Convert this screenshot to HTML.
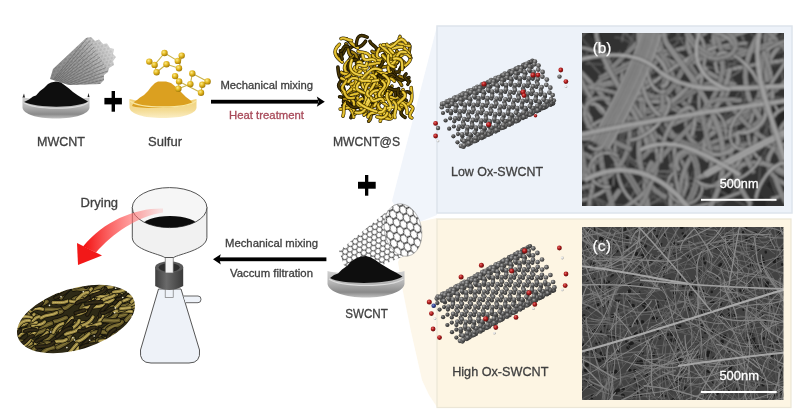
<!DOCTYPE html>
<html><head><meta charset="utf-8"><style>
html,body{margin:0;padding:0;background:#fff;width:800px;height:415px;overflow:hidden}
svg{display:block}
svg text{-webkit-font-smoothing:antialiased}
text{font-family:"Liberation Sans",sans-serif}
</style></head><body>
<svg width="800" height="415" viewBox="0 0 800 415">
<polygon points="437,26 437,215 419,222 400,214 392,201" fill="#f1f5fb"/>
<polygon points="419,222 437,218 437,407 429,395 422,380 410.7,330 402.7,290 398,262" fill="#fdf7ea"/>
<rect x="437" y="26" width="355" height="187" fill="#edf2f9" stroke="#dde4ec" stroke-width="1.5"/>
<rect x="437" y="219" width="354" height="188.5" fill="#fdf5e3" stroke="#ece6d6" stroke-width="1.2"/>
<defs><radialGradient id="gA" cx="0.38" cy="0.35" r="0.7"><stop offset="0" stop-color="#b0b0b0"/><stop offset="0.45" stop-color="#666"/><stop offset="1" stop-color="#2c2c2c"/></radialGradient>
<radialGradient id="gB" cx="0.38" cy="0.35" r="0.7"><stop offset="0" stop-color="#888"/><stop offset="0.45" stop-color="#4e4e4e"/><stop offset="1" stop-color="#262626"/></radialGradient>
<radialGradient id="gR" cx="0.38" cy="0.35" r="0.7"><stop offset="0" stop-color="#e87070"/><stop offset="0.45" stop-color="#b01c1c"/><stop offset="1" stop-color="#5a0a0a"/></radialGradient>
<radialGradient id="gW" cx="0.38" cy="0.35" r="0.7"><stop offset="0" stop-color="#ffffff"/><stop offset="0.5" stop-color="#dcdcdc"/><stop offset="1" stop-color="#909090"/></radialGradient>
<radialGradient id="gN" cx="0.38" cy="0.35" r="0.7"><stop offset="0" stop-color="#8090d0"/><stop offset="0.5" stop-color="#304090"/><stop offset="1" stop-color="#101840"/></radialGradient></defs>
<circle cx="536.8" cy="81.8" r="2.12" fill="url(#gB)"/>
<circle cx="536.4" cy="87.0" r="2.12" fill="url(#gB)"/>
<circle cx="540.8" cy="89.8" r="2.12" fill="url(#gB)"/>
<circle cx="532.8" cy="78.8" r="2.12" fill="url(#gB)"/>
<circle cx="531.8" cy="89.2" r="2.12" fill="url(#gB)"/>
<circle cx="527.6" cy="86.2" r="2.12" fill="url(#gB)"/>
<circle cx="528.2" cy="81.0" r="2.12" fill="url(#gB)"/>
<circle cx="533.6" cy="73.9" r="2.12" fill="url(#gB)"/>
<circle cx="540.6" cy="94.6" r="2.12" fill="url(#gB)"/>
<circle cx="531.6" cy="94.2" r="2.12" fill="url(#gB)"/>
<circle cx="523.0" cy="88.4" r="2.12" fill="url(#gB)"/>
<circle cx="522.6" cy="93.5" r="2.12" fill="url(#gB)"/>
<circle cx="536.0" cy="96.8" r="2.12" fill="url(#gB)"/>
<circle cx="527.0" cy="96.4" r="2.12" fill="url(#gB)"/>
<circle cx="545.0" cy="96.7" r="2.12" fill="url(#gB)"/>
<circle cx="519.0" cy="85.4" r="2.12" fill="url(#gB)"/>
<circle cx="518.1" cy="95.7" r="2.12" fill="url(#gB)"/>
<circle cx="524.4" cy="78.2" r="2.12" fill="url(#gB)"/>
<circle cx="513.8" cy="92.8" r="2.12" fill="url(#gB)"/>
<circle cx="530.2" cy="71.3" r="2.12" fill="url(#gB)"/>
<circle cx="514.4" cy="87.6" r="2.12" fill="url(#gB)"/>
<circle cx="519.8" cy="80.4" r="2.12" fill="url(#gB)"/>
<circle cx="526.8" cy="101.1" r="2.12" fill="url(#gB)"/>
<circle cx="517.8" cy="100.8" r="2.12" fill="url(#gB)"/>
<circle cx="509.3" cy="95.0" r="2.12" fill="url(#gB)"/>
<circle cx="535.8" cy="101.1" r="2.12" fill="url(#gB)"/>
<circle cx="525.6" cy="73.5" r="2.12" fill="url(#gB)"/>
<circle cx="508.9" cy="100.1" r="2.12" fill="url(#gB)"/>
<circle cx="522.2" cy="103.3" r="2.12" fill="url(#gB)"/>
<circle cx="513.2" cy="103.0" r="2.12" fill="url(#gB)"/>
<circle cx="531.2" cy="103.3" r="2.12" fill="url(#gB)"/>
<circle cx="544.7" cy="100.6" r="2.12" fill="url(#gB)"/>
<circle cx="505.2" cy="92.0" r="2.12" fill="url(#gB)"/>
<circle cx="504.3" cy="102.3" r="2.12" fill="url(#gB)"/>
<circle cx="510.7" cy="84.8" r="2.12" fill="url(#gB)"/>
<circle cx="531.7" cy="67.1" r="2.12" fill="url(#gB)"/>
<circle cx="500.1" cy="99.4" r="2.12" fill="url(#gB)"/>
<circle cx="516.4" cy="77.9" r="2.12" fill="url(#gB)"/>
<circle cx="540.1" cy="102.8" r="2.12" fill="url(#gB)"/>
<circle cx="500.7" cy="94.2" r="2.12" fill="url(#gB)"/>
<circle cx="506.1" cy="87.0" r="2.12" fill="url(#gB)"/>
<circle cx="513.0" cy="107.7" r="2.12" fill="url(#gB)"/>
<circle cx="504.1" cy="107.4" r="2.12" fill="url(#gB)"/>
<circle cx="495.5" cy="101.5" r="2.12" fill="url(#gB)"/>
<circle cx="522.0" cy="107.7" r="2.12" fill="url(#gB)"/>
<circle cx="511.8" cy="80.1" r="2.12" fill="url(#gB)"/>
<circle cx="495.1" cy="106.7" r="2.12" fill="url(#gB)"/>
<circle cx="508.5" cy="109.9" r="2.12" fill="url(#gB)"/>
<circle cx="522.5" cy="71.5" r="2.12" fill="url(#gB)"/>
<circle cx="499.5" cy="109.5" r="2.12" fill="url(#gB)"/>
<circle cx="548.8" cy="101.7" r="2.12" fill="url(#gB)"/>
<circle cx="517.4" cy="109.9" r="2.12" fill="url(#gB)"/>
<circle cx="530.9" cy="107.2" r="2.12" fill="url(#gB)"/>
<circle cx="491.5" cy="98.6" r="2.12" fill="url(#gB)"/>
<circle cx="490.5" cy="108.9" r="2.12" fill="url(#gB)"/>
<circle cx="496.9" cy="91.4" r="2.12" fill="url(#gB)"/>
<circle cx="517.9" cy="73.7" r="2.12" fill="url(#gB)"/>
<circle cx="486.3" cy="105.9" r="2.12" fill="url(#gB)"/>
<circle cx="502.6" cy="84.5" r="2.12" fill="url(#gB)"/>
<circle cx="526.3" cy="109.4" r="2.12" fill="url(#gB)"/>
<circle cx="486.9" cy="100.8" r="2.12" fill="url(#gB)"/>
<circle cx="529.0" cy="65.5" r="2.12" fill="url(#gB)"/>
<circle cx="492.3" cy="93.6" r="2.12" fill="url(#gB)"/>
<circle cx="499.3" cy="114.3" r="2.12" fill="url(#gB)"/>
<circle cx="490.3" cy="113.9" r="2.12" fill="url(#gB)"/>
<circle cx="539.7" cy="106.1" r="2.12" fill="url(#gB)"/>
<circle cx="481.7" cy="108.1" r="2.12" fill="url(#gB)"/>
<circle cx="508.3" cy="114.3" r="2.12" fill="url(#gB)"/>
<circle cx="498.0" cy="86.7" r="2.12" fill="url(#gB)"/>
<circle cx="524.4" cy="67.7" r="2.12" fill="url(#gB)"/>
<circle cx="481.4" cy="113.3" r="2.12" fill="url(#gB)"/>
<circle cx="494.7" cy="116.5" r="2.12" fill="url(#gB)"/>
<circle cx="508.7" cy="78.0" r="2.12" fill="url(#gB)"/>
<circle cx="485.7" cy="116.1" r="2.12" fill="url(#gB)"/>
<circle cx="535.1" cy="108.2" r="2.12" fill="url(#gB)"/>
<circle cx="503.7" cy="116.5" r="2.12" fill="url(#gB)"/>
<circle cx="517.2" cy="113.8" r="2.12" fill="url(#gB)"/>
<circle cx="477.7" cy="105.2" r="2.12" fill="url(#gB)"/>
<circle cx="476.8" cy="115.5" r="2.12" fill="url(#gB)"/>
<circle cx="483.1" cy="98.0" r="2.12" fill="url(#gB)"/>
<circle cx="504.1" cy="80.2" r="2.12" fill="url(#gB)"/>
<circle cx="472.5" cy="112.5" r="2.12" fill="url(#gB)"/>
<circle cx="548.2" cy="104.2" r="2.12" fill="url(#gB)"/>
<circle cx="488.9" cy="91.1" r="2.12" fill="url(#gB)"/>
<circle cx="512.6" cy="116.0" r="2.12" fill="url(#gB)"/>
<circle cx="473.1" cy="107.4" r="2.12" fill="url(#gB)"/>
<circle cx="515.2" cy="72.1" r="2.12" fill="url(#gB)"/>
<circle cx="478.5" cy="100.2" r="2.12" fill="url(#gB)"/>
<circle cx="485.5" cy="120.9" r="2.12" fill="url(#gB)"/>
<circle cx="476.5" cy="120.5" r="2.12" fill="url(#gB)"/>
<circle cx="531.2" cy="62.4" r="2.12" fill="url(#gB)"/>
<circle cx="525.9" cy="112.6" r="2.12" fill="url(#gB)"/>
<circle cx="468.0" cy="114.7" r="2.12" fill="url(#gB)"/>
<circle cx="494.5" cy="120.9" r="2.12" fill="url(#gB)"/>
<circle cx="543.6" cy="106.4" r="2.12" fill="url(#gB)"/>
<circle cx="484.3" cy="93.3" r="2.12" fill="url(#gB)"/>
<circle cx="510.6" cy="74.3" r="2.12" fill="url(#gB)"/>
<circle cx="467.6" cy="119.9" r="2.12" fill="url(#gB)"/>
<circle cx="480.9" cy="123.1" r="2.12" fill="url(#gB)"/>
<circle cx="495.0" cy="84.6" r="2.12" fill="url(#gB)"/>
<circle cx="471.9" cy="122.7" r="2.12" fill="url(#gB)"/>
<circle cx="521.3" cy="114.8" r="2.12" fill="url(#gB)"/>
<circle cx="489.9" cy="123.1" r="2.12" fill="url(#gB)"/>
<circle cx="503.4" cy="120.4" r="2.12" fill="url(#gB)"/>
<circle cx="463.9" cy="111.8" r="2.12" fill="url(#gB)"/>
<circle cx="463.0" cy="122.1" r="2.12" fill="url(#gB)"/>
<circle cx="469.4" cy="104.6" r="2.12" fill="url(#gB)"/>
<circle cx="490.4" cy="86.8" r="2.12" fill="url(#gB)"/>
<circle cx="522.0" cy="66.8" r="2.12" fill="url(#gB)"/>
<circle cx="458.8" cy="119.1" r="2.12" fill="url(#gB)"/>
<circle cx="534.4" cy="110.8" r="2.12" fill="url(#gB)"/>
<circle cx="475.1" cy="97.7" r="2.12" fill="url(#gB)"/>
<circle cx="498.8" cy="122.6" r="2.12" fill="url(#gB)"/>
<circle cx="459.4" cy="114.0" r="2.12" fill="url(#gB)"/>
<circle cx="501.4" cy="78.7" r="2.12" fill="url(#gB)"/>
<circle cx="464.8" cy="106.8" r="2.12" fill="url(#gB)"/>
<circle cx="471.7" cy="127.5" r="2.12" fill="url(#gB)"/>
<circle cx="551.8" cy="103.9" r="2.12" fill="url(#gB)"/>
<circle cx="462.8" cy="127.1" r="2.12" fill="url(#gB)"/>
<circle cx="517.5" cy="69.0" r="2.12" fill="url(#gB)"/>
<circle cx="512.1" cy="119.2" r="2.12" fill="url(#gB)"/>
<circle cx="454.2" cy="121.3" r="2.12" fill="url(#gB)"/>
<circle cx="480.7" cy="127.5" r="2.12" fill="url(#gB)"/>
<circle cx="529.8" cy="113.0" r="2.12" fill="url(#gB)"/>
<circle cx="470.5" cy="99.9" r="2.12" fill="url(#gB)"/>
<circle cx="496.8" cy="80.9" r="2.12" fill="url(#gB)"/>
<circle cx="453.8" cy="126.5" r="2.12" fill="url(#gB)"/>
<circle cx="467.2" cy="129.7" r="2.12" fill="url(#gB)"/>
<circle cx="481.2" cy="91.2" r="2.12" fill="url(#gB)"/>
<circle cx="458.2" cy="129.3" r="2.12" fill="url(#gB)"/>
<circle cx="507.5" cy="121.4" r="2.12" fill="url(#gB)"/>
<circle cx="529.3" cy="62.2" r="2.12" fill="url(#gB)"/>
<circle cx="476.1" cy="129.7" r="2.12" fill="url(#gB)"/>
<circle cx="489.6" cy="126.9" r="2.12" fill="url(#gB)"/>
<circle cx="450.2" cy="118.3" r="2.12" fill="url(#gB)"/>
<circle cx="449.2" cy="128.7" r="2.12" fill="url(#gB)"/>
<circle cx="455.6" cy="111.2" r="2.12" fill="url(#gB)"/>
<circle cx="542.6" cy="108.3" r="2.12" fill="url(#gB)"/>
<circle cx="476.6" cy="93.4" r="2.12" fill="url(#gB)"/>
<circle cx="508.3" cy="73.4" r="2.12" fill="url(#gB)"/>
<circle cx="524.7" cy="64.4" r="2.12" fill="url(#gB)"/>
<circle cx="520.6" cy="117.4" r="2.12" fill="url(#gB)"/>
<circle cx="461.3" cy="104.3" r="2.12" fill="url(#gB)"/>
<circle cx="485.0" cy="129.1" r="2.12" fill="url(#gB)"/>
<circle cx="445.6" cy="120.5" r="2.12" fill="url(#gB)"/>
<circle cx="487.7" cy="85.3" r="2.12" fill="url(#gB)"/>
<circle cx="451.0" cy="113.4" r="2.12" fill="url(#gB)"/>
<circle cx="458.0" cy="134.1" r="2.12" fill="url(#gB)"/>
<circle cx="538.0" cy="110.5" r="2.12" fill="url(#gB)"/>
<circle cx="503.7" cy="75.6" r="2.12" fill="url(#gB)"/>
<circle cx="498.4" cy="125.8" r="2.12" fill="url(#gB)"/>
<circle cx="467.0" cy="134.1" r="2.12" fill="url(#gB)"/>
<circle cx="516.0" cy="119.6" r="2.12" fill="url(#gB)"/>
<circle cx="456.7" cy="106.5" r="2.12" fill="url(#gB)"/>
<circle cx="483.1" cy="87.5" r="2.12" fill="url(#gB)"/>
<circle cx="453.4" cy="136.3" r="2.12" fill="url(#gB)"/>
<circle cx="467.4" cy="97.8" r="2.12" fill="url(#gB)"/>
<circle cx="493.8" cy="128.0" r="2.12" fill="url(#gB)"/>
<circle cx="515.5" cy="68.7" r="2.12" fill="url(#gB)"/>
<circle cx="462.4" cy="136.2" r="2.12" fill="url(#gB)"/>
<circle cx="550.5" cy="105.0" r="2.12" fill="url(#gB)"/>
<circle cx="475.9" cy="133.5" r="2.12" fill="url(#gB)"/>
<circle cx="528.9" cy="114.9" r="2.12" fill="url(#gB)"/>
<circle cx="462.8" cy="100.0" r="2.12" fill="url(#gB)"/>
<circle cx="494.5" cy="80.0" r="2.12" fill="url(#gB)"/>
<circle cx="532.4" cy="60.5" r="2.12" fill="url(#gB)"/>
<circle cx="510.9" cy="70.9" r="2.12" fill="url(#gB)"/>
<circle cx="545.9" cy="107.1" r="2.12" fill="url(#gB)"/>
<circle cx="506.9" cy="124.0" r="2.12" fill="url(#gB)"/>
<circle cx="447.6" cy="110.8" r="2.12" fill="url(#gB)"/>
<circle cx="471.3" cy="135.7" r="2.12" fill="url(#gB)"/>
<circle cx="473.9" cy="91.9" r="2.12" fill="url(#gB)"/>
<circle cx="524.3" cy="117.0" r="2.12" fill="url(#gB)"/>
<circle cx="553.2" cy="103.6" r="2.12" fill="url(#gB)"/>
<circle cx="489.9" cy="82.1" r="2.12" fill="url(#gB)"/>
<circle cx="484.6" cy="132.4" r="2.12" fill="url(#gB)"/>
<circle cx="502.3" cy="126.2" r="2.12" fill="url(#gB)"/>
<circle cx="443.0" cy="113.0" r="2.12" fill="url(#gB)"/>
<circle cx="469.3" cy="94.0" r="2.12" fill="url(#gB)"/>
<circle cx="453.7" cy="104.4" r="2.12" fill="url(#gB)"/>
<circle cx="523.2" cy="64.9" r="2.12" fill="url(#gB)"/>
<circle cx="480.0" cy="134.6" r="2.12" fill="url(#gB)"/>
<circle cx="501.8" cy="75.3" r="2.12" fill="url(#gB)"/>
<circle cx="536.8" cy="111.5" r="2.12" fill="url(#gB)"/>
<circle cx="462.1" cy="140.1" r="2.12" fill="url(#gB)"/>
<circle cx="515.1" cy="121.4" r="2.12" fill="url(#gB)"/>
<circle cx="449.1" cy="106.6" r="2.12" fill="url(#gB)"/>
<circle cx="544.0" cy="108.0" r="2.12" fill="url(#gB)"/>
<circle cx="480.8" cy="86.5" r="2.12" fill="url(#gB)"/>
<circle cx="518.6" cy="67.1" r="2.12" fill="url(#gB)"/>
<circle cx="497.2" cy="77.5" r="2.12" fill="url(#gB)"/>
<circle cx="532.2" cy="113.7" r="2.12" fill="url(#gB)"/>
<circle cx="493.1" cy="130.6" r="2.12" fill="url(#gB)"/>
<circle cx="457.5" cy="142.3" r="2.12" fill="url(#gB)"/>
<circle cx="460.1" cy="98.4" r="2.12" fill="url(#gB)"/>
<circle cx="510.5" cy="123.6" r="2.12" fill="url(#gB)"/>
<circle cx="539.4" cy="110.2" r="2.12" fill="url(#gB)"/>
<circle cx="476.2" cy="88.7" r="2.12" fill="url(#gB)"/>
<circle cx="470.8" cy="139.0" r="2.12" fill="url(#gB)"/>
<circle cx="488.5" cy="132.8" r="2.12" fill="url(#gB)"/>
<circle cx="531.2" cy="61.7" r="2.12" fill="url(#gB)"/>
<circle cx="455.5" cy="100.6" r="2.12" fill="url(#gB)"/>
<circle cx="509.4" cy="71.4" r="2.12" fill="url(#gB)"/>
<circle cx="466.2" cy="141.2" r="2.12" fill="url(#gB)"/>
<circle cx="551.4" cy="103.5" r="2.12" fill="url(#gB)"/>
<circle cx="488.0" cy="81.9" r="2.12" fill="url(#gB)"/>
<circle cx="523.0" cy="118.1" r="2.12" fill="url(#gB)"/>
<circle cx="526.6" cy="63.9" r="2.35" fill="url(#gA)"/>
<circle cx="501.3" cy="128.0" r="2.35" fill="url(#gA)"/>
<circle cx="530.3" cy="114.5" r="2.35" fill="url(#gA)"/>
<circle cx="467.0" cy="93.1" r="2.35" fill="url(#gA)"/>
<circle cx="504.8" cy="73.6" r="2.35" fill="url(#gA)"/>
<circle cx="546.8" cy="105.7" r="2.35" fill="url(#gA)"/>
<circle cx="483.4" cy="84.1" r="2.35" fill="url(#gA)"/>
<circle cx="518.4" cy="120.3" r="2.35" fill="url(#gA)"/>
<circle cx="479.3" cy="137.2" r="2.35" fill="url(#gA)"/>
<circle cx="446.4" cy="105.0" r="2.35" fill="url(#gA)"/>
<circle cx="496.7" cy="130.2" r="2.35" fill="url(#gA)"/>
<circle cx="525.7" cy="116.7" r="2.35" fill="url(#gA)"/>
<circle cx="462.4" cy="95.3" r="2.35" fill="url(#gA)"/>
<circle cx="474.8" cy="139.3" r="2.35" fill="url(#gA)"/>
<circle cx="517.4" cy="68.3" r="2.35" fill="url(#gA)"/>
<circle cx="441.8" cy="107.2" r="2.35" fill="url(#gA)"/>
<circle cx="534.9" cy="61.6" r="2.35" fill="url(#gA)"/>
<circle cx="495.6" cy="78.0" r="2.35" fill="url(#gA)"/>
<circle cx="537.6" cy="110.1" r="2.35" fill="url(#gA)"/>
<circle cx="474.2" cy="88.5" r="2.35" fill="url(#gA)"/>
<circle cx="509.2" cy="124.7" r="2.35" fill="url(#gA)"/>
<circle cx="512.8" cy="70.5" r="2.35" fill="url(#gA)"/>
<circle cx="553.8" cy="100.6" r="2.35" fill="url(#gA)"/>
<circle cx="487.6" cy="134.6" r="2.35" fill="url(#gA)"/>
<circle cx="516.5" cy="121.1" r="2.35" fill="url(#gA)"/>
<circle cx="453.2" cy="99.7" r="2.35" fill="url(#gA)"/>
<circle cx="491.1" cy="80.2" r="2.35" fill="url(#gA)"/>
<circle cx="533.0" cy="112.3" r="2.35" fill="url(#gA)"/>
<circle cx="469.7" cy="90.7" r="2.35" fill="url(#gA)"/>
<circle cx="504.7" cy="126.9" r="2.35" fill="url(#gA)"/>
<circle cx="465.6" cy="143.7" r="2.35" fill="url(#gA)"/>
<circle cx="525.7" cy="66.0" r="2.35" fill="url(#gA)"/>
<circle cx="483.0" cy="136.8" r="2.35" fill="url(#gA)"/>
<circle cx="511.9" cy="123.3" r="2.35" fill="url(#gA)"/>
<circle cx="448.6" cy="101.9" r="2.35" fill="url(#gA)"/>
<circle cx="461.0" cy="145.9" r="2.35" fill="url(#gA)"/>
<circle cx="503.6" cy="74.9" r="2.35" fill="url(#gA)"/>
<circle cx="544.6" cy="105.0" r="2.35" fill="url(#gA)"/>
<circle cx="521.1" cy="68.2" r="2.35" fill="url(#gA)"/>
<circle cx="481.9" cy="84.6" r="2.35" fill="url(#gA)"/>
<circle cx="523.8" cy="116.7" r="2.35" fill="url(#gA)"/>
<circle cx="460.5" cy="95.1" r="2.35" fill="url(#gA)"/>
<circle cx="495.5" cy="131.3" r="2.35" fill="url(#gA)"/>
<circle cx="499.0" cy="77.1" r="2.35" fill="url(#gA)"/>
<circle cx="540.0" cy="107.2" r="2.35" fill="url(#gA)"/>
<circle cx="473.8" cy="141.2" r="2.35" fill="url(#gA)"/>
<circle cx="534.3" cy="64.3" r="2.35" fill="url(#gA)"/>
<circle cx="502.7" cy="127.7" r="2.35" fill="url(#gA)"/>
<circle cx="477.3" cy="86.8" r="2.35" fill="url(#gA)"/>
<circle cx="519.3" cy="118.9" r="2.35" fill="url(#gA)"/>
<circle cx="455.9" cy="97.3" r="2.35" fill="url(#gA)"/>
<circle cx="490.9" cy="133.5" r="2.35" fill="url(#gA)"/>
<circle cx="551.1" cy="99.2" r="2.35" fill="url(#gA)"/>
<circle cx="511.9" cy="72.6" r="2.35" fill="url(#gA)"/>
<circle cx="469.2" cy="143.4" r="2.35" fill="url(#gA)"/>
<circle cx="529.7" cy="66.5" r="2.35" fill="url(#gA)"/>
<circle cx="498.1" cy="129.9" r="2.35" fill="url(#gA)"/>
<circle cx="489.9" cy="81.5" r="2.35" fill="url(#gA)"/>
<circle cx="546.6" cy="101.4" r="2.35" fill="url(#gA)"/>
<circle cx="530.8" cy="111.5" r="2.35" fill="url(#gA)"/>
<circle cx="507.4" cy="74.8" r="2.35" fill="url(#gA)"/>
<circle cx="468.1" cy="91.2" r="2.35" fill="url(#gA)"/>
<circle cx="510.1" cy="123.3" r="2.35" fill="url(#gA)"/>
<circle cx="446.7" cy="101.7" r="2.35" fill="url(#gA)"/>
<circle cx="481.7" cy="137.9" r="2.35" fill="url(#gA)"/>
<circle cx="538.5" cy="65.6" r="2.35" fill="url(#gA)"/>
<circle cx="485.3" cy="83.7" r="2.35" fill="url(#gA)"/>
<circle cx="526.2" cy="113.7" r="2.35" fill="url(#gA)"/>
<circle cx="520.5" cy="70.9" r="2.35" fill="url(#gA)"/>
<circle cx="489.0" cy="134.3" r="2.35" fill="url(#gA)"/>
<circle cx="463.5" cy="93.4" r="2.35" fill="url(#gA)"/>
<circle cx="552.7" cy="95.0" r="2.35" fill="url(#gA)"/>
<circle cx="505.5" cy="125.5" r="2.35" fill="url(#gA)"/>
<circle cx="442.1" cy="103.9" r="2.35" fill="url(#gA)"/>
<circle cx="477.1" cy="140.1" r="2.35" fill="url(#gA)"/>
<circle cx="537.4" cy="105.8" r="2.35" fill="url(#gA)"/>
<circle cx="498.2" cy="79.1" r="2.35" fill="url(#gA)"/>
<circle cx="515.9" cy="73.1" r="2.35" fill="url(#gA)"/>
<circle cx="484.4" cy="136.5" r="2.35" fill="url(#gA)"/>
<circle cx="529.3" cy="70.0" r="2.35" fill="url(#gA)"/>
<circle cx="476.1" cy="88.1" r="2.35" fill="url(#gA)"/>
<circle cx="532.8" cy="108.0" r="2.35" fill="url(#gA)"/>
<circle cx="517.0" cy="118.1" r="2.35" fill="url(#gA)"/>
<circle cx="493.6" cy="81.3" r="2.35" fill="url(#gA)"/>
<circle cx="454.3" cy="97.8" r="2.35" fill="url(#gA)"/>
<circle cx="543.6" cy="99.4" r="2.35" fill="url(#gA)"/>
<circle cx="496.3" cy="129.9" r="2.35" fill="url(#gA)"/>
<circle cx="467.9" cy="144.5" r="2.35" fill="url(#gA)"/>
<circle cx="524.7" cy="72.1" r="2.35" fill="url(#gA)"/>
<circle cx="471.5" cy="90.3" r="2.35" fill="url(#gA)"/>
<circle cx="538.2" cy="69.6" r="2.35" fill="url(#gA)"/>
<circle cx="512.5" cy="120.3" r="2.35" fill="url(#gA)"/>
<circle cx="506.8" cy="77.5" r="2.35" fill="url(#gA)"/>
<circle cx="475.2" cy="140.9" r="2.35" fill="url(#gA)"/>
<circle cx="449.8" cy="100.0" r="2.35" fill="url(#gA)"/>
<circle cx="549.4" cy="92.6" r="2.35" fill="url(#gA)"/>
<circle cx="539.0" cy="101.6" r="2.35" fill="url(#gA)"/>
<circle cx="491.7" cy="132.1" r="2.35" fill="url(#gA)"/>
<circle cx="463.4" cy="146.7" r="2.35" fill="url(#gA)"/>
<circle cx="533.6" cy="71.8" r="2.35" fill="url(#gA)"/>
<circle cx="523.6" cy="112.3" r="2.35" fill="url(#gA)"/>
<circle cx="484.4" cy="85.7" r="2.35" fill="url(#gA)"/>
<circle cx="502.2" cy="79.7" r="2.35" fill="url(#gA)"/>
<circle cx="470.6" cy="143.1" r="2.35" fill="url(#gA)"/>
<circle cx="542.6" cy="71.9" r="2.35" fill="url(#gA)"/>
<circle cx="544.8" cy="94.8" r="2.35" fill="url(#gA)"/>
<circle cx="550.3" cy="87.7" r="2.35" fill="url(#gA)"/>
<circle cx="515.5" cy="76.5" r="2.35" fill="url(#gA)"/>
<circle cx="462.3" cy="94.7" r="2.35" fill="url(#gA)"/>
<circle cx="519.0" cy="114.5" r="2.35" fill="url(#gA)"/>
<circle cx="503.3" cy="124.7" r="2.35" fill="url(#gA)"/>
<circle cx="479.8" cy="87.9" r="2.35" fill="url(#gA)"/>
<circle cx="529.8" cy="106.0" r="2.35" fill="url(#gA)"/>
<circle cx="482.5" cy="136.4" r="2.35" fill="url(#gA)"/>
<circle cx="510.9" cy="78.7" r="2.35" fill="url(#gA)"/>
<circle cx="457.7" cy="96.9" r="2.35" fill="url(#gA)"/>
<circle cx="524.5" cy="76.1" r="2.35" fill="url(#gA)"/>
<circle cx="546.8" cy="79.6" r="2.35" fill="url(#gA)"/>
<circle cx="542.4" cy="76.7" r="2.35" fill="url(#gA)"/>
<circle cx="498.7" cy="126.9" r="2.35" fill="url(#gA)"/>
<circle cx="546.3" cy="84.8" r="2.35" fill="url(#gA)"/>
<circle cx="493.0" cy="84.1" r="2.35" fill="url(#gA)"/>
<circle cx="533.5" cy="76.2" r="2.35" fill="url(#gA)"/>
<circle cx="535.6" cy="99.2" r="2.35" fill="url(#gA)"/>
<circle cx="525.2" cy="108.2" r="2.35" fill="url(#gA)"/>
<circle cx="541.1" cy="92.1" r="2.35" fill="url(#gA)"/>
<circle cx="478.0" cy="138.6" r="2.35" fill="url(#gA)"/>
<circle cx="519.9" cy="78.3" r="2.35" fill="url(#gA)"/>
<circle cx="509.8" cy="118.9" r="2.35" fill="url(#gA)"/>
<circle cx="537.8" cy="78.9" r="2.35" fill="url(#gA)"/>
<circle cx="541.7" cy="87.0" r="2.35" fill="url(#gA)"/>
<circle cx="470.6" cy="92.3" r="2.35" fill="url(#gA)"/>
<circle cx="488.4" cy="86.3" r="2.35" fill="url(#gA)"/>
<circle cx="528.9" cy="78.4" r="2.35" fill="url(#gA)"/>
<circle cx="531.0" cy="101.4" r="2.35" fill="url(#gA)"/>
<circle cx="536.5" cy="94.3" r="2.35" fill="url(#gA)"/>
<circle cx="501.8" cy="83.1" r="2.35" fill="url(#gA)"/>
<circle cx="448.6" cy="101.3" r="2.35" fill="url(#gA)"/>
<circle cx="537.6" cy="84.0" r="2.35" fill="url(#gA)"/>
<circle cx="505.3" cy="121.1" r="2.35" fill="url(#gA)"/>
<circle cx="489.5" cy="131.3" r="2.35" fill="url(#gA)"/>
<circle cx="466.1" cy="94.5" r="2.35" fill="url(#gA)"/>
<circle cx="516.0" cy="112.6" r="2.35" fill="url(#gA)"/>
<circle cx="468.8" cy="143.0" r="2.35" fill="url(#gA)"/>
<circle cx="497.2" cy="85.3" r="2.35" fill="url(#gA)"/>
<circle cx="444.0" cy="103.4" r="2.35" fill="url(#gA)"/>
<circle cx="510.7" cy="82.7" r="2.35" fill="url(#gA)"/>
<circle cx="533.0" cy="86.2" r="2.35" fill="url(#gA)"/>
<circle cx="528.7" cy="83.3" r="2.35" fill="url(#gA)"/>
<circle cx="484.9" cy="133.5" r="2.35" fill="url(#gA)"/>
<circle cx="532.6" cy="91.3" r="2.35" fill="url(#gA)"/>
<circle cx="479.2" cy="90.7" r="2.35" fill="url(#gA)"/>
<circle cx="519.7" cy="82.8" r="2.35" fill="url(#gA)"/>
<circle cx="521.8" cy="105.8" r="2.35" fill="url(#gA)"/>
<circle cx="511.4" cy="114.8" r="2.35" fill="url(#gA)"/>
<circle cx="527.3" cy="98.7" r="2.35" fill="url(#gA)"/>
<circle cx="464.2" cy="145.2" r="2.35" fill="url(#gA)"/>
<circle cx="506.1" cy="84.9" r="2.35" fill="url(#gA)"/>
<circle cx="496.1" cy="125.5" r="2.35" fill="url(#gA)"/>
<circle cx="524.1" cy="85.5" r="2.35" fill="url(#gA)"/>
<circle cx="528.0" cy="93.5" r="2.35" fill="url(#gA)"/>
<circle cx="456.9" cy="98.9" r="2.35" fill="url(#gA)"/>
<circle cx="474.6" cy="92.9" r="2.35" fill="url(#gA)"/>
<circle cx="515.1" cy="85.0" r="2.35" fill="url(#gA)"/>
<circle cx="517.3" cy="108.0" r="2.35" fill="url(#gA)"/>
<circle cx="522.8" cy="100.9" r="2.35" fill="url(#gA)"/>
<circle cx="488.0" cy="89.7" r="2.35" fill="url(#gA)"/>
<circle cx="523.8" cy="90.6" r="2.35" fill="url(#gA)"/>
<circle cx="491.5" cy="127.7" r="2.35" fill="url(#gA)"/>
<circle cx="475.7" cy="137.9" r="2.35" fill="url(#gA)"/>
<circle cx="452.3" cy="101.1" r="2.35" fill="url(#gA)"/>
<circle cx="502.3" cy="119.2" r="2.35" fill="url(#gA)"/>
<circle cx="483.4" cy="91.9" r="2.35" fill="url(#gA)"/>
<circle cx="496.9" cy="89.3" r="2.35" fill="url(#gA)"/>
<circle cx="519.2" cy="92.8" r="2.35" fill="url(#gA)"/>
<circle cx="514.9" cy="89.9" r="2.35" fill="url(#gA)"/>
<circle cx="471.2" cy="140.1" r="2.35" fill="url(#gA)"/>
<circle cx="518.8" cy="97.9" r="2.35" fill="url(#gA)"/>
<circle cx="465.5" cy="97.3" r="2.35" fill="url(#gA)"/>
<circle cx="505.9" cy="89.4" r="2.35" fill="url(#gA)"/>
<circle cx="508.1" cy="112.4" r="2.35" fill="url(#gA)"/>
<circle cx="497.7" cy="121.4" r="2.35" fill="url(#gA)"/>
<circle cx="513.6" cy="105.2" r="2.35" fill="url(#gA)"/>
<circle cx="492.3" cy="91.5" r="2.35" fill="url(#gA)"/>
<circle cx="482.3" cy="132.1" r="2.35" fill="url(#gA)"/>
<circle cx="510.3" cy="92.1" r="2.35" fill="url(#gA)"/>
<circle cx="514.2" cy="100.1" r="2.35" fill="url(#gA)"/>
<circle cx="460.9" cy="99.4" r="2.35" fill="url(#gA)"/>
<circle cx="501.3" cy="91.6" r="2.35" fill="url(#gA)"/>
<circle cx="503.5" cy="114.6" r="2.35" fill="url(#gA)"/>
<circle cx="509.0" cy="107.4" r="2.35" fill="url(#gA)"/>
<circle cx="474.2" cy="96.3" r="2.35" fill="url(#gA)"/>
<circle cx="510.0" cy="97.1" r="2.35" fill="url(#gA)"/>
<circle cx="477.7" cy="134.3" r="2.35" fill="url(#gA)"/>
<circle cx="488.5" cy="125.7" r="2.35" fill="url(#gA)"/>
<circle cx="469.7" cy="98.5" r="2.35" fill="url(#gA)"/>
<circle cx="483.2" cy="95.9" r="2.35" fill="url(#gA)"/>
<circle cx="505.5" cy="99.3" r="2.35" fill="url(#gA)"/>
<circle cx="501.1" cy="96.5" r="2.35" fill="url(#gA)"/>
<circle cx="505.0" cy="104.5" r="2.35" fill="url(#gA)"/>
<circle cx="451.7" cy="103.8" r="2.35" fill="url(#gA)"/>
<circle cx="492.2" cy="96.0" r="2.35" fill="url(#gA)"/>
<circle cx="494.3" cy="119.0" r="2.35" fill="url(#gA)"/>
<circle cx="483.9" cy="127.9" r="2.35" fill="url(#gA)"/>
<circle cx="499.8" cy="111.8" r="2.35" fill="url(#gA)"/>
<circle cx="478.6" cy="98.1" r="2.35" fill="url(#gA)"/>
<circle cx="468.5" cy="138.7" r="2.35" fill="url(#gA)"/>
<circle cx="496.6" cy="98.6" r="2.35" fill="url(#gA)"/>
<circle cx="500.5" cy="106.7" r="2.35" fill="url(#gA)"/>
<circle cx="447.1" cy="106.0" r="2.35" fill="url(#gA)"/>
<circle cx="487.6" cy="98.2" r="2.35" fill="url(#gA)"/>
<circle cx="489.7" cy="121.1" r="2.35" fill="url(#gA)"/>
<circle cx="495.2" cy="114.0" r="2.35" fill="url(#gA)"/>
<circle cx="460.5" cy="102.9" r="2.35" fill="url(#gA)"/>
<circle cx="496.3" cy="103.7" r="2.35" fill="url(#gA)"/>
<circle cx="464.0" cy="140.9" r="2.35" fill="url(#gA)"/>
<circle cx="474.7" cy="132.3" r="2.35" fill="url(#gA)"/>
<circle cx="455.9" cy="105.1" r="2.35" fill="url(#gA)"/>
<circle cx="469.4" cy="102.5" r="2.35" fill="url(#gA)"/>
<circle cx="491.7" cy="105.9" r="2.35" fill="url(#gA)"/>
<circle cx="487.4" cy="103.0" r="2.35" fill="url(#gA)"/>
<circle cx="491.3" cy="111.1" r="2.35" fill="url(#gA)"/>
<circle cx="478.4" cy="102.6" r="2.35" fill="url(#gA)"/>
<circle cx="480.5" cy="125.5" r="2.35" fill="url(#gA)"/>
<circle cx="470.1" cy="134.5" r="2.35" fill="url(#gA)"/>
<circle cx="486.0" cy="118.4" r="2.35" fill="url(#gA)"/>
<circle cx="464.8" cy="104.7" r="2.35" fill="url(#gA)"/>
<circle cx="482.8" cy="105.2" r="2.35" fill="url(#gA)"/>
<circle cx="486.7" cy="113.3" r="2.35" fill="url(#gA)"/>
<circle cx="473.8" cy="104.8" r="2.35" fill="url(#gA)"/>
<circle cx="476.0" cy="127.7" r="2.35" fill="url(#gA)"/>
<circle cx="481.5" cy="120.6" r="2.35" fill="url(#gA)"/>
<circle cx="482.5" cy="110.3" r="2.35" fill="url(#gA)"/>
<circle cx="455.6" cy="109.1" r="2.35" fill="url(#gA)"/>
<circle cx="477.9" cy="112.5" r="2.35" fill="url(#gA)"/>
<circle cx="473.6" cy="109.6" r="2.35" fill="url(#gA)"/>
<circle cx="477.5" cy="117.7" r="2.35" fill="url(#gA)"/>
<circle cx="464.6" cy="109.2" r="2.35" fill="url(#gA)"/>
<circle cx="466.8" cy="132.1" r="2.35" fill="url(#gA)"/>
<circle cx="472.3" cy="125.0" r="2.35" fill="url(#gA)"/>
<circle cx="451.0" cy="111.3" r="2.35" fill="url(#gA)"/>
<circle cx="469.0" cy="111.8" r="2.35" fill="url(#gA)"/>
<circle cx="472.9" cy="119.9" r="2.35" fill="url(#gA)"/>
<circle cx="460.0" cy="111.4" r="2.35" fill="url(#gA)"/>
<circle cx="462.2" cy="134.3" r="2.35" fill="url(#gA)"/>
<circle cx="467.7" cy="127.2" r="2.35" fill="url(#gA)"/>
<circle cx="468.8" cy="116.9" r="2.35" fill="url(#gA)"/>
<circle cx="464.2" cy="119.1" r="2.35" fill="url(#gA)"/>
<circle cx="459.8" cy="116.2" r="2.35" fill="url(#gA)"/>
<circle cx="463.7" cy="124.3" r="2.35" fill="url(#gA)"/>
<circle cx="455.3" cy="118.4" r="2.35" fill="url(#gA)"/>
<circle cx="459.2" cy="126.5" r="2.35" fill="url(#gA)"/>
<circle cx="438" cy="128" r="2.2" fill="url(#gA)"/>
<circle cx="435.6" cy="123.4" r="2.4" fill="url(#gR)"/>
<circle cx="435.6" cy="136" r="2.4" fill="url(#gR)"/>
<circle cx="438" cy="141" r="1.3" fill="url(#gW)"/>
<circle cx="484" cy="84" r="2.6" fill="url(#gR)"/>
<circle cx="533" cy="75" r="2.6" fill="url(#gR)"/>
<circle cx="538" cy="75" r="2.4" fill="url(#gR)"/>
<circle cx="523" cy="92" r="2.6" fill="url(#gR)"/>
<circle cx="524" cy="95.5" r="2.4" fill="url(#gR)"/>
<circle cx="488.7" cy="124.6" r="2.6" fill="url(#gR)"/>
<circle cx="535.5" cy="115.8" r="1.8" fill="url(#gR)"/>
<circle cx="559.5" cy="76.6" r="2.2" fill="url(#gA)"/>
<circle cx="560.8" cy="70" r="2.4" fill="url(#gR)"/>
<circle cx="565.9" cy="81.6" r="2.4" fill="url(#gR)"/>
<circle cx="566" cy="86.7" r="1.3" fill="url(#gW)"/>
<circle cx="536.4" cy="270.6" r="2.12" fill="url(#gB)"/>
<circle cx="531.9" cy="273.1" r="2.12" fill="url(#gB)"/>
<circle cx="540.9" cy="278.2" r="2.12" fill="url(#gB)"/>
<circle cx="532.4" cy="262.8" r="2.12" fill="url(#gB)"/>
<circle cx="531.9" cy="278.2" r="2.12" fill="url(#gB)"/>
<circle cx="527.6" cy="270.4" r="2.12" fill="url(#gB)"/>
<circle cx="536.4" cy="280.7" r="2.12" fill="url(#gB)"/>
<circle cx="528.0" cy="265.2" r="2.12" fill="url(#gB)"/>
<circle cx="527.5" cy="280.7" r="2.12" fill="url(#gB)"/>
<circle cx="523.1" cy="272.8" r="2.12" fill="url(#gB)"/>
<circle cx="523.0" cy="278.0" r="2.12" fill="url(#gB)"/>
<circle cx="518.6" cy="280.5" r="2.12" fill="url(#gB)"/>
<circle cx="527.5" cy="285.6" r="2.12" fill="url(#gB)"/>
<circle cx="536.5" cy="285.3" r="2.12" fill="url(#gB)"/>
<circle cx="519.1" cy="270.2" r="2.12" fill="url(#gB)"/>
<circle cx="518.6" cy="285.6" r="2.12" fill="url(#gB)"/>
<circle cx="524.1" cy="262.7" r="2.12" fill="url(#gB)"/>
<circle cx="514.2" cy="277.8" r="2.12" fill="url(#gB)"/>
<circle cx="545.5" cy="284.6" r="2.12" fill="url(#gB)"/>
<circle cx="523.1" cy="288.1" r="2.12" fill="url(#gB)"/>
<circle cx="532.1" cy="287.8" r="2.12" fill="url(#gB)"/>
<circle cx="514.6" cy="272.6" r="2.12" fill="url(#gB)"/>
<circle cx="514.1" cy="288.1" r="2.12" fill="url(#gB)"/>
<circle cx="529.6" cy="255.6" r="2.12" fill="url(#gB)"/>
<circle cx="519.7" cy="265.2" r="2.12" fill="url(#gB)"/>
<circle cx="509.8" cy="280.2" r="2.12" fill="url(#gB)"/>
<circle cx="509.7" cy="285.4" r="2.12" fill="url(#gB)"/>
<circle cx="541.0" cy="287.1" r="2.12" fill="url(#gB)"/>
<circle cx="525.1" cy="258.1" r="2.12" fill="url(#gB)"/>
<circle cx="505.2" cy="287.9" r="2.12" fill="url(#gB)"/>
<circle cx="514.2" cy="293.0" r="2.12" fill="url(#gB)"/>
<circle cx="523.2" cy="292.7" r="2.12" fill="url(#gB)"/>
<circle cx="505.7" cy="277.6" r="2.12" fill="url(#gB)"/>
<circle cx="505.2" cy="293.0" r="2.12" fill="url(#gB)"/>
<circle cx="510.8" cy="270.1" r="2.12" fill="url(#gB)"/>
<circle cx="500.9" cy="285.2" r="2.12" fill="url(#gB)"/>
<circle cx="532.1" cy="292.0" r="2.12" fill="url(#gB)"/>
<circle cx="509.7" cy="295.5" r="2.12" fill="url(#gB)"/>
<circle cx="518.7" cy="295.2" r="2.12" fill="url(#gB)"/>
<circle cx="501.3" cy="280.0" r="2.12" fill="url(#gB)"/>
<circle cx="500.8" cy="295.5" r="2.12" fill="url(#gB)"/>
<circle cx="516.2" cy="263.0" r="2.12" fill="url(#gB)"/>
<circle cx="506.3" cy="272.6" r="2.12" fill="url(#gB)"/>
<circle cx="496.4" cy="287.6" r="2.12" fill="url(#gB)"/>
<circle cx="496.3" cy="292.8" r="2.12" fill="url(#gB)"/>
<circle cx="527.7" cy="294.5" r="2.12" fill="url(#gB)"/>
<circle cx="540.9" cy="290.8" r="2.12" fill="url(#gB)"/>
<circle cx="511.8" cy="265.5" r="2.12" fill="url(#gB)"/>
<circle cx="491.9" cy="295.3" r="2.12" fill="url(#gB)"/>
<circle cx="522.0" cy="256.3" r="2.12" fill="url(#gB)"/>
<circle cx="500.8" cy="300.4" r="2.12" fill="url(#gB)"/>
<circle cx="509.8" cy="300.1" r="2.12" fill="url(#gB)"/>
<circle cx="492.4" cy="285.0" r="2.12" fill="url(#gB)"/>
<circle cx="536.5" cy="293.3" r="2.12" fill="url(#gB)"/>
<circle cx="491.9" cy="300.4" r="2.12" fill="url(#gB)"/>
<circle cx="497.4" cy="277.5" r="2.12" fill="url(#gB)"/>
<circle cx="487.6" cy="292.6" r="2.12" fill="url(#gB)"/>
<circle cx="518.8" cy="299.4" r="2.12" fill="url(#gB)"/>
<circle cx="517.5" cy="258.7" r="2.12" fill="url(#gB)"/>
<circle cx="496.4" cy="302.9" r="2.12" fill="url(#gB)"/>
<circle cx="549.5" cy="289.0" r="2.12" fill="url(#gB)"/>
<circle cx="505.4" cy="302.6" r="2.12" fill="url(#gB)"/>
<circle cx="487.9" cy="287.4" r="2.12" fill="url(#gB)"/>
<circle cx="487.4" cy="302.9" r="2.12" fill="url(#gB)"/>
<circle cx="502.9" cy="270.4" r="2.12" fill="url(#gB)"/>
<circle cx="493.0" cy="280.0" r="2.12" fill="url(#gB)"/>
<circle cx="483.1" cy="295.0" r="2.12" fill="url(#gB)"/>
<circle cx="483.0" cy="300.2" r="2.12" fill="url(#gB)"/>
<circle cx="528.1" cy="250.0" r="2.12" fill="url(#gB)"/>
<circle cx="514.3" cy="301.9" r="2.12" fill="url(#gB)"/>
<circle cx="545.1" cy="291.5" r="2.12" fill="url(#gB)"/>
<circle cx="527.6" cy="298.2" r="2.12" fill="url(#gB)"/>
<circle cx="498.4" cy="272.9" r="2.12" fill="url(#gB)"/>
<circle cx="478.5" cy="302.7" r="2.12" fill="url(#gB)"/>
<circle cx="523.7" cy="252.5" r="2.12" fill="url(#gB)"/>
<circle cx="508.6" cy="263.7" r="2.12" fill="url(#gB)"/>
<circle cx="487.5" cy="307.8" r="2.12" fill="url(#gB)"/>
<circle cx="496.5" cy="307.5" r="2.12" fill="url(#gB)"/>
<circle cx="479.0" cy="292.3" r="2.12" fill="url(#gB)"/>
<circle cx="523.1" cy="300.7" r="2.12" fill="url(#gB)"/>
<circle cx="478.5" cy="307.8" r="2.12" fill="url(#gB)"/>
<circle cx="484.1" cy="284.9" r="2.12" fill="url(#gB)"/>
<circle cx="474.2" cy="299.9" r="2.12" fill="url(#gB)"/>
<circle cx="505.4" cy="306.8" r="2.12" fill="url(#gB)"/>
<circle cx="504.2" cy="266.1" r="2.12" fill="url(#gB)"/>
<circle cx="483.0" cy="310.3" r="2.12" fill="url(#gB)"/>
<circle cx="536.2" cy="296.4" r="2.12" fill="url(#gB)"/>
<circle cx="492.0" cy="310.0" r="2.12" fill="url(#gB)"/>
<circle cx="474.6" cy="294.8" r="2.12" fill="url(#gB)"/>
<circle cx="474.1" cy="310.3" r="2.12" fill="url(#gB)"/>
<circle cx="489.5" cy="277.8" r="2.12" fill="url(#gB)"/>
<circle cx="479.6" cy="287.4" r="2.12" fill="url(#gB)"/>
<circle cx="469.8" cy="302.4" r="2.12" fill="url(#gB)"/>
<circle cx="469.6" cy="307.6" r="2.12" fill="url(#gB)"/>
<circle cx="514.8" cy="257.4" r="2.12" fill="url(#gB)"/>
<circle cx="501.0" cy="309.3" r="2.12" fill="url(#gB)"/>
<circle cx="531.7" cy="298.9" r="2.12" fill="url(#gB)"/>
<circle cx="514.2" cy="305.6" r="2.12" fill="url(#gB)"/>
<circle cx="485.1" cy="280.3" r="2.12" fill="url(#gB)"/>
<circle cx="465.2" cy="310.1" r="2.12" fill="url(#gB)"/>
<circle cx="510.3" cy="259.9" r="2.12" fill="url(#gB)"/>
<circle cx="495.3" cy="271.1" r="2.12" fill="url(#gB)"/>
<circle cx="474.1" cy="315.2" r="2.12" fill="url(#gB)"/>
<circle cx="483.1" cy="314.9" r="2.12" fill="url(#gB)"/>
<circle cx="465.7" cy="299.7" r="2.12" fill="url(#gB)"/>
<circle cx="544.5" cy="294.0" r="2.12" fill="url(#gB)"/>
<circle cx="509.8" cy="308.1" r="2.12" fill="url(#gB)"/>
<circle cx="465.2" cy="315.2" r="2.12" fill="url(#gB)"/>
<circle cx="470.7" cy="292.3" r="2.12" fill="url(#gB)"/>
<circle cx="460.9" cy="307.3" r="2.12" fill="url(#gB)"/>
<circle cx="492.1" cy="314.2" r="2.12" fill="url(#gB)"/>
<circle cx="490.8" cy="273.5" r="2.12" fill="url(#gB)"/>
<circle cx="469.7" cy="317.7" r="2.12" fill="url(#gB)"/>
<circle cx="521.4" cy="251.8" r="2.12" fill="url(#gB)"/>
<circle cx="522.8" cy="303.8" r="2.12" fill="url(#gB)"/>
<circle cx="478.7" cy="317.4" r="2.12" fill="url(#gB)"/>
<circle cx="461.2" cy="302.2" r="2.12" fill="url(#gB)"/>
<circle cx="540.1" cy="296.5" r="2.12" fill="url(#gB)"/>
<circle cx="460.7" cy="317.7" r="2.12" fill="url(#gB)"/>
<circle cx="476.2" cy="285.2" r="2.12" fill="url(#gB)"/>
<circle cx="466.3" cy="294.8" r="2.12" fill="url(#gB)"/>
<circle cx="456.4" cy="309.8" r="2.12" fill="url(#gB)"/>
<circle cx="456.3" cy="315.0" r="2.12" fill="url(#gB)"/>
<circle cx="501.4" cy="264.8" r="2.12" fill="url(#gB)"/>
<circle cx="487.6" cy="316.7" r="2.12" fill="url(#gB)"/>
<circle cx="516.9" cy="254.2" r="2.12" fill="url(#gB)"/>
<circle cx="518.4" cy="306.3" r="2.12" fill="url(#gB)"/>
<circle cx="500.9" cy="313.0" r="2.12" fill="url(#gB)"/>
<circle cx="471.7" cy="287.6" r="2.12" fill="url(#gB)"/>
<circle cx="451.8" cy="317.5" r="2.12" fill="url(#gB)"/>
<circle cx="552.6" cy="290.9" r="2.12" fill="url(#gB)"/>
<circle cx="497.0" cy="267.3" r="2.12" fill="url(#gB)"/>
<circle cx="481.9" cy="278.5" r="2.12" fill="url(#gB)"/>
<circle cx="460.8" cy="322.6" r="2.12" fill="url(#gB)"/>
<circle cx="469.8" cy="322.3" r="2.12" fill="url(#gB)"/>
<circle cx="452.3" cy="307.1" r="2.12" fill="url(#gB)"/>
<circle cx="531.2" cy="301.4" r="2.12" fill="url(#gB)"/>
<circle cx="496.4" cy="315.5" r="2.12" fill="url(#gB)"/>
<circle cx="451.8" cy="322.6" r="2.12" fill="url(#gB)"/>
<circle cx="528.3" cy="246.8" r="2.12" fill="url(#gB)"/>
<circle cx="457.4" cy="299.7" r="2.12" fill="url(#gB)"/>
<circle cx="447.5" cy="314.7" r="2.12" fill="url(#gB)"/>
<circle cx="548.1" cy="293.4" r="2.12" fill="url(#gB)"/>
<circle cx="478.7" cy="321.6" r="2.12" fill="url(#gB)"/>
<circle cx="477.5" cy="280.9" r="2.12" fill="url(#gB)"/>
<circle cx="456.4" cy="325.1" r="2.12" fill="url(#gB)"/>
<circle cx="508.0" cy="259.2" r="2.12" fill="url(#gB)"/>
<circle cx="509.5" cy="311.2" r="2.12" fill="url(#gB)"/>
<circle cx="465.3" cy="324.8" r="2.12" fill="url(#gB)"/>
<circle cx="447.9" cy="309.6" r="2.12" fill="url(#gB)"/>
<circle cx="526.7" cy="303.9" r="2.12" fill="url(#gB)"/>
<circle cx="447.4" cy="325.0" r="2.12" fill="url(#gB)"/>
<circle cx="462.8" cy="292.6" r="2.12" fill="url(#gB)"/>
<circle cx="523.9" cy="249.2" r="2.12" fill="url(#gB)"/>
<circle cx="453.0" cy="302.2" r="2.12" fill="url(#gB)"/>
<circle cx="443.1" cy="317.2" r="2.12" fill="url(#gB)"/>
<circle cx="488.1" cy="272.2" r="2.12" fill="url(#gB)"/>
<circle cx="474.3" cy="324.1" r="2.12" fill="url(#gB)"/>
<circle cx="503.6" cy="261.6" r="2.12" fill="url(#gB)"/>
<circle cx="505.0" cy="313.7" r="2.12" fill="url(#gB)"/>
<circle cx="487.5" cy="320.4" r="2.12" fill="url(#gB)"/>
<circle cx="458.4" cy="295.0" r="2.12" fill="url(#gB)"/>
<circle cx="539.2" cy="298.3" r="2.12" fill="url(#gB)"/>
<circle cx="483.6" cy="274.7" r="2.12" fill="url(#gB)"/>
<circle cx="468.6" cy="285.8" r="2.12" fill="url(#gB)"/>
<circle cx="456.4" cy="329.7" r="2.12" fill="url(#gB)"/>
<circle cx="517.8" cy="308.8" r="2.12" fill="url(#gB)"/>
<circle cx="483.1" cy="322.9" r="2.12" fill="url(#gB)"/>
<circle cx="515.0" cy="254.1" r="2.12" fill="url(#gB)"/>
<circle cx="444.1" cy="307.1" r="2.12" fill="url(#gB)"/>
<circle cx="534.8" cy="300.8" r="2.12" fill="url(#gB)"/>
<circle cx="465.4" cy="329.0" r="2.12" fill="url(#gB)"/>
<circle cx="464.1" cy="288.3" r="2.12" fill="url(#gB)"/>
<circle cx="494.7" cy="266.6" r="2.12" fill="url(#gB)"/>
<circle cx="496.1" cy="318.6" r="2.12" fill="url(#gB)"/>
<circle cx="452.0" cy="332.2" r="2.12" fill="url(#gB)"/>
<circle cx="513.4" cy="311.3" r="2.12" fill="url(#gB)"/>
<circle cx="449.5" cy="300.0" r="2.12" fill="url(#gB)"/>
<circle cx="510.5" cy="256.6" r="2.12" fill="url(#gB)"/>
<circle cx="439.6" cy="309.6" r="2.12" fill="url(#gB)"/>
<circle cx="474.7" cy="279.6" r="2.12" fill="url(#gB)"/>
<circle cx="460.9" cy="331.5" r="2.12" fill="url(#gB)"/>
<circle cx="490.2" cy="269.0" r="2.12" fill="url(#gB)"/>
<circle cx="491.7" cy="321.1" r="2.12" fill="url(#gB)"/>
<circle cx="546.9" cy="294.5" r="2.12" fill="url(#gB)"/>
<circle cx="474.2" cy="327.8" r="2.12" fill="url(#gB)"/>
<circle cx="445.0" cy="302.4" r="2.12" fill="url(#gB)"/>
<circle cx="525.9" cy="305.7" r="2.12" fill="url(#gB)"/>
<circle cx="470.3" cy="282.1" r="2.12" fill="url(#gB)"/>
<circle cx="455.2" cy="293.2" r="2.12" fill="url(#gB)"/>
<circle cx="554.0" cy="290.4" r="2.12" fill="url(#gB)"/>
<circle cx="522.4" cy="249.8" r="2.12" fill="url(#gB)"/>
<circle cx="542.4" cy="297.0" r="2.12" fill="url(#gB)"/>
<circle cx="504.5" cy="316.2" r="2.12" fill="url(#gB)"/>
<circle cx="469.7" cy="330.2" r="2.12" fill="url(#gB)"/>
<circle cx="501.6" cy="261.5" r="2.12" fill="url(#gB)"/>
<circle cx="521.4" cy="308.1" r="2.12" fill="url(#gB)"/>
<circle cx="450.8" cy="295.7" r="2.12" fill="url(#gB)"/>
<circle cx="481.3" cy="274.0" r="2.12" fill="url(#gB)"/>
<circle cx="482.8" cy="326.0" r="2.12" fill="url(#gB)"/>
<circle cx="549.5" cy="292.9" r="2.12" fill="url(#gB)"/>
<circle cx="517.9" cy="252.3" r="2.12" fill="url(#gB)"/>
<circle cx="500.0" cy="318.6" r="2.12" fill="url(#gB)"/>
<circle cx="497.2" cy="264.0" r="2.12" fill="url(#gB)"/>
<circle cx="461.4" cy="287.0" r="2.12" fill="url(#gB)"/>
<circle cx="476.9" cy="276.4" r="2.12" fill="url(#gB)"/>
<circle cx="478.3" cy="328.5" r="2.12" fill="url(#gB)"/>
<circle cx="533.5" cy="301.9" r="2.12" fill="url(#gB)"/>
<circle cx="460.8" cy="335.2" r="2.12" fill="url(#gB)"/>
<circle cx="530.1" cy="246.1" r="2.12" fill="url(#gB)"/>
<circle cx="512.5" cy="313.1" r="2.12" fill="url(#gB)"/>
<circle cx="456.9" cy="289.5" r="2.12" fill="url(#gB)"/>
<circle cx="441.9" cy="300.6" r="2.12" fill="url(#gB)"/>
<circle cx="540.6" cy="297.8" r="2.12" fill="url(#gB)"/>
<circle cx="509.0" cy="257.2" r="2.12" fill="url(#gB)"/>
<circle cx="529.1" cy="304.3" r="2.12" fill="url(#gB)"/>
<circle cx="491.1" cy="323.6" r="2.12" fill="url(#gB)"/>
<circle cx="456.4" cy="337.6" r="2.12" fill="url(#gB)"/>
<circle cx="488.3" cy="268.9" r="2.12" fill="url(#gB)"/>
<circle cx="525.7" cy="248.6" r="2.12" fill="url(#gB)"/>
<circle cx="508.1" cy="315.5" r="2.12" fill="url(#gB)"/>
<circle cx="437.4" cy="303.1" r="2.12" fill="url(#gB)"/>
<circle cx="468.0" cy="281.3" r="2.12" fill="url(#gB)"/>
<circle cx="469.4" cy="333.4" r="2.12" fill="url(#gB)"/>
<circle cx="536.2" cy="300.3" r="2.12" fill="url(#gB)"/>
<circle cx="504.6" cy="259.7" r="2.12" fill="url(#gB)"/>
<circle cx="486.7" cy="326.0" r="2.12" fill="url(#gB)"/>
<circle cx="483.8" cy="271.4" r="2.12" fill="url(#gB)"/>
<circle cx="448.0" cy="294.4" r="2.35" fill="url(#gA)"/>
<circle cx="463.5" cy="283.8" r="2.35" fill="url(#gA)"/>
<circle cx="465.0" cy="335.9" r="2.35" fill="url(#gA)"/>
<circle cx="520.2" cy="309.3" r="2.35" fill="url(#gA)"/>
<circle cx="547.7" cy="292.9" r="2.35" fill="url(#gA)"/>
<circle cx="516.8" cy="253.5" r="2.35" fill="url(#gA)"/>
<circle cx="499.2" cy="320.5" r="2.35" fill="url(#gA)"/>
<circle cx="443.6" cy="296.9" r="2.35" fill="url(#gA)"/>
<circle cx="527.3" cy="305.2" r="2.35" fill="url(#gA)"/>
<circle cx="495.7" cy="264.6" r="2.35" fill="url(#gA)"/>
<circle cx="515.7" cy="311.7" r="2.35" fill="url(#gA)"/>
<circle cx="477.8" cy="331.0" r="2.35" fill="url(#gA)"/>
<circle cx="474.9" cy="276.3" r="2.35" fill="url(#gA)"/>
<circle cx="543.2" cy="295.4" r="2.35" fill="url(#gA)"/>
<circle cx="512.3" cy="256.0" r="2.35" fill="url(#gA)"/>
<circle cx="494.7" cy="322.9" r="2.35" fill="url(#gA)"/>
<circle cx="454.6" cy="288.7" r="2.35" fill="url(#gA)"/>
<circle cx="522.8" cy="307.7" r="2.35" fill="url(#gA)"/>
<circle cx="491.2" cy="267.0" r="2.35" fill="url(#gA)"/>
<circle cx="473.3" cy="333.4" r="2.35" fill="url(#gA)"/>
<circle cx="470.5" cy="278.8" r="2.35" fill="url(#gA)"/>
<circle cx="554.4" cy="287.4" r="2.35" fill="url(#gA)"/>
<circle cx="524.9" cy="250.6" r="2.35" fill="url(#gA)"/>
<circle cx="450.2" cy="291.2" r="2.35" fill="url(#gA)"/>
<circle cx="506.8" cy="316.7" r="2.35" fill="url(#gA)"/>
<circle cx="534.3" cy="300.3" r="2.35" fill="url(#gA)"/>
<circle cx="503.4" cy="260.9" r="2.35" fill="url(#gA)"/>
<circle cx="485.8" cy="327.9" r="2.35" fill="url(#gA)"/>
<circle cx="549.9" cy="289.9" r="2.35" fill="url(#gA)"/>
<circle cx="520.4" cy="253.0" r="2.35" fill="url(#gA)"/>
<circle cx="513.9" cy="312.6" r="2.35" fill="url(#gA)"/>
<circle cx="482.3" cy="272.0" r="2.35" fill="url(#gA)"/>
<circle cx="502.4" cy="319.1" r="2.35" fill="url(#gA)"/>
<circle cx="464.4" cy="338.4" r="2.35" fill="url(#gA)"/>
<circle cx="461.6" cy="283.7" r="2.35" fill="url(#gA)"/>
<circle cx="529.9" cy="302.8" r="2.35" fill="url(#gA)"/>
<circle cx="499.0" cy="263.4" r="2.35" fill="url(#gA)"/>
<circle cx="481.4" cy="330.3" r="2.35" fill="url(#gA)"/>
<circle cx="441.3" cy="296.1" r="2.35" fill="url(#gA)"/>
<circle cx="509.5" cy="315.1" r="2.35" fill="url(#gA)"/>
<circle cx="477.9" cy="274.4" r="2.35" fill="url(#gA)"/>
<circle cx="533.3" cy="248.3" r="2.35" fill="url(#gA)"/>
<circle cx="460.0" cy="340.8" r="2.35" fill="url(#gA)"/>
<circle cx="457.1" cy="286.2" r="2.35" fill="url(#gA)"/>
<circle cx="541.0" cy="294.8" r="2.35" fill="url(#gA)"/>
<circle cx="511.5" cy="258.0" r="2.35" fill="url(#gA)"/>
<circle cx="436.8" cy="298.6" r="2.35" fill="url(#gA)"/>
<circle cx="528.8" cy="250.8" r="2.35" fill="url(#gA)"/>
<circle cx="493.5" cy="324.1" r="2.35" fill="url(#gA)"/>
<circle cx="521.0" cy="307.7" r="2.35" fill="url(#gA)"/>
<circle cx="490.1" cy="268.3" r="2.35" fill="url(#gA)"/>
<circle cx="472.5" cy="335.3" r="2.35" fill="url(#gA)"/>
<circle cx="536.6" cy="297.2" r="2.35" fill="url(#gA)"/>
<circle cx="507.1" cy="260.4" r="2.35" fill="url(#gA)"/>
<circle cx="500.6" cy="320.0" r="2.35" fill="url(#gA)"/>
<circle cx="469.0" cy="279.4" r="2.35" fill="url(#gA)"/>
<circle cx="489.1" cy="326.5" r="2.35" fill="url(#gA)"/>
<circle cx="448.2" cy="291.1" r="2.35" fill="url(#gA)"/>
<circle cx="516.5" cy="310.2" r="2.35" fill="url(#gA)"/>
<circle cx="485.6" cy="270.8" r="2.35" fill="url(#gA)"/>
<circle cx="468.0" cy="337.7" r="2.35" fill="url(#gA)"/>
<circle cx="547.3" cy="288.7" r="2.35" fill="url(#gA)"/>
<circle cx="496.1" cy="322.4" r="2.35" fill="url(#gA)"/>
<circle cx="464.5" cy="281.8" r="2.35" fill="url(#gA)"/>
<circle cx="519.9" cy="255.7" r="2.35" fill="url(#gA)"/>
<circle cx="443.8" cy="293.6" r="2.35" fill="url(#gA)"/>
<circle cx="542.8" cy="291.1" r="2.35" fill="url(#gA)"/>
<circle cx="527.7" cy="302.2" r="2.35" fill="url(#gA)"/>
<circle cx="498.2" cy="265.4" r="2.35" fill="url(#gA)"/>
<circle cx="515.5" cy="258.1" r="2.35" fill="url(#gA)"/>
<circle cx="480.2" cy="331.5" r="2.35" fill="url(#gA)"/>
<circle cx="553.1" cy="282.0" r="2.35" fill="url(#gA)"/>
<circle cx="507.6" cy="315.1" r="2.35" fill="url(#gA)"/>
<circle cx="476.7" cy="275.7" r="2.35" fill="url(#gA)"/>
<circle cx="528.6" cy="254.0" r="2.35" fill="url(#gA)"/>
<circle cx="523.2" cy="304.6" r="2.35" fill="url(#gA)"/>
<circle cx="493.7" cy="267.8" r="2.35" fill="url(#gA)"/>
<circle cx="487.2" cy="327.4" r="2.35" fill="url(#gA)"/>
<circle cx="455.6" cy="286.8" r="2.35" fill="url(#gA)"/>
<circle cx="475.7" cy="333.9" r="2.35" fill="url(#gA)"/>
<circle cx="548.7" cy="284.5" r="2.35" fill="url(#gA)"/>
<circle cx="503.2" cy="317.6" r="2.35" fill="url(#gA)"/>
<circle cx="472.3" cy="278.2" r="2.35" fill="url(#gA)"/>
<circle cx="524.1" cy="256.5" r="2.35" fill="url(#gA)"/>
<circle cx="533.9" cy="296.1" r="2.35" fill="url(#gA)"/>
<circle cx="482.8" cy="329.8" r="2.35" fill="url(#gA)"/>
<circle cx="537.4" cy="252.9" r="2.35" fill="url(#gA)"/>
<circle cx="451.2" cy="289.2" r="2.35" fill="url(#gA)"/>
<circle cx="506.6" cy="263.1" r="2.35" fill="url(#gA)"/>
<circle cx="529.5" cy="298.5" r="2.35" fill="url(#gA)"/>
<circle cx="514.3" cy="309.6" r="2.35" fill="url(#gA)"/>
<circle cx="484.8" cy="272.8" r="2.35" fill="url(#gA)"/>
<circle cx="533.0" cy="255.4" r="2.35" fill="url(#gA)"/>
<circle cx="502.1" cy="265.5" r="2.35" fill="url(#gA)"/>
<circle cx="466.8" cy="338.8" r="2.35" fill="url(#gA)"/>
<circle cx="539.8" cy="289.4" r="2.35" fill="url(#gA)"/>
<circle cx="494.3" cy="322.5" r="2.35" fill="url(#gA)"/>
<circle cx="463.4" cy="283.1" r="2.35" fill="url(#gA)"/>
<circle cx="515.2" cy="261.4" r="2.35" fill="url(#gA)"/>
<circle cx="509.9" cy="312.0" r="2.35" fill="url(#gA)"/>
<circle cx="480.4" cy="275.2" r="2.35" fill="url(#gA)"/>
<circle cx="473.9" cy="334.8" r="2.35" fill="url(#gA)"/>
<circle cx="442.3" cy="294.1" r="2.35" fill="url(#gA)"/>
<circle cx="462.4" cy="341.3" r="2.35" fill="url(#gA)"/>
<circle cx="535.3" cy="291.9" r="2.35" fill="url(#gA)"/>
<circle cx="545.2" cy="282.4" r="2.35" fill="url(#gA)"/>
<circle cx="489.9" cy="325.0" r="2.35" fill="url(#gA)"/>
<circle cx="458.9" cy="285.6" r="2.35" fill="url(#gA)"/>
<circle cx="510.8" cy="263.9" r="2.35" fill="url(#gA)"/>
<circle cx="520.6" cy="303.4" r="2.35" fill="url(#gA)"/>
<circle cx="550.4" cy="275.0" r="2.35" fill="url(#gA)"/>
<circle cx="469.4" cy="337.2" r="2.35" fill="url(#gA)"/>
<circle cx="524.1" cy="260.3" r="2.35" fill="url(#gA)"/>
<circle cx="437.8" cy="296.6" r="2.35" fill="url(#gA)"/>
<circle cx="493.2" cy="270.5" r="2.35" fill="url(#gA)"/>
<circle cx="540.8" cy="284.8" r="2.35" fill="url(#gA)"/>
<circle cx="533.0" cy="259.7" r="2.35" fill="url(#gA)"/>
<circle cx="542.0" cy="259.5" r="2.35" fill="url(#gA)"/>
<circle cx="516.1" cy="305.9" r="2.35" fill="url(#gA)"/>
<circle cx="501.0" cy="317.0" r="2.35" fill="url(#gA)"/>
<circle cx="545.9" cy="277.5" r="2.35" fill="url(#gA)"/>
<circle cx="471.5" cy="280.1" r="2.35" fill="url(#gA)"/>
<circle cx="519.6" cy="262.8" r="2.35" fill="url(#gA)"/>
<circle cx="488.8" cy="272.9" r="2.35" fill="url(#gA)"/>
<circle cx="526.4" cy="296.8" r="2.35" fill="url(#gA)"/>
<circle cx="481.0" cy="329.9" r="2.35" fill="url(#gA)"/>
<circle cx="450.0" cy="290.5" r="2.35" fill="url(#gA)"/>
<circle cx="528.6" cy="262.2" r="2.35" fill="url(#gA)"/>
<circle cx="546.5" cy="267.2" r="2.35" fill="url(#gA)"/>
<circle cx="537.6" cy="262.0" r="2.35" fill="url(#gA)"/>
<circle cx="501.9" cy="268.8" r="2.35" fill="url(#gA)"/>
<circle cx="496.5" cy="319.4" r="2.35" fill="url(#gA)"/>
<circle cx="467.0" cy="282.6" r="2.35" fill="url(#gA)"/>
<circle cx="522.0" cy="299.3" r="2.35" fill="url(#gA)"/>
<circle cx="531.9" cy="289.8" r="2.35" fill="url(#gA)"/>
<circle cx="476.5" cy="332.3" r="2.35" fill="url(#gA)"/>
<circle cx="445.6" cy="293.0" r="2.35" fill="url(#gA)"/>
<circle cx="541.9" cy="274.8" r="2.35" fill="url(#gA)"/>
<circle cx="542.1" cy="269.6" r="2.35" fill="url(#gA)"/>
<circle cx="497.4" cy="271.3" r="2.35" fill="url(#gA)"/>
<circle cx="507.2" cy="310.8" r="2.35" fill="url(#gA)"/>
<circle cx="537.0" cy="282.4" r="2.35" fill="url(#gA)"/>
<circle cx="510.7" cy="267.7" r="2.35" fill="url(#gA)"/>
<circle cx="479.9" cy="277.9" r="2.35" fill="url(#gA)"/>
<circle cx="537.7" cy="266.9" r="2.35" fill="url(#gA)"/>
<circle cx="527.4" cy="292.2" r="2.35" fill="url(#gA)"/>
<circle cx="537.5" cy="277.3" r="2.35" fill="url(#gA)"/>
<circle cx="519.7" cy="267.1" r="2.35" fill="url(#gA)"/>
<circle cx="528.7" cy="266.9" r="2.35" fill="url(#gA)"/>
<circle cx="502.8" cy="313.3" r="2.35" fill="url(#gA)"/>
<circle cx="487.6" cy="324.4" r="2.35" fill="url(#gA)"/>
<circle cx="532.6" cy="284.9" r="2.35" fill="url(#gA)"/>
<circle cx="458.1" cy="287.5" r="2.35" fill="url(#gA)"/>
<circle cx="506.3" cy="270.2" r="2.35" fill="url(#gA)"/>
<circle cx="475.4" cy="280.3" r="2.35" fill="url(#gA)"/>
<circle cx="533.2" cy="269.4" r="2.35" fill="url(#gA)"/>
<circle cx="513.1" cy="304.2" r="2.35" fill="url(#gA)"/>
<circle cx="467.6" cy="337.3" r="2.35" fill="url(#gA)"/>
<circle cx="515.2" cy="269.6" r="2.35" fill="url(#gA)"/>
<circle cx="533.2" cy="274.6" r="2.35" fill="url(#gA)"/>
<circle cx="524.2" cy="269.4" r="2.35" fill="url(#gA)"/>
<circle cx="488.5" cy="276.2" r="2.35" fill="url(#gA)"/>
<circle cx="483.2" cy="326.8" r="2.35" fill="url(#gA)"/>
<circle cx="453.7" cy="290.0" r="2.35" fill="url(#gA)"/>
<circle cx="508.6" cy="306.7" r="2.35" fill="url(#gA)"/>
<circle cx="518.5" cy="297.2" r="2.35" fill="url(#gA)"/>
<circle cx="463.2" cy="339.7" r="2.35" fill="url(#gA)"/>
<circle cx="528.6" cy="282.2" r="2.35" fill="url(#gA)"/>
<circle cx="528.7" cy="277.0" r="2.35" fill="url(#gA)"/>
<circle cx="484.1" cy="278.7" r="2.35" fill="url(#gA)"/>
<circle cx="493.9" cy="318.2" r="2.35" fill="url(#gA)"/>
<circle cx="523.7" cy="289.8" r="2.35" fill="url(#gA)"/>
<circle cx="497.4" cy="275.1" r="2.35" fill="url(#gA)"/>
<circle cx="466.5" cy="285.3" r="2.35" fill="url(#gA)"/>
<circle cx="524.3" cy="274.3" r="2.35" fill="url(#gA)"/>
<circle cx="514.1" cy="299.6" r="2.35" fill="url(#gA)"/>
<circle cx="524.1" cy="284.7" r="2.35" fill="url(#gA)"/>
<circle cx="506.3" cy="274.5" r="2.35" fill="url(#gA)"/>
<circle cx="515.3" cy="274.3" r="2.35" fill="url(#gA)"/>
<circle cx="489.4" cy="320.7" r="2.35" fill="url(#gA)"/>
<circle cx="474.3" cy="331.7" r="2.35" fill="url(#gA)"/>
<circle cx="519.2" cy="292.3" r="2.35" fill="url(#gA)"/>
<circle cx="444.8" cy="294.9" r="2.35" fill="url(#gA)"/>
<circle cx="492.9" cy="277.6" r="2.35" fill="url(#gA)"/>
<circle cx="462.1" cy="287.7" r="2.35" fill="url(#gA)"/>
<circle cx="519.9" cy="276.8" r="2.35" fill="url(#gA)"/>
<circle cx="499.7" cy="311.6" r="2.35" fill="url(#gA)"/>
<circle cx="501.9" cy="277.0" r="2.35" fill="url(#gA)"/>
<circle cx="519.8" cy="282.0" r="2.35" fill="url(#gA)"/>
<circle cx="510.9" cy="276.7" r="2.35" fill="url(#gA)"/>
<circle cx="475.2" cy="283.6" r="2.35" fill="url(#gA)"/>
<circle cx="469.8" cy="334.2" r="2.35" fill="url(#gA)"/>
<circle cx="440.3" cy="297.4" r="2.35" fill="url(#gA)"/>
<circle cx="495.3" cy="314.1" r="2.35" fill="url(#gA)"/>
<circle cx="505.2" cy="304.5" r="2.35" fill="url(#gA)"/>
<circle cx="515.2" cy="289.6" r="2.35" fill="url(#gA)"/>
<circle cx="515.4" cy="284.4" r="2.35" fill="url(#gA)"/>
<circle cx="470.7" cy="286.1" r="2.35" fill="url(#gA)"/>
<circle cx="480.5" cy="325.6" r="2.35" fill="url(#gA)"/>
<circle cx="510.3" cy="297.2" r="2.35" fill="url(#gA)"/>
<circle cx="484.0" cy="282.5" r="2.35" fill="url(#gA)"/>
<circle cx="453.2" cy="292.6" r="2.35" fill="url(#gA)"/>
<circle cx="511.0" cy="281.7" r="2.35" fill="url(#gA)"/>
<circle cx="500.7" cy="307.0" r="2.35" fill="url(#gA)"/>
<circle cx="510.8" cy="292.1" r="2.35" fill="url(#gA)"/>
<circle cx="493.0" cy="281.9" r="2.35" fill="url(#gA)"/>
<circle cx="502.0" cy="281.7" r="2.35" fill="url(#gA)"/>
<circle cx="476.1" cy="328.1" r="2.35" fill="url(#gA)"/>
<circle cx="505.9" cy="299.6" r="2.35" fill="url(#gA)"/>
<circle cx="479.6" cy="285.0" r="2.35" fill="url(#gA)"/>
<circle cx="448.7" cy="295.1" r="2.35" fill="url(#gA)"/>
<circle cx="506.5" cy="284.2" r="2.35" fill="url(#gA)"/>
<circle cx="486.4" cy="319.0" r="2.35" fill="url(#gA)"/>
<circle cx="488.5" cy="284.4" r="2.35" fill="url(#gA)"/>
<circle cx="506.5" cy="289.3" r="2.35" fill="url(#gA)"/>
<circle cx="497.5" cy="284.1" r="2.35" fill="url(#gA)"/>
<circle cx="461.8" cy="291.0" r="2.35" fill="url(#gA)"/>
<circle cx="481.9" cy="321.5" r="2.35" fill="url(#gA)"/>
<circle cx="491.8" cy="311.9" r="2.35" fill="url(#gA)"/>
<circle cx="501.9" cy="297.0" r="2.35" fill="url(#gA)"/>
<circle cx="502.0" cy="291.8" r="2.35" fill="url(#gA)"/>
<circle cx="457.4" cy="293.5" r="2.35" fill="url(#gA)"/>
<circle cx="467.2" cy="333.0" r="2.35" fill="url(#gA)"/>
<circle cx="497.0" cy="304.6" r="2.35" fill="url(#gA)"/>
<circle cx="470.7" cy="289.9" r="2.35" fill="url(#gA)"/>
<circle cx="497.6" cy="289.1" r="2.35" fill="url(#gA)"/>
<circle cx="487.4" cy="314.4" r="2.35" fill="url(#gA)"/>
<circle cx="497.4" cy="299.5" r="2.35" fill="url(#gA)"/>
<circle cx="479.6" cy="289.3" r="2.35" fill="url(#gA)"/>
<circle cx="488.6" cy="289.1" r="2.35" fill="url(#gA)"/>
<circle cx="462.7" cy="335.5" r="2.35" fill="url(#gA)"/>
<circle cx="492.5" cy="307.0" r="2.35" fill="url(#gA)"/>
<circle cx="466.2" cy="292.4" r="2.35" fill="url(#gA)"/>
<circle cx="493.2" cy="291.6" r="2.35" fill="url(#gA)"/>
<circle cx="473.0" cy="326.4" r="2.35" fill="url(#gA)"/>
<circle cx="475.2" cy="291.7" r="2.35" fill="url(#gA)"/>
<circle cx="493.1" cy="296.7" r="2.35" fill="url(#gA)"/>
<circle cx="484.2" cy="291.5" r="2.35" fill="url(#gA)"/>
<circle cx="448.5" cy="298.4" r="2.35" fill="url(#gA)"/>
<circle cx="468.6" cy="328.9" r="2.35" fill="url(#gA)"/>
<circle cx="478.5" cy="319.3" r="2.35" fill="url(#gA)"/>
<circle cx="488.5" cy="304.4" r="2.35" fill="url(#gA)"/>
<circle cx="488.7" cy="299.2" r="2.35" fill="url(#gA)"/>
<circle cx="444.0" cy="300.8" r="2.35" fill="url(#gA)"/>
<circle cx="483.6" cy="312.0" r="2.35" fill="url(#gA)"/>
<circle cx="457.3" cy="297.3" r="2.35" fill="url(#gA)"/>
<circle cx="484.3" cy="296.5" r="2.35" fill="url(#gA)"/>
<circle cx="474.0" cy="321.8" r="2.35" fill="url(#gA)"/>
<circle cx="484.1" cy="306.9" r="2.35" fill="url(#gA)"/>
<circle cx="466.3" cy="296.7" r="2.35" fill="url(#gA)"/>
<circle cx="475.3" cy="296.5" r="2.35" fill="url(#gA)"/>
<circle cx="479.2" cy="314.4" r="2.35" fill="url(#gA)"/>
<circle cx="452.9" cy="299.7" r="2.35" fill="url(#gA)"/>
<circle cx="479.8" cy="299.0" r="2.35" fill="url(#gA)"/>
<circle cx="461.8" cy="299.1" r="2.35" fill="url(#gA)"/>
<circle cx="479.8" cy="304.1" r="2.35" fill="url(#gA)"/>
<circle cx="470.8" cy="298.9" r="2.35" fill="url(#gA)"/>
<circle cx="465.1" cy="326.7" r="2.35" fill="url(#gA)"/>
<circle cx="475.2" cy="311.8" r="2.35" fill="url(#gA)"/>
<circle cx="475.3" cy="306.6" r="2.35" fill="url(#gA)"/>
<circle cx="470.3" cy="319.4" r="2.35" fill="url(#gA)"/>
<circle cx="470.9" cy="303.9" r="2.35" fill="url(#gA)"/>
<circle cx="460.7" cy="329.2" r="2.35" fill="url(#gA)"/>
<circle cx="470.7" cy="314.2" r="2.35" fill="url(#gA)"/>
<circle cx="452.9" cy="304.1" r="2.35" fill="url(#gA)"/>
<circle cx="461.9" cy="303.8" r="2.35" fill="url(#gA)"/>
<circle cx="465.8" cy="321.8" r="2.35" fill="url(#gA)"/>
<circle cx="466.5" cy="306.4" r="2.35" fill="url(#gA)"/>
<circle cx="448.5" cy="306.5" r="2.35" fill="url(#gA)"/>
<circle cx="466.4" cy="311.5" r="2.35" fill="url(#gA)"/>
<circle cx="457.5" cy="306.3" r="2.35" fill="url(#gA)"/>
<circle cx="461.8" cy="319.2" r="2.35" fill="url(#gA)"/>
<circle cx="462.0" cy="314.0" r="2.35" fill="url(#gA)"/>
<circle cx="457.6" cy="311.3" r="2.35" fill="url(#gA)"/>
<circle cx="457.4" cy="321.6" r="2.35" fill="url(#gA)"/>
<circle cx="453.1" cy="313.8" r="2.35" fill="url(#gA)"/>
<circle cx="481.4" cy="265.3" r="2.5" fill="url(#gR)"/>
<circle cx="461.1" cy="276.9" r="2.5" fill="url(#gR)"/>
<circle cx="429.3" cy="302" r="2.5" fill="url(#gR)"/>
<circle cx="433.7" cy="305.8" r="2.3" fill="url(#gN)"/>
<circle cx="431.4" cy="313.6" r="2.4" fill="url(#gR)"/>
<circle cx="435" cy="318.8" r="1.3" fill="url(#gW)"/>
<circle cx="433.1" cy="329" r="2.4" fill="url(#gR)"/>
<circle cx="439.5" cy="337.6" r="2.4" fill="url(#gR)"/>
<circle cx="511.7" cy="271" r="2.5" fill="url(#gR)"/>
<circle cx="524.7" cy="250.9" r="2.6" fill="url(#gR)"/>
<circle cx="559.4" cy="248" r="2.4" fill="url(#gR)"/>
<circle cx="562.3" cy="258" r="1.4" fill="url(#gW)"/>
<circle cx="566" cy="274" r="2.4" fill="url(#gR)"/>
<circle cx="565.2" cy="285.6" r="2.4" fill="url(#gR)"/>
<circle cx="562.3" cy="290" r="1.3" fill="url(#gW)"/>
<circle cx="529" cy="292.8" r="2.6" fill="url(#gR)"/>
<circle cx="534.8" cy="304.4" r="2.4" fill="url(#gR)"/>
<circle cx="533.4" cy="308.7" r="1.3" fill="url(#gW)"/>
<circle cx="516" cy="317.4" r="2.4" fill="url(#gR)"/>
<circle cx="485.7" cy="318.8" r="2.6" fill="url(#gR)"/>
<circle cx="495.8" cy="327.5" r="2.4" fill="url(#gR)"/>
<circle cx="494.4" cy="333.3" r="1.3" fill="url(#gW)"/>
<clipPath id="cb"><rect x="582" y="33" width="202" height="173"/></clipPath>
<filter id="fb" x="0" y="0" width="1" height="1"><feGaussianBlur stdDeviation="0.9"/></filter>
<g clip-path="url(#cb)"><g filter="url(#fb)">
<rect x="577" y="28" width="212" height="183" fill="#333"/>
<ellipse cx="630" cy="127" rx="6" ry="5" fill="#262626" transform="rotate(113 630 127)"/>
<ellipse cx="595" cy="35" rx="8" ry="4" fill="#262626" transform="rotate(42 595 35)"/>
<ellipse cx="783" cy="114" rx="8" ry="4" fill="#262626" transform="rotate(115 783 114)"/>
<ellipse cx="612" cy="143" rx="8" ry="5" fill="#262626" transform="rotate(133 612 143)"/>
<ellipse cx="718" cy="44" rx="8" ry="5" fill="#262626" transform="rotate(54 718 44)"/>
<ellipse cx="588" cy="183" rx="6" ry="5" fill="#262626" transform="rotate(158 588 183)"/>
<ellipse cx="726" cy="192" rx="6" ry="5" fill="#262626" transform="rotate(80 726 192)"/>
<ellipse cx="771" cy="185" rx="4" ry="3" fill="#262626" transform="rotate(39 771 185)"/>
<ellipse cx="777" cy="108" rx="7" ry="4" fill="#262626" transform="rotate(91 777 108)"/>
<ellipse cx="660" cy="94" rx="7" ry="5" fill="#262626" transform="rotate(163 660 94)"/>
<ellipse cx="720" cy="194" rx="8" ry="6" fill="#262626" transform="rotate(121 720 194)"/>
<ellipse cx="615" cy="182" rx="9" ry="6" fill="#262626" transform="rotate(102 615 182)"/>
<ellipse cx="726" cy="70" rx="8" ry="5" fill="#262626" transform="rotate(51 726 70)"/>
<ellipse cx="595" cy="181" rx="9" ry="3" fill="#262626" transform="rotate(144 595 181)"/>
<ellipse cx="665" cy="59" rx="5" ry="5" fill="#262626" transform="rotate(157 665 59)"/>
<ellipse cx="591" cy="139" rx="4" ry="5" fill="#262626" transform="rotate(60 591 139)"/>
<ellipse cx="760" cy="203" rx="7" ry="6" fill="#262626" transform="rotate(56 760 203)"/>
<ellipse cx="598" cy="137" rx="4" ry="4" fill="#262626" transform="rotate(73 598 137)"/>
<ellipse cx="705" cy="60" rx="4" ry="6" fill="#262626" transform="rotate(56 705 60)"/>
<ellipse cx="776" cy="188" rx="6" ry="4" fill="#262626" transform="rotate(94 776 188)"/>
<ellipse cx="712" cy="136" rx="7" ry="5" fill="#262626" transform="rotate(169 712 136)"/>
<ellipse cx="684" cy="108" rx="8" ry="4" fill="#262626" transform="rotate(54 684 108)"/>
<ellipse cx="780" cy="123" rx="7" ry="3" fill="#262626" transform="rotate(75 780 123)"/>
<ellipse cx="699" cy="36" rx="7" ry="5" fill="#262626" transform="rotate(11 699 36)"/>
<ellipse cx="709" cy="114" rx="7" ry="4" fill="#262626" transform="rotate(127 709 114)"/>
<path d="M740.6 17.7C744.3 105.1 823.1 4.6 840.5 57.7M634.3 141.1C621.2 169.3 622.5 190.3 660.0 193.7M634.7 93.3C641.4 79.9 654.6 67.4 640.7 51.1M683.0 152.2C659.5 173.8 659.8 198.3 674.2 224.5M586.6 81.6C576.5 123.2 484.7 117.4 524.7 188.2M581.3 171.1C622.6 195.6 550.7 243.2 600.7 266.0M690.2 53.6C645.8 -6.9 677.9 -39.0 733.4 -62.4M582.7 144.9C560.8 128.3 560.9 76.8 513.2 101.1M645.8 101.8C595.9 67.1 620.1 166.9 574.9 140.9M677.5 190.3C661.7 163.0 683.3 97.3 612.2 126.9M615.7 171.8C636.9 143.2 621.8 92.6 670.8 80.9M777.3 196.5C741.1 108.6 791.0 90.2 863.3 89.8" stroke="#2c2c2c" stroke-width="2.4" fill="none" opacity="0.6"/>
<path d="M740.6 17.7C744.3 105.1 823.1 4.6 840.5 57.7M634.3 141.1C621.2 169.3 622.5 190.3 660.0 193.7M634.7 93.3C641.4 79.9 654.6 67.4 640.7 51.1M582.7 144.9C560.8 128.3 560.9 76.8 513.2 101.1M615.7 171.8C636.9 143.2 621.8 92.6 670.8 80.9" stroke="rgb(115,115,115)" stroke-width="1.1" fill="none"/>
<path d="M683.0 152.2C659.5 173.8 659.8 198.3 674.2 224.5M586.6 81.6C576.5 123.2 484.7 117.4 524.7 188.2M581.3 171.1C622.6 195.6 550.7 243.2 600.7 266.0M645.8 101.8C595.9 67.1 620.1 166.9 574.9 140.9M777.3 196.5C741.1 108.6 791.0 90.2 863.3 89.8" stroke="rgb(100,100,100)" stroke-width="1.1" fill="none"/>
<path d="M690.2 53.6C645.8 -6.9 677.9 -39.0 733.4 -62.4M677.5 190.3C661.7 163.0 683.3 97.3 612.2 126.9" stroke="rgb(130,130,130)" stroke-width="1.1" fill="none"/>
<path d="M780.7 160.8C857.2 214.5 864.8 135.1 895.8 101.1M678.4 38.7C656.1 87.4 635.9 34.1 614.5 37.5M789.2 143.4C745.7 141.2 767.6 181.2 753.8 198.2M647.1 55.0C593.7 108.8 580.2 -17.9 528.3 28.8M761.3 14.6C666.5 47.0 669.7 -14.3 674.1 -76.7M711.6 123.7C722.8 166.4 744.3 178.1 780.2 146.5M573.2 23.6C557.2 10.5 544.4 25.7 530.1 28.3M638.4 80.0C606.0 99.4 615.7 150.0 576.2 164.2M801.1 104.3C800.1 124.0 806.1 136.9 829.2 133.3M605.2 92.5C560.2 86.4 577.5 -0.7 511.5 20.4M776.5 24.3C725.0 20.5 782.7 -89.4 695.8 -59.0M673.5 65.2C621.2 130.2 599.4 61.7 566.8 40.8" stroke="#2c2c2c" stroke-width="2.4" fill="none" opacity="0.6"/>
<path d="M780.7 160.8C857.2 214.5 864.8 135.1 895.8 101.1M678.4 38.7C656.1 87.4 635.9 34.1 614.5 37.5M789.2 143.4C745.7 141.2 767.6 181.2 753.8 198.2M647.1 55.0C593.7 108.8 580.2 -17.9 528.3 28.8M711.6 123.7C722.8 166.4 744.3 178.1 780.2 146.5M638.4 80.0C606.0 99.4 615.7 150.0 576.2 164.2" stroke="rgb(100,100,100)" stroke-width="1.1" fill="none"/>
<path d="M761.3 14.6C666.5 47.0 669.7 -14.3 674.1 -76.7M573.2 23.6C557.2 10.5 544.4 25.7 530.1 28.3M776.5 24.3C725.0 20.5 782.7 -89.4 695.8 -59.0M673.5 65.2C621.2 130.2 599.4 61.7 566.8 40.8" stroke="rgb(115,115,115)" stroke-width="1.1" fill="none"/>
<path d="M801.1 104.3C800.1 124.0 806.1 136.9 829.2 133.3M605.2 92.5C560.2 86.4 577.5 -0.7 511.5 20.4" stroke="rgb(130,130,130)" stroke-width="1.1" fill="none"/>
<path d="M593.5 19.0C561.2 53.6 479.7 63.1 531.0 140.7M674.3 39.2C748.7 32.0 747.6 -6.8 715.4 -58.7M588.3 80.8C557.1 31.6 508.1 69.7 469.6 56.6M749.4 22.4C746.8 57.0 791.3 19.1 791.2 49.7M644.6 194.5C661.8 195.8 676.0 216.0 695.5 202.7M702.1 183.1C739.6 194.0 768.9 239.9 815.9 209.5M696.2 34.3C684.7 -29.2 620.4 59.3 606.5 3.0M620.6 51.3C579.4 85.2 637.9 119.0 620.6 152.9M707.1 213.0C654.9 222.6 601.5 235.5 579.0 165.4M766.2 219.0C732.1 224.7 677.2 195.2 682.7 268.1M679.1 149.9C672.4 110.6 721.4 145.4 723.0 116.9M687.2 107.4C662.0 92.4 651.9 74.5 675.8 49.9" stroke="#2c2c2c" stroke-width="2.4" fill="none" opacity="0.6"/>
<path d="M593.5 19.0C561.2 53.6 479.7 63.1 531.0 140.7M588.3 80.8C557.1 31.6 508.1 69.7 469.6 56.6M749.4 22.4C746.8 57.0 791.3 19.1 791.2 49.7M702.1 183.1C739.6 194.0 768.9 239.9 815.9 209.5M696.2 34.3C684.7 -29.2 620.4 59.3 606.5 3.0" stroke="rgb(100,100,100)" stroke-width="1.1" fill="none"/>
<path d="M674.3 39.2C748.7 32.0 747.6 -6.8 715.4 -58.7M766.2 219.0C732.1 224.7 677.2 195.2 682.7 268.1M679.1 149.9C672.4 110.6 721.4 145.4 723.0 116.9M687.2 107.4C662.0 92.4 651.9 74.5 675.8 49.9" stroke="rgb(130,130,130)" stroke-width="1.1" fill="none"/>
<path d="M644.6 194.5C661.8 195.8 676.0 216.0 695.5 202.7M620.6 51.3C579.4 85.2 637.9 119.0 620.6 152.9M707.1 213.0C654.9 222.6 601.5 235.5 579.0 165.4" stroke="rgb(115,115,115)" stroke-width="1.1" fill="none"/>
<path d="M686.8 212.1C739.1 212.0 744.7 177.2 742.6 136.7M706.0 137.5C744.7 93.6 786.7 81.2 834.3 124.4M610.6 134.4C561.4 167.3 626.2 192.3 616.7 222.4M678.1 140.6C625.1 86.5 595.2 145.9 557.1 165.2M802.3 28.4C863.0 84.0 849.1 -78.5 914.2 -9.9M777.6 151.1C759.4 132.0 764.8 117.1 785.6 104.8M749.7 42.3C668.7 74.9 749.8 -61.2 672.3 -32.2M771.4 79.8C772.7 163.5 738.8 179.8 671.3 132.1M570.7 109.4C513.1 90.5 546.1 62.5 563.4 36.1M679.6 57.8C628.7 55.1 606.7 3.4 563.0 -11.3M775.8 29.2C748.8 37.4 738.6 82.7 699.3 63.7M789.8 92.7C757.7 49.2 832.9 20.9 806.0 -21.9" stroke="#2c2c2c" stroke-width="2.4" fill="none" opacity="0.6"/>
<path d="M686.8 212.1C739.1 212.0 744.7 177.2 742.6 136.7M706.0 137.5C744.7 93.6 786.7 81.2 834.3 124.4M678.1 140.6C625.1 86.5 595.2 145.9 557.1 165.2M771.4 79.8C772.7 163.5 738.8 179.8 671.3 132.1M570.7 109.4C513.1 90.5 546.1 62.5 563.4 36.1" stroke="rgb(115,115,115)" stroke-width="1.1" fill="none"/>
<path d="M610.6 134.4C561.4 167.3 626.2 192.3 616.7 222.4M775.8 29.2C748.8 37.4 738.6 82.7 699.3 63.7M789.8 92.7C757.7 49.2 832.9 20.9 806.0 -21.9" stroke="rgb(130,130,130)" stroke-width="1.1" fill="none"/>
<path d="M802.3 28.4C863.0 84.0 849.1 -78.5 914.2 -9.9M777.6 151.1C759.4 132.0 764.8 117.1 785.6 104.8M749.7 42.3C668.7 74.9 749.8 -61.2 672.3 -32.2M679.6 57.8C628.7 55.1 606.7 3.4 563.0 -11.3" stroke="rgb(100,100,100)" stroke-width="1.1" fill="none"/>
<path d="M790.5 187.1C847.2 187.9 851.7 254.1 895.6 270.9M589.4 118.2C541.5 128.9 535.3 170.8 522.5 207.8M718.3 168.5C691.6 219.8 753.2 206.7 763.8 230.8M787.5 43.1C754.0 67.1 742.3 103.4 732.6 140.8M607.2 115.7C546.6 65.7 566.8 32.2 629.5 7.5M693.4 170.5C689.0 195.6 634.6 179.7 651.2 222.1M677.8 70.8C719.3 23.6 718.7 -8.5 647.1 -15.4M693.0 177.4C729.8 257.2 679.5 271.3 617.9 276.9M726.9 133.2C750.0 137.8 758.7 119.5 770.1 105.8M741.9 186.8C685.5 154.1 725.2 120.8 741.1 87.6M693.8 49.3C736.0 76.0 768.3 107.4 748.6 163.7M777.7 215.2C745.6 227.1 716.9 242.6 707.0 279.0" stroke="#2c2c2c" stroke-width="2.4" fill="none" opacity="0.6"/>
<path d="M790.5 187.1C847.2 187.9 851.7 254.1 895.6 270.9M787.5 43.1C754.0 67.1 742.3 103.4 732.6 140.8M607.2 115.7C546.6 65.7 566.8 32.2 629.5 7.5M726.9 133.2C750.0 137.8 758.7 119.5 770.1 105.8M777.7 215.2C745.6 227.1 716.9 242.6 707.0 279.0" stroke="rgb(130,130,130)" stroke-width="1.1" fill="none"/>
<path d="M589.4 118.2C541.5 128.9 535.3 170.8 522.5 207.8M718.3 168.5C691.6 219.8 753.2 206.7 763.8 230.8M693.4 170.5C689.0 195.6 634.6 179.7 651.2 222.1M693.0 177.4C729.8 257.2 679.5 271.3 617.9 276.9M741.9 186.8C685.5 154.1 725.2 120.8 741.1 87.6" stroke="rgb(100,100,100)" stroke-width="1.1" fill="none"/>
<path d="M677.8 70.8C719.3 23.6 718.7 -8.5 647.1 -15.4M693.8 49.3C736.0 76.0 768.3 107.4 748.6 163.7" stroke="rgb(115,115,115)" stroke-width="1.1" fill="none"/>
<path d="M728.2 76.8C758.0 63.2 790.5 51.8 784.5 8.7M588.0 174.0C578.5 194.2 619.4 209.2 593.8 231.0M613.3 186.1C615.9 91.2 672.6 104.1 733.7 125.8M777.9 41.9C715.9 -10.4 773.7 -30.0 804.8 -56.8M684.4 119.2C711.3 102.0 735.6 106.7 757.9 128.0M594.5 195.8C586.1 132.7 553.5 102.3 487.7 117.1M803.5 56.7C814.5 82.0 850.7 47.5 858.8 79.9M588.4 22.1C621.4 2.8 623.9 40.7 641.4 50.3M578.5 194.4C651.6 205.5 599.6 250.1 601.4 280.3M659.2 51.5C675.2 10.2 705.7 -11.3 749.5 -14.7M649.5 98.6C680.1 45.3 723.6 58.7 767.7 75.8M691.2 46.9C723.6 52.0 753.2 77.4 788.7 60.6" stroke="#2c2c2c" stroke-width="2.4" fill="none" opacity="0.6"/>
<path d="M728.2 76.8C758.0 63.2 790.5 51.8 784.5 8.7M777.9 41.9C715.9 -10.4 773.7 -30.0 804.8 -56.8M691.2 46.9C723.6 52.0 753.2 77.4 788.7 60.6" stroke="rgb(100,100,100)" stroke-width="1.1" fill="none"/>
<path d="M588.0 174.0C578.5 194.2 619.4 209.2 593.8 231.0M613.3 186.1C615.9 91.2 672.6 104.1 733.7 125.8M684.4 119.2C711.3 102.0 735.6 106.7 757.9 128.0M588.4 22.1C621.4 2.8 623.9 40.7 641.4 50.3M578.5 194.4C651.6 205.5 599.6 250.1 601.4 280.3M659.2 51.5C675.2 10.2 705.7 -11.3 749.5 -14.7" stroke="rgb(130,130,130)" stroke-width="1.1" fill="none"/>
<path d="M594.5 195.8C586.1 132.7 553.5 102.3 487.7 117.1M803.5 56.7C814.5 82.0 850.7 47.5 858.8 79.9M649.5 98.6C680.1 45.3 723.6 58.7 767.7 75.8" stroke="rgb(115,115,115)" stroke-width="1.1" fill="none"/>
<path d="M588.6 48.8C575.5 84.8 558.3 54.5 542.8 51.6M569.9 165.1C571.4 179.7 543.3 196.2 572.9 208.9M620.5 95.9C671.3 102.2 593.2 159.0 647.2 164.1M574.6 168.0C574.8 208.1 480.9 233.3 555.9 285.3M680.2 132.5C693.4 194.2 732.5 120.6 752.6 146.4M727.1 219.5C699.3 237.5 690.1 226.8 693.4 197.3M683.7 115.6C717.8 134.6 652.4 193.6 717.7 200.0M644.3 114.9C639.3 155.2 568.0 146.3 581.2 200.0M791.1 31.7C854.0 92.6 789.8 117.9 757.4 152.1M691.8 178.8C616.7 143.3 637.2 244.6 590.5 249.7M648.9 52.2C650.8 23.3 692.5 7.9 675.7 -27.3M627.2 49.2C654.4 10.0 597.0 -13.4 608.8 -49.7" stroke="#2c2c2c" stroke-width="2.4" fill="none" opacity="0.6"/>
<path d="M588.6 48.8C575.5 84.8 558.3 54.5 542.8 51.6M574.6 168.0C574.8 208.1 480.9 233.3 555.9 285.3M683.7 115.6C717.8 134.6 652.4 193.6 717.7 200.0M791.1 31.7C854.0 92.6 789.8 117.9 757.4 152.1M648.9 52.2C650.8 23.3 692.5 7.9 675.7 -27.3M627.2 49.2C654.4 10.0 597.0 -13.4 608.8 -49.7" stroke="rgb(115,115,115)" stroke-width="1.1" fill="none"/>
<path d="M569.9 165.1C571.4 179.7 543.3 196.2 572.9 208.9M680.2 132.5C693.4 194.2 732.5 120.6 752.6 146.4M727.1 219.5C699.3 237.5 690.1 226.8 693.4 197.3" stroke="rgb(100,100,100)" stroke-width="1.1" fill="none"/>
<path d="M620.5 95.9C671.3 102.2 593.2 159.0 647.2 164.1M644.3 114.9C639.3 155.2 568.0 146.3 581.2 200.0M691.8 178.8C616.7 143.3 637.2 244.6 590.5 249.7" stroke="rgb(130,130,130)" stroke-width="1.1" fill="none"/>
<path d="M572.3 49.6C492.9 8.0 610.7 -31.6 573.6 -72.7M585.5 63.5C657.3 69.7 675.7 40.2 643.4 -23.2M674.9 198.0C558.0 228.4 564.2 165.2 590.4 86.8M643.9 79.3C622.5 145.7 555.1 69.3 527.6 116.8M788.4 43.5C803.8 24.6 820.2 16.6 839.4 38.8M686.8 120.6C731.0 144.1 744.6 121.3 746.8 81.0M605.0 29.9C578.1 -3.2 654.6 16.9 628.4 -15.7M790.2 67.3C784.5 116.4 816.9 118.9 852.1 117.9M717.3 175.2C743.4 165.8 747.1 134.8 769.0 121.3M632.6 214.3C624.8 268.1 605.2 289.9 559.5 241.3M738.2 29.5C771.3 88.2 698.5 73.7 687.9 102.2M650.2 180.0C693.2 159.0 685.8 250.4 734.1 217.6" stroke="#2c2c2c" stroke-width="2.4" fill="none" opacity="0.6"/>
<path d="M572.3 49.6C492.9 8.0 610.7 -31.6 573.6 -72.7M788.4 43.5C803.8 24.6 820.2 16.6 839.4 38.8M738.2 29.5C771.3 88.2 698.5 73.7 687.9 102.2" stroke="rgb(130,130,130)" stroke-width="1.1" fill="none"/>
<path d="M585.5 63.5C657.3 69.7 675.7 40.2 643.4 -23.2M686.8 120.6C731.0 144.1 744.6 121.3 746.8 81.0M632.6 214.3C624.8 268.1 605.2 289.9 559.5 241.3" stroke="rgb(115,115,115)" stroke-width="1.1" fill="none"/>
<path d="M674.9 198.0C558.0 228.4 564.2 165.2 590.4 86.8M643.9 79.3C622.5 145.7 555.1 69.3 527.6 116.8M605.0 29.9C578.1 -3.2 654.6 16.9 628.4 -15.7M790.2 67.3C784.5 116.4 816.9 118.9 852.1 117.9M717.3 175.2C743.4 165.8 747.1 134.8 769.0 121.3M650.2 180.0C693.2 159.0 685.8 250.4 734.1 217.6" stroke="rgb(100,100,100)" stroke-width="1.1" fill="none"/>
<path d="M643.1 104.8C677.6 86.6 657.2 162.3 696.5 135.9M614.9 199.5C641.3 168.1 658.1 137.6 606.9 113.5M791.4 205.4C831.5 232.9 843.3 174.5 875.5 177.8M784.7 75.2C787.4 32.8 828.8 78.6 838.2 51.7M683.9 26.1C669.2 57.0 644.9 33.8 625.3 36.4M645.4 171.1C601.4 149.0 622.5 125.7 644.1 102.3M669.4 56.8C632.5 101.6 590.9 87.3 548.8 66.4M652.2 47.4C637.9 72.6 625.0 98.4 619.4 127.2M793.5 74.4C822.0 62.1 836.6 124.2 869.5 88.6M620.7 184.8C638.2 188.6 655.9 190.1 673.8 188.2M791.9 13.4C828.7 -18.2 880.2 93.7 910.6 1.2M799.0 20.5C808.5 31.3 819.7 41.5 815.4 58.4" stroke="#2c2c2c" stroke-width="2.4" fill="none" opacity="0.6"/>
<path d="M643.1 104.8C677.6 86.6 657.2 162.3 696.5 135.9M791.4 205.4C831.5 232.9 843.3 174.5 875.5 177.8M669.4 56.8C632.5 101.6 590.9 87.3 548.8 66.4M793.5 74.4C822.0 62.1 836.6 124.2 869.5 88.6" stroke="rgb(130,130,130)" stroke-width="1.1" fill="none"/>
<path d="M614.9 199.5C641.3 168.1 658.1 137.6 606.9 113.5M784.7 75.2C787.4 32.8 828.8 78.6 838.2 51.7M645.4 171.1C601.4 149.0 622.5 125.7 644.1 102.3M652.2 47.4C637.9 72.6 625.0 98.4 619.4 127.2M791.9 13.4C828.7 -18.2 880.2 93.7 910.6 1.2" stroke="rgb(115,115,115)" stroke-width="1.1" fill="none"/>
<path d="M683.9 26.1C669.2 57.0 644.9 33.8 625.3 36.4M620.7 184.8C638.2 188.6 655.9 190.1 673.8 188.2M799.0 20.5C808.5 31.3 819.7 41.5 815.4 58.4" stroke="rgb(100,100,100)" stroke-width="1.1" fill="none"/>
<path d="M708.0 185.8C681.4 175.3 666.1 199.6 645.1 206.2M625.0 22.4C581.7 11.0 534.1 -9.6 532.2 66.4M621.9 41.9C625.6 2.4 688.9 -34.0 628.1 -76.9M594.4 16.5C640.2 -34.9 638.4 76.2 679.4 41.4M675.1 154.7C720.2 155.2 740.9 104.7 784.5 102.1M715.0 75.6C718.3 109.3 762.5 60.9 763.2 99.7M669.5 72.3C665.4 94.9 659.4 117.5 667.1 140.6M688.3 100.7C780.8 118.0 754.7 47.9 761.1 1.9M638.6 140.3C635.7 169.9 650.5 179.5 677.8 175.3M586.8 155.4C523.8 137.5 495.9 153.0 523.6 221.6M670.4 79.3C589.1 66.1 645.0 147.1 610.7 166.2M627.6 215.3C645.7 195.5 663.8 175.3 694.9 190.5" stroke="#2c2c2c" stroke-width="2.4" fill="none" opacity="0.6"/>
<path d="M708.0 185.8C681.4 175.3 666.1 199.6 645.1 206.2M625.0 22.4C581.7 11.0 534.1 -9.6 532.2 66.4M621.9 41.9C625.6 2.4 688.9 -34.0 628.1 -76.9M675.1 154.7C720.2 155.2 740.9 104.7 784.5 102.1M586.8 155.4C523.8 137.5 495.9 153.0 523.6 221.6" stroke="rgb(130,130,130)" stroke-width="1.1" fill="none"/>
<path d="M594.4 16.5C640.2 -34.9 638.4 76.2 679.4 41.4M715.0 75.6C718.3 109.3 762.5 60.9 763.2 99.7M638.6 140.3C635.7 169.9 650.5 179.5 677.8 175.3" stroke="rgb(115,115,115)" stroke-width="1.1" fill="none"/>
<path d="M669.5 72.3C665.4 94.9 659.4 117.5 667.1 140.6M688.3 100.7C780.8 118.0 754.7 47.9 761.1 1.9M670.4 79.3C589.1 66.1 645.0 147.1 610.7 166.2M627.6 215.3C645.7 195.5 663.8 175.3 694.9 190.5" stroke="rgb(100,100,100)" stroke-width="1.1" fill="none"/>
<path d="M663.0 101.0C760.6 161.3 765.2 94.7 767.3 24.6M605.6 146.5C679.8 230.6 657.0 275.6 549.2 286.3" stroke="#222" stroke-width="7.0" fill="none" opacity="0.6"/>
<path d="M741.8 191.6C588.3 254.4 612.6 152.7 623.3 63.5" stroke="#222" stroke-width="4.5" fill="none" opacity="0.6"/>
<path d="M626.8 115.8C732.2 173.5 681.0 213.5 611.5 251.4M691.4 94.4C658.6 196.9 779.3 106.7 781.0 165.8" stroke="#222" stroke-width="5.0" fill="none" opacity="0.6"/>
<path d="M598.3 163.3C561.4 132.9 464.3 126.4 552.1 46.7" stroke="#222" stroke-width="6.0" fill="none" opacity="0.6"/>
<path d="M663.0 101.0C760.6 161.3 765.2 94.7 767.3 24.6M605.6 146.5C679.8 230.6 657.0 275.6 549.2 286.3" stroke="#bcbcbc" stroke-width="5" fill="none"/>
<path d="M741.8 191.6C588.3 254.4 612.6 152.7 623.3 63.5" stroke="#bcbcbc" stroke-width="2.5" fill="none"/>
<path d="M626.8 115.8C732.2 173.5 681.0 213.5 611.5 251.4M691.4 94.4C658.6 196.9 779.3 106.7 781.0 165.8" stroke="#bcbcbc" stroke-width="3" fill="none"/>
<path d="M598.3 163.3C561.4 132.9 464.3 126.4 552.1 46.7" stroke="#bcbcbc" stroke-width="4" fill="none"/>
<path d="M663.0 101.0C760.6 161.3 765.2 94.7 767.3 24.6M605.6 146.5C679.8 230.6 657.0 275.6 549.2 286.3" stroke="rgb(105,105,105)" stroke-width="3.5" fill="none"/>
<path d="M741.8 191.6C588.3 254.4 612.6 152.7 623.3 63.5" stroke="rgb(115,115,115)" stroke-width="1.0" fill="none"/>
<path d="M626.8 115.8C732.2 173.5 681.0 213.5 611.5 251.4M691.4 94.4C658.6 196.9 779.3 106.7 781.0 165.8" stroke="rgb(105,105,105)" stroke-width="1.5" fill="none"/>
<path d="M598.3 163.3C561.4 132.9 464.3 126.4 552.1 46.7" stroke="rgb(105,105,105)" stroke-width="2.5" fill="none"/>
<path d="M663.0 101.0C760.6 161.3 765.2 94.7 767.3 24.6M741.8 191.6C588.3 254.4 612.6 152.7 623.3 63.5M626.8 115.8C732.2 173.5 681.0 213.5 611.5 251.4M598.3 163.3C561.4 132.9 464.3 126.4 552.1 46.7M605.6 146.5C679.8 230.6 657.0 275.6 549.2 286.3M691.4 94.4C658.6 196.9 779.3 106.7 781.0 165.8" stroke="#8a8a8a" stroke-width="0.5" fill="none"/>
<path d="M597.2 40.0C674.1 176.1 605.3 202.9 484.3 190.5M799.1 65.4C764.0 119.6 664.6 124.3 681.4 218.4" stroke="#222" stroke-width="5.5" fill="none" opacity="0.6"/>
<path d="M567.2 86.6C587.5 29.8 554.9 -26.3 565.2 -82.9M710.7 50.9C661.3 88.7 655.3 39.3 637.2 14.3" stroke="#222" stroke-width="7.0" fill="none" opacity="0.6"/>
<path d="M669.0 126.8C696.6 108.8 757.8 110.1 712.9 50.5" stroke="#222" stroke-width="5.0" fill="none" opacity="0.6"/>
<path d="M795.2 191.9C856.5 194.4 895.2 209.7 843.1 276.5" stroke="#222" stroke-width="4.5" fill="none" opacity="0.6"/>
<path d="M597.2 40.0C674.1 176.1 605.3 202.9 484.3 190.5M799.1 65.4C764.0 119.6 664.6 124.3 681.4 218.4" stroke="#bcbcbc" stroke-width="3.5" fill="none"/>
<path d="M567.2 86.6C587.5 29.8 554.9 -26.3 565.2 -82.9M710.7 50.9C661.3 88.7 655.3 39.3 637.2 14.3" stroke="#bcbcbc" stroke-width="5" fill="none"/>
<path d="M669.0 126.8C696.6 108.8 757.8 110.1 712.9 50.5" stroke="#bcbcbc" stroke-width="3" fill="none"/>
<path d="M795.2 191.9C856.5 194.4 895.2 209.7 843.1 276.5" stroke="#bcbcbc" stroke-width="2.5" fill="none"/>
<path d="M597.2 40.0C674.1 176.1 605.3 202.9 484.3 190.5" stroke="rgb(105,105,105)" stroke-width="2.0" fill="none"/>
<path d="M799.1 65.4C764.0 119.6 664.6 124.3 681.4 218.4" stroke="rgb(115,115,115)" stroke-width="2.0" fill="none"/>
<path d="M567.2 86.6C587.5 29.8 554.9 -26.3 565.2 -82.9" stroke="rgb(115,115,115)" stroke-width="3.5" fill="none"/>
<path d="M669.0 126.8C696.6 108.8 757.8 110.1 712.9 50.5" stroke="rgb(115,115,115)" stroke-width="1.5" fill="none"/>
<path d="M795.2 191.9C856.5 194.4 895.2 209.7 843.1 276.5" stroke="rgb(115,115,115)" stroke-width="1.0" fill="none"/>
<path d="M710.7 50.9C661.3 88.7 655.3 39.3 637.2 14.3" stroke="rgb(125,125,125)" stroke-width="3.5" fill="none"/>
<path d="M597.2 40.0C674.1 176.1 605.3 202.9 484.3 190.5M799.1 65.4C764.0 119.6 664.6 124.3 681.4 218.4M567.2 86.6C587.5 29.8 554.9 -26.3 565.2 -82.9M669.0 126.8C696.6 108.8 757.8 110.1 712.9 50.5M795.2 191.9C856.5 194.4 895.2 209.7 843.1 276.5M710.7 50.9C661.3 88.7 655.3 39.3 637.2 14.3" stroke="#8a8a8a" stroke-width="0.5" fill="none"/>
<path d="M652.6 161.5C628.1 199.7 678.1 249.8 632.9 284.8" stroke="#222" stroke-width="7.0" fill="none" opacity="0.6"/>
<path d="M614.9 110.2C578.6 68.3 544.5 21.4 477.5 52.1M764.1 74.1C786.7 3.7 828.6 64.7 860.8 59.8M689.9 107.1C666.4 98.3 685.0 43.5 638.4 60.0" stroke="#222" stroke-width="5.5" fill="none" opacity="0.6"/>
<path d="M718.2 73.1C757.4 59.9 800.1 63.0 838.9 47.7" stroke="#222" stroke-width="5.0" fill="none" opacity="0.6"/>
<path d="M619.2 94.3C623.1 117.5 685.3 126.3 636.2 162.7" stroke="#222" stroke-width="6.0" fill="none" opacity="0.6"/>
<path d="M652.6 161.5C628.1 199.7 678.1 249.8 632.9 284.8" stroke="#bcbcbc" stroke-width="5" fill="none"/>
<path d="M614.9 110.2C578.6 68.3 544.5 21.4 477.5 52.1M764.1 74.1C786.7 3.7 828.6 64.7 860.8 59.8M689.9 107.1C666.4 98.3 685.0 43.5 638.4 60.0" stroke="#bcbcbc" stroke-width="3.5" fill="none"/>
<path d="M718.2 73.1C757.4 59.9 800.1 63.0 838.9 47.7" stroke="#bcbcbc" stroke-width="3" fill="none"/>
<path d="M619.2 94.3C623.1 117.5 685.3 126.3 636.2 162.7" stroke="#bcbcbc" stroke-width="4" fill="none"/>
<path d="M652.6 161.5C628.1 199.7 678.1 249.8 632.9 284.8" stroke="rgb(125,125,125)" stroke-width="3.5" fill="none"/>
<path d="M614.9 110.2C578.6 68.3 544.5 21.4 477.5 52.1M764.1 74.1C786.7 3.7 828.6 64.7 860.8 59.8" stroke="rgb(125,125,125)" stroke-width="2.0" fill="none"/>
<path d="M718.2 73.1C757.4 59.9 800.1 63.0 838.9 47.7" stroke="rgb(125,125,125)" stroke-width="1.5" fill="none"/>
<path d="M689.9 107.1C666.4 98.3 685.0 43.5 638.4 60.0" stroke="rgb(105,105,105)" stroke-width="2.0" fill="none"/>
<path d="M619.2 94.3C623.1 117.5 685.3 126.3 636.2 162.7" stroke="rgb(105,105,105)" stroke-width="2.5" fill="none"/>
<path d="M652.6 161.5C628.1 199.7 678.1 249.8 632.9 284.8M614.9 110.2C578.6 68.3 544.5 21.4 477.5 52.1M764.1 74.1C786.7 3.7 828.6 64.7 860.8 59.8M718.2 73.1C757.4 59.9 800.1 63.0 838.9 47.7M689.9 107.1C666.4 98.3 685.0 43.5 638.4 60.0M619.2 94.3C623.1 117.5 685.3 126.3 636.2 162.7" stroke="#8a8a8a" stroke-width="0.5" fill="none"/>
<path d="M666.3 197.8C618.9 171.5 649.6 125.9 639.7 90.4M785.0 126.8C887.0 59.9 906.1 -0.5 771.1 -48.6" stroke="#222" stroke-width="6.0" fill="none" opacity="0.6"/>
<path d="M652.2 151.8C621.8 54.5 668.5 34.4 752.5 51.6M727.1 38.7C751.2 9.3 836.4 45.0 809.5 -38.6" stroke="#222" stroke-width="5.5" fill="none" opacity="0.6"/>
<path d="M710.8 42.7C761.3 24.1 815.3 -0.4 802.2 94.1" stroke="#222" stroke-width="7.0" fill="none" opacity="0.6"/>
<path d="M608.0 188.4C552.9 224.1 557.8 176.2 549.5 146.6" stroke="#222" stroke-width="4.5" fill="none" opacity="0.6"/>
<path d="M666.3 197.8C618.9 171.5 649.6 125.9 639.7 90.4M785.0 126.8C887.0 59.9 906.1 -0.5 771.1 -48.6" stroke="#bcbcbc" stroke-width="4" fill="none"/>
<path d="M652.2 151.8C621.8 54.5 668.5 34.4 752.5 51.6M727.1 38.7C751.2 9.3 836.4 45.0 809.5 -38.6" stroke="#bcbcbc" stroke-width="3.5" fill="none"/>
<path d="M710.8 42.7C761.3 24.1 815.3 -0.4 802.2 94.1" stroke="#bcbcbc" stroke-width="5" fill="none"/>
<path d="M608.0 188.4C552.9 224.1 557.8 176.2 549.5 146.6" stroke="#bcbcbc" stroke-width="2.5" fill="none"/>
<path d="M666.3 197.8C618.9 171.5 649.6 125.9 639.7 90.4M785.0 126.8C887.0 59.9 906.1 -0.5 771.1 -48.6" stroke="rgb(115,115,115)" stroke-width="2.5" fill="none"/>
<path d="M652.2 151.8C621.8 54.5 668.5 34.4 752.5 51.6" stroke="rgb(105,105,105)" stroke-width="2.0" fill="none"/>
<path d="M710.8 42.7C761.3 24.1 815.3 -0.4 802.2 94.1" stroke="rgb(125,125,125)" stroke-width="3.5" fill="none"/>
<path d="M727.1 38.7C751.2 9.3 836.4 45.0 809.5 -38.6" stroke="rgb(125,125,125)" stroke-width="2.0" fill="none"/>
<path d="M608.0 188.4C552.9 224.1 557.8 176.2 549.5 146.6" stroke="rgb(115,115,115)" stroke-width="1.0" fill="none"/>
<path d="M666.3 197.8C618.9 171.5 649.6 125.9 639.7 90.4M652.2 151.8C621.8 54.5 668.5 34.4 752.5 51.6M710.8 42.7C761.3 24.1 815.3 -0.4 802.2 94.1M785.0 126.8C887.0 59.9 906.1 -0.5 771.1 -48.6M727.1 38.7C751.2 9.3 836.4 45.0 809.5 -38.6M608.0 188.4C552.9 224.1 557.8 176.2 549.5 146.6" stroke="#8a8a8a" stroke-width="0.5" fill="none"/>
<path d="M763.4 52.1C755.3 89.5 765.7 129.6 746.1 165.2M631.4 149.4C486.4 92.4 752.2 24.1 626.4 -33.4" stroke="#222" stroke-width="5.5" fill="none" opacity="0.6"/>
<path d="M767.7 82.1C753.3 -36.2 874.4 67.0 894.3 4.7M619.9 189.6C552.4 285.8 550.5 351.2 694.4 347.8" stroke="#222" stroke-width="6.0" fill="none" opacity="0.6"/>
<path d="M616.7 81.7C452.4 123.0 544.7 -26.0 501.0 -74.2M645.2 110.1C677.8 114.3 698.1 70.0 734.1 87.6" stroke="#222" stroke-width="7.0" fill="none" opacity="0.6"/>
<path d="M763.4 52.1C755.3 89.5 765.7 129.6 746.1 165.2M631.4 149.4C486.4 92.4 752.2 24.1 626.4 -33.4" stroke="#bcbcbc" stroke-width="3.5" fill="none"/>
<path d="M767.7 82.1C753.3 -36.2 874.4 67.0 894.3 4.7M619.9 189.6C552.4 285.8 550.5 351.2 694.4 347.8" stroke="#bcbcbc" stroke-width="4" fill="none"/>
<path d="M616.7 81.7C452.4 123.0 544.7 -26.0 501.0 -74.2M645.2 110.1C677.8 114.3 698.1 70.0 734.1 87.6" stroke="#bcbcbc" stroke-width="5" fill="none"/>
<path d="M763.4 52.1C755.3 89.5 765.7 129.6 746.1 165.2" stroke="rgb(115,115,115)" stroke-width="2.0" fill="none"/>
<path d="M631.4 149.4C486.4 92.4 752.2 24.1 626.4 -33.4" stroke="rgb(105,105,105)" stroke-width="2.0" fill="none"/>
<path d="M767.7 82.1C753.3 -36.2 874.4 67.0 894.3 4.7" stroke="rgb(125,125,125)" stroke-width="2.5" fill="none"/>
<path d="M616.7 81.7C452.4 123.0 544.7 -26.0 501.0 -74.2" stroke="rgb(125,125,125)" stroke-width="3.5" fill="none"/>
<path d="M619.9 189.6C552.4 285.8 550.5 351.2 694.4 347.8" stroke="rgb(115,115,115)" stroke-width="2.5" fill="none"/>
<path d="M645.2 110.1C677.8 114.3 698.1 70.0 734.1 87.6" stroke="rgb(105,105,105)" stroke-width="3.5" fill="none"/>
<path d="M763.4 52.1C755.3 89.5 765.7 129.6 746.1 165.2M631.4 149.4C486.4 92.4 752.2 24.1 626.4 -33.4M767.7 82.1C753.3 -36.2 874.4 67.0 894.3 4.7M616.7 81.7C452.4 123.0 544.7 -26.0 501.0 -74.2M619.9 189.6C552.4 285.8 550.5 351.2 694.4 347.8M645.2 110.1C677.8 114.3 698.1 70.0 734.1 87.6" stroke="#8a8a8a" stroke-width="0.5" fill="none"/>
<path d="M702.8 90.6C676.0 19.7 635.7 67.0 599.4 78.8M669.0 133.3C751.4 183.6 623.4 239.9 673.5 291.2" stroke="#222" stroke-width="7.0" fill="none" opacity="0.6"/>
<path d="M670.2 166.6C699.8 127.1 805.6 148.7 763.0 51.2M605.0 66.4C645.6 122.4 705.8 180.0 591.8 223.0" stroke="#222" stroke-width="5.0" fill="none" opacity="0.6"/>
<path d="M788.9 38.5C790.9 -32.7 821.2 -57.2 887.9 -21.2" stroke="#222" stroke-width="4.5" fill="none" opacity="0.6"/>
<path d="M682.7 94.9C604.5 -36.3 727.6 -18.4 787.8 -47.1" stroke="#222" stroke-width="6.0" fill="none" opacity="0.6"/>
<path d="M702.8 90.6C676.0 19.7 635.7 67.0 599.4 78.8M669.0 133.3C751.4 183.6 623.4 239.9 673.5 291.2" stroke="#bcbcbc" stroke-width="5" fill="none"/>
<path d="M670.2 166.6C699.8 127.1 805.6 148.7 763.0 51.2M605.0 66.4C645.6 122.4 705.8 180.0 591.8 223.0" stroke="#bcbcbc" stroke-width="3" fill="none"/>
<path d="M788.9 38.5C790.9 -32.7 821.2 -57.2 887.9 -21.2" stroke="#bcbcbc" stroke-width="2.5" fill="none"/>
<path d="M682.7 94.9C604.5 -36.3 727.6 -18.4 787.8 -47.1" stroke="#bcbcbc" stroke-width="4" fill="none"/>
<path d="M702.8 90.6C676.0 19.7 635.7 67.0 599.4 78.8M669.0 133.3C751.4 183.6 623.4 239.9 673.5 291.2" stroke="rgb(105,105,105)" stroke-width="3.5" fill="none"/>
<path d="M670.2 166.6C699.8 127.1 805.6 148.7 763.0 51.2" stroke="rgb(105,105,105)" stroke-width="1.5" fill="none"/>
<path d="M788.9 38.5C790.9 -32.7 821.2 -57.2 887.9 -21.2" stroke="rgb(115,115,115)" stroke-width="1.0" fill="none"/>
<path d="M682.7 94.9C604.5 -36.3 727.6 -18.4 787.8 -47.1" stroke="rgb(105,105,105)" stroke-width="2.5" fill="none"/>
<path d="M605.0 66.4C645.6 122.4 705.8 180.0 591.8 223.0" stroke="rgb(115,115,115)" stroke-width="1.5" fill="none"/>
<path d="M702.8 90.6C676.0 19.7 635.7 67.0 599.4 78.8M670.2 166.6C699.8 127.1 805.6 148.7 763.0 51.2M788.9 38.5C790.9 -32.7 821.2 -57.2 887.9 -21.2M682.7 94.9C604.5 -36.3 727.6 -18.4 787.8 -47.1M605.0 66.4C645.6 122.4 705.8 180.0 591.8 223.0M669.0 133.3C751.4 183.6 623.4 239.9 673.5 291.2" stroke="#8a8a8a" stroke-width="0.5" fill="none"/>
<path d="M604.5 173.0C554.3 182.1 514.1 204.1 497.8 256.6M575.5 180.6C616.9 159.1 588.7 80.3 657.3 81.3" stroke="#222" stroke-width="6.0" fill="none" opacity="0.6"/>
<path d="M681.8 95.9C639.0 117.3 596.6 68.1 553.8 95.4M714.3 45.4C703.7 -54.1 765.9 -17.2 813.5 -7.6" stroke="#222" stroke-width="5.0" fill="none" opacity="0.6"/>
<path d="M735.5 85.2C630.8 49.3 732.1 -9.5 719.8 -55.6" stroke="#222" stroke-width="5.5" fill="none" opacity="0.6"/>
<path d="M584.6 175.1C575.8 95.7 543.1 85.9 487.8 141.9" stroke="#222" stroke-width="7.0" fill="none" opacity="0.6"/>
<path d="M604.5 173.0C554.3 182.1 514.1 204.1 497.8 256.6M575.5 180.6C616.9 159.1 588.7 80.3 657.3 81.3" stroke="#bcbcbc" stroke-width="4" fill="none"/>
<path d="M681.8 95.9C639.0 117.3 596.6 68.1 553.8 95.4M714.3 45.4C703.7 -54.1 765.9 -17.2 813.5 -7.6" stroke="#bcbcbc" stroke-width="3" fill="none"/>
<path d="M735.5 85.2C630.8 49.3 732.1 -9.5 719.8 -55.6" stroke="#bcbcbc" stroke-width="3.5" fill="none"/>
<path d="M584.6 175.1C575.8 95.7 543.1 85.9 487.8 141.9" stroke="#bcbcbc" stroke-width="5" fill="none"/>
<path d="M604.5 173.0C554.3 182.1 514.1 204.1 497.8 256.6" stroke="rgb(115,115,115)" stroke-width="2.5" fill="none"/>
<path d="M575.5 180.6C616.9 159.1 588.7 80.3 657.3 81.3" stroke="rgb(125,125,125)" stroke-width="2.5" fill="none"/>
<path d="M681.8 95.9C639.0 117.3 596.6 68.1 553.8 95.4" stroke="rgb(105,105,105)" stroke-width="1.5" fill="none"/>
<path d="M735.5 85.2C630.8 49.3 732.1 -9.5 719.8 -55.6" stroke="rgb(115,115,115)" stroke-width="2.0" fill="none"/>
<path d="M714.3 45.4C703.7 -54.1 765.9 -17.2 813.5 -7.6" stroke="rgb(125,125,125)" stroke-width="1.5" fill="none"/>
<path d="M584.6 175.1C575.8 95.7 543.1 85.9 487.8 141.9" stroke="rgb(115,115,115)" stroke-width="3.5" fill="none"/>
<path d="M604.5 173.0C554.3 182.1 514.1 204.1 497.8 256.6M575.5 180.6C616.9 159.1 588.7 80.3 657.3 81.3M681.8 95.9C639.0 117.3 596.6 68.1 553.8 95.4M735.5 85.2C630.8 49.3 732.1 -9.5 719.8 -55.6M714.3 45.4C703.7 -54.1 765.9 -17.2 813.5 -7.6M584.6 175.1C575.8 95.7 543.1 85.9 487.8 141.9" stroke="#8a8a8a" stroke-width="0.5" fill="none"/>
<path d="M801.2 191.1C712.1 158.6 832.8 123.5 800.0 90.3" stroke="#222" stroke-width="5.5" fill="none" opacity="0.6"/>
<path d="M677.9 133.8C660.2 186.4 710.5 238.9 678.0 291.5M586.4 127.5C642.4 103.9 678.0 41.6 747.2 43.2" stroke="#222" stroke-width="4.5" fill="none" opacity="0.6"/>
<path d="M696.1 81.1C675.8 55.9 641.8 32.9 682.8 -2.0M628.9 79.9C674.8 128.3 675.3 58.7 700.2 52.5" stroke="#222" stroke-width="6.0" fill="none" opacity="0.6"/>
<path d="M701.5 35.8C764.6 -14.4 781.1 65.6 821.5 78.8" stroke="#222" stroke-width="5.0" fill="none" opacity="0.6"/>
<path d="M801.2 191.1C712.1 158.6 832.8 123.5 800.0 90.3" stroke="#bcbcbc" stroke-width="3.5" fill="none"/>
<path d="M677.9 133.8C660.2 186.4 710.5 238.9 678.0 291.5M586.4 127.5C642.4 103.9 678.0 41.6 747.2 43.2" stroke="#bcbcbc" stroke-width="2.5" fill="none"/>
<path d="M696.1 81.1C675.8 55.9 641.8 32.9 682.8 -2.0M628.9 79.9C674.8 128.3 675.3 58.7 700.2 52.5" stroke="#bcbcbc" stroke-width="4" fill="none"/>
<path d="M701.5 35.8C764.6 -14.4 781.1 65.6 821.5 78.8" stroke="#bcbcbc" stroke-width="3" fill="none"/>
<path d="M801.2 191.1C712.1 158.6 832.8 123.5 800.0 90.3" stroke="rgb(115,115,115)" stroke-width="2.0" fill="none"/>
<path d="M677.9 133.8C660.2 186.4 710.5 238.9 678.0 291.5M586.4 127.5C642.4 103.9 678.0 41.6 747.2 43.2" stroke="rgb(115,115,115)" stroke-width="1.0" fill="none"/>
<path d="M696.1 81.1C675.8 55.9 641.8 32.9 682.8 -2.0" stroke="rgb(125,125,125)" stroke-width="2.5" fill="none"/>
<path d="M701.5 35.8C764.6 -14.4 781.1 65.6 821.5 78.8" stroke="rgb(105,105,105)" stroke-width="1.5" fill="none"/>
<path d="M628.9 79.9C674.8 128.3 675.3 58.7 700.2 52.5" stroke="rgb(105,105,105)" stroke-width="2.5" fill="none"/>
<path d="M801.2 191.1C712.1 158.6 832.8 123.5 800.0 90.3M677.9 133.8C660.2 186.4 710.5 238.9 678.0 291.5M696.1 81.1C675.8 55.9 641.8 32.9 682.8 -2.0M701.5 35.8C764.6 -14.4 781.1 65.6 821.5 78.8M586.4 127.5C642.4 103.9 678.0 41.6 747.2 43.2M628.9 79.9C674.8 128.3 675.3 58.7 700.2 52.5" stroke="#8a8a8a" stroke-width="0.5" fill="none"/>
<path d="M625.5 218.0C641.2 262.0 731.6 274.3 680.2 346.9" stroke="#222" stroke-width="5.0" fill="none" opacity="0.6"/>
<path d="M800.5 181.4C660.1 133.6 855.5 50.7 781.1 -4.0M798.7 104.6C721.5 116.1 839.0 184.5 771.1 198.8" stroke="#222" stroke-width="4.5" fill="none" opacity="0.6"/>
<path d="M800.2 84.1C919.2 37.7 984.0 52.9 932.3 200.4" stroke="#222" stroke-width="6.0" fill="none" opacity="0.6"/>
<path d="M802.8 41.3C826.4 4.7 877.0 5.2 901.3 -30.3" stroke="#222" stroke-width="7.0" fill="none" opacity="0.6"/>
<path d="M666.4 13.3C704.3 -3.7 639.8 -47.7 686.3 -62.5" stroke="#222" stroke-width="5.5" fill="none" opacity="0.6"/>
<path d="M625.5 218.0C641.2 262.0 731.6 274.3 680.2 346.9" stroke="#bcbcbc" stroke-width="3" fill="none"/>
<path d="M800.5 181.4C660.1 133.6 855.5 50.7 781.1 -4.0M798.7 104.6C721.5 116.1 839.0 184.5 771.1 198.8" stroke="#bcbcbc" stroke-width="2.5" fill="none"/>
<path d="M800.2 84.1C919.2 37.7 984.0 52.9 932.3 200.4" stroke="#bcbcbc" stroke-width="4" fill="none"/>
<path d="M802.8 41.3C826.4 4.7 877.0 5.2 901.3 -30.3" stroke="#bcbcbc" stroke-width="5" fill="none"/>
<path d="M666.4 13.3C704.3 -3.7 639.8 -47.7 686.3 -62.5" stroke="#bcbcbc" stroke-width="3.5" fill="none"/>
<path d="M625.5 218.0C641.2 262.0 731.6 274.3 680.2 346.9" stroke="rgb(105,105,105)" stroke-width="1.5" fill="none"/>
<path d="M800.5 181.4C660.1 133.6 855.5 50.7 781.1 -4.0M798.7 104.6C721.5 116.1 839.0 184.5 771.1 198.8" stroke="rgb(105,105,105)" stroke-width="1.0" fill="none"/>
<path d="M800.2 84.1C919.2 37.7 984.0 52.9 932.3 200.4" stroke="rgb(115,115,115)" stroke-width="2.5" fill="none"/>
<path d="M802.8 41.3C826.4 4.7 877.0 5.2 901.3 -30.3" stroke="rgb(115,115,115)" stroke-width="3.5" fill="none"/>
<path d="M666.4 13.3C704.3 -3.7 639.8 -47.7 686.3 -62.5" stroke="rgb(115,115,115)" stroke-width="2.0" fill="none"/>
<path d="M625.5 218.0C641.2 262.0 731.6 274.3 680.2 346.9M800.5 181.4C660.1 133.6 855.5 50.7 781.1 -4.0M800.2 84.1C919.2 37.7 984.0 52.9 932.3 200.4M802.8 41.3C826.4 4.7 877.0 5.2 901.3 -30.3M798.7 104.6C721.5 116.1 839.0 184.5 771.1 198.8M666.4 13.3C704.3 -3.7 639.8 -47.7 686.3 -62.5" stroke="#8a8a8a" stroke-width="0.5" fill="none"/>
<path d="M572.5 131.6C469.7 71.4 453.0 8.8 567.4 -57.3M733.3 130.8C651.5 132.9 752.5 24.0 670.1 26.5" stroke="#222" stroke-width="4.5" fill="none" opacity="0.6"/>
<path d="M665.5 74.5C651.4 143.5 688.8 155.4 745.1 146.2M727.2 101.5C761.0 146.6 795.7 168.9 834.2 106.0" stroke="#222" stroke-width="5.5" fill="none" opacity="0.6"/>
<path d="M583.0 30.0C596.4 -3.2 577.8 -21.5 552.0 -36.5" stroke="#222" stroke-width="7.0" fill="none" opacity="0.6"/>
<path d="M572.7 58.0C609.9 166.9 658.5 118.2 707.3 67.9" stroke="#222" stroke-width="5.0" fill="none" opacity="0.6"/>
<path d="M572.5 131.6C469.7 71.4 453.0 8.8 567.4 -57.3M733.3 130.8C651.5 132.9 752.5 24.0 670.1 26.5" stroke="#bcbcbc" stroke-width="2.5" fill="none"/>
<path d="M665.5 74.5C651.4 143.5 688.8 155.4 745.1 146.2M727.2 101.5C761.0 146.6 795.7 168.9 834.2 106.0" stroke="#bcbcbc" stroke-width="3.5" fill="none"/>
<path d="M583.0 30.0C596.4 -3.2 577.8 -21.5 552.0 -36.5" stroke="#bcbcbc" stroke-width="5" fill="none"/>
<path d="M572.7 58.0C609.9 166.9 658.5 118.2 707.3 67.9" stroke="#bcbcbc" stroke-width="3" fill="none"/>
<path d="M572.5 131.6C469.7 71.4 453.0 8.8 567.4 -57.3M733.3 130.8C651.5 132.9 752.5 24.0 670.1 26.5" stroke="rgb(115,115,115)" stroke-width="1.0" fill="none"/>
<path d="M665.5 74.5C651.4 143.5 688.8 155.4 745.1 146.2M727.2 101.5C761.0 146.6 795.7 168.9 834.2 106.0" stroke="rgb(105,105,105)" stroke-width="2.0" fill="none"/>
<path d="M583.0 30.0C596.4 -3.2 577.8 -21.5 552.0 -36.5" stroke="rgb(115,115,115)" stroke-width="3.5" fill="none"/>
<path d="M572.7 58.0C609.9 166.9 658.5 118.2 707.3 67.9" stroke="rgb(115,115,115)" stroke-width="1.5" fill="none"/>
<path d="M572.5 131.6C469.7 71.4 453.0 8.8 567.4 -57.3M665.5 74.5C651.4 143.5 688.8 155.4 745.1 146.2M583.0 30.0C596.4 -3.2 577.8 -21.5 552.0 -36.5M733.3 130.8C651.5 132.9 752.5 24.0 670.1 26.5M727.2 101.5C761.0 146.6 795.7 168.9 834.2 106.0M572.7 58.0C609.9 166.9 658.5 118.2 707.3 67.9" stroke="#8a8a8a" stroke-width="0.5" fill="none"/>
<path d="M671.5 183.4C665.7 216.7 692.2 272.0 619.5 259.6M703.9 148.6C705.6 119.5 725.8 96.3 730.1 67.9" stroke="#222" stroke-width="5.5" fill="none" opacity="0.6"/>
<path d="M589.7 155.0C603.1 179.0 580.0 204.4 592.6 228.4M671.9 121.8C597.2 97.8 697.2 -70.4 545.8 -30.9" stroke="#222" stroke-width="5.0" fill="none" opacity="0.6"/>
<path d="M789.2 44.5C755.5 36.3 714.7 86.7 686.7 32.0" stroke="#222" stroke-width="7.0" fill="none" opacity="0.6"/>
<path d="M591.5 119.4C551.0 51.6 530.8 141.9 497.7 131.5" stroke="#222" stroke-width="4.5" fill="none" opacity="0.6"/>
<path d="M671.5 183.4C665.7 216.7 692.2 272.0 619.5 259.6M703.9 148.6C705.6 119.5 725.8 96.3 730.1 67.9" stroke="#bcbcbc" stroke-width="3.5" fill="none"/>
<path d="M589.7 155.0C603.1 179.0 580.0 204.4 592.6 228.4M671.9 121.8C597.2 97.8 697.2 -70.4 545.8 -30.9" stroke="#bcbcbc" stroke-width="3" fill="none"/>
<path d="M789.2 44.5C755.5 36.3 714.7 86.7 686.7 32.0" stroke="#bcbcbc" stroke-width="5" fill="none"/>
<path d="M591.5 119.4C551.0 51.6 530.8 141.9 497.7 131.5" stroke="#bcbcbc" stroke-width="2.5" fill="none"/>
<path d="M671.5 183.4C665.7 216.7 692.2 272.0 619.5 259.6M703.9 148.6C705.6 119.5 725.8 96.3 730.1 67.9" stroke="rgb(125,125,125)" stroke-width="2.0" fill="none"/>
<path d="M589.7 155.0C603.1 179.0 580.0 204.4 592.6 228.4" stroke="rgb(105,105,105)" stroke-width="1.5" fill="none"/>
<path d="M671.9 121.8C597.2 97.8 697.2 -70.4 545.8 -30.9" stroke="rgb(125,125,125)" stroke-width="1.5" fill="none"/>
<path d="M789.2 44.5C755.5 36.3 714.7 86.7 686.7 32.0" stroke="rgb(115,115,115)" stroke-width="3.5" fill="none"/>
<path d="M591.5 119.4C551.0 51.6 530.8 141.9 497.7 131.5" stroke="rgb(105,105,105)" stroke-width="1.0" fill="none"/>
<path d="M671.5 183.4C665.7 216.7 692.2 272.0 619.5 259.6M589.7 155.0C603.1 179.0 580.0 204.4 592.6 228.4M671.9 121.8C597.2 97.8 697.2 -70.4 545.8 -30.9M703.9 148.6C705.6 119.5 725.8 96.3 730.1 67.9M789.2 44.5C755.5 36.3 714.7 86.7 686.7 32.0M591.5 119.4C551.0 51.6 530.8 141.9 497.7 131.5" stroke="#8a8a8a" stroke-width="0.5" fill="none"/>
<path d="M676.6 14.0C789.2 -78.7 502.5 -64.9 629.8 -161.5M707.6 19.2C755.8 94.7 677.7 124.2 651.7 172.6" stroke="#222" stroke-width="5.5" fill="none" opacity="0.6"/>
<path d="M759.7 117.7C711.7 50.6 799.5 8.2 790.6 -51.8M725.7 210.3C670.6 220.1 646.7 288.1 585.0 285.6" stroke="#222" stroke-width="6.0" fill="none" opacity="0.6"/>
<path d="M572.6 218.3C551.7 252.0 586.0 264.4 598.3 285.3" stroke="#222" stroke-width="7.0" fill="none" opacity="0.6"/>
<path d="M714.6 30.6C791.7 -58.8 570.2 6.6 653.9 -86.3" stroke="#222" stroke-width="4.5" fill="none" opacity="0.6"/>
<path d="M676.6 14.0C789.2 -78.7 502.5 -64.9 629.8 -161.5M707.6 19.2C755.8 94.7 677.7 124.2 651.7 172.6" stroke="#bcbcbc" stroke-width="3.5" fill="none"/>
<path d="M759.7 117.7C711.7 50.6 799.5 8.2 790.6 -51.8M725.7 210.3C670.6 220.1 646.7 288.1 585.0 285.6" stroke="#bcbcbc" stroke-width="4" fill="none"/>
<path d="M572.6 218.3C551.7 252.0 586.0 264.4 598.3 285.3" stroke="#bcbcbc" stroke-width="5" fill="none"/>
<path d="M714.6 30.6C791.7 -58.8 570.2 6.6 653.9 -86.3" stroke="#bcbcbc" stroke-width="2.5" fill="none"/>
<path d="M676.6 14.0C789.2 -78.7 502.5 -64.9 629.8 -161.5" stroke="rgb(115,115,115)" stroke-width="2.0" fill="none"/>
<path d="M759.7 117.7C711.7 50.6 799.5 8.2 790.6 -51.8" stroke="rgb(125,125,125)" stroke-width="2.5" fill="none"/>
<path d="M572.6 218.3C551.7 252.0 586.0 264.4 598.3 285.3" stroke="rgb(105,105,105)" stroke-width="3.5" fill="none"/>
<path d="M714.6 30.6C791.7 -58.8 570.2 6.6 653.9 -86.3" stroke="rgb(115,115,115)" stroke-width="1.0" fill="none"/>
<path d="M725.7 210.3C670.6 220.1 646.7 288.1 585.0 285.6" stroke="rgb(115,115,115)" stroke-width="2.5" fill="none"/>
<path d="M707.6 19.2C755.8 94.7 677.7 124.2 651.7 172.6" stroke="rgb(105,105,105)" stroke-width="2.0" fill="none"/>
<path d="M676.6 14.0C789.2 -78.7 502.5 -64.9 629.8 -161.5M759.7 117.7C711.7 50.6 799.5 8.2 790.6 -51.8M572.6 218.3C551.7 252.0 586.0 264.4 598.3 285.3M714.6 30.6C791.7 -58.8 570.2 6.6 653.9 -86.3M725.7 210.3C670.6 220.1 646.7 288.1 585.0 285.6M707.6 19.2C755.8 94.7 677.7 124.2 651.7 172.6" stroke="#8a8a8a" stroke-width="0.5" fill="none"/>
<path d="M648.5 151.6C637.9 87.3 539.7 26.5 640.9 -42.2" stroke="#222" stroke-width="5.5" fill="none" opacity="0.6"/>
<path d="M576.2 64.0C500.0 97.8 450.2 86.8 450.7 -9.7" stroke="#222" stroke-width="4.5" fill="none" opacity="0.6"/>
<path d="M605.2 119.8C581.8 180.3 654.1 243.9 599.3 303.4M774.7 176.1C799.1 255.5 847.5 213.0 890.4 198.9" stroke="#222" stroke-width="6.0" fill="none" opacity="0.6"/>
<path d="M650.2 186.9C623.7 254.0 546.9 256.7 503.3 301.9" stroke="#222" stroke-width="5.0" fill="none" opacity="0.6"/>
<path d="M677.7 120.1C629.9 108.9 545.3 193.3 541.7 67.7" stroke="#222" stroke-width="7.0" fill="none" opacity="0.6"/>
<path d="M648.5 151.6C637.9 87.3 539.7 26.5 640.9 -42.2" stroke="#bcbcbc" stroke-width="3.5" fill="none"/>
<path d="M576.2 64.0C500.0 97.8 450.2 86.8 450.7 -9.7" stroke="#bcbcbc" stroke-width="2.5" fill="none"/>
<path d="M605.2 119.8C581.8 180.3 654.1 243.9 599.3 303.4M774.7 176.1C799.1 255.5 847.5 213.0 890.4 198.9" stroke="#bcbcbc" stroke-width="4" fill="none"/>
<path d="M650.2 186.9C623.7 254.0 546.9 256.7 503.3 301.9" stroke="#bcbcbc" stroke-width="3" fill="none"/>
<path d="M677.7 120.1C629.9 108.9 545.3 193.3 541.7 67.7" stroke="#bcbcbc" stroke-width="5" fill="none"/>
<path d="M648.5 151.6C637.9 87.3 539.7 26.5 640.9 -42.2" stroke="rgb(125,125,125)" stroke-width="2.0" fill="none"/>
<path d="M576.2 64.0C500.0 97.8 450.2 86.8 450.7 -9.7" stroke="rgb(125,125,125)" stroke-width="1.0" fill="none"/>
<path d="M605.2 119.8C581.8 180.3 654.1 243.9 599.3 303.4" stroke="rgb(105,105,105)" stroke-width="2.5" fill="none"/>
<path d="M650.2 186.9C623.7 254.0 546.9 256.7 503.3 301.9" stroke="rgb(105,105,105)" stroke-width="1.5" fill="none"/>
<path d="M774.7 176.1C799.1 255.5 847.5 213.0 890.4 198.9" stroke="rgb(115,115,115)" stroke-width="2.5" fill="none"/>
<path d="M677.7 120.1C629.9 108.9 545.3 193.3 541.7 67.7" stroke="rgb(125,125,125)" stroke-width="3.5" fill="none"/>
<path d="M648.5 151.6C637.9 87.3 539.7 26.5 640.9 -42.2M576.2 64.0C500.0 97.8 450.2 86.8 450.7 -9.7M605.2 119.8C581.8 180.3 654.1 243.9 599.3 303.4M650.2 186.9C623.7 254.0 546.9 256.7 503.3 301.9M774.7 176.1C799.1 255.5 847.5 213.0 890.4 198.9M677.7 120.1C629.9 108.9 545.3 193.3 541.7 67.7" stroke="#8a8a8a" stroke-width="0.5" fill="none"/>
<path d="M601.1 17.7C606.2 -121.8 460.5 78.8 458.7 -45.4M749.9 204.6C704.4 320.7 855.7 232.4 853.1 304.0" stroke="#222" stroke-width="5.0" fill="none" opacity="0.6"/>
<path d="M667.3 43.9C704.0 96.0 749.6 146.1 705.1 216.0" stroke="#222" stroke-width="6.0" fill="none" opacity="0.6"/>
<path d="M786.6 67.1C857.8 11.3 918.9 42.3 978.2 89.2M610.1 57.0C487.1 2.9 552.4 174.9 472.0 172.0" stroke="#222" stroke-width="4.5" fill="none" opacity="0.6"/>
<path d="M697.2 177.8C743.8 170.4 657.5 86.6 741.6 100.7" stroke="#222" stroke-width="5.5" fill="none" opacity="0.6"/>
<path d="M601.1 17.7C606.2 -121.8 460.5 78.8 458.7 -45.4M749.9 204.6C704.4 320.7 855.7 232.4 853.1 304.0" stroke="#bcbcbc" stroke-width="3" fill="none"/>
<path d="M667.3 43.9C704.0 96.0 749.6 146.1 705.1 216.0" stroke="#bcbcbc" stroke-width="4" fill="none"/>
<path d="M786.6 67.1C857.8 11.3 918.9 42.3 978.2 89.2M610.1 57.0C487.1 2.9 552.4 174.9 472.0 172.0" stroke="#bcbcbc" stroke-width="2.5" fill="none"/>
<path d="M697.2 177.8C743.8 170.4 657.5 86.6 741.6 100.7" stroke="#bcbcbc" stroke-width="3.5" fill="none"/>
<path d="M601.1 17.7C606.2 -121.8 460.5 78.8 458.7 -45.4M749.9 204.6C704.4 320.7 855.7 232.4 853.1 304.0" stroke="rgb(115,115,115)" stroke-width="1.5" fill="none"/>
<path d="M667.3 43.9C704.0 96.0 749.6 146.1 705.1 216.0" stroke="rgb(125,125,125)" stroke-width="2.5" fill="none"/>
<path d="M786.6 67.1C857.8 11.3 918.9 42.3 978.2 89.2M610.1 57.0C487.1 2.9 552.4 174.9 472.0 172.0" stroke="rgb(115,115,115)" stroke-width="1.0" fill="none"/>
<path d="M697.2 177.8C743.8 170.4 657.5 86.6 741.6 100.7" stroke="rgb(105,105,105)" stroke-width="2.0" fill="none"/>
<path d="M601.1 17.7C606.2 -121.8 460.5 78.8 458.7 -45.4M749.9 204.6C704.4 320.7 855.7 232.4 853.1 304.0M667.3 43.9C704.0 96.0 749.6 146.1 705.1 216.0M786.6 67.1C857.8 11.3 918.9 42.3 978.2 89.2M610.1 57.0C487.1 2.9 552.4 174.9 472.0 172.0M697.2 177.8C743.8 170.4 657.5 86.6 741.6 100.7" stroke="#8a8a8a" stroke-width="0.5" fill="none"/>
<path d="M788.0 173.4C769.4 139.0 774.0 115.4 817.7 110.1" stroke="#222" stroke-width="5.0" fill="none" opacity="0.6"/>
<path d="M788.0 173.4C769.4 139.0 774.0 115.4 817.7 110.1" stroke="#bcbcbc" stroke-width="3" fill="none"/>
<path d="M788.0 173.4C769.4 139.0 774.0 115.4 817.7 110.1" stroke="rgb(115,115,115)" stroke-width="1.5" fill="none"/>
<path d="M788.0 173.4C769.4 139.0 774.0 115.4 817.7 110.1" stroke="#8a8a8a" stroke-width="0.5" fill="none"/>
<path d="M738.1 177.4 L737.0 173.5 L737.3 170.0 L739.1 167.1 L742.3 164.8 L746.7 163.3 L752.1 162.6 L758.3 162.9 L764.9 164.0 L771.7 166.0 L778.4 168.6 L784.6 171.9 L790.0 175.7" stroke="#222" stroke-width="5.5" fill="none" opacity="0.6"/>
<path d="M738.1 177.4 L737.0 173.5 L737.3 170.0 L739.1 167.1 L742.3 164.8 L746.7 163.3 L752.1 162.6 L758.3 162.9 L764.9 164.0 L771.7 166.0 L778.4 168.6 L784.6 171.9 L790.0 175.7" stroke="#c0c0c0" stroke-width="3.5" fill="none"/>
<path d="M738.1 177.4 L737.0 173.5 L737.3 170.0 L739.1 167.1 L742.3 164.8 L746.7 163.3 L752.1 162.6 L758.3 162.9 L764.9 164.0 L771.7 166.0 L778.4 168.6 L784.6 171.9 L790.0 175.7" stroke="rgb(120,120,120)" stroke-width="2.0" fill="none"/>
<path d="M679.0 170.6 L677.1 166.5 L676.2 162.6 L676.3 159.0 L677.5 155.9 L679.7 153.6 L682.7 152.0 L686.4 151.3 L690.7 151.5 L695.3 152.7 L700.0 154.6 L704.6 157.3 L708.8 160.7" stroke="#222" stroke-width="5.5" fill="none" opacity="0.6"/>
<path d="M679.0 170.6 L677.1 166.5 L676.2 162.6 L676.3 159.0 L677.5 155.9 L679.7 153.6 L682.7 152.0 L686.4 151.3 L690.7 151.5 L695.3 152.7 L700.0 154.6 L704.6 157.3 L708.8 160.7" stroke="#c0c0c0" stroke-width="3.5" fill="none"/>
<path d="M679.0 170.6 L677.1 166.5 L676.2 162.6 L676.3 159.0 L677.5 155.9 L679.7 153.6 L682.7 152.0 L686.4 151.3 L690.7 151.5 L695.3 152.7 L700.0 154.6 L704.6 157.3 L708.8 160.7" stroke="rgb(120,120,120)" stroke-width="2.0" fill="none"/>
<path d="M743.6 153.0 L741.5 157.7 L738.4 162.8 L734.4 168.0 L729.8 173.0 L724.8 177.6 L719.7 181.5 L714.7 184.5 L710.1 186.5 L706.1 187.4 L703.0 187.0 L700.9 185.5 L699.8 182.9" stroke="#222" stroke-width="4.5" fill="none" opacity="0.6"/>
<path d="M743.6 153.0 L741.5 157.7 L738.4 162.8 L734.4 168.0 L729.8 173.0 L724.8 177.6 L719.7 181.5 L714.7 184.5 L710.1 186.5 L706.1 187.4 L703.0 187.0 L700.9 185.5 L699.8 182.9" stroke="#c0c0c0" stroke-width="2.5" fill="none"/>
<path d="M743.6 153.0 L741.5 157.7 L738.4 162.8 L734.4 168.0 L729.8 173.0 L724.8 177.6 L719.7 181.5 L714.7 184.5 L710.1 186.5 L706.1 187.4 L703.0 187.0 L700.9 185.5 L699.8 182.9" stroke="rgb(120,120,120)" stroke-width="1.0" fill="none"/>
<path d="M646.5 51.8 L649.7 52.2 L653.2 54.0 L656.9 56.9 L660.4 60.7 L663.4 65.1 L665.8 69.8 L667.3 74.4 L667.9 78.7 L667.4 82.2 L666.0 84.7 L663.7 86.0 L660.7 86.0" stroke="#222" stroke-width="5.0" fill="none" opacity="0.6"/>
<path d="M646.5 51.8 L649.7 52.2 L653.2 54.0 L656.9 56.9 L660.4 60.7 L663.4 65.1 L665.8 69.8 L667.3 74.4 L667.9 78.7 L667.4 82.2 L666.0 84.7 L663.7 86.0 L660.7 86.0" stroke="#c0c0c0" stroke-width="3" fill="none"/>
<path d="M646.5 51.8 L649.7 52.2 L653.2 54.0 L656.9 56.9 L660.4 60.7 L663.4 65.1 L665.8 69.8 L667.3 74.4 L667.9 78.7 L667.4 82.2 L666.0 84.7 L663.7 86.0 L660.7 86.0" stroke="rgb(130,130,130)" stroke-width="1.5" fill="none"/>
<path d="M666.1 96.5 L668.2 98.9 L669.1 102.3 L668.8 106.5 L667.2 111.2 L664.4 116.3 L660.7 121.4 L656.1 126.3 L651.0 130.8 L645.5 134.5 L640.0 137.4 L634.8 139.3 L630.0 140.0" stroke="#222" stroke-width="4.5" fill="none" opacity="0.6"/>
<path d="M666.1 96.5 L668.2 98.9 L669.1 102.3 L668.8 106.5 L667.2 111.2 L664.4 116.3 L660.7 121.4 L656.1 126.3 L651.0 130.8 L645.5 134.5 L640.0 137.4 L634.8 139.3 L630.0 140.0" stroke="#c0c0c0" stroke-width="2.5" fill="none"/>
<path d="M666.1 96.5 L668.2 98.9 L669.1 102.3 L668.8 106.5 L667.2 111.2 L664.4 116.3 L660.7 121.4 L656.1 126.3 L651.0 130.8 L645.5 134.5 L640.0 137.4 L634.8 139.3 L630.0 140.0" stroke="rgb(120,120,120)" stroke-width="1.0" fill="none"/>
<path d="M754.3 100.0 L758.8 101.3 L762.4 103.7 L764.8 107.0 L765.9 110.9 L765.6 115.3 L763.9 119.7 L761.0 123.9 L756.9 127.6 L752.2 130.4 L747.0 132.2 L741.7 132.9 L736.8 132.4" stroke="#222" stroke-width="5.0" fill="none" opacity="0.6"/>
<path d="M754.3 100.0 L758.8 101.3 L762.4 103.7 L764.8 107.0 L765.9 110.9 L765.6 115.3 L763.9 119.7 L761.0 123.9 L756.9 127.6 L752.2 130.4 L747.0 132.2 L741.7 132.9 L736.8 132.4" stroke="#c0c0c0" stroke-width="3" fill="none"/>
<path d="M754.3 100.0 L758.8 101.3 L762.4 103.7 L764.8 107.0 L765.9 110.9 L765.6 115.3 L763.9 119.7 L761.0 123.9 L756.9 127.6 L752.2 130.4 L747.0 132.2 L741.7 132.9 L736.8 132.4" stroke="rgb(130,130,130)" stroke-width="1.5" fill="none"/>
<path d="M588.0 104.3 L592.8 103.5 L597.7 105.1 L602.3 109.0 L605.9 114.7 L608.3 121.7 L609.1 129.2 L608.4 136.3 L606.1 142.4 L602.5 146.8 L598.0 149.0 L593.1 148.8 L588.3 146.2" stroke="#222" stroke-width="4.5" fill="none" opacity="0.6"/>
<path d="M588.0 104.3 L592.8 103.5 L597.7 105.1 L602.3 109.0 L605.9 114.7 L608.3 121.7 L609.1 129.2 L608.4 136.3 L606.1 142.4 L602.5 146.8 L598.0 149.0 L593.1 148.8 L588.3 146.2" stroke="#c0c0c0" stroke-width="2.5" fill="none"/>
<path d="M588.0 104.3 L592.8 103.5 L597.7 105.1 L602.3 109.0 L605.9 114.7 L608.3 121.7 L609.1 129.2 L608.4 136.3 L606.1 142.4 L602.5 146.8 L598.0 149.0 L593.1 148.8 L588.3 146.2" stroke="rgb(110,110,110)" stroke-width="1.0" fill="none"/>
<path d="M766.0 50.9 L771.8 47.1 L777.6 43.9 L783.0 41.5 L787.8 40.1 L791.7 39.6 L794.7 40.2 L796.4 41.8 L796.9 44.3 L796.1 47.5 L794.1 51.5 L790.9 55.8 L786.7 60.4" stroke="#222" stroke-width="4.0" fill="none" opacity="0.6"/>
<path d="M766.0 50.9 L771.8 47.1 L777.6 43.9 L783.0 41.5 L787.8 40.1 L791.7 39.6 L794.7 40.2 L796.4 41.8 L796.9 44.3 L796.1 47.5 L794.1 51.5 L790.9 55.8 L786.7 60.4" stroke="#c0c0c0" stroke-width="2" fill="none"/>
<path d="M766.0 50.9 L771.8 47.1 L777.6 43.9 L783.0 41.5 L787.8 40.1 L791.7 39.6 L794.7 40.2 L796.4 41.8 L796.9 44.3 L796.1 47.5 L794.1 51.5 L790.9 55.8 L786.7 60.4" stroke="rgb(110,110,110)" stroke-width="0.8" fill="none"/>
<path d="M750.9 204.3 L745.9 197.1 L740.9 187.7 L736.5 177.1 L733.1 166.5 L731.1 157.1 L730.8 150.0 L732.1 145.8 L735.0 145.1 L739.0 148.0 L743.9 154.1 L748.9 162.7 L753.6 173.0" stroke="#222" stroke-width="5.5" fill="none" opacity="0.6"/>
<path d="M750.9 204.3 L745.9 197.1 L740.9 187.7 L736.5 177.1 L733.1 166.5 L731.1 157.1 L730.8 150.0 L732.1 145.8 L735.0 145.1 L739.0 148.0 L743.9 154.1 L748.9 162.7 L753.6 173.0" stroke="#c0c0c0" stroke-width="3.5" fill="none"/>
<path d="M750.9 204.3 L745.9 197.1 L740.9 187.7 L736.5 177.1 L733.1 166.5 L731.1 157.1 L730.8 150.0 L732.1 145.8 L735.0 145.1 L739.0 148.0 L743.9 154.1 L748.9 162.7 L753.6 173.0" stroke="rgb(120,120,120)" stroke-width="2.0" fill="none"/>
<path d="M760.3 156.8 L758.7 161.3 L755.7 165.9 L751.2 170.5 L745.6 174.8 L739.1 178.6 L732.0 181.7 L724.7 184.0 L717.5 185.4 L710.8 185.7 L705.0 185.0 L700.2 183.3 L696.8 180.7" stroke="#222" stroke-width="4.0" fill="none" opacity="0.6"/>
<path d="M760.3 156.8 L758.7 161.3 L755.7 165.9 L751.2 170.5 L745.6 174.8 L739.1 178.6 L732.0 181.7 L724.7 184.0 L717.5 185.4 L710.8 185.7 L705.0 185.0 L700.2 183.3 L696.8 180.7" stroke="#c0c0c0" stroke-width="2" fill="none"/>
<path d="M760.3 156.8 L758.7 161.3 L755.7 165.9 L751.2 170.5 L745.6 174.8 L739.1 178.6 L732.0 181.7 L724.7 184.0 L717.5 185.4 L710.8 185.7 L705.0 185.0 L700.2 183.3 L696.8 180.7" stroke="rgb(130,130,130)" stroke-width="0.8" fill="none"/>
<path d="M610.6 187.1 L604.6 187.1 L598.9 185.2 L594.1 181.7 L590.8 176.9 L589.2 171.5 L589.7 165.9 L592.0 160.7 L596.0 156.5 L601.2 153.8 L607.1 152.8 L613.1 153.6 L618.4 156.2" stroke="#222" stroke-width="4.0" fill="none" opacity="0.6"/>
<path d="M610.6 187.1 L604.6 187.1 L598.9 185.2 L594.1 181.7 L590.8 176.9 L589.2 171.5 L589.7 165.9 L592.0 160.7 L596.0 156.5 L601.2 153.8 L607.1 152.8 L613.1 153.6 L618.4 156.2" stroke="#c0c0c0" stroke-width="2" fill="none"/>
<path d="M610.6 187.1 L604.6 187.1 L598.9 185.2 L594.1 181.7 L590.8 176.9 L589.2 171.5 L589.7 165.9 L592.0 160.7 L596.0 156.5 L601.2 153.8 L607.1 152.8 L613.1 153.6 L618.4 156.2" stroke="rgb(110,110,110)" stroke-width="0.8" fill="none"/>
<path d="M702.3 186.0 L701.8 191.8 L699.4 196.9 L695.3 200.9 L690.2 203.3 L684.4 203.8 L678.7 202.3 L673.7 199.1 L669.9 194.4 L667.8 188.9 L667.7 183.1 L669.5 177.6 L673.0 173.2" stroke="#222" stroke-width="4.0" fill="none" opacity="0.6"/>
<path d="M702.3 186.0 L701.8 191.8 L699.4 196.9 L695.3 200.9 L690.2 203.3 L684.4 203.8 L678.7 202.3 L673.7 199.1 L669.9 194.4 L667.8 188.9 L667.7 183.1 L669.5 177.6 L673.0 173.2" stroke="#c0c0c0" stroke-width="2" fill="none"/>
<path d="M702.3 186.0 L701.8 191.8 L699.4 196.9 L695.3 200.9 L690.2 203.3 L684.4 203.8 L678.7 202.3 L673.7 199.1 L669.9 194.4 L667.8 188.9 L667.7 183.1 L669.5 177.6 L673.0 173.2" stroke="rgb(110,110,110)" stroke-width="0.8" fill="none"/>
<path d="M736.4 134.6 L737.8 137.6 L738.1 140.9 L737.0 144.2 L734.7 147.4 L731.3 150.2 L727.2 152.4 L722.5 153.9 L717.6 154.5 L712.9 154.2 L708.7 153.0 L705.2 151.1 L702.8 148.5" stroke="#222" stroke-width="5.5" fill="none" opacity="0.6"/>
<path d="M736.4 134.6 L737.8 137.6 L738.1 140.9 L737.0 144.2 L734.7 147.4 L731.3 150.2 L727.2 152.4 L722.5 153.9 L717.6 154.5 L712.9 154.2 L708.7 153.0 L705.2 151.1 L702.8 148.5" stroke="#c0c0c0" stroke-width="3.5" fill="none"/>
<path d="M736.4 134.6 L737.8 137.6 L738.1 140.9 L737.0 144.2 L734.7 147.4 L731.3 150.2 L727.2 152.4 L722.5 153.9 L717.6 154.5 L712.9 154.2 L708.7 153.0 L705.2 151.1 L702.8 148.5" stroke="rgb(130,130,130)" stroke-width="2.0" fill="none"/>
<path d="M661.0 162.3 L660.7 154.9 L662.3 145.5 L665.6 135.3 L670.3 125.4 L675.8 116.9 L681.6 110.6 L686.9 107.4 L691.2 107.6 L694.0 111.2 L695.1 117.6 L694.2 126.4 L691.5 136.4" stroke="#222" stroke-width="5.0" fill="none" opacity="0.6"/>
<path d="M661.0 162.3 L660.7 154.9 L662.3 145.5 L665.6 135.3 L670.3 125.4 L675.8 116.9 L681.6 110.6 L686.9 107.4 L691.2 107.6 L694.0 111.2 L695.1 117.6 L694.2 126.4 L691.5 136.4" stroke="#c0c0c0" stroke-width="3" fill="none"/>
<path d="M661.0 162.3 L660.7 154.9 L662.3 145.5 L665.6 135.3 L670.3 125.4 L675.8 116.9 L681.6 110.6 L686.9 107.4 L691.2 107.6 L694.0 111.2 L695.1 117.6 L694.2 126.4 L691.5 136.4" stroke="rgb(120,120,120)" stroke-width="1.5" fill="none"/>
<path d="M717.4 73.1 L715.4 64.7 L716.0 57.9 L719.1 53.6 L724.4 52.2 L731.2 53.8 L738.9 58.4 L746.6 65.2 L753.4 73.8 L758.6 82.9 L761.6 91.8 L762.1 99.4 L760.1 104.8" stroke="#222" stroke-width="4.5" fill="none" opacity="0.6"/>
<path d="M717.4 73.1 L715.4 64.7 L716.0 57.9 L719.1 53.6 L724.4 52.2 L731.2 53.8 L738.9 58.4 L746.6 65.2 L753.4 73.8 L758.6 82.9 L761.6 91.8 L762.1 99.4 L760.1 104.8" stroke="#c0c0c0" stroke-width="2.5" fill="none"/>
<path d="M717.4 73.1 L715.4 64.7 L716.0 57.9 L719.1 53.6 L724.4 52.2 L731.2 53.8 L738.9 58.4 L746.6 65.2 L753.4 73.8 L758.6 82.9 L761.6 91.8 L762.1 99.4 L760.1 104.8" stroke="rgb(120,120,120)" stroke-width="1.0" fill="none"/>
<path d="M665.3 91.0 L661.8 91.9 L658.2 91.1 L654.7 88.5 L651.6 84.5 L649.2 79.3 L647.8 73.4 L647.4 67.4 L648.0 61.6 L649.7 56.7 L652.2 53.0 L655.4 50.9 L658.9 50.5" stroke="#222" stroke-width="4.5" fill="none" opacity="0.6"/>
<path d="M665.3 91.0 L661.8 91.9 L658.2 91.1 L654.7 88.5 L651.6 84.5 L649.2 79.3 L647.8 73.4 L647.4 67.4 L648.0 61.6 L649.7 56.7 L652.2 53.0 L655.4 50.9 L658.9 50.5" stroke="#c0c0c0" stroke-width="2.5" fill="none"/>
<path d="M665.3 91.0 L661.8 91.9 L658.2 91.1 L654.7 88.5 L651.6 84.5 L649.2 79.3 L647.8 73.4 L647.4 67.4 L648.0 61.6 L649.7 56.7 L652.2 53.0 L655.4 50.9 L658.9 50.5" stroke="rgb(110,110,110)" stroke-width="1.0" fill="none"/>
<path d="M689.7 30.2 L697.3 29.4 L705.7 29.8 L714.0 31.5 L721.7 34.3 L727.9 37.9 L732.3 42.1 L734.3 46.5 L733.9 50.7 L731.0 54.3 L725.9 57.0 L719.1 58.6 L711.1 58.9" stroke="#222" stroke-width="5.0" fill="none" opacity="0.6"/>
<path d="M689.7 30.2 L697.3 29.4 L705.7 29.8 L714.0 31.5 L721.7 34.3 L727.9 37.9 L732.3 42.1 L734.3 46.5 L733.9 50.7 L731.0 54.3 L725.9 57.0 L719.1 58.6 L711.1 58.9" stroke="#c0c0c0" stroke-width="3" fill="none"/>
<path d="M689.7 30.2 L697.3 29.4 L705.7 29.8 L714.0 31.5 L721.7 34.3 L727.9 37.9 L732.3 42.1 L734.3 46.5 L733.9 50.7 L731.0 54.3 L725.9 57.0 L719.1 58.6 L711.1 58.9" stroke="rgb(130,130,130)" stroke-width="1.5" fill="none"/>
<path d="M753.5 147.6 L744.7 149.6 L737.1 148.2 L731.8 143.5 L729.6 136.3 L730.8 127.4 L735.2 118.2 L742.1 109.9 L750.7 103.7 L759.8 100.4 L768.0 100.6 L774.2 104.0 L777.7 110.4" stroke="#222" stroke-width="4.0" fill="none" opacity="0.6"/>
<path d="M753.5 147.6 L744.7 149.6 L737.1 148.2 L731.8 143.5 L729.6 136.3 L730.8 127.4 L735.2 118.2 L742.1 109.9 L750.7 103.7 L759.8 100.4 L768.0 100.6 L774.2 104.0 L777.7 110.4" stroke="#c0c0c0" stroke-width="2" fill="none"/>
<path d="M753.5 147.6 L744.7 149.6 L737.1 148.2 L731.8 143.5 L729.6 136.3 L730.8 127.4 L735.2 118.2 L742.1 109.9 L750.7 103.7 L759.8 100.4 L768.0 100.6 L774.2 104.0 L777.7 110.4" stroke="rgb(130,130,130)" stroke-width="0.8" fill="none"/>
<path d="M593.2 130.6 L589.7 127.0 L586.9 122.8 L585.2 118.4 L584.5 113.9 L584.9 109.6 L586.3 105.7 L588.8 102.4 L592.2 99.9 L596.2 98.3 L600.7 97.7 L605.5 98.1 L610.2 99.5" stroke="#222" stroke-width="5.0" fill="none" opacity="0.6"/>
<path d="M593.2 130.6 L589.7 127.0 L586.9 122.8 L585.2 118.4 L584.5 113.9 L584.9 109.6 L586.3 105.7 L588.8 102.4 L592.2 99.9 L596.2 98.3 L600.7 97.7 L605.5 98.1 L610.2 99.5" stroke="#c0c0c0" stroke-width="3" fill="none"/>
<path d="M593.2 130.6 L589.7 127.0 L586.9 122.8 L585.2 118.4 L584.5 113.9 L584.9 109.6 L586.3 105.7 L588.8 102.4 L592.2 99.9 L596.2 98.3 L600.7 97.7 L605.5 98.1 L610.2 99.5" stroke="rgb(110,110,110)" stroke-width="1.5" fill="none"/>
<path d="M755.8 198.8 L757.0 193.1 L759.3 187.0 L762.6 180.8 L766.5 174.9 L771.0 170.0 L775.5 166.1 L779.8 163.8 L783.5 163.1 L786.5 164.0 L788.5 166.6 L789.3 170.6 L788.8 175.7" stroke="#222" stroke-width="4.5" fill="none" opacity="0.6"/>
<path d="M755.8 198.8 L757.0 193.1 L759.3 187.0 L762.6 180.8 L766.5 174.9 L771.0 170.0 L775.5 166.1 L779.8 163.8 L783.5 163.1 L786.5 164.0 L788.5 166.6 L789.3 170.6 L788.8 175.7" stroke="#c0c0c0" stroke-width="2.5" fill="none"/>
<path d="M755.8 198.8 L757.0 193.1 L759.3 187.0 L762.6 180.8 L766.5 174.9 L771.0 170.0 L775.5 166.1 L779.8 163.8 L783.5 163.1 L786.5 164.0 L788.5 166.6 L789.3 170.6 L788.8 175.7" stroke="rgb(130,130,130)" stroke-width="1.0" fill="none"/>
<path d="M721.6 29.8 L726.7 31.9 L730.9 34.9 L734.0 38.4 L735.8 42.2 L736.1 46.1 L734.9 49.8 L732.2 53.1 L728.4 55.7 L723.6 57.4 L718.1 58.2 L712.4 58.0 L706.8 56.7" stroke="#222" stroke-width="5.0" fill="none" opacity="0.6"/>
<path d="M721.6 29.8 L726.7 31.9 L730.9 34.9 L734.0 38.4 L735.8 42.2 L736.1 46.1 L734.9 49.8 L732.2 53.1 L728.4 55.7 L723.6 57.4 L718.1 58.2 L712.4 58.0 L706.8 56.7" stroke="#c0c0c0" stroke-width="3" fill="none"/>
<path d="M721.6 29.8 L726.7 31.9 L730.9 34.9 L734.0 38.4 L735.8 42.2 L736.1 46.1 L734.9 49.8 L732.2 53.1 L728.4 55.7 L723.6 57.4 L718.1 58.2 L712.4 58.0 L706.8 56.7" stroke="rgb(110,110,110)" stroke-width="1.5" fill="none"/>
<path d="M689.9 118.6 L692.9 114.8 L696.6 111.9 L700.7 110.0 L705.0 109.1 L709.4 109.4 L713.6 110.7 L717.4 113.1 L720.7 116.5 L723.2 120.6 L725.0 125.2 L725.8 130.2 L725.6 135.4" stroke="#222" stroke-width="4.0" fill="none" opacity="0.6"/>
<path d="M689.9 118.6 L692.9 114.8 L696.6 111.9 L700.7 110.0 L705.0 109.1 L709.4 109.4 L713.6 110.7 L717.4 113.1 L720.7 116.5 L723.2 120.6 L725.0 125.2 L725.8 130.2 L725.6 135.4" stroke="#c0c0c0" stroke-width="2" fill="none"/>
<path d="M689.9 118.6 L692.9 114.8 L696.6 111.9 L700.7 110.0 L705.0 109.1 L709.4 109.4 L713.6 110.7 L717.4 113.1 L720.7 116.5 L723.2 120.6 L725.0 125.2 L725.8 130.2 L725.6 135.4" stroke="rgb(120,120,120)" stroke-width="0.8" fill="none"/>
<path d="M660.2 33.7C653.2 63.7 633.2 103.7 608.2 148.7" stroke="#3a3a3a" stroke-width="3.6" fill="none" opacity="0.6"/>
<path d="M660.2 33.7C653.2 63.7 633.2 103.7 608.2 148.7" stroke="rgb(150,150,150)" stroke-width="2.6" fill="none"/>
<path d="M660.2 33.7C653.2 63.7 633.2 103.7 608.2 148.7" stroke="#a8a8a8" stroke-width="0.8" fill="none"/>
<path d="M657.5 32.5C650.5 62.5 630.5 102.5 605.5 147.5" stroke="#3a3a3a" stroke-width="3.6" fill="none" opacity="0.6"/>
<path d="M657.5 32.5C650.5 62.5 630.5 102.5 605.5 147.5" stroke="rgb(125,125,125)" stroke-width="2.6" fill="none"/>
<path d="M657.5 32.5C650.5 62.5 630.5 102.5 605.5 147.5" stroke="#a8a8a8" stroke-width="0.8" fill="none"/>
<path d="M654.7 31.2C647.7 61.2 627.7 101.2 602.7 146.2" stroke="#3a3a3a" stroke-width="3.6" fill="none" opacity="0.6"/>
<path d="M654.7 31.2C647.7 61.2 627.7 101.2 602.7 146.2" stroke="rgb(140,140,140)" stroke-width="2.6" fill="none"/>
<path d="M654.7 31.2C647.7 61.2 627.7 101.2 602.7 146.2" stroke="#a8a8a8" stroke-width="0.8" fill="none"/>
<path d="M652.0 30.0C645.0 60.0 625.0 100.0 600.0 145.0" stroke="#3a3a3a" stroke-width="3.6" fill="none" opacity="0.6"/>
<path d="M652.0 30.0C645.0 60.0 625.0 100.0 600.0 145.0" stroke="rgb(125,125,125)" stroke-width="2.6" fill="none"/>
<path d="M652.0 30.0C645.0 60.0 625.0 100.0 600.0 145.0" stroke="#a8a8a8" stroke-width="0.8" fill="none"/>
<path d="M649.3 28.8C642.3 58.8 622.3 98.8 597.3 143.8" stroke="#3a3a3a" stroke-width="3.6" fill="none" opacity="0.6"/>
<path d="M649.3 28.8C642.3 58.8 622.3 98.8 597.3 143.8" stroke="rgb(125,125,125)" stroke-width="2.6" fill="none"/>
<path d="M649.3 28.8C642.3 58.8 622.3 98.8 597.3 143.8" stroke="#a8a8a8" stroke-width="0.8" fill="none"/>
<path d="M646.5 27.5C639.5 57.5 619.5 97.5 594.5 142.5" stroke="#3a3a3a" stroke-width="3.6" fill="none" opacity="0.6"/>
<path d="M646.5 27.5C639.5 57.5 619.5 97.5 594.5 142.5" stroke="rgb(125,125,125)" stroke-width="2.6" fill="none"/>
<path d="M646.5 27.5C639.5 57.5 619.5 97.5 594.5 142.5" stroke="#a8a8a8" stroke-width="0.8" fill="none"/>
<path d="M643.8 26.3C636.8 56.3 616.8 96.3 591.8 141.3" stroke="#3a3a3a" stroke-width="3.6" fill="none" opacity="0.6"/>
<path d="M643.8 26.3C636.8 56.3 616.8 96.3 591.8 141.3" stroke="rgb(140,140,140)" stroke-width="2.6" fill="none"/>
<path d="M643.8 26.3C636.8 56.3 616.8 96.3 591.8 141.3" stroke="#a8a8a8" stroke-width="0.8" fill="none"/>
<path d="M578.0 60.0C610.0 52.0 640.0 52.0 660.0 72.0" stroke="#2a2a2a" stroke-width="5.0" fill="none" opacity="0.5"/>
<path d="M578.0 60.0C610.0 52.0 640.0 52.0 660.0 72.0" stroke="#bcbcbc" stroke-width="3" fill="none"/>
<path d="M578.0 60.0C610.0 52.0 640.0 52.0 660.0 72.0" stroke="#999" stroke-width="1.4" fill="none"/>
<path d="M660.0 72.0C690.0 95.0 730.0 88.0 790.0 86.0" stroke="#2a2a2a" stroke-width="6.0" fill="none" opacity="0.5"/>
<path d="M660.0 72.0C690.0 95.0 730.0 88.0 790.0 86.0" stroke="#bcbcbc" stroke-width="4" fill="none"/>
<path d="M660.0 72.0C690.0 95.0 730.0 88.0 790.0 86.0" stroke="#999" stroke-width="2.4" fill="none"/>
<path d="M578.0 135.0C650.0 120.0 720.0 110.0 790.0 100.0" stroke="#2a2a2a" stroke-width="6.0" fill="none" opacity="0.5"/>
<path d="M578.0 135.0C650.0 120.0 720.0 110.0 790.0 100.0" stroke="#bcbcbc" stroke-width="4" fill="none"/>
<path d="M578.0 135.0C650.0 120.0 720.0 110.0 790.0 100.0" stroke="#999" stroke-width="2.4" fill="none"/>
<path d="M790.0 130.0C760.0 145.0 730.0 160.0 705.0 175.0" stroke="#2a2a2a" stroke-width="8.0" fill="none" opacity="0.5"/>
<path d="M790.0 130.0C760.0 145.0 730.0 160.0 705.0 175.0" stroke="#bcbcbc" stroke-width="6" fill="none"/>
<path d="M790.0 130.0C760.0 145.0 730.0 160.0 705.0 175.0" stroke="#999" stroke-width="4.4" fill="none"/>
<path d="M640.0 150.0C670.0 135.0 700.0 150.0 740.0 175.0" stroke="#2a2a2a" stroke-width="5.5" fill="none" opacity="0.5"/>
<path d="M640.0 150.0C670.0 135.0 700.0 150.0 740.0 175.0" stroke="#bcbcbc" stroke-width="3.5" fill="none"/>
<path d="M640.0 150.0C670.0 135.0 700.0 150.0 740.0 175.0" stroke="#999" stroke-width="1.9" fill="none"/>
<path d="M700.0 30.0C690.0 60.0 700.0 80.0 730.0 90.0" stroke="#2a2a2a" stroke-width="5.0" fill="none" opacity="0.5"/>
<path d="M700.0 30.0C690.0 60.0 700.0 80.0 730.0 90.0" stroke="#bcbcbc" stroke-width="3" fill="none"/>
<path d="M700.0 30.0C690.0 60.0 700.0 80.0 730.0 90.0" stroke="#999" stroke-width="1.4" fill="none"/>
<path d="M760.0 30.0C750.0 70.0 770.0 110.0 785.0 160.0" stroke="#2a2a2a" stroke-width="6.0" fill="none" opacity="0.5"/>
<path d="M760.0 30.0C750.0 70.0 770.0 110.0 785.0 160.0" stroke="#bcbcbc" stroke-width="4" fill="none"/>
<path d="M760.0 30.0C750.0 70.0 770.0 110.0 785.0 160.0" stroke="#999" stroke-width="2.4" fill="none"/>
<path d="M585.0 180.0C620.0 160.0 660.0 170.0 690.0 210.0" stroke="#2a2a2a" stroke-width="6.0" fill="none" opacity="0.5"/>
<path d="M585.0 180.0C620.0 160.0 660.0 170.0 690.0 210.0" stroke="#bcbcbc" stroke-width="4" fill="none"/>
<path d="M585.0 180.0C620.0 160.0 660.0 170.0 690.0 210.0" stroke="#999" stroke-width="2.4" fill="none"/>
</g></g>
<clipPath id="cc"><rect x="582" y="227" width="201.5" height="173"/></clipPath>
<filter id="fc" x="0" y="0" width="1" height="1"><feGaussianBlur stdDeviation="0.55"/></filter>
<g clip-path="url(#cc)"><g filter="url(#fc)">
<rect x="577" y="222" width="211.5" height="183" fill="#424242"/>
<path d="M705.6 355.3a1.9 1.9 0 1 0 3.8 0a1.9 1.9 0 1 0 -3.8 0M769.8 355.0a2.1 2.1 0 1 0 4.2 0a2.1 2.1 0 1 0 -4.2 0M585.7 307.6a2.1 2.1 0 1 0 4.2 0a2.1 2.1 0 1 0 -4.2 0M711.8 382.9a1.0 1.0 0 1 0 1.9 0a1.0 1.0 0 1 0 -1.9 0M675.0 269.7a1.6 1.6 0 1 0 3.1 0a1.6 1.6 0 1 0 -3.1 0M696.5 229.3a1.1 1.1 0 1 0 2.2 0a1.1 1.1 0 1 0 -2.2 0M636.4 385.5a1.9 1.9 0 1 0 3.7 0a1.9 1.9 0 1 0 -3.7 0M613.2 364.9a1.0 1.0 0 1 0 2.0 0a1.0 1.0 0 1 0 -2.0 0M705.6 248.9a0.8 0.8 0 1 0 1.6 0a0.8 0.8 0 1 0 -1.6 0M756.5 263.2a1.1 1.1 0 1 0 2.2 0a1.1 1.1 0 1 0 -2.2 0M778.8 377.9a1.2 1.2 0 1 0 2.4 0a1.2 1.2 0 1 0 -2.4 0M774.0 320.3a1.7 1.7 0 1 0 3.5 0a1.7 1.7 0 1 0 -3.5 0M621.5 389.8a1.8 1.8 0 1 0 3.5 0a1.8 1.8 0 1 0 -3.5 0M775.5 381.6a1.2 1.2 0 1 0 2.4 0a1.2 1.2 0 1 0 -2.4 0M653.8 255.7a1.0 1.0 0 1 0 2.0 0a1.0 1.0 0 1 0 -2.0 0M593.5 279.1a1.6 1.6 0 1 0 3.3 0a1.6 1.6 0 1 0 -3.3 0M581.4 344.3a1.3 1.3 0 1 0 2.5 0a1.3 1.3 0 1 0 -2.5 0M643.0 368.6a1.5 1.5 0 1 0 2.9 0a1.5 1.5 0 1 0 -2.9 0M643.8 310.3a1.8 1.8 0 1 0 3.6 0a1.8 1.8 0 1 0 -3.6 0M592.7 395.7a0.8 0.8 0 1 0 1.7 0a0.8 0.8 0 1 0 -1.7 0M732.3 373.2a0.8 0.8 0 1 0 1.7 0a0.8 0.8 0 1 0 -1.7 0M739.1 290.3a1.6 1.6 0 1 0 3.2 0a1.6 1.6 0 1 0 -3.2 0M582.8 235.1a1.1 1.1 0 1 0 2.1 0a1.1 1.1 0 1 0 -2.1 0M772.6 261.0a1.9 1.9 0 1 0 3.7 0a1.9 1.9 0 1 0 -3.7 0M768.0 390.0a1.3 1.3 0 1 0 2.6 0a1.3 1.3 0 1 0 -2.6 0M651.6 317.8a1.9 1.9 0 1 0 3.8 0a1.9 1.9 0 1 0 -3.8 0M601.9 356.5a1.9 1.9 0 1 0 3.8 0a1.9 1.9 0 1 0 -3.8 0M753.1 233.3a2.1 2.1 0 1 0 4.2 0a2.1 2.1 0 1 0 -4.2 0M598.7 285.9a1.7 1.7 0 1 0 3.3 0a1.7 1.7 0 1 0 -3.3 0M764.9 285.8a2.1 2.1 0 1 0 4.2 0a2.1 2.1 0 1 0 -4.2 0M690.6 281.1a1.2 1.2 0 1 0 2.5 0a1.2 1.2 0 1 0 -2.5 0M616.8 240.5a1.0 1.0 0 1 0 2.0 0a1.0 1.0 0 1 0 -2.0 0M719.8 399.4a1.0 1.0 0 1 0 2.1 0a1.0 1.0 0 1 0 -2.1 0M590.2 397.7a1.5 1.5 0 1 0 3.1 0a1.5 1.5 0 1 0 -3.1 0M662.2 268.1a1.6 1.6 0 1 0 3.3 0a1.6 1.6 0 1 0 -3.3 0M747.1 305.8a1.4 1.4 0 1 0 2.8 0a1.4 1.4 0 1 0 -2.8 0M592.4 385.5a0.8 0.8 0 1 0 1.7 0a0.8 0.8 0 1 0 -1.7 0M680.5 372.0a1.0 1.0 0 1 0 2.0 0a1.0 1.0 0 1 0 -2.0 0M727.7 391.3a1.7 1.7 0 1 0 3.4 0a1.7 1.7 0 1 0 -3.4 0M739.4 245.4a1.4 1.4 0 1 0 2.8 0a1.4 1.4 0 1 0 -2.8 0M610.9 373.1a1.2 1.2 0 1 0 2.4 0a1.2 1.2 0 1 0 -2.4 0M671.3 399.9a2.0 2.0 0 1 0 4.0 0a2.0 2.0 0 1 0 -4.0 0M777.2 305.5a1.5 1.5 0 1 0 3.0 0a1.5 1.5 0 1 0 -3.0 0M727.8 309.9a1.2 1.2 0 1 0 2.4 0a1.2 1.2 0 1 0 -2.4 0M662.0 252.3a1.3 1.3 0 1 0 2.7 0a1.3 1.3 0 1 0 -2.7 0M779.5 393.0a1.7 1.7 0 1 0 3.4 0a1.7 1.7 0 1 0 -3.4 0M681.7 285.6a0.9 0.9 0 1 0 1.8 0a0.9 0.9 0 1 0 -1.8 0M634.9 362.3a2.0 2.0 0 1 0 4.0 0a2.0 2.0 0 1 0 -4.0 0M652.9 363.0a1.9 1.9 0 1 0 3.8 0a1.9 1.9 0 1 0 -3.8 0M720.1 341.9a1.9 1.9 0 1 0 3.7 0a1.9 1.9 0 1 0 -3.7 0M654.0 348.9a1.2 1.2 0 1 0 2.4 0a1.2 1.2 0 1 0 -2.4 0M678.1 360.2a1.8 1.8 0 1 0 3.5 0a1.8 1.8 0 1 0 -3.5 0M639.5 390.6a1.7 1.7 0 1 0 3.4 0a1.7 1.7 0 1 0 -3.4 0M697.4 229.0a1.6 1.6 0 1 0 3.1 0a1.6 1.6 0 1 0 -3.1 0M631.1 343.2a1.4 1.4 0 1 0 2.9 0a1.4 1.4 0 1 0 -2.9 0M744.6 339.0a1.9 1.9 0 1 0 3.8 0a1.9 1.9 0 1 0 -3.8 0M650.3 338.4a1.8 1.8 0 1 0 3.7 0a1.8 1.8 0 1 0 -3.7 0M746.9 287.6a2.0 2.0 0 1 0 4.0 0a2.0 2.0 0 1 0 -4.0 0M755.1 346.1a2.2 2.2 0 1 0 4.3 0a2.2 2.2 0 1 0 -4.3 0M773.2 316.6a1.5 1.5 0 1 0 3.1 0a1.5 1.5 0 1 0 -3.1 0M613.4 371.7a2.1 2.1 0 1 0 4.2 0a2.1 2.1 0 1 0 -4.2 0M676.4 346.6a1.8 1.8 0 1 0 3.6 0a1.8 1.8 0 1 0 -3.6 0M727.3 256.7a1.9 1.9 0 1 0 3.8 0a1.9 1.9 0 1 0 -3.8 0M697.7 342.1a1.4 1.4 0 1 0 2.8 0a1.4 1.4 0 1 0 -2.8 0M706.0 361.0a1.7 1.7 0 1 0 3.4 0a1.7 1.7 0 1 0 -3.4 0M726.1 231.8a1.0 1.0 0 1 0 2.0 0a1.0 1.0 0 1 0 -2.0 0M669.8 339.5a1.1 1.1 0 1 0 2.2 0a1.1 1.1 0 1 0 -2.2 0M719.4 336.1a0.9 0.9 0 1 0 1.7 0a0.9 0.9 0 1 0 -1.7 0M676.1 266.1a0.9 0.9 0 1 0 1.8 0a0.9 0.9 0 1 0 -1.8 0M607.9 281.9a1.1 1.1 0 1 0 2.1 0a1.1 1.1 0 1 0 -2.1 0M619.5 233.2a1.5 1.5 0 1 0 2.9 0a1.5 1.5 0 1 0 -2.9 0M657.0 332.8a1.6 1.6 0 1 0 3.3 0a1.6 1.6 0 1 0 -3.3 0M629.1 383.3a0.8 0.8 0 1 0 1.6 0a0.8 0.8 0 1 0 -1.6 0M662.3 275.2a1.4 1.4 0 1 0 2.7 0a1.4 1.4 0 1 0 -2.7 0M603.9 370.8a1.3 1.3 0 1 0 2.6 0a1.3 1.3 0 1 0 -2.6 0M588.3 333.1a0.9 0.9 0 1 0 1.9 0a0.9 0.9 0 1 0 -1.9 0M690.2 285.7a1.6 1.6 0 1 0 3.2 0a1.6 1.6 0 1 0 -3.2 0M773.7 368.6a1.4 1.4 0 1 0 2.8 0a1.4 1.4 0 1 0 -2.8 0M744.5 338.1a1.3 1.3 0 1 0 2.6 0a1.3 1.3 0 1 0 -2.6 0M609.0 330.1a1.6 1.6 0 1 0 3.2 0a1.6 1.6 0 1 0 -3.2 0M773.2 394.5a1.7 1.7 0 1 0 3.3 0a1.7 1.7 0 1 0 -3.3 0M651.9 381.6a0.8 0.8 0 1 0 1.6 0a0.8 0.8 0 1 0 -1.6 0M602.1 324.9a1.7 1.7 0 1 0 3.3 0a1.7 1.7 0 1 0 -3.3 0M608.3 335.9a2.0 2.0 0 1 0 4.1 0a2.0 2.0 0 1 0 -4.1 0M656.6 301.7a1.1 1.1 0 1 0 2.2 0a1.1 1.1 0 1 0 -2.2 0M639.4 395.2a1.3 1.3 0 1 0 2.7 0a1.3 1.3 0 1 0 -2.7 0M774.0 385.1a1.6 1.6 0 1 0 3.3 0a1.6 1.6 0 1 0 -3.3 0M632.9 396.7a1.5 1.5 0 1 0 3.0 0a1.5 1.5 0 1 0 -3.0 0M663.5 282.2a2.2 2.2 0 1 0 4.4 0a2.2 2.2 0 1 0 -4.4 0M679.6 276.5a1.5 1.5 0 1 0 2.9 0a1.5 1.5 0 1 0 -2.9 0M605.1 334.6a1.4 1.4 0 1 0 2.8 0a1.4 1.4 0 1 0 -2.8 0M639.1 362.2a2.0 2.0 0 1 0 3.9 0a2.0 2.0 0 1 0 -3.9 0M583.5 319.1a1.2 1.2 0 1 0 2.4 0a1.2 1.2 0 1 0 -2.4 0M769.3 362.3a1.1 1.1 0 1 0 2.3 0a1.1 1.1 0 1 0 -2.3 0M633.8 253.8a2.2 2.2 0 1 0 4.4 0a2.2 2.2 0 1 0 -4.4 0M639.6 332.2a1.5 1.5 0 1 0 2.9 0a1.5 1.5 0 1 0 -2.9 0M710.1 331.5a1.8 1.8 0 1 0 3.7 0a1.8 1.8 0 1 0 -3.7 0M604.6 358.5a1.2 1.2 0 1 0 2.4 0a1.2 1.2 0 1 0 -2.4 0M688.3 285.1a1.2 1.2 0 1 0 2.4 0a1.2 1.2 0 1 0 -2.4 0M687.5 307.3a1.3 1.3 0 1 0 2.6 0a1.3 1.3 0 1 0 -2.6 0M731.3 329.2a0.9 0.9 0 1 0 1.7 0a0.9 0.9 0 1 0 -1.7 0M630.8 305.8a2.1 2.1 0 1 0 4.2 0a2.1 2.1 0 1 0 -4.2 0M760.1 321.4a0.8 0.8 0 1 0 1.6 0a0.8 0.8 0 1 0 -1.6 0M737.2 301.0a1.6 1.6 0 1 0 3.2 0a1.6 1.6 0 1 0 -3.2 0M723.2 336.4a1.5 1.5 0 1 0 2.9 0a1.5 1.5 0 1 0 -2.9 0M764.4 293.7a1.3 1.3 0 1 0 2.7 0a1.3 1.3 0 1 0 -2.7 0M752.4 261.0a1.2 1.2 0 1 0 2.4 0a1.2 1.2 0 1 0 -2.4 0M747.3 238.4a2.0 2.0 0 1 0 3.9 0a2.0 2.0 0 1 0 -3.9 0M720.8 301.9a1.2 1.2 0 1 0 2.4 0a1.2 1.2 0 1 0 -2.4 0M738.3 384.5a1.0 1.0 0 1 0 2.0 0a1.0 1.0 0 1 0 -2.0 0M676.9 322.0a1.5 1.5 0 1 0 3.0 0a1.5 1.5 0 1 0 -3.0 0M647.0 253.6a1.6 1.6 0 1 0 3.2 0a1.6 1.6 0 1 0 -3.2 0M744.5 238.8a1.1 1.1 0 1 0 2.2 0a1.1 1.1 0 1 0 -2.2 0M745.4 364.0a1.7 1.7 0 1 0 3.5 0a1.7 1.7 0 1 0 -3.5 0M585.0 352.0a2.2 2.2 0 1 0 4.3 0a2.2 2.2 0 1 0 -4.3 0M782.3 348.3a0.9 0.9 0 1 0 1.7 0a0.9 0.9 0 1 0 -1.7 0M750.0 264.9a1.7 1.7 0 1 0 3.4 0a1.7 1.7 0 1 0 -3.4 0M772.9 350.3a1.0 1.0 0 1 0 2.0 0a1.0 1.0 0 1 0 -2.0 0M639.9 385.8a1.0 1.0 0 1 0 2.0 0a1.0 1.0 0 1 0 -2.0 0M704.0 298.6a1.0 1.0 0 1 0 2.1 0a1.0 1.0 0 1 0 -2.1 0M706.5 234.5a1.0 1.0 0 1 0 1.9 0a1.0 1.0 0 1 0 -1.9 0M657.5 239.5a0.9 0.9 0 1 0 1.8 0a0.9 0.9 0 1 0 -1.8 0M695.9 355.4a2.0 2.0 0 1 0 4.1 0a2.0 2.0 0 1 0 -4.1 0M607.8 301.7a1.2 1.2 0 1 0 2.5 0a1.2 1.2 0 1 0 -2.5 0M700.8 311.7a2.1 2.1 0 1 0 4.2 0a2.1 2.1 0 1 0 -4.2 0M655.6 236.6a1.8 1.8 0 1 0 3.6 0a1.8 1.8 0 1 0 -3.6 0M610.9 336.2a1.5 1.5 0 1 0 3.0 0a1.5 1.5 0 1 0 -3.0 0M763.8 323.0a1.7 1.7 0 1 0 3.3 0a1.7 1.7 0 1 0 -3.3 0M633.9 322.4a1.2 1.2 0 1 0 2.3 0a1.2 1.2 0 1 0 -2.3 0M732.3 316.4a1.0 1.0 0 1 0 2.0 0a1.0 1.0 0 1 0 -2.0 0M627.4 291.2a1.8 1.8 0 1 0 3.7 0a1.8 1.8 0 1 0 -3.7 0M616.4 350.4a1.7 1.7 0 1 0 3.4 0a1.7 1.7 0 1 0 -3.4 0M598.2 342.6a0.9 0.9 0 1 0 1.9 0a0.9 0.9 0 1 0 -1.9 0M606.0 329.8a1.1 1.1 0 1 0 2.3 0a1.1 1.1 0 1 0 -2.3 0M757.4 310.1a1.3 1.3 0 1 0 2.5 0a1.3 1.3 0 1 0 -2.5 0M740.7 232.1a1.8 1.8 0 1 0 3.6 0a1.8 1.8 0 1 0 -3.6 0M590.7 253.1a2.1 2.1 0 1 0 4.3 0a2.1 2.1 0 1 0 -4.3 0M718.3 265.6a1.0 1.0 0 1 0 1.9 0a1.0 1.0 0 1 0 -1.9 0M776.0 342.1a1.9 1.9 0 1 0 3.9 0a1.9 1.9 0 1 0 -3.9 0M608.9 335.1a1.3 1.3 0 1 0 2.6 0a1.3 1.3 0 1 0 -2.6 0M627.7 284.7a1.7 1.7 0 1 0 3.3 0a1.7 1.7 0 1 0 -3.3 0M651.3 293.7a1.0 1.0 0 1 0 2.0 0a1.0 1.0 0 1 0 -2.0 0M747.5 339.1a1.9 1.9 0 1 0 3.9 0a1.9 1.9 0 1 0 -3.9 0M667.8 374.3a1.5 1.5 0 1 0 3.0 0a1.5 1.5 0 1 0 -3.0 0M699.6 326.2a1.8 1.8 0 1 0 3.7 0a1.8 1.8 0 1 0 -3.7 0M660.8 243.8a0.8 0.8 0 1 0 1.7 0a0.8 0.8 0 1 0 -1.7 0M620.7 233.8a2.0 2.0 0 1 0 4.1 0a2.0 2.0 0 1 0 -4.1 0M678.1 358.5a0.8 0.8 0 1 0 1.6 0a0.8 0.8 0 1 0 -1.6 0M675.1 380.9a1.7 1.7 0 1 0 3.3 0a1.7 1.7 0 1 0 -3.3 0M667.4 307.5a0.9 0.9 0 1 0 1.9 0a0.9 0.9 0 1 0 -1.9 0M611.8 254.5a1.3 1.3 0 1 0 2.6 0a1.3 1.3 0 1 0 -2.6 0M658.7 379.3a1.0 1.0 0 1 0 2.0 0a1.0 1.0 0 1 0 -2.0 0M632.2 275.0a1.0 1.0 0 1 0 2.1 0a1.0 1.0 0 1 0 -2.1 0M638.4 267.7a1.5 1.5 0 1 0 2.9 0a1.5 1.5 0 1 0 -2.9 0M587.2 386.9a1.3 1.3 0 1 0 2.6 0a1.3 1.3 0 1 0 -2.6 0M769.3 346.0a1.7 1.7 0 1 0 3.5 0a1.7 1.7 0 1 0 -3.5 0M676.1 390.6a1.0 1.0 0 1 0 1.9 0a1.0 1.0 0 1 0 -1.9 0M715.0 277.4a1.7 1.7 0 1 0 3.5 0a1.7 1.7 0 1 0 -3.5 0M727.9 255.2a1.1 1.1 0 1 0 2.2 0a1.1 1.1 0 1 0 -2.2 0M586.1 266.9a0.9 0.9 0 1 0 1.8 0a0.9 0.9 0 1 0 -1.8 0M661.5 395.4a1.3 1.3 0 1 0 2.6 0a1.3 1.3 0 1 0 -2.6 0M643.6 308.0a1.2 1.2 0 1 0 2.4 0a1.2 1.2 0 1 0 -2.4 0M728.5 351.2a1.0 1.0 0 1 0 2.1 0a1.0 1.0 0 1 0 -2.1 0M628.4 343.3a2.1 2.1 0 1 0 4.2 0a2.1 2.1 0 1 0 -4.2 0M710.0 301.5a2.2 2.2 0 1 0 4.3 0a2.2 2.2 0 1 0 -4.3 0M581.4 237.5a1.9 1.9 0 1 0 3.8 0a1.9 1.9 0 1 0 -3.8 0M663.1 234.8a1.6 1.6 0 1 0 3.1 0a1.6 1.6 0 1 0 -3.1 0M780.1 316.8a1.3 1.3 0 1 0 2.6 0a1.3 1.3 0 1 0 -2.6 0M598.8 239.3a2.1 2.1 0 1 0 4.1 0a2.1 2.1 0 1 0 -4.1 0M680.1 388.9a0.9 0.9 0 1 0 1.8 0a0.9 0.9 0 1 0 -1.8 0M629.7 235.7a1.4 1.4 0 1 0 2.7 0a1.4 1.4 0 1 0 -2.7 0M592.7 271.2a1.4 1.4 0 1 0 2.7 0a1.4 1.4 0 1 0 -2.7 0M642.8 235.9a0.9 0.9 0 1 0 1.7 0a0.9 0.9 0 1 0 -1.7 0M776.3 258.0a1.5 1.5 0 1 0 3.0 0a1.5 1.5 0 1 0 -3.0 0M662.2 318.9a0.9 0.9 0 1 0 1.8 0a0.9 0.9 0 1 0 -1.8 0M643.7 245.7a1.6 1.6 0 1 0 3.1 0a1.6 1.6 0 1 0 -3.1 0M765.6 330.5a2.0 2.0 0 1 0 4.0 0a2.0 2.0 0 1 0 -4.0 0M623.6 230.0a1.6 1.6 0 1 0 3.1 0a1.6 1.6 0 1 0 -3.1 0M678.7 325.9a1.3 1.3 0 1 0 2.7 0a1.3 1.3 0 1 0 -2.7 0M705.9 352.5a2.1 2.1 0 1 0 4.2 0a2.1 2.1 0 1 0 -4.2 0M642.0 304.7a2.0 2.0 0 1 0 3.9 0a2.0 2.0 0 1 0 -3.9 0M625.9 247.0a1.2 1.2 0 1 0 2.5 0a1.2 1.2 0 1 0 -2.5 0M597.7 360.6a1.9 1.9 0 1 0 3.9 0a1.9 1.9 0 1 0 -3.9 0M644.1 249.5a0.9 0.9 0 1 0 1.8 0a0.9 0.9 0 1 0 -1.8 0M629.9 241.6a1.4 1.4 0 1 0 2.8 0a1.4 1.4 0 1 0 -2.8 0M697.4 269.5a0.9 0.9 0 1 0 1.8 0a0.9 0.9 0 1 0 -1.8 0M722.1 235.3a1.1 1.1 0 1 0 2.2 0a1.1 1.1 0 1 0 -2.2 0M638.7 291.7a0.9 0.9 0 1 0 1.9 0a0.9 0.9 0 1 0 -1.9 0M664.9 281.3a1.9 1.9 0 1 0 3.7 0a1.9 1.9 0 1 0 -3.7 0M692.3 382.0a1.7 1.7 0 1 0 3.4 0a1.7 1.7 0 1 0 -3.4 0M733.7 326.4a1.4 1.4 0 1 0 2.8 0a1.4 1.4 0 1 0 -2.8 0M744.4 340.4a2.1 2.1 0 1 0 4.3 0a2.1 2.1 0 1 0 -4.3 0M727.5 348.3a1.2 1.2 0 1 0 2.3 0a1.2 1.2 0 1 0 -2.3 0M744.7 293.2a1.0 1.0 0 1 0 2.0 0a1.0 1.0 0 1 0 -2.0 0M594.1 256.3a1.2 1.2 0 1 0 2.3 0a1.2 1.2 0 1 0 -2.3 0M717.3 276.4a0.9 0.9 0 1 0 1.8 0a0.9 0.9 0 1 0 -1.8 0M735.1 323.4a0.8 0.8 0 1 0 1.7 0a0.8 0.8 0 1 0 -1.7 0M590.9 249.5a1.3 1.3 0 1 0 2.6 0a1.3 1.3 0 1 0 -2.6 0M753.6 391.2a1.7 1.7 0 1 0 3.3 0a1.7 1.7 0 1 0 -3.3 0M627.3 301.2a1.3 1.3 0 1 0 2.6 0a1.3 1.3 0 1 0 -2.6 0M647.0 229.2a1.6 1.6 0 1 0 3.2 0a1.6 1.6 0 1 0 -3.2 0M747.7 352.7a0.9 0.9 0 1 0 1.9 0a0.9 0.9 0 1 0 -1.9 0M687.1 256.6a1.8 1.8 0 1 0 3.6 0a1.8 1.8 0 1 0 -3.6 0M670.0 389.4a1.9 1.9 0 1 0 3.8 0a1.9 1.9 0 1 0 -3.8 0M603.7 281.9a2.1 2.1 0 1 0 4.2 0a2.1 2.1 0 1 0 -4.2 0M673.5 302.1a1.4 1.4 0 1 0 2.8 0a1.4 1.4 0 1 0 -2.8 0M735.1 389.0a1.5 1.5 0 1 0 3.1 0a1.5 1.5 0 1 0 -3.1 0M776.4 330.1a0.9 0.9 0 1 0 1.9 0a0.9 0.9 0 1 0 -1.9 0M745.2 299.6a0.9 0.9 0 1 0 1.7 0a0.9 0.9 0 1 0 -1.7 0M777.5 232.7a1.6 1.6 0 1 0 3.2 0a1.6 1.6 0 1 0 -3.2 0M677.8 379.5a1.3 1.3 0 1 0 2.7 0a1.3 1.3 0 1 0 -2.7 0M624.4 274.9a1.1 1.1 0 1 0 2.2 0a1.1 1.1 0 1 0 -2.2 0M693.5 288.8a1.9 1.9 0 1 0 3.7 0a1.9 1.9 0 1 0 -3.7 0M629.5 287.9a1.1 1.1 0 1 0 2.3 0a1.1 1.1 0 1 0 -2.3 0M778.0 372.4a2.0 2.0 0 1 0 4.0 0a2.0 2.0 0 1 0 -4.0 0M705.6 296.3a1.0 1.0 0 1 0 2.0 0a1.0 1.0 0 1 0 -2.0 0M748.7 311.8a0.9 0.9 0 1 0 1.7 0a0.9 0.9 0 1 0 -1.7 0M614.4 244.1a1.8 1.8 0 1 0 3.6 0a1.8 1.8 0 1 0 -3.6 0M761.5 261.5a1.9 1.9 0 1 0 3.8 0a1.9 1.9 0 1 0 -3.8 0M645.3 345.1a2.0 2.0 0 1 0 4.0 0a2.0 2.0 0 1 0 -4.0 0M706.2 365.5a1.3 1.3 0 1 0 2.7 0a1.3 1.3 0 1 0 -2.7 0M582.4 315.5a1.6 1.6 0 1 0 3.2 0a1.6 1.6 0 1 0 -3.2 0M618.0 294.3a1.2 1.2 0 1 0 2.5 0a1.2 1.2 0 1 0 -2.5 0M586.1 281.0a1.3 1.3 0 1 0 2.7 0a1.3 1.3 0 1 0 -2.7 0M676.6 348.7a1.4 1.4 0 1 0 2.7 0a1.4 1.4 0 1 0 -2.7 0M777.9 368.1a2.1 2.1 0 1 0 4.2 0a2.1 2.1 0 1 0 -4.2 0M720.0 342.9a1.6 1.6 0 1 0 3.1 0a1.6 1.6 0 1 0 -3.1 0M741.3 289.8a1.6 1.6 0 1 0 3.3 0a1.6 1.6 0 1 0 -3.3 0M717.7 317.3a1.2 1.2 0 1 0 2.4 0a1.2 1.2 0 1 0 -2.4 0M596.4 242.1a1.3 1.3 0 1 0 2.6 0a1.3 1.3 0 1 0 -2.6 0M697.1 358.4a1.8 1.8 0 1 0 3.6 0a1.8 1.8 0 1 0 -3.6 0M642.6 387.7a1.2 1.2 0 1 0 2.4 0a1.2 1.2 0 1 0 -2.4 0M724.4 239.5a1.9 1.9 0 1 0 3.7 0a1.9 1.9 0 1 0 -3.7 0M714.9 392.5a2.1 2.1 0 1 0 4.1 0a2.1 2.1 0 1 0 -4.1 0M718.7 372.0a1.8 1.8 0 1 0 3.7 0a1.8 1.8 0 1 0 -3.7 0M703.6 263.1a1.5 1.5 0 1 0 3.0 0a1.5 1.5 0 1 0 -3.0 0M760.4 268.4a2.2 2.2 0 1 0 4.3 0a2.2 2.2 0 1 0 -4.3 0M690.8 295.1a0.8 0.8 0 1 0 1.6 0a0.8 0.8 0 1 0 -1.6 0M658.9 257.8a1.7 1.7 0 1 0 3.4 0a1.7 1.7 0 1 0 -3.4 0M761.6 384.5a1.7 1.7 0 1 0 3.3 0a1.7 1.7 0 1 0 -3.3 0M658.1 245.8a1.8 1.8 0 1 0 3.5 0a1.8 1.8 0 1 0 -3.5 0M692.2 350.7a1.3 1.3 0 1 0 2.6 0a1.3 1.3 0 1 0 -2.6 0M759.5 263.8a1.2 1.2 0 1 0 2.5 0a1.2 1.2 0 1 0 -2.5 0M633.9 334.6a2.1 2.1 0 1 0 4.1 0a2.1 2.1 0 1 0 -4.1 0M613.9 336.5a1.9 1.9 0 1 0 3.7 0a1.9 1.9 0 1 0 -3.7 0M625.7 237.8a1.6 1.6 0 1 0 3.2 0a1.6 1.6 0 1 0 -3.2 0M747.5 379.0a1.8 1.8 0 1 0 3.6 0a1.8 1.8 0 1 0 -3.6 0M664.5 300.6a1.5 1.5 0 1 0 3.1 0a1.5 1.5 0 1 0 -3.1 0M763.1 279.3a1.2 1.2 0 1 0 2.4 0a1.2 1.2 0 1 0 -2.4 0M702.9 394.2a1.1 1.1 0 1 0 2.1 0a1.1 1.1 0 1 0 -2.1 0M586.6 247.0a1.6 1.6 0 1 0 3.2 0a1.6 1.6 0 1 0 -3.2 0M702.5 258.8a1.1 1.1 0 1 0 2.1 0a1.1 1.1 0 1 0 -2.1 0M700.0 338.8a1.8 1.8 0 1 0 3.5 0a1.8 1.8 0 1 0 -3.5 0M727.4 237.6a1.5 1.5 0 1 0 3.0 0a1.5 1.5 0 1 0 -3.0 0M748.9 392.6a1.2 1.2 0 1 0 2.5 0a1.2 1.2 0 1 0 -2.5 0M751.2 338.6a2.1 2.1 0 1 0 4.2 0a2.1 2.1 0 1 0 -4.2 0M626.2 347.5a2.0 2.0 0 1 0 4.0 0a2.0 2.0 0 1 0 -4.0 0M677.0 244.4a1.1 1.1 0 1 0 2.1 0a1.1 1.1 0 1 0 -2.1 0M612.6 243.1a1.0 1.0 0 1 0 2.0 0a1.0 1.0 0 1 0 -2.0 0M704.2 245.1a1.9 1.9 0 1 0 3.7 0a1.9 1.9 0 1 0 -3.7 0M728.4 368.2a1.9 1.9 0 1 0 3.9 0a1.9 1.9 0 1 0 -3.9 0M723.5 386.9a2.1 2.1 0 1 0 4.3 0a2.1 2.1 0 1 0 -4.3 0M707.0 394.0a0.9 0.9 0 1 0 1.9 0a0.9 0.9 0 1 0 -1.9 0M601.6 238.2a1.1 1.1 0 1 0 2.2 0a1.1 1.1 0 1 0 -2.2 0M655.7 306.4a1.8 1.8 0 1 0 3.5 0a1.8 1.8 0 1 0 -3.5 0M730.3 241.5a1.4 1.4 0 1 0 2.7 0a1.4 1.4 0 1 0 -2.7 0M690.5 291.9a1.0 1.0 0 1 0 1.9 0a1.0 1.0 0 1 0 -1.9 0M700.6 291.8a1.8 1.8 0 1 0 3.5 0a1.8 1.8 0 1 0 -3.5 0M679.7 393.5a2.1 2.1 0 1 0 4.2 0a2.1 2.1 0 1 0 -4.2 0M594.7 358.4a1.8 1.8 0 1 0 3.6 0a1.8 1.8 0 1 0 -3.6 0M640.2 247.2a1.5 1.5 0 1 0 2.9 0a1.5 1.5 0 1 0 -2.9 0M651.3 354.6a2.1 2.1 0 1 0 4.2 0a2.1 2.1 0 1 0 -4.2 0M657.5 277.3a1.5 1.5 0 1 0 3.0 0a1.5 1.5 0 1 0 -3.0 0M720.8 363.5a1.6 1.6 0 1 0 3.2 0a1.6 1.6 0 1 0 -3.2 0M639.7 285.3a2.0 2.0 0 1 0 4.0 0a2.0 2.0 0 1 0 -4.0 0M685.2 235.7a1.4 1.4 0 1 0 2.8 0a1.4 1.4 0 1 0 -2.8 0M629.0 342.3a0.9 0.9 0 1 0 1.8 0a0.9 0.9 0 1 0 -1.8 0M635.1 243.6a1.5 1.5 0 1 0 2.9 0a1.5 1.5 0 1 0 -2.9 0M779.1 320.7a1.3 1.3 0 1 0 2.7 0a1.3 1.3 0 1 0 -2.7 0M768.9 242.9a1.3 1.3 0 1 0 2.6 0a1.3 1.3 0 1 0 -2.6 0M743.5 227.9a1.9 1.9 0 1 0 3.7 0a1.9 1.9 0 1 0 -3.7 0M653.6 229.8a1.2 1.2 0 1 0 2.3 0a1.2 1.2 0 1 0 -2.3 0M672.8 293.2a1.5 1.5 0 1 0 3.0 0a1.5 1.5 0 1 0 -3.0 0M590.5 264.8a2.2 2.2 0 1 0 4.3 0a2.2 2.2 0 1 0 -4.3 0M670.3 308.6a0.9 0.9 0 1 0 1.8 0a0.9 0.9 0 1 0 -1.8 0M636.5 392.2a1.8 1.8 0 1 0 3.5 0a1.8 1.8 0 1 0 -3.5 0M683.0 236.2a1.3 1.3 0 1 0 2.7 0a1.3 1.3 0 1 0 -2.7 0M737.2 302.2a1.6 1.6 0 1 0 3.3 0a1.6 1.6 0 1 0 -3.3 0M762.1 338.6a1.7 1.7 0 1 0 3.4 0a1.7 1.7 0 1 0 -3.4 0M587.4 231.1a1.9 1.9 0 1 0 3.8 0a1.9 1.9 0 1 0 -3.8 0M663.3 378.2a2.0 2.0 0 1 0 3.9 0a2.0 2.0 0 1 0 -3.9 0M764.2 292.5a2.2 2.2 0 1 0 4.4 0a2.2 2.2 0 1 0 -4.4 0M733.4 381.3a1.0 1.0 0 1 0 2.0 0a1.0 1.0 0 1 0 -2.0 0M737.2 300.0a2.2 2.2 0 1 0 4.3 0a2.2 2.2 0 1 0 -4.3 0M780.9 264.5a1.4 1.4 0 1 0 2.8 0a1.4 1.4 0 1 0 -2.8 0M635.4 308.3a1.2 1.2 0 1 0 2.4 0a1.2 1.2 0 1 0 -2.4 0M715.3 248.3a1.0 1.0 0 1 0 2.1 0a1.0 1.0 0 1 0 -2.1 0M672.9 239.8a1.3 1.3 0 1 0 2.7 0a1.3 1.3 0 1 0 -2.7 0M761.8 380.2a1.1 1.1 0 1 0 2.2 0a1.1 1.1 0 1 0 -2.2 0M583.6 370.3a2.1 2.1 0 1 0 4.3 0a2.1 2.1 0 1 0 -4.3 0M701.5 250.6a1.1 1.1 0 1 0 2.3 0a1.1 1.1 0 1 0 -2.3 0M766.6 389.2a0.8 0.8 0 1 0 1.7 0a0.8 0.8 0 1 0 -1.7 0M618.1 301.2a1.2 1.2 0 1 0 2.3 0a1.2 1.2 0 1 0 -2.3 0M732.0 291.5a1.9 1.9 0 1 0 3.8 0a1.9 1.9 0 1 0 -3.8 0M610.5 316.7a2.2 2.2 0 1 0 4.3 0a2.2 2.2 0 1 0 -4.3 0M722.5 242.6a1.0 1.0 0 1 0 1.9 0a1.0 1.0 0 1 0 -1.9 0M710.4 291.9a1.3 1.3 0 1 0 2.6 0a1.3 1.3 0 1 0 -2.6 0M676.1 327.6a2.2 2.2 0 1 0 4.3 0a2.2 2.2 0 1 0 -4.3 0M629.4 325.4a1.2 1.2 0 1 0 2.3 0a1.2 1.2 0 1 0 -2.3 0M690.9 353.5a1.0 1.0 0 1 0 2.0 0a1.0 1.0 0 1 0 -2.0 0M678.1 349.1a0.8 0.8 0 1 0 1.6 0a0.8 0.8 0 1 0 -1.6 0M735.9 299.5a1.5 1.5 0 1 0 3.0 0a1.5 1.5 0 1 0 -3.0 0M704.1 364.2a0.9 0.9 0 1 0 1.8 0a0.9 0.9 0 1 0 -1.8 0M681.5 233.6a1.3 1.3 0 1 0 2.7 0a1.3 1.3 0 1 0 -2.7 0M650.5 230.7a1.2 1.2 0 1 0 2.4 0a1.2 1.2 0 1 0 -2.4 0M670.6 340.3a2.1 2.1 0 1 0 4.2 0a2.1 2.1 0 1 0 -4.2 0M654.8 318.7a1.8 1.8 0 1 0 3.6 0a1.8 1.8 0 1 0 -3.6 0M768.7 391.3a2.2 2.2 0 1 0 4.4 0a2.2 2.2 0 1 0 -4.4 0M640.7 255.8a2.1 2.1 0 1 0 4.2 0a2.1 2.1 0 1 0 -4.2 0M595.8 304.6a1.8 1.8 0 1 0 3.7 0a1.8 1.8 0 1 0 -3.7 0M686.4 294.3a2.1 2.1 0 1 0 4.2 0a2.1 2.1 0 1 0 -4.2 0M640.3 322.4a2.0 2.0 0 1 0 3.9 0a2.0 2.0 0 1 0 -3.9 0M608.3 287.7a1.5 1.5 0 1 0 3.0 0a1.5 1.5 0 1 0 -3.0 0M694.6 262.9a1.4 1.4 0 1 0 2.9 0a1.4 1.4 0 1 0 -2.9 0M592.8 242.2a1.3 1.3 0 1 0 2.6 0a1.3 1.3 0 1 0 -2.6 0M609.8 394.4a1.2 1.2 0 1 0 2.3 0a1.2 1.2 0 1 0 -2.3 0M635.7 362.6a1.8 1.8 0 1 0 3.7 0a1.8 1.8 0 1 0 -3.7 0M633.1 370.4a1.7 1.7 0 1 0 3.4 0a1.7 1.7 0 1 0 -3.4 0M659.2 335.8a1.1 1.1 0 1 0 2.3 0a1.1 1.1 0 1 0 -2.3 0M633.7 378.6a1.4 1.4 0 1 0 2.8 0a1.4 1.4 0 1 0 -2.8 0M761.8 257.6a1.0 1.0 0 1 0 2.0 0a1.0 1.0 0 1 0 -2.0 0M590.9 355.0a1.6 1.6 0 1 0 3.2 0a1.6 1.6 0 1 0 -3.2 0M582.0 234.5a2.0 2.0 0 1 0 3.9 0a2.0 2.0 0 1 0 -3.9 0M680.8 377.7a0.9 0.9 0 1 0 1.7 0a0.9 0.9 0 1 0 -1.7 0M698.8 247.3a1.8 1.8 0 1 0 3.6 0a1.8 1.8 0 1 0 -3.6 0M704.1 332.9a1.1 1.1 0 1 0 2.2 0a1.1 1.1 0 1 0 -2.2 0M772.3 246.2a0.9 0.9 0 1 0 1.8 0a0.9 0.9 0 1 0 -1.8 0M718.9 243.1a0.9 0.9 0 1 0 1.8 0a0.9 0.9 0 1 0 -1.8 0M672.7 339.3a2.0 2.0 0 1 0 4.1 0a2.0 2.0 0 1 0 -4.1 0M725.6 239.0a1.7 1.7 0 1 0 3.4 0a1.7 1.7 0 1 0 -3.4 0M750.1 247.9a1.9 1.9 0 1 0 3.7 0a1.9 1.9 0 1 0 -3.7 0M633.3 278.7a0.8 0.8 0 1 0 1.6 0a0.8 0.8 0 1 0 -1.6 0M732.7 316.2a2.1 2.1 0 1 0 4.1 0a2.1 2.1 0 1 0 -4.1 0M674.7 253.9a1.1 1.1 0 1 0 2.2 0a1.1 1.1 0 1 0 -2.2 0M634.0 390.8a1.1 1.1 0 1 0 2.2 0a1.1 1.1 0 1 0 -2.2 0M598.9 288.0a0.9 0.9 0 1 0 1.8 0a0.9 0.9 0 1 0 -1.8 0M666.0 334.5a1.7 1.7 0 1 0 3.4 0a1.7 1.7 0 1 0 -3.4 0M615.7 251.0a1.5 1.5 0 1 0 3.0 0a1.5 1.5 0 1 0 -3.0 0M718.9 304.4a1.6 1.6 0 1 0 3.2 0a1.6 1.6 0 1 0 -3.2 0M764.6 252.1a1.2 1.2 0 1 0 2.3 0a1.2 1.2 0 1 0 -2.3 0M679.4 319.7a2.1 2.1 0 1 0 4.1 0a2.1 2.1 0 1 0 -4.1 0M692.5 341.6a1.4 1.4 0 1 0 2.8 0a1.4 1.4 0 1 0 -2.8 0M738.8 371.6a1.2 1.2 0 1 0 2.4 0a1.2 1.2 0 1 0 -2.4 0M602.4 271.8a1.3 1.3 0 1 0 2.6 0a1.3 1.3 0 1 0 -2.6 0M759.6 272.8a1.7 1.7 0 1 0 3.4 0a1.7 1.7 0 1 0 -3.4 0M710.1 392.4a1.0 1.0 0 1 0 1.9 0a1.0 1.0 0 1 0 -1.9 0M736.2 285.2a0.9 0.9 0 1 0 1.9 0a0.9 0.9 0 1 0 -1.9 0M707.7 373.1a1.6 1.6 0 1 0 3.2 0a1.6 1.6 0 1 0 -3.2 0M590.7 395.2a1.3 1.3 0 1 0 2.7 0a1.3 1.3 0 1 0 -2.7 0M709.1 352.2a1.2 1.2 0 1 0 2.3 0a1.2 1.2 0 1 0 -2.3 0M663.3 284.0a0.9 0.9 0 1 0 1.9 0a0.9 0.9 0 1 0 -1.9 0M593.6 351.0a1.4 1.4 0 1 0 2.7 0a1.4 1.4 0 1 0 -2.7 0M756.0 237.8a1.2 1.2 0 1 0 2.4 0a1.2 1.2 0 1 0 -2.4 0M616.4 390.2a1.9 1.9 0 1 0 3.8 0a1.9 1.9 0 1 0 -3.8 0M761.7 314.6a0.9 0.9 0 1 0 1.9 0a0.9 0.9 0 1 0 -1.9 0M665.0 266.1a0.8 0.8 0 1 0 1.7 0a0.8 0.8 0 1 0 -1.7 0M694.9 277.2a1.0 1.0 0 1 0 1.9 0a1.0 1.0 0 1 0 -1.9 0M683.0 388.4a2.1 2.1 0 1 0 4.2 0a2.1 2.1 0 1 0 -4.2 0M674.0 244.8a1.9 1.9 0 1 0 3.8 0a1.9 1.9 0 1 0 -3.8 0M604.2 320.0a0.9 0.9 0 1 0 1.8 0a0.9 0.9 0 1 0 -1.8 0M779.5 320.9a1.4 1.4 0 1 0 2.8 0a1.4 1.4 0 1 0 -2.8 0M634.7 322.3a2.2 2.2 0 1 0 4.3 0a2.2 2.2 0 1 0 -4.3 0M666.7 263.2a1.5 1.5 0 1 0 3.0 0a1.5 1.5 0 1 0 -3.0 0M765.3 293.0a1.7 1.7 0 1 0 3.4 0a1.7 1.7 0 1 0 -3.4 0M765.2 283.3a1.9 1.9 0 1 0 3.9 0a1.9 1.9 0 1 0 -3.9 0M687.7 251.1a0.9 0.9 0 1 0 1.8 0a0.9 0.9 0 1 0 -1.8 0M769.8 307.6a1.4 1.4 0 1 0 2.8 0a1.4 1.4 0 1 0 -2.8 0M765.4 326.3a1.5 1.5 0 1 0 3.0 0a1.5 1.5 0 1 0 -3.0 0M638.1 355.7a1.2 1.2 0 1 0 2.3 0a1.2 1.2 0 1 0 -2.3 0M675.2 358.2a1.6 1.6 0 1 0 3.3 0a1.6 1.6 0 1 0 -3.3 0M607.3 262.1a1.8 1.8 0 1 0 3.5 0a1.8 1.8 0 1 0 -3.5 0M726.7 244.8a2.2 2.2 0 1 0 4.4 0a2.2 2.2 0 1 0 -4.4 0M608.0 256.0a0.9 0.9 0 1 0 1.9 0a0.9 0.9 0 1 0 -1.9 0M669.9 334.2a2.0 2.0 0 1 0 4.0 0a2.0 2.0 0 1 0 -4.0 0M613.9 347.9a0.9 0.9 0 1 0 1.9 0a0.9 0.9 0 1 0 -1.9 0M697.6 270.6a1.3 1.3 0 1 0 2.6 0a1.3 1.3 0 1 0 -2.6 0M591.6 351.7a1.0 1.0 0 1 0 1.9 0a1.0 1.0 0 1 0 -1.9 0M734.3 285.2a1.6 1.6 0 1 0 3.3 0a1.6 1.6 0 1 0 -3.3 0M708.8 311.5a2.0 2.0 0 1 0 4.0 0a2.0 2.0 0 1 0 -4.0 0M766.0 275.8a1.3 1.3 0 1 0 2.5 0a1.3 1.3 0 1 0 -2.5 0M757.3 250.0a1.4 1.4 0 1 0 2.8 0a1.4 1.4 0 1 0 -2.8 0M664.6 395.9a1.0 1.0 0 1 0 2.0 0a1.0 1.0 0 1 0 -2.0 0M712.2 358.0a1.8 1.8 0 1 0 3.6 0a1.8 1.8 0 1 0 -3.6 0M581.0 390.3a1.2 1.2 0 1 0 2.5 0a1.2 1.2 0 1 0 -2.5 0M752.5 341.4a1.4 1.4 0 1 0 2.8 0a1.4 1.4 0 1 0 -2.8 0M749.5 343.9a1.3 1.3 0 1 0 2.6 0a1.3 1.3 0 1 0 -2.6 0M727.7 314.4a1.8 1.8 0 1 0 3.6 0a1.8 1.8 0 1 0 -3.6 0M704.8 364.7a1.0 1.0 0 1 0 2.0 0a1.0 1.0 0 1 0 -2.0 0M679.7 227.2a1.9 1.9 0 1 0 3.8 0a1.9 1.9 0 1 0 -3.8 0M736.6 371.8a0.9 0.9 0 1 0 1.7 0a0.9 0.9 0 1 0 -1.7 0M688.9 309.8a1.0 1.0 0 1 0 1.9 0a1.0 1.0 0 1 0 -1.9 0M620.8 395.6a2.0 2.0 0 1 0 4.0 0a2.0 2.0 0 1 0 -4.0 0M628.3 370.4a1.7 1.7 0 1 0 3.4 0a1.7 1.7 0 1 0 -3.4 0M658.4 338.5a1.1 1.1 0 1 0 2.2 0a1.1 1.1 0 1 0 -2.2 0M635.4 228.7a1.7 1.7 0 1 0 3.4 0a1.7 1.7 0 1 0 -3.4 0M697.6 355.6a1.5 1.5 0 1 0 3.0 0a1.5 1.5 0 1 0 -3.0 0M667.8 280.0a1.8 1.8 0 1 0 3.7 0a1.8 1.8 0 1 0 -3.7 0M655.3 330.2a1.9 1.9 0 1 0 3.7 0a1.9 1.9 0 1 0 -3.7 0M670.7 345.7a0.9 0.9 0 1 0 1.8 0a0.9 0.9 0 1 0 -1.8 0M633.5 372.4a1.0 1.0 0 1 0 2.0 0a1.0 1.0 0 1 0 -2.0 0M591.6 229.5a1.9 1.9 0 1 0 3.7 0a1.9 1.9 0 1 0 -3.7 0M602.0 306.3a1.4 1.4 0 1 0 2.8 0a1.4 1.4 0 1 0 -2.8 0M742.3 309.5a1.5 1.5 0 1 0 3.1 0a1.5 1.5 0 1 0 -3.1 0M585.1 364.6a1.9 1.9 0 1 0 3.7 0a1.9 1.9 0 1 0 -3.7 0M706.0 371.4a1.7 1.7 0 1 0 3.3 0a1.7 1.7 0 1 0 -3.3 0M724.6 374.2a1.7 1.7 0 1 0 3.3 0a1.7 1.7 0 1 0 -3.3 0M583.9 380.0a2.2 2.2 0 1 0 4.4 0a2.2 2.2 0 1 0 -4.4 0M621.3 238.4a1.3 1.3 0 1 0 2.6 0a1.3 1.3 0 1 0 -2.6 0M601.3 290.9a0.9 0.9 0 1 0 1.8 0a0.9 0.9 0 1 0 -1.8 0M625.0 227.6a1.4 1.4 0 1 0 2.8 0a1.4 1.4 0 1 0 -2.8 0M641.1 353.1a1.3 1.3 0 1 0 2.7 0a1.3 1.3 0 1 0 -2.7 0M613.4 391.9a2.1 2.1 0 1 0 4.1 0a2.1 2.1 0 1 0 -4.1 0M719.5 264.5a1.4 1.4 0 1 0 2.7 0a1.4 1.4 0 1 0 -2.7 0M672.0 297.7a0.8 0.8 0 1 0 1.7 0a0.8 0.8 0 1 0 -1.7 0M672.1 359.8a1.8 1.8 0 1 0 3.5 0a1.8 1.8 0 1 0 -3.5 0M753.5 345.1a1.9 1.9 0 1 0 3.7 0a1.9 1.9 0 1 0 -3.7 0M755.5 385.7a1.9 1.9 0 1 0 3.8 0a1.9 1.9 0 1 0 -3.8 0M664.1 341.1a1.7 1.7 0 1 0 3.4 0a1.7 1.7 0 1 0 -3.4 0M758.4 350.5a1.4 1.4 0 1 0 2.8 0a1.4 1.4 0 1 0 -2.8 0M619.3 283.7a1.2 1.2 0 1 0 2.3 0a1.2 1.2 0 1 0 -2.3 0M718.3 360.1a1.1 1.1 0 1 0 2.1 0a1.1 1.1 0 1 0 -2.1 0M688.2 372.4a1.3 1.3 0 1 0 2.6 0a1.3 1.3 0 1 0 -2.6 0M599.8 331.8a1.3 1.3 0 1 0 2.6 0a1.3 1.3 0 1 0 -2.6 0M610.2 276.8a0.8 0.8 0 1 0 1.6 0a0.8 0.8 0 1 0 -1.6 0M611.1 300.6a0.9 0.9 0 1 0 1.9 0a0.9 0.9 0 1 0 -1.9 0M581.1 322.1a2.1 2.1 0 1 0 4.3 0a2.1 2.1 0 1 0 -4.3 0M748.0 283.4a2.1 2.1 0 1 0 4.2 0a2.1 2.1 0 1 0 -4.2 0M597.3 253.0a0.8 0.8 0 1 0 1.6 0a0.8 0.8 0 1 0 -1.6 0M591.9 331.1a1.9 1.9 0 1 0 3.7 0a1.9 1.9 0 1 0 -3.7 0M676.8 366.0a1.4 1.4 0 1 0 2.9 0a1.4 1.4 0 1 0 -2.9 0M765.6 332.2a1.6 1.6 0 1 0 3.1 0a1.6 1.6 0 1 0 -3.1 0M615.0 300.8a1.4 1.4 0 1 0 2.8 0a1.4 1.4 0 1 0 -2.8 0M746.6 266.7a1.2 1.2 0 1 0 2.4 0a1.2 1.2 0 1 0 -2.4 0M745.0 239.3a1.6 1.6 0 1 0 3.1 0a1.6 1.6 0 1 0 -3.1 0M624.6 342.1a1.6 1.6 0 1 0 3.3 0a1.6 1.6 0 1 0 -3.3 0M599.6 353.3a1.4 1.4 0 1 0 2.7 0a1.4 1.4 0 1 0 -2.7 0M644.7 375.2a1.9 1.9 0 1 0 3.8 0a1.9 1.9 0 1 0 -3.8 0M643.4 344.2a1.0 1.0 0 1 0 1.9 0a1.0 1.0 0 1 0 -1.9 0M684.9 241.3a1.7 1.7 0 1 0 3.4 0a1.7 1.7 0 1 0 -3.4 0M765.7 337.1a0.9 0.9 0 1 0 1.7 0a0.9 0.9 0 1 0 -1.7 0M684.0 308.2a1.4 1.4 0 1 0 2.8 0a1.4 1.4 0 1 0 -2.8 0M611.0 275.1a1.4 1.4 0 1 0 2.9 0a1.4 1.4 0 1 0 -2.9 0M595.2 343.7a1.1 1.1 0 1 0 2.3 0a1.1 1.1 0 1 0 -2.3 0M639.3 242.7a1.2 1.2 0 1 0 2.4 0a1.2 1.2 0 1 0 -2.4 0M768.7 277.5a0.9 0.9 0 1 0 1.9 0a0.9 0.9 0 1 0 -1.9 0M650.8 390.5a0.9 0.9 0 1 0 1.8 0a0.9 0.9 0 1 0 -1.8 0M649.3 263.2a1.8 1.8 0 1 0 3.5 0a1.8 1.8 0 1 0 -3.5 0M673.0 244.0a2.0 2.0 0 1 0 4.0 0a2.0 2.0 0 1 0 -4.0 0M646.7 345.7a1.4 1.4 0 1 0 2.9 0a1.4 1.4 0 1 0 -2.9 0M756.5 237.1a1.1 1.1 0 1 0 2.2 0a1.1 1.1 0 1 0 -2.2 0M637.6 272.7a2.0 2.0 0 1 0 3.9 0a2.0 2.0 0 1 0 -3.9 0M681.7 287.0a1.5 1.5 0 1 0 3.0 0a1.5 1.5 0 1 0 -3.0 0M751.0 325.6a1.4 1.4 0 1 0 2.9 0a1.4 1.4 0 1 0 -2.9 0M713.0 333.4a1.4 1.4 0 1 0 2.7 0a1.4 1.4 0 1 0 -2.7 0M666.5 249.8a1.4 1.4 0 1 0 2.8 0a1.4 1.4 0 1 0 -2.8 0M757.8 279.9a1.3 1.3 0 1 0 2.6 0a1.3 1.3 0 1 0 -2.6 0M702.5 329.1a1.0 1.0 0 1 0 2.1 0a1.0 1.0 0 1 0 -2.1 0M671.0 354.0a0.9 0.9 0 1 0 1.7 0a0.9 0.9 0 1 0 -1.7 0M601.8 357.7a2.1 2.1 0 1 0 4.1 0a2.1 2.1 0 1 0 -4.1 0M593.9 241.1a1.7 1.7 0 1 0 3.4 0a1.7 1.7 0 1 0 -3.4 0M638.5 340.6a0.8 0.8 0 1 0 1.7 0a0.8 0.8 0 1 0 -1.7 0M672.7 255.0a1.3 1.3 0 1 0 2.5 0a1.3 1.3 0 1 0 -2.5 0M719.8 315.2a2.0 2.0 0 1 0 4.0 0a2.0 2.0 0 1 0 -4.0 0M749.6 334.2a2.0 2.0 0 1 0 4.0 0a2.0 2.0 0 1 0 -4.0 0M616.5 309.1a1.2 1.2 0 1 0 2.5 0a1.2 1.2 0 1 0 -2.5 0M705.9 246.3a2.0 2.0 0 1 0 4.1 0a2.0 2.0 0 1 0 -4.1 0M654.5 362.6a2.1 2.1 0 1 0 4.2 0a2.1 2.1 0 1 0 -4.2 0M769.5 294.5a2.0 2.0 0 1 0 4.0 0a2.0 2.0 0 1 0 -4.0 0M781.0 249.5a1.8 1.8 0 1 0 3.7 0a1.8 1.8 0 1 0 -3.7 0M727.3 306.2a1.2 1.2 0 1 0 2.4 0a1.2 1.2 0 1 0 -2.4 0" fill="#1e1e1e"/>
<path d="M779.6 372.8C773.7 383.8 775.7 397.7 766.7 407.6M654.6 329.1C655.0 335.1 652.5 340.5 651.1 346.1M673.0 331.7C665.5 321.8 673.1 309.4 667.6 299.2M725.1 379.7C720.0 364.5 720.5 347.9 713.6 333.1M680.9 304.1C668.2 290.9 662.4 271.3 643.4 263.9M703.3 219.0C729.0 211.0 741.9 184.4 766.6 175.0M663.4 232.7C652.6 247.3 634.2 245.7 620.1 253.4M638.5 236.5C644.9 228.8 655.1 227.1 662.5 221.0M796.8 235.9C799.9 215.1 813.5 196.7 810.2 174.5M792.0 237.1C770.7 240.9 754.1 220.3 732.5 225.8M788.6 255.1C796.9 243.4 791.8 226.3 804.4 216.3M781.4 339.5C778.7 314.5 762.2 295.2 754.3 272.3M786.8 388.6C768.7 401.5 759.8 420.0 755.4 441.1M732.2 276.5C756.8 283.2 781.3 290.1 798.4 311.1M775.9 286.9C751.4 292.1 734.3 311.3 712.0 320.7M568.1 345.5C575.8 334.5 587.0 328.3 599.2 323.5M622.7 337.0C625.2 344.8 631.8 350.0 635.3 357.1M695.1 355.5C700.4 380.0 703.2 404.5 695.7 429.1M716.3 377.3C718.6 396.1 726.1 411.7 742.7 422.0M605.4 329.8C612.3 330.6 617.7 334.6 623.4 338.1M604.5 365.6C585.5 379.1 570.5 398.2 547.2 405.5M646.2 284.3C663.6 292.8 668.9 316.0 689.8 320.2M789.3 394.5C801.8 410.8 789.3 431.7 799.1 448.5M647.9 273.0C644.8 280.0 641.8 286.9 635.6 291.8M636.8 341.2C643.5 313.3 631.6 288.3 624.2 262.6M571.5 273.7C564.4 253.8 584.9 237.2 578.5 217.4M641.3 263.0C636.9 278.4 625.4 286.7 611.9 293.2M631.7 291.7C652.2 289.9 673.2 291.5 693.3 285.5M703.1 323.7C706.8 317.8 705.6 311.5 704.9 305.3M788.0 292.8C764.8 299.6 743.3 285.1 720.5 287.6M798.1 309.4C769.3 316.5 766.4 353.7 738.0 361.2M760.1 329.7C738.3 348.6 709.9 331.1 686.8 343.0M672.2 249.5C656.5 262.7 637.4 270.1 619.8 280.1M620.7 240.0C622.8 232.7 630.7 228.3 630.4 219.9M659.9 337.1C651.5 349.9 650.1 367.3 634.3 375.1M734.3 213.3C736.7 202.7 734.8 190.7 744.0 182.1" stroke="rgb(85,85,85)" stroke-width="0.6" fill="none"/>
<path d="M735.1 266.0C741.7 257.3 743.0 245.7 750.2 237.2M801.8 229.2C792.2 225.1 782.9 220.1 772.5 217.8M730.9 371.0C745.9 352.6 768.5 339.5 771.9 312.8M676.9 407.0C684.8 407.2 692.7 407.4 699.1 401.7M609.4 412.5C617.0 403.0 607.4 390.7 614.3 381.1M714.9 232.1C710.9 258.3 711.4 285.5 697.8 309.5M624.8 311.6C616.3 318.5 603.7 312.4 595.7 320.8M699.7 250.4C713.7 241.3 731.7 240.5 744.5 228.9M684.1 277.5C674.4 270.3 678.1 254.8 666.5 248.8M746.4 379.1C749.3 388.7 745.2 396.7 740.5 404.5M635.9 247.8C632.6 224.2 627.9 200.7 631.1 176.6M563.4 243.3C566.9 236.8 566.1 229.8 566.4 222.8M768.5 376.8C777.6 393.6 768.4 410.4 768.4 427.2M572.3 211.7C574.3 195.1 592.6 188.7 596.4 173.3M648.2 395.7C653.0 387.9 660.0 383.0 668.4 380.0M707.1 300.7C694.1 295.4 681.9 299.1 669.7 303.8M636.6 245.9C644.8 224.7 653.7 203.7 662.8 182.8M727.0 266.7C710.5 284.6 685.5 295.2 680.2 322.4M781.0 234.3C787.7 220.9 805.0 223.5 813.7 213.0M690.4 411.3C714.9 420.5 730.6 439.8 746.0 459.4M757.0 354.7C747.9 362.9 745.2 376.2 734.2 382.7M636.0 224.5C654.1 231.4 676.0 229.2 689.9 246.4M686.4 394.0C687.9 400.0 684.0 406.0 686.7 411.9M720.3 253.3C730.9 227.5 717.7 202.3 718.3 176.8M693.0 324.3C686.7 335.1 679.7 345.3 669.8 353.2M644.6 251.2C655.4 257.6 668.3 256.7 679.6 261.2M748.5 347.8C767.6 357.6 768.5 383.2 787.5 393.2M716.5 346.8C702.2 340.5 687.5 352.1 673.3 345.4M640.0 346.5C649.9 338.4 659.7 330.1 673.6 330.3M671.0 315.8C663.9 336.9 642.0 346.9 633.2 366.7M647.4 365.2C638.5 381.7 614.5 375.5 606.1 392.8M701.1 381.6C713.0 363.1 707.6 338.2 723.6 321.3M648.5 406.9C655.6 396.7 652.6 385.6 651.5 374.7M694.1 405.9C686.2 410.4 677.8 407.0 669.6 407.4M566.2 275.3C579.4 286.6 582.7 304.3 593.3 317.3M694.0 291.9C700.9 294.6 703.5 302.9 711.1 304.6M680.6 376.6C680.4 368.1 670.7 364.0 670.8 355.4M766.8 323.4C749.2 317.1 729.7 315.3 714.7 302.5M597.0 301.3C601.1 285.4 592.3 268.4 601.6 253.0M643.1 278.1C632.9 290.7 628.4 304.8 631.1 321.0M692.2 246.6C680.8 230.3 687.3 211.0 683.2 193.4M631.0 397.6C640.5 389.9 646.4 379.5 651.7 368.8" stroke="rgb(85,85,85)" stroke-width="0.8" fill="none"/>
<path d="M785.2 275.1C797.1 292.8 783.0 311.9 788.3 330.0M734.5 413.7C718.7 411.4 703.1 413.8 687.4 415.6M652.0 263.9C628.8 274.8 604.5 284.1 586.9 304.1M751.5 376.9C758.2 379.8 763.5 385.3 770.4 387.8M765.4 351.1C768.7 335.7 771.4 320.1 775.7 305.0M759.5 353.4C753.0 334.4 736.4 324.6 722.2 312.6M748.7 396.4C768.3 384.2 790.4 393.2 810.9 389.1M631.5 321.7C611.3 340.4 613.0 366.9 606.7 390.6M578.6 356.0C584.8 357.8 590.6 357.2 596.0 353.6M687.9 216.4C694.2 233.3 705.1 248.1 710.4 265.4M682.9 373.7C707.9 368.5 731.3 360.7 744.2 335.9M724.5 343.8C743.8 363.0 750.2 390.7 768.5 410.5M790.5 408.5C812.6 399.9 829.1 425.1 850.8 418.5M612.4 224.3C598.8 233.6 590.9 246.2 589.1 262.6M668.2 244.6C674.2 240.2 681.9 238.1 686.0 231.1M607.6 337.1C586.4 334.0 566.6 337.7 548.2 348.6M753.1 384.9C765.9 382.0 775.4 375.0 781.3 363.2M673.4 305.6C674.3 299.9 670.6 294.6 672.3 288.9M707.1 307.0C713.9 310.6 720.7 311.1 727.6 307.2M637.9 213.0C625.8 207.2 617.5 198.0 613.0 185.4M617.4 258.4C644.0 253.8 664.4 272.0 688.3 277.6M802.0 279.5C802.4 264.4 802.5 249.2 804.7 234.2M691.7 264.0C670.0 264.1 655.2 278.9 638.5 289.4M613.1 371.1C591.2 372.7 571.8 365.9 554.5 352.6M673.4 394.5C679.6 409.9 685.7 425.3 690.2 441.2M665.7 271.3C668.8 264.0 677.9 264.1 682.1 258.1M706.7 388.8C691.8 407.5 683.2 430.6 665.5 447.3M784.3 413.4C777.5 408.4 768.7 412.6 761.8 408.4M588.8 207.3C601.0 201.5 606.6 186.4 621.4 184.2M592.8 273.4C606.0 294.6 624.3 313.5 624.5 340.9M702.4 257.7C707.4 237.2 706.0 217.7 692.8 200.3M788.0 384.7C773.9 363.6 753.4 345.9 752.2 317.8M592.6 218.6C596.9 245.0 573.3 266.7 580.0 293.5M737.1 282.1C731.1 277.7 722.3 277.2 718.8 269.3M731.5 409.4C707.4 406.4 695.5 432.0 673.6 434.1M739.1 385.3C732.2 362.2 741.4 337.7 733.4 314.7M565.0 242.4C561.1 227.4 575.5 216.0 573.0 201.3M584.6 255.3C607.3 247.1 631.2 243.4 654.6 238.1M588.4 235.3C580.4 232.0 571.5 232.0 563.6 228.4M569.7 386.4C560.5 388.7 552.5 396.0 542.1 393.7M704.4 293.6C684.0 304.7 673.7 327.0 653.9 338.9M795.3 295.8C811.4 306.1 828.6 314.2 846.3 321.3M653.5 296.3C646.2 291.7 650.1 280.8 642.5 276.3" stroke="rgb(85,85,85)" stroke-width="1.0" fill="none"/>
<path d="M591.6 302.0C575.1 316.8 553.4 305.6 535.5 313.4M599.9 277.8C604.1 266.6 609.1 255.9 618.6 248.0M719.2 340.7C708.9 344.7 702.0 353.8 692.1 358.4M628.4 368.8C617.6 390.2 598.5 406.4 590.5 429.5M601.4 347.1C607.3 325.9 612.0 304.5 614.4 282.6M704.3 417.3C703.5 426.4 700.1 434.0 691.8 438.9M583.3 330.8C575.3 326.8 568.0 321.9 562.2 314.9M757.2 358.7C751.4 367.1 745.9 375.9 735.9 380.3M750.2 214.3C736.7 222.9 721.4 209.0 707.9 217.8M717.9 216.1C717.1 197.8 711.8 179.4 718.9 161.3M711.4 213.1C703.0 191.2 705.9 167.1 698.7 145.0M603.2 378.9C608.4 370.5 612.2 361.8 611.6 351.6M602.6 391.7C576.9 394.2 564.6 418.0 544.0 428.6M676.5 398.4C695.7 394.9 705.0 374.1 724.3 371.0M607.9 311.5C614.1 304.3 615.8 295.6 616.2 286.4M669.8 358.7C646.4 362.0 638.0 386.9 617.9 394.9M571.9 224.2C588.8 227.0 606.2 217.7 622.8 226.6M691.6 342.4C691.4 355.7 688.5 368.7 687.2 381.8M623.1 263.4C617.7 278.3 614.5 294.4 602.6 306.2M791.3 230.9C805.9 247.6 801.1 268.6 804.0 287.9M799.4 307.8C806.7 311.7 814.2 314.4 822.7 312.8M653.7 405.7C648.0 392.7 630.9 391.5 625.3 378.4M676.0 419.6C661.2 412.2 646.5 417.3 631.8 420.0M713.2 365.4C729.9 343.9 708.0 316.0 724.8 294.5M713.9 386.1C716.4 366.4 719.5 346.8 719.9 326.9M569.7 370.5C558.2 394.2 548.9 419.1 532.6 440.2M688.4 386.5C697.1 383.1 700.6 375.2 704.6 367.8M633.9 245.7C627.8 227.7 621.1 210.1 610.4 194.3M588.9 273.5C570.1 276.3 551.2 278.4 532.2 276.5M642.9 350.9C638.9 337.3 639.8 321.7 627.5 311.3M655.9 212.2C664.9 208.5 662.9 196.0 671.7 192.2M786.5 383.6C797.1 370.0 811.4 361.7 826.9 355.3M793.5 386.5C783.6 359.8 750.5 361.7 736.3 340.4M761.7 415.5C768.6 419.8 777.3 418.4 784.2 422.4M712.2 218.7C703.2 217.8 694.7 213.5 685.4 214.8M642.3 315.5C632.4 308.1 617.8 311.9 609.2 301.4M776.3 379.8C775.8 368.4 772.7 357.1 775.3 345.6M588.2 246.0C595.5 247.0 600.9 253.6 608.8 252.6M621.5 282.5C647.9 287.4 669.4 267.6 694.9 267.9" stroke="rgb(85,85,85)" stroke-width="1.2" fill="none"/>
<path d="M654.5 344.7C669.0 365.4 656.7 391.7 668.5 413.0M788.9 301.4C762.4 295.7 743.2 273.7 716.3 269.1M722.4 217.8C700.6 225.8 684.8 245.8 660.5 249.0M681.9 399.6C691.3 405.7 701.6 409.8 712.3 413.2M643.9 290.0C665.2 296.7 666.1 323.8 686.0 331.9M615.1 336.9C630.3 324.9 647.7 321.2 666.6 322.5M759.2 221.7C763.2 210.2 767.4 198.8 779.8 193.5M727.8 344.7C744.1 337.5 763.8 338.6 777.0 324.1M771.9 362.9C760.4 350.6 741.6 345.3 736.8 326.6M597.6 416.6C609.2 433.5 618.3 451.2 616.3 472.6M574.6 406.8C564.0 423.9 541.3 425.6 529.9 441.7M667.6 237.9C681.3 240.5 690.2 248.7 694.9 261.6M676.8 353.3C673.2 340.8 673.3 327.5 668.9 315.2M577.1 364.6C562.2 373.2 542.2 368.7 529.5 383.1M733.9 290.0C719.1 285.2 709.6 273.7 700.0 262.2M731.1 391.4C721.3 379.8 709.7 371.3 694.1 369.7M634.7 338.7C627.4 325.7 609.0 329.4 601.5 316.7M694.5 346.5C689.1 323.8 691.0 302.7 707.3 284.5M616.3 328.9C606.1 321.2 595.3 314.8 583.9 309.1M658.7 278.5C667.0 287.5 677.6 288.9 688.9 287.7M786.8 397.0C773.6 407.5 775.3 425.6 765.8 438.0M684.9 419.4C705.3 423.9 712.2 445.6 729.1 454.4M600.9 395.3C584.6 380.8 562.1 387.7 544.1 379.1M601.2 382.9C623.8 369.8 651.2 370.7 673.8 357.7M622.7 265.1C620.3 254.4 627.9 243.6 622.1 232.9M624.6 390.9C627.7 382.3 633.9 376.5 641.5 371.9M757.3 269.4C752.5 267.1 746.7 269.3 742.2 265.8M580.8 358.3C591.8 340.4 607.6 325.3 612.0 303.7M630.8 226.6C630.7 243.3 630.5 260.1 639.6 275.1M707.1 242.8C695.9 254.1 678.5 245.1 666.9 255.0M627.1 218.3C610.8 239.2 616.8 270.7 593.6 288.3M575.7 369.2C583.3 375.0 591.6 379.0 601.5 378.0M673.2 353.1C650.8 372.3 620.0 353.8 597.0 370.1M634.8 396.1C627.2 406.3 612.1 406.5 605.6 418.1M721.3 331.7C698.8 337.6 693.5 366.5 669.6 370.6M665.1 217.1C659.8 234.1 661.6 252.6 654.4 269.3M760.0 288.3C773.6 296.8 777.2 312.7 787.1 324.1M568.5 231.3C578.0 220.2 591.7 213.1 598.9 199.7M777.3 250.4C775.7 260.9 775.3 271.1 782.7 279.9" stroke="rgb(95,95,95)" stroke-width="0.6" fill="none"/>
<path d="M727.6 333.1C733.6 357.1 754.8 376.1 751.1 403.4M564.2 417.7C573.8 432.4 564.7 452.8 578.7 466.2M649.9 406.4C639.4 403.1 630.1 405.4 622.1 412.9M776.2 238.7C785.2 232.9 789.3 221.6 799.9 217.5M669.4 418.3C678.3 445.0 693.3 465.8 721.8 473.9M737.2 360.1C746.4 373.5 752.6 387.9 752.4 404.4M597.2 410.6C621.0 399.1 645.1 390.9 671.6 401.3M570.4 214.0C563.9 215.8 557.4 217.8 550.6 217.8M637.1 386.6C634.8 408.5 637.2 431.3 623.6 450.8M587.7 402.5C562.6 408.6 535.9 405.1 511.5 415.1M678.8 413.6C674.7 431.9 662.3 442.7 646.1 450.0M569.5 302.8C556.2 304.4 544.4 292.9 530.6 298.3M789.4 300.2C765.2 318.2 780.0 352.6 759.3 372.0M745.9 364.8C739.7 368.8 738.6 376.8 732.8 381.1M698.6 230.8C713.0 239.1 729.6 229.0 744.1 236.4M715.4 364.0C718.4 353.8 715.8 344.4 711.8 335.2M664.8 405.3C651.4 412.3 643.7 426.5 629.9 433.0M720.6 279.1C730.9 286.2 742.4 285.8 754.1 284.5M635.3 305.6C641.6 318.5 642.7 332.0 640.0 345.9M598.0 291.0C594.0 295.5 595.3 301.8 592.8 306.7M785.3 265.9C772.9 270.1 763.7 278.0 757.8 289.7M653.6 414.4C659.2 404.7 664.8 395.1 668.5 384.5M590.0 328.5C578.5 325.0 567.4 320.2 556.5 315.0M659.0 248.4C684.6 261.1 694.4 285.2 703.1 310.0M706.9 249.4C711.7 264.2 698.2 278.5 705.8 293.4M667.5 298.0C659.8 315.8 661.1 336.3 651.9 353.7M689.2 263.7C705.8 282.9 728.1 291.7 751.7 298.1M786.8 366.4C813.3 364.9 837.3 378.3 863.4 379.0M738.1 281.1C747.0 301.8 756.2 322.4 776.3 335.2M640.4 400.0C657.4 403.8 667.3 419.2 682.7 425.4M737.1 341.2C731.5 327.6 728.1 313.7 732.3 299.0M734.0 398.9C758.5 409.7 751.7 444.1 776.1 455.0M687.0 248.2C710.7 250.5 735.5 238.5 758.1 253.8M602.8 323.4C597.2 330.2 596.1 339.5 589.9 346.1M761.1 214.4C753.5 211.2 745.8 208.5 737.4 209.3M642.6 286.7C657.6 263.0 684.0 256.4 706.5 244.0M664.2 346.9C666.5 336.4 668.9 325.9 665.7 315.1M741.9 227.6C746.5 234.5 751.2 241.3 756.4 247.7M772.8 243.8C747.4 237.8 721.3 237.8 695.5 235.3M707.1 344.8C696.2 331.8 679.3 334.4 665.6 328.5M719.4 283.5C703.0 268.4 693.1 249.9 691.0 227.5M681.2 311.6C656.9 319.5 639.4 294.8 616.0 298.2M594.8 256.1C604.6 258.5 610.2 268.1 619.9 270.6M581.9 311.1C595.1 297.6 595.5 279.3 600.4 262.6M695.9 302.7C705.5 285.4 701.6 266.4 702.8 248.1M592.4 329.1C604.5 340.0 620.3 347.8 623.3 366.2M707.2 404.9C714.5 393.9 714.4 380.5 718.8 368.6M726.4 305.2C737.9 306.7 749.4 308.3 760.4 302.6M658.3 396.4C642.6 400.9 631.1 410.1 625.5 425.8M788.6 214.3C801.6 220.9 816.4 217.3 829.7 222.0M724.0 373.4C729.0 398.0 752.2 408.8 765.1 427.3M742.1 268.8C734.4 242.7 708.6 227.4 701.6 200.9" stroke="rgb(95,95,95)" stroke-width="0.8" fill="none"/>
<path d="M741.1 337.1C746.7 311.1 769.4 296.4 781.8 274.9M669.1 221.2C644.3 229.7 619.3 224.9 594.3 222.9M723.1 391.2C735.3 394.1 738.2 409.6 750.9 411.7M740.0 379.8C751.7 379.7 763.1 386.4 775.0 381.2M665.4 248.4C670.8 254.9 664.2 263.8 669.6 270.3M638.0 214.4C633.3 227.3 627.7 239.9 629.1 254.2M802.5 377.4C829.1 386.9 849.2 358.0 875.4 364.9M774.2 209.7C766.9 215.3 769.5 225.1 764.9 231.9M690.5 253.7C678.4 275.6 680.2 304.6 656.3 320.5M756.7 412.9C762.8 419.5 759.5 429.5 765.0 436.3M731.0 279.3C724.2 273.0 715.1 269.3 710.1 260.9M761.2 397.2C747.2 397.1 737.4 412.1 722.3 408.0M649.5 258.2C654.3 261.3 660.1 263.2 663.0 268.8M797.7 260.8C813.8 246.8 829.0 231.9 842.1 215.0M759.9 259.7C780.2 281.6 787.0 307.4 782.0 336.5M563.8 218.9C552.5 212.9 555.5 196.4 543.3 191.0M782.4 334.3C810.4 333.3 826.0 362.8 853.4 363.4M786.7 406.8C776.9 420.7 756.9 420.7 747.8 435.4M742.7 303.1C749.2 315.8 742.7 329.7 746.5 342.6M667.9 368.1C662.8 369.2 657.3 368.5 652.4 371.2M594.9 250.1C586.5 230.3 603.7 209.1 591.6 189.5M730.6 243.6C742.4 247.2 754.3 250.4 766.7 245.9M613.7 243.7C629.1 259.4 637.7 282.7 662.6 287.9M575.6 417.3C573.3 423.1 568.9 427.1 564.2 430.9M590.7 233.0C579.2 231.6 568.6 227.8 558.4 222.4M774.6 419.4C767.3 424.3 762.3 431.3 757.4 438.3M718.5 347.1C698.0 340.4 685.5 325.1 675.6 307.0M721.5 415.2C727.6 389.4 747.5 368.5 748.2 340.8M798.1 317.7C787.1 336.9 798.5 358.3 792.6 378.0M718.8 259.3C714.3 254.8 708.5 252.7 702.9 250.2M731.1 399.1C744.4 398.8 757.6 399.3 770.7 396.5M793.6 357.1C777.0 347.3 774.6 324.4 755.9 316.7M765.3 270.6C782.1 256.7 805.3 252.6 819.9 235.2M783.0 283.8C783.8 270.9 792.7 259.4 789.4 245.8M675.3 303.5C659.6 297.5 642.3 301.5 626.7 295.1M676.5 371.3C667.0 374.7 657.0 376.4 647.8 380.7M596.0 308.1C606.6 304.7 609.9 292.8 619.5 288.2M775.0 270.3C792.6 260.4 812.3 261.0 831.4 258.9M769.2 371.9C763.9 346.3 764.1 321.1 773.8 296.5M683.9 351.4C670.1 345.2 661.2 331.3 646.1 327.0M788.2 315.1C785.1 324.3 781.3 333.5 783.6 343.6M774.9 253.9C766.1 248.5 760.7 239.4 752.5 233.3M770.9 413.6C759.3 406.9 758.7 393.3 752.3 383.4M761.5 276.3C784.2 287.3 797.7 312.3 824.3 317.4M625.1 243.5C601.2 254.6 591.8 282.0 568.9 294.3M602.9 322.8C609.2 319.3 616.7 320.7 623.0 317.7M591.2 328.6C605.8 318.2 622.0 311.2 639.1 306.3M746.9 365.9C740.5 350.8 724.7 346.6 713.4 337.2M580.8 403.9C603.6 391.5 618.6 371.1 635.3 352.3M640.7 248.4C636.1 236.6 643.5 226.1 644.4 214.8M728.0 255.7C706.7 266.7 701.6 288.6 692.9 308.1" stroke="rgb(95,95,95)" stroke-width="1.0" fill="none"/>
<path d="M722.8 367.6C707.9 345.2 709.6 316.3 694.2 294.1M788.9 324.5C780.7 315.9 769.8 311.1 760.4 304.3M663.4 404.0C653.6 398.7 646.3 390.1 637.7 383.2M775.0 388.3C775.4 399.9 780.9 411.4 776.2 423.1M752.7 354.0C737.3 349.7 720.6 351.3 705.8 344.2M764.4 380.7C769.5 375.6 771.8 368.2 778.7 364.8M605.8 266.2C598.0 287.8 602.8 310.0 603.0 331.9M770.1 209.2C777.8 209.8 784.4 216.0 792.6 213.5M728.3 295.4C707.1 305.5 681.9 303.4 661.6 316.6M684.4 332.4C675.2 328.6 665.6 326.4 655.9 324.6M643.8 355.8C662.5 350.4 684.1 359.5 700.8 344.4M673.2 305.2C671.9 315.1 659.3 318.7 659.5 329.4M777.5 250.9C782.1 241.9 792.3 238.2 797.7 229.9M666.4 341.1C664.0 361.9 662.5 382.7 670.5 402.8M590.5 334.2C615.1 331.5 636.8 342.5 659.4 349.2M594.4 223.7C603.3 242.2 593.9 264.8 607.5 282.3M578.0 238.9C556.7 244.3 542.2 223.9 522.2 224.1M588.8 346.0C589.5 359.7 592.7 373.4 587.1 386.7M797.4 290.1C806.1 299.4 811.6 310.2 812.6 323.0M616.3 405.1C615.2 414.2 619.9 421.4 624.2 428.7M586.4 208.6C595.1 221.5 614.3 221.1 621.2 236.2M735.6 419.8C729.6 426.2 727.6 434.2 726.5 442.6M722.0 374.6C715.1 400.3 703.8 423.6 684.6 442.5M632.3 281.3C645.1 264.2 664.7 258.9 683.2 251.5M610.4 388.7C598.2 390.0 590.2 376.5 577.5 379.7M737.2 362.4C753.9 349.9 772.3 349.5 791.6 354.6M627.0 228.6C636.9 239.1 649.5 245.4 662.1 251.7M743.4 378.8C731.8 354.6 702.0 351.1 687.8 329.8M762.9 225.5C773.8 230.8 773.6 243.7 780.9 251.4M730.2 216.9C738.1 222.8 745.5 229.5 753.9 234.7M694.9 331.4C689.9 347.2 670.8 354.1 669.2 372.1M631.8 334.5C647.9 322.4 659.4 303.6 682.1 301.5M640.0 261.2C620.4 269.9 601.2 280.0 579.8 283.9M745.4 401.1C760.8 385.9 769.2 367.3 771.3 345.8M677.3 398.1C696.9 379.9 712.9 358.6 730.7 338.8M629.5 342.5C629.6 325.5 621.3 309.6 623.6 292.3" stroke="rgb(95,95,95)" stroke-width="1.2" fill="none"/>
<path d="M615.4 304.1C623.4 302.9 629.4 311.6 637.8 308.8M697.5 398.2C704.3 389.4 715.0 386.2 723.9 380.5M655.5 235.1C658.0 225.5 658.9 215.9 657.2 206.1M604.0 378.8C630.6 372.8 654.3 378.0 674.0 397.7M671.3 344.6C658.5 345.0 645.2 349.6 633.0 341.5M610.6 236.4C604.8 213.9 606.7 191.2 609.4 168.5M690.0 325.0C668.6 314.3 646.6 311.1 623.4 318.5M716.4 217.7C739.3 215.5 757.8 202.0 778.4 193.9M590.5 210.6C610.1 192.1 635.9 194.8 659.6 190.6M663.9 259.3C660.2 272.8 662.4 285.7 668.5 298.0M586.6 213.3C585.1 219.1 577.6 220.5 576.7 226.8M622.3 217.0C611.3 210.7 606.7 199.2 599.9 189.4M736.6 245.6C734.0 256.1 721.7 260.2 719.9 271.2M699.0 391.3C701.3 376.3 716.9 370.7 722.4 358.0M781.2 388.1C790.5 401.0 791.7 418.8 805.8 428.8M604.4 379.5C609.3 394.5 602.5 408.1 599.4 422.1M618.8 373.5C621.1 378.1 620.5 384.0 624.7 387.9M623.2 415.3C634.3 409.1 647.0 413.8 658.4 410.0M602.7 300.7C579.0 311.2 552.1 313.7 531.0 330.4M597.9 268.4C592.6 268.0 588.0 265.2 582.9 264.3M566.6 295.8C573.9 284.3 574.3 271.8 572.5 258.8M707.4 366.3C730.1 357.7 736.4 330.1 759.1 321.6M678.3 392.2C687.3 399.9 681.6 413.1 689.1 421.4M648.3 371.3C625.4 377.6 602.5 383.4 578.5 377.4M697.8 372.7C680.6 383.8 673.7 403.3 660.8 417.9M583.1 319.0C594.0 329.0 599.7 342.9 609.7 353.5M691.2 342.8C703.0 342.5 713.1 338.8 720.1 328.6M631.8 356.0C613.7 360.5 596.5 356.0 579.4 350.9M575.8 307.7C586.9 289.1 611.7 288.4 623.7 271.1M590.5 417.7C578.4 439.5 557.9 452.5 538.5 466.5M702.5 344.8C702.6 362.6 710.6 375.8 725.3 385.3M627.1 361.9C640.9 368.6 651.9 377.8 655.6 393.6M680.0 240.6C689.9 222.0 715.6 216.4 719.4 192.7M670.2 375.2C656.8 389.5 640.5 394.6 621.4 390.5M604.9 301.8C611.2 319.1 612.5 336.4 605.6 353.8M690.9 282.7C667.8 288.2 645.1 296.0 620.9 294.6M764.0 335.3C741.5 327.6 718.1 329.4 695.0 328.8M783.6 214.7C809.3 219.7 830.4 237.2 856.2 242.0M566.8 211.3C578.9 216.1 591.5 218.3 604.4 219.6M728.9 209.5C745.0 212.2 754.6 195.5 769.8 195.4M803.0 250.5C801.8 244.0 799.9 237.7 797.2 231.7M659.7 225.3C643.5 204.2 617.6 194.5 600.1 174.8M596.5 261.5C602.7 257.0 611.5 257.7 616.7 251.3M599.3 214.8C593.2 231.7 601.5 248.4 600.0 265.3M712.7 325.2C735.0 316.1 741.5 293.8 753.6 276.1" stroke="rgb(105,105,105)" stroke-width="0.6" fill="none"/>
<path d="M667.4 274.0C667.4 263.5 669.4 253.6 675.2 244.6M608.0 409.3C586.7 413.5 565.4 416.4 544.0 410.0M731.3 287.1C744.0 305.4 764.4 314.8 780.2 329.6M565.6 211.1C554.8 186.0 561.4 160.7 564.5 135.4M644.8 229.6C638.2 255.4 613.9 273.4 613.0 301.7M593.8 301.1C587.5 294.2 593.9 283.8 586.9 277.1M578.7 279.6C576.8 286.4 568.0 286.9 566.2 293.6M690.9 237.2C691.6 230.4 686.7 224.7 686.9 218.1M613.3 387.1C606.3 368.1 584.4 363.6 574.4 347.6M692.6 411.4C714.1 394.3 722.0 370.2 727.2 344.6M708.8 277.5C721.4 278.4 726.5 264.7 737.7 262.9M803.5 242.5C821.6 234.1 828.6 214.0 844.7 203.5M663.3 319.5C668.1 325.0 674.9 326.3 681.3 328.3M613.0 296.2C599.3 302.4 583.7 300.9 569.9 306.6M581.6 317.3C598.2 339.0 610.2 362.3 608.3 390.6M746.7 274.7C758.1 272.9 766.8 266.9 773.2 257.4M754.5 218.4C755.2 212.8 758.3 208.8 762.8 205.8M734.9 253.1C721.6 267.9 711.4 284.9 702.1 302.4M756.6 378.3C740.0 373.1 734.8 355.1 721.0 346.8M748.5 270.6C742.2 257.1 741.5 241.1 730.6 229.6M664.7 399.0C662.5 382.5 647.3 373.3 642.4 358.3M736.3 250.8C751.5 256.4 765.3 240.5 780.6 247.9M783.6 325.6C766.1 322.4 749.3 333.3 731.7 328.3M732.1 262.2C756.6 268.8 777.3 285.3 803.0 288.9M645.9 272.9C640.8 270.5 636.8 266.8 632.8 263.0M710.8 343.8C712.7 334.0 717.1 325.6 723.9 318.4M699.7 277.3C712.8 265.9 721.3 249.3 738.6 242.6M680.7 389.2C679.8 383.5 682.1 378.7 684.7 374.0M629.4 316.1C609.3 334.0 579.5 314.6 559.8 334.3M575.1 218.9C585.4 215.5 595.2 211.5 600.2 200.7M744.8 251.7C738.6 257.7 730.7 258.4 722.6 258.4M787.7 372.6C772.4 382.7 771.0 401.7 760.9 415.1M772.1 333.8C776.1 322.3 768.3 311.7 769.7 300.4M609.7 253.0C630.7 235.2 617.4 203.9 636.2 185.2M721.6 416.8C721.8 406.6 719.7 396.2 723.6 386.2M747.6 406.5C721.9 395.5 702.0 378.3 689.9 352.8M783.7 247.2C794.1 239.1 806.4 241.7 818.0 240.8M712.8 237.6C700.6 234.8 693.3 226.2 687.1 216.3M657.0 251.8C681.4 243.9 704.5 246.6 726.6 259.3" stroke="rgb(105,105,105)" stroke-width="0.8" fill="none"/>
<path d="M609.4 214.0C599.3 210.8 589.9 211.4 581.4 218.4M621.8 220.9C637.4 243.7 654.3 265.1 683.3 271.7M708.3 338.0C712.7 319.6 726.0 306.8 736.6 292.3M723.4 283.7C697.8 273.6 682.6 250.5 661.8 234.5M733.5 236.5C740.4 227.5 747.3 218.6 750.1 207.2M603.1 283.5C595.4 265.8 594.9 245.2 580.7 230.3M604.6 322.1C595.4 322.9 586.0 318.7 576.8 322.6M599.9 403.5C595.8 407.4 591.1 409.6 585.3 409.1M800.0 276.6C782.6 276.2 767.8 266.8 751.4 262.9M743.8 279.9C745.4 294.6 764.7 296.9 766.3 311.7M683.7 396.0C681.2 390.4 685.4 385.1 684.4 379.6M634.1 358.4C638.3 350.5 648.0 346.4 649.0 336.4M685.6 261.6C668.6 268.9 652.0 277.7 632.8 277.8M700.0 406.2C720.6 425.6 713.1 455.2 725.5 477.6M736.7 292.1C749.3 309.5 757.8 328.6 760.2 350.1M754.5 387.7C732.2 382.8 712.2 372.7 693.2 360.4M798.0 306.3C774.1 296.9 758.9 279.7 752.4 254.9M718.7 209.3C734.4 190.2 736.4 168.9 728.5 146.1M751.0 330.8C745.8 323.6 749.9 314.6 746.7 307.0M573.6 272.3C595.8 266.7 615.8 251.2 640.6 257.8M570.8 326.8C574.9 340.2 573.2 354.8 579.2 367.7M723.1 248.6C715.0 263.5 706.4 277.8 689.3 283.9M594.3 245.5C590.0 252.3 588.6 260.9 581.3 265.7M737.2 225.6C761.4 220.6 777.4 204.4 791.7 186.0M635.4 212.5C657.7 225.4 655.6 254.9 674.6 270.0M782.0 413.8C753.9 404.1 747.6 374.4 728.9 356.2M705.4 392.2C706.7 373.4 702.3 354.2 710.0 336.0M709.2 406.5C706.1 414.8 697.2 416.5 691.6 421.9M783.1 397.4C789.3 420.3 783.0 445.9 797.9 467.0M673.3 399.4C664.4 412.1 652.2 418.5 636.6 418.5M723.4 362.4C711.8 357.1 700.1 361.6 688.5 362.1M627.5 290.8C626.2 298.4 622.0 305.6 624.4 313.7M676.8 410.3C663.9 423.8 642.1 412.9 629.8 427.8M627.9 216.3C620.7 215.4 614.9 209.1 607.1 210.6M583.5 316.3C600.7 321.7 618.1 325.5 636.3 325.0M741.5 324.9C744.2 317.9 751.9 314.2 753.8 306.7M610.0 317.2C600.2 318.4 597.0 329.0 588.5 332.1M790.3 274.3C770.8 270.4 752.8 260.4 732.4 260.0M726.9 232.8C740.6 231.4 753.1 238.8 766.8 237.9M643.5 373.2C645.4 360.2 649.5 347.9 654.9 336.0M691.9 265.9C701.6 252.3 720.0 247.7 727.0 231.4M573.2 306.7C589.6 298.1 605.6 288.9 623.6 283.8M705.3 387.5C703.7 401.7 693.0 413.3 693.7 428.2M682.0 292.1C674.0 312.2 663.4 331.5 662.5 353.8M710.8 272.0C713.1 262.6 711.5 253.8 706.7 245.6M754.8 264.4C776.4 256.4 801.2 254.8 816.4 233.8M706.0 242.5C695.4 239.1 687.1 250.9 676.4 247.1M604.6 248.5C587.1 239.7 567.6 238.1 548.9 233.4M756.8 382.6C775.9 386.9 793.6 385.0 808.7 371.3M600.8 306.1C603.0 300.9 598.9 295.8 600.4 290.6M643.4 406.7C645.8 424.9 657.6 441.1 654.9 460.4M562.9 323.0C568.2 318.3 568.7 311.3 571.1 305.2M571.3 390.2C568.8 383.6 568.4 376.7 568.9 369.7M608.4 225.6C602.3 227.1 596.7 223.3 590.6 224.0M594.4 348.4C597.0 374.9 608.8 400.4 603.2 427.8" stroke="rgb(105,105,105)" stroke-width="1.0" fill="none"/>
<path d="M581.1 246.8C566.4 258.3 547.2 249.2 531.8 257.5M790.2 418.2C795.7 416.6 801.0 417.0 806.0 419.6M641.2 225.6C615.5 238.8 589.6 237.4 563.5 226.9M577.3 356.3C599.6 360.4 621.0 351.7 643.0 351.7M616.2 225.0C601.6 212.3 582.2 212.9 565.3 206.6M758.8 384.6C755.5 389.5 749.1 390.1 745.1 394.0M605.6 303.1C600.7 301.0 598.2 295.7 593.3 293.5M777.7 364.0C792.7 373.1 812.7 367.0 826.5 379.9M593.1 270.2C587.4 261.1 576.1 255.9 574.5 243.9M667.7 257.9C674.4 244.1 660.4 231.8 665.0 218.3M787.2 220.0C766.2 217.0 749.5 207.1 738.1 189.0M721.5 244.5C742.7 252.8 762.5 262.7 772.7 285.0M683.1 341.5C673.2 347.1 674.6 360.4 666.0 366.9M732.4 318.0C747.4 314.6 761.6 319.8 776.1 322.1M651.4 365.8C633.5 376.9 608.5 375.2 595.9 396.2M591.8 213.4C597.1 214.6 602.4 213.1 607.7 212.7M628.3 310.7C652.1 317.0 672.2 302.9 694.2 298.8M698.2 271.5C696.6 261.1 688.6 252.7 689.0 241.7M759.5 386.0C759.8 375.7 747.1 372.7 746.6 362.8M649.1 266.7C666.6 252.8 674.5 231.8 687.4 214.5M780.1 218.5C786.1 221.2 787.7 229.4 795.0 230.6M675.3 384.6C668.6 367.5 676.1 351.0 677.8 334.3M710.2 395.1C721.2 401.6 728.0 412.8 738.2 420.2M756.1 382.5C747.6 410.2 775.6 433.1 766.3 460.9M647.4 262.1C650.4 270.6 651.4 279.8 657.4 287.0M653.4 249.7C672.7 243.6 694.6 249.2 712.7 237.3M605.8 379.0C609.2 386.4 603.1 393.3 604.4 400.6M593.8 246.3C572.9 236.9 554.7 219.3 528.9 224.7M698.3 308.7C701.6 303.9 699.6 297.8 702.3 292.9M747.4 386.6C737.1 411.3 741.3 434.2 756.4 455.7M641.7 241.2C633.8 232.8 620.9 236.3 612.5 229.0M780.8 304.0C788.3 313.6 801.1 314.7 809.8 322.4M614.1 387.4C610.6 395.6 609.3 403.8 613.2 412.2M646.7 347.3C647.2 358.6 649.6 369.0 659.1 376.5M675.7 217.0C684.6 224.0 695.2 227.4 705.8 230.6M759.9 264.2C760.7 274.2 761.6 284.2 764.4 293.9M586.6 222.9C602.3 229.4 616.5 240.5 634.7 240.0M567.7 253.5C544.9 243.8 519.7 248.0 496.4 241.5M638.8 210.0C647.6 212.7 648.0 224.4 656.9 227.0M802.2 390.7C820.9 382.8 830.1 365.8 840.7 350.0M787.6 380.4C794.5 382.4 801.7 383.1 808.7 384.3M696.2 308.0C721.5 301.9 727.7 272.8 750.1 263.3M661.1 364.4C664.6 369.3 671.3 371.0 673.3 377.3M577.6 214.5C574.2 224.9 583.5 232.4 583.9 242.0" stroke="rgb(105,105,105)" stroke-width="1.2" fill="none"/>
<path d="M623.6 243.0C625.3 249.7 620.3 255.5 621.2 262.1M679.2 238.8C668.4 221.2 659.4 202.6 648.4 185.2M637.0 408.9C624.8 406.8 614.5 416.0 602.4 414.3M626.3 338.0C644.9 344.1 659.0 329.6 675.8 327.4M774.6 227.3C775.6 249.2 785.8 267.9 795.5 286.8M635.0 256.1C620.3 242.1 601.0 243.0 583.0 239.8M724.0 360.1C717.0 364.3 707.7 361.8 701.4 368.0M760.9 307.9C780.2 294.7 793.9 273.9 817.0 265.8M674.1 322.2C676.3 343.8 661.9 364.5 670.6 386.4M604.0 374.9C599.1 373.2 597.0 367.2 591.3 366.8M656.6 245.9C656.9 227.4 675.9 215.5 673.8 196.2M721.0 285.8C731.2 290.5 740.5 298.0 752.9 294.9M672.8 368.3C671.9 394.6 696.9 415.1 689.6 442.9M585.9 220.3C602.4 207.4 617.8 193.7 622.1 171.7M729.3 375.0C735.8 385.5 746.9 392.1 752.6 403.3M613.8 234.1C620.6 227.5 630.0 223.5 634.1 214.1M780.8 308.9C769.6 303.9 756.7 302.2 748.2 291.9M704.8 312.7C712.1 321.6 725.7 320.7 732.2 330.6M768.8 412.6C773.7 398.3 785.9 389.2 794.4 377.6M727.2 287.3C731.6 312.6 728.6 339.9 747.5 361.3M583.0 234.6C584.3 219.6 582.4 205.0 576.1 191.1M727.8 411.0C716.5 411.7 705.4 407.1 694.0 409.6M676.8 289.7C686.2 300.1 692.7 312.2 698.0 325.1M778.6 236.0C761.6 247.8 740.6 242.1 722.4 248.7M724.2 325.4C722.8 333.0 714.0 336.0 713.0 343.8M635.0 411.9C643.1 429.6 649.8 447.8 651.4 467.5M751.4 262.9C751.3 273.2 759.8 280.9 760.0 291.2M700.5 323.5C717.7 312.3 724.7 291.4 741.9 280.2M732.1 329.7C737.8 318.6 752.0 319.3 759.2 310.3M744.5 353.8C736.0 376.9 738.0 404.5 715.5 421.7M564.0 364.1C571.6 386.4 584.0 407.3 584.4 431.8M757.6 360.8C770.8 346.0 792.4 352.7 807.0 341.7M745.3 295.3C751.2 299.0 757.2 299.9 763.7 297.1M645.2 210.2C653.6 202.3 665.6 204.3 675.1 199.6M653.7 372.6C676.5 383.1 701.0 387.4 725.2 392.9M627.7 259.7C607.9 261.7 590.9 249.0 571.5 249.2M617.1 217.8C641.1 221.0 660.3 204.8 682.8 201.9M577.1 360.2C559.6 349.0 538.4 364.9 521.0 352.8" stroke="rgb(118,118,118)" stroke-width="0.6" fill="none"/>
<path d="M688.0 282.2C683.0 291.4 684.9 301.4 684.8 311.1M592.1 333.0C590.1 327.5 586.5 323.4 580.8 321.6M740.3 284.0C751.9 294.7 764.7 301.9 781.2 299.0M737.9 357.1C736.7 376.1 738.1 395.0 740.8 413.8M728.5 392.1C717.7 382.6 715.7 365.4 700.2 360.0M757.9 315.0C769.7 331.4 777.8 349.2 778.3 369.9M702.5 403.3C705.2 416.4 707.4 429.7 716.0 440.7M581.0 248.5C578.1 259.1 567.2 262.7 561.4 270.8M712.5 327.9C726.9 339.3 742.7 346.6 761.6 344.5M623.9 396.4C608.4 395.0 594.1 391.0 584.2 377.6M721.6 237.8C726.6 232.1 733.7 229.3 739.8 225.2M604.3 364.3C618.1 340.2 647.1 337.0 665.9 319.7M686.0 215.7C671.3 216.2 658.2 224.0 643.6 225.0M589.7 270.8C596.6 247.2 615.6 229.0 619.0 203.8M747.9 290.4C744.9 282.8 748.2 275.5 749.3 268.2M697.2 213.1C706.3 218.9 718.1 215.6 727.1 221.8M715.8 227.2C692.3 218.5 666.2 227.8 643.1 216.3M590.9 319.0C601.5 320.9 611.7 319.1 621.8 316.4M739.5 223.1C742.9 233.0 738.9 244.7 746.8 253.5M650.8 326.2C669.8 332.7 688.0 331.1 705.4 321.1M769.1 284.1C777.2 285.0 783.2 290.4 790.3 293.5M646.5 397.1C648.0 383.3 649.5 369.4 661.5 359.8M716.9 403.7C734.6 389.4 719.5 363.1 737.0 348.7M719.0 278.6C732.2 293.5 752.9 297.0 767.2 310.2M573.7 207.2C581.7 201.0 586.0 191.4 593.6 184.8M564.5 402.4C549.8 379.5 544.3 355.0 550.5 328.1M583.7 329.6C579.1 323.0 582.2 315.3 580.8 308.2M652.7 237.8C651.6 219.3 653.9 200.4 645.0 183.1M650.1 225.1C646.6 251.9 624.2 269.2 615.8 293.6M747.6 392.2C739.1 401.5 728.4 408.3 719.3 416.9M596.8 413.2C604.6 407.0 609.4 399.2 608.6 388.8M697.4 302.7C719.5 308.2 737.3 294.2 757.1 289.4M630.3 378.4C652.2 367.5 670.5 347.8 698.2 351.5M766.0 288.0C772.3 304.8 769.7 321.5 765.4 338.1M736.9 258.4C728.9 246.8 737.9 231.9 729.4 220.4M782.2 300.2C767.9 302.9 759.8 315.6 747.7 321.6M571.1 228.2C583.0 241.9 585.1 259.1 587.8 276.0" stroke="rgb(118,118,118)" stroke-width="0.8" fill="none"/>
<path d="M587.1 257.7C605.6 257.9 624.1 260.8 642.5 256.7M610.8 358.4C629.2 359.3 645.6 373.9 665.3 366.6M669.4 241.7C664.7 247.6 662.6 255.6 654.8 258.8M612.8 330.1C612.4 319.6 616.3 310.2 620.2 300.8M649.0 415.5C638.7 416.2 630.7 411.7 624.1 404.3M734.7 252.4C740.1 250.6 744.8 256.1 750.1 253.7M676.4 291.6C680.7 274.0 675.0 256.5 676.0 239.0M698.4 277.2C684.8 287.3 688.4 306.8 676.2 317.7M690.6 413.2C697.2 431.4 693.9 449.6 690.9 467.9M728.0 367.2C718.5 351.1 708.6 335.3 700.7 318.4M763.4 346.0C790.1 354.4 816.6 356.6 842.9 344.2M707.4 311.2C718.8 297.2 736.3 289.4 745.8 273.5M714.3 289.7C726.2 277.2 745.4 280.9 757.9 269.8M640.6 271.9C647.5 267.7 648.2 259.9 651.6 253.6M618.5 416.0C608.6 392.3 605.7 367.6 607.8 342.2M575.9 412.4C552.8 410.8 530.8 426.3 507.2 417.2M684.3 290.8C683.7 309.3 694.3 326.3 691.6 345.1M584.0 341.2C578.3 324.7 567.6 309.3 573.1 290.5M746.9 375.6C746.7 385.9 752.4 395.1 752.1 405.3M709.4 309.8C697.6 311.7 689.4 300.2 677.9 301.2M574.0 262.4C560.7 271.1 546.5 278.8 537.2 292.5M600.6 296.6C581.7 283.3 561.3 272.3 541.7 260.1M708.3 243.3C704.8 249.9 710.7 256.0 709.2 262.6M657.9 398.2C667.6 388.7 675.6 377.0 689.6 372.9M679.4 270.5C670.1 284.0 676.7 299.0 675.6 313.3M607.6 313.9C611.6 301.8 613.9 288.8 624.2 279.7M647.0 252.7C643.4 243.6 635.0 239.8 627.5 235.0M799.9 221.6C810.5 226.8 819.6 233.8 826.8 243.2M736.3 350.3C750.9 357.6 763.2 369.3 779.7 372.9M623.8 254.1C620.6 234.4 622.2 215.4 631.5 197.5M729.9 244.8C753.0 240.1 771.4 224.6 793.5 217.6M680.1 350.7C664.2 369.7 643.0 380.4 620.2 388.7M616.3 272.1C627.4 290.6 651.2 298.9 656.5 322.0M610.9 232.6C606.6 240.1 604.1 248.0 605.0 256.8M604.6 294.2C581.9 302.9 558.6 310.7 546.3 334.4M719.7 383.4C711.3 373.4 705.8 362.1 704.8 348.9M779.4 369.0C780.9 384.7 772.4 396.0 762.6 406.6M623.3 269.2C595.4 267.5 575.4 246.7 550.2 238.5M731.7 372.9C737.5 377.9 738.6 385.0 740.4 391.8" stroke="rgb(118,118,118)" stroke-width="1.0" fill="none"/>
<path d="M603.9 294.7C614.7 285.3 629.6 285.1 641.3 277.6M567.0 255.7C564.0 280.0 564.5 305.0 552.8 327.5M630.4 415.9C613.8 417.9 606.7 436.4 590.3 438.9M730.6 351.7C738.4 354.9 738.2 364.7 744.7 368.9M800.4 325.1C798.7 331.7 795.7 337.8 793.6 344.3M586.1 317.6C587.1 336.0 593.5 353.1 599.8 370.2M799.3 247.9C822.2 238.6 835.4 215.1 859.2 207.2M728.3 353.2C712.6 329.8 685.0 322.2 664.5 305.1M581.7 262.4C592.1 258.4 598.0 250.4 601.3 240.2M679.1 213.9C662.3 233.5 649.1 256.1 629.4 273.3M795.7 315.3C785.6 300.0 774.8 285.3 765.7 269.5M784.4 384.7C792.0 399.9 778.0 414.1 782.5 429.2M577.3 252.9C587.7 248.9 598.4 245.7 609.7 245.5M791.9 356.5C796.2 364.1 797.6 372.0 794.7 380.5M589.1 379.6C594.0 386.0 603.6 384.2 608.4 390.7M737.5 292.5C731.3 292.7 725.0 293.4 719.6 289.2M612.9 264.9C590.7 247.8 577.7 226.0 578.3 197.2M781.0 400.3C797.1 385.8 805.4 366.3 814.5 347.3M574.8 297.5C581.8 295.7 589.0 294.5 596.0 292.5M710.2 310.3C720.7 317.8 726.1 331.8 740.8 333.6M610.4 233.2C591.5 231.2 576.7 238.8 564.8 252.9M766.3 227.4C793.5 229.2 803.4 256.2 824.3 267.2M587.5 212.9C574.6 207.1 563.8 222.0 551.0 216.7M567.9 321.5C566.0 314.8 564.2 308.0 563.9 301.0M565.4 358.1C545.7 360.0 528.2 351.5 510.1 346.3M763.9 219.6C769.1 216.6 775.3 216.9 780.7 214.4M680.8 356.3C695.4 365.0 711.0 368.7 728.0 366.2M613.0 239.2C625.1 251.2 622.4 267.3 624.9 282.0M735.1 224.0C756.2 235.6 778.0 243.0 802.3 234.1M617.0 402.3C638.7 395.3 653.2 375.3 675.9 370.2M784.8 321.3C777.2 320.6 771.5 313.2 763.1 315.2M587.0 219.1C598.9 212.8 612.1 208.2 619.1 195.3M609.1 249.0C584.3 237.7 573.9 212.0 555.0 194.8M572.1 237.0C587.4 237.7 595.6 252.9 609.8 256.0M768.1 334.2C772.3 317.4 783.5 302.7 782.8 284.5M702.1 296.6C731.4 295.6 752.8 310.2 770.9 331.5M786.7 322.4C785.2 329.5 779.1 333.9 776.7 340.4M606.9 336.1C600.3 331.5 591.5 335.9 585.1 330.8M613.9 347.3C617.7 362.0 611.3 376.1 611.3 390.6M770.7 405.3C787.0 412.4 803.9 416.0 821.7 415.9M564.2 261.8C554.5 234.9 517.9 233.0 510.4 204.0M703.6 219.3C712.8 218.4 722.1 216.0 730.8 221.6M778.7 372.6C778.6 381.7 779.0 390.9 779.0 400.0M725.0 270.5C748.4 274.5 773.7 273.0 791.8 292.8M641.0 258.5C644.5 269.5 647.6 280.7 658.3 287.3M581.6 302.9C591.2 306.0 599.7 310.7 606.1 318.7M687.5 291.0C688.1 309.5 701.3 320.4 712.7 332.5" stroke="rgb(118,118,118)" stroke-width="1.2" fill="none"/>
<path d="M590.6 287.5C594.7 295.8 594.9 305.5 600.1 313.4M785.5 357.8C774.0 339.8 778.0 317.9 770.2 299.0M746.6 242.3C743.6 257.7 758.9 266.7 759.8 280.7M591.6 410.5C570.9 405.8 550.1 401.3 528.8 400.0M602.1 288.1C599.4 273.9 606.3 263.0 614.6 252.6M746.6 261.0C762.8 248.0 778.7 234.6 792.5 218.9M705.2 259.9C725.9 274.0 749.7 277.1 773.8 278.6M768.8 344.2C783.9 342.0 797.9 345.7 811.2 352.9M585.5 417.2C576.6 402.0 564.4 389.1 555.3 374.0M566.1 213.7C577.7 206.3 586.6 195.7 597.7 187.8M652.4 343.0C668.1 365.5 651.4 395.4 669.3 417.4M737.0 325.0C735.8 334.2 728.3 340.3 725.1 348.4M779.8 307.7C784.6 315.4 795.7 316.4 799.0 325.7M613.0 373.0C595.5 396.2 602.5 423.1 602.0 448.8M605.3 287.7C610.3 293.2 607.6 301.2 611.6 306.9M612.7 256.7C638.5 254.1 652.6 282.0 677.6 281.5M731.7 303.4C731.6 297.4 729.2 292.6 724.6 288.8M582.1 326.2C586.3 313.4 599.8 309.8 607.6 300.4M698.6 285.2C684.0 282.1 668.4 284.5 654.4 278.0M747.2 345.6C733.6 329.2 739.8 304.3 723.2 289.2M743.6 354.6C754.2 331.1 761.6 307.3 752.5 281.4M584.2 247.7C589.8 238.9 589.9 227.5 597.9 219.9M784.3 411.2C767.0 427.7 765.6 451.9 754.9 471.5M669.5 249.3C668.5 270.2 656.9 285.8 644.1 300.9M685.2 269.5C691.0 269.0 696.5 266.2 702.5 266.6M713.4 320.7C721.5 307.1 721.0 292.1 720.0 277.1M705.2 376.9C686.8 372.7 672.0 357.3 651.5 359.3M788.8 367.0C775.3 356.8 755.2 358.5 744.9 342.4M683.6 321.4C674.2 296.3 653.6 282.7 631.4 270.7M596.5 253.7C578.0 238.6 567.5 214.9 544.0 205.3M598.6 221.8C586.9 215.0 586.6 201.1 580.0 191.1M592.1 397.5C597.2 394.7 601.9 391.6 603.9 385.8M797.6 369.1C792.3 378.0 784.0 381.9 774.2 383.4M622.6 359.5C617.4 344.4 622.7 328.4 618.6 313.2M620.4 257.5C629.9 261.3 632.3 271.6 639.2 277.9M600.1 355.3C593.7 354.1 592.3 346.1 585.9 344.8M656.2 303.7C651.0 312.5 648.8 322.3 646.4 332.1M699.3 328.7C703.2 340.2 699.5 351.4 697.7 362.7M662.7 280.4C686.5 291.2 699.5 311.0 708.1 334.6M588.7 230.8C600.5 232.5 607.8 243.1 619.2 245.6M667.6 264.5C667.9 250.7 677.0 238.8 676.1 224.9M751.3 368.0C754.1 373.7 753.7 380.3 756.3 386.0M765.5 238.0C770.4 228.0 781.4 221.1 780.7 208.3M793.3 383.7C804.4 377.8 815.4 385.9 826.5 384.0M781.8 215.7C796.8 218.0 805.4 200.6 820.4 203.0M696.8 255.1C718.1 241.5 730.7 220.9 742.0 199.3M687.5 416.2C673.7 420.2 660.7 426.9 646.0 427.9M570.7 223.8C560.6 251.4 573.9 275.4 582.7 300.0M611.3 258.5C604.3 274.9 603.7 291.8 606.5 309.1M750.5 315.4C746.5 336.5 723.8 341.8 714.3 358.3M589.5 226.0C575.7 237.5 558.9 234.6 543.0 236.0M620.0 226.0C609.7 227.1 605.2 215.2 595.4 215.2M587.5 294.7C596.0 291.8 602.3 299.9 610.4 299.3" stroke="rgb(132,132,132)" stroke-width="0.6" fill="none"/>
<path d="M747.3 307.1C746.1 313.4 746.7 319.6 749.3 325.6M629.4 307.2C609.2 302.7 598.1 285.7 583.6 273.5M610.6 371.4C616.0 387.6 610.3 403.2 608.1 419.0M749.2 298.4C739.4 325.9 753.4 349.4 762.1 373.7M626.3 293.6C630.7 299.7 637.5 300.7 644.1 302.3M590.5 259.6C600.6 251.9 611.9 245.3 615.3 231.6M779.0 215.1C799.5 210.3 811.2 192.2 828.4 182.3M697.5 247.1C693.1 242.2 687.6 240.0 681.0 240.7M568.6 301.9C565.8 294.7 561.3 289.1 554.0 286.1M756.3 314.9C775.1 300.1 787.2 276.8 812.6 270.2M704.3 228.7C709.3 230.9 714.9 229.1 719.8 231.5M722.9 379.6C711.1 377.2 700.6 387.8 688.6 383.1M765.6 274.2C779.4 290.9 802.7 291.6 818.2 305.6M576.3 375.2C579.5 397.7 562.9 414.0 558.3 434.1M666.6 374.7C673.3 385.4 679.1 396.5 683.3 408.4M691.1 400.9C691.9 384.9 689.1 369.2 686.8 353.5M619.9 385.5C624.8 363.9 607.2 345.1 612.3 323.6M729.8 281.9C729.3 271.9 726.3 262.8 719.7 255.0M638.7 399.9C624.5 419.9 637.5 442.1 633.6 462.9M567.5 405.5C540.0 399.4 534.7 365.8 508.7 357.7M687.7 261.0C701.8 247.7 724.1 249.6 736.9 234.0M669.7 290.9C683.3 290.4 697.1 287.8 709.8 295.6M649.2 394.6C651.5 416.0 638.6 430.8 626.8 446.1M607.5 276.6C603.2 264.4 591.9 257.2 585.8 246.3M644.3 215.2C644.4 199.2 639.3 185.6 625.8 176.1M675.5 319.6C692.6 315.0 708.4 325.1 725.2 323.5M734.6 305.3C756.2 304.9 776.0 321.1 798.6 312.6M700.8 357.9C705.5 331.4 690.5 304.7 701.9 278.4M574.6 298.4C549.0 304.4 536.5 333.4 509.0 336.0M743.8 272.6C739.2 261.8 725.6 257.8 722.9 245.4M714.5 242.2C739.5 232.5 761.3 253.5 785.8 249.5M767.0 338.7C781.3 347.4 797.1 354.4 806.6 369.5M685.4 323.9C710.9 322.3 726.8 350.2 753.2 346.2M563.1 259.6C547.1 242.7 544.8 221.2 542.9 199.5M612.4 272.2C609.6 261.2 611.7 250.1 612.2 239.1M567.5 279.4C591.5 273.6 615.1 266.0 638.9 259.4M740.0 303.3C733.1 288.6 740.2 273.1 737.1 258.2M676.6 407.2C693.0 388.9 721.9 397.2 737.9 378.1M564.1 368.3C568.5 372.9 572.7 377.6 574.0 384.1M645.9 415.3C636.9 402.9 641.4 386.6 633.9 373.8M563.4 280.2C573.1 267.9 559.6 252.3 569.1 239.9M667.0 262.5C656.3 271.4 657.2 287.5 646.1 296.2M578.3 222.2C587.2 224.5 595.7 219.0 604.6 221.4M619.9 412.5C599.5 404.1 578.5 397.7 556.5 394.6M637.0 239.7C626.4 253.9 614.2 265.5 595.1 266.3M562.6 415.7C577.0 409.6 576.7 389.6 592.0 384.2M687.9 381.7C687.7 373.6 691.1 365.5 687.5 357.5M771.2 220.0C763.6 228.1 754.8 235.4 752.6 247.2M671.8 364.9C681.0 353.4 696.3 346.7 698.7 330.0M631.8 242.9C607.7 243.0 589.7 226.0 567.9 219.9M770.2 323.2C783.4 316.9 795.0 331.0 808.1 326.3M611.4 409.8C617.4 425.6 621.6 441.7 617.1 458.8M787.6 358.3C775.6 371.9 780.2 393.2 765.8 405.8M689.4 218.2C701.3 217.2 713.2 217.7 725.1 219.1M763.7 215.0C777.1 227.4 798.4 223.6 810.7 238.1M739.3 303.3C730.6 292.8 723.3 281.5 720.8 267.7M626.7 299.2C638.6 315.4 645.4 333.6 648.8 353.2M734.5 241.9C705.7 239.8 682.4 249.9 665.0 273.1M651.0 389.2C646.8 381.9 642.1 375.1 635.1 370.2" stroke="rgb(132,132,132)" stroke-width="0.8" fill="none"/>
<path d="M782.6 408.5C787.0 396.4 784.0 384.1 784.0 371.9M752.7 358.6C763.0 369.8 770.0 382.1 767.4 398.1M800.3 312.7C788.0 322.0 771.3 322.9 760.1 334.3M746.3 361.3C724.6 374.7 700.6 351.5 679.0 365.6M573.0 279.5C570.6 287.3 573.2 294.4 576.1 301.4M802.6 409.5C809.2 410.1 814.5 415.6 821.6 414.8M651.7 222.2C667.7 215.8 679.2 201.4 696.5 197.4M615.2 404.3C634.1 388.6 660.2 397.4 680.2 385.2M789.2 360.7C788.5 381.2 775.0 400.9 785.6 422.0M576.1 352.4C597.6 336.5 606.2 312.5 615.6 289.2M683.4 356.4C678.5 335.3 658.4 321.6 655.5 299.5M739.9 217.3C755.4 214.4 763.6 197.1 780.4 196.6M607.7 362.5C627.6 352.8 645.6 339.6 666.5 331.9M798.6 382.7C786.7 381.3 780.7 396.0 768.5 393.8M584.1 356.2C582.1 380.0 571.9 400.6 559.9 420.6M639.7 235.9C637.2 247.8 647.0 255.8 649.2 266.2M756.5 208.4C773.4 217.9 790.0 227.8 802.9 242.7M662.0 371.7C686.2 380.6 709.6 381.0 731.7 365.5M626.7 371.1C637.1 358.7 644.0 343.5 657.3 333.6M781.1 297.4C782.1 290.9 778.5 284.5 780.6 277.9M778.4 363.1C794.3 342.6 778.7 312.6 799.3 293.4M570.3 211.0C571.6 233.8 568.4 255.9 561.3 277.5M681.5 368.0C674.2 354.1 668.4 339.4 658.6 327.0M746.8 284.0C727.0 277.6 729.8 250.3 709.9 244.1M720.2 356.7C720.6 363.4 717.8 369.2 714.9 374.9M694.5 352.7C677.0 358.0 660.5 365.7 644.5 374.3M629.0 328.9C618.2 349.2 606.3 368.5 582.3 375.8M617.2 301.6C617.6 318.0 612.5 334.6 618.9 350.7M770.0 234.2C768.9 240.0 773.4 243.9 774.9 248.7M661.1 247.0C655.8 235.0 647.5 225.9 635.5 220.4M714.5 229.8C724.3 237.8 729.8 249.2 737.2 259.1M764.3 315.1C745.2 328.4 719.1 327.4 702.3 345.5M742.4 274.1C732.7 263.9 724.9 252.9 725.4 237.9M600.7 300.6C612.4 290.5 626.6 294.6 639.9 293.7M746.1 364.7C759.4 378.1 775.3 386.7 794.1 389.5M774.7 351.2C768.1 356.2 763.1 362.2 762.5 370.8M771.4 234.1C754.7 235.9 737.7 231.6 721.3 237.5M633.4 263.3C620.3 256.8 606.4 261.9 592.9 260.6M646.2 359.4C653.0 360.2 659.3 358.9 664.8 354.7M569.1 224.6C583.3 227.3 585.8 243.7 597.9 248.9M685.0 349.9C671.5 330.7 673.4 306.0 661.7 286.2M693.6 348.1C680.6 359.9 676.6 374.7 678.9 391.6M745.4 375.0C744.4 352.4 737.4 332.2 721.6 315.5M771.9 358.7C762.9 350.5 759.7 340.4 762.6 328.5M633.9 364.2C657.5 369.7 679.9 360.1 702.9 358.6M674.9 311.6C669.4 323.3 655.3 322.5 647.3 330.5M781.1 224.9C785.9 218.8 792.2 213.7 794.8 206.0M784.0 411.0C781.7 417.2 785.6 424.4 780.8 430.1M700.0 343.5C688.5 351.6 690.8 368.1 680.0 376.6M574.4 236.4C581.7 260.9 593.6 283.5 603.6 306.9M784.4 401.5C813.6 397.0 820.2 359.7 850.1 356.2M603.0 367.7C608.8 360.5 604.5 350.3 610.6 343.2M741.8 291.3C753.7 271.3 777.6 262.6 788.7 241.8M562.8 249.1C544.4 231.8 519.9 234.5 497.7 229.6M658.3 283.5C648.3 306.4 621.2 311.8 608.7 332.1M796.7 367.7C788.9 365.3 780.3 364.6 774.1 358.3M571.6 347.7C559.9 354.6 561.2 370.6 550.2 378.0M790.4 235.6C802.9 242.8 815.0 251.0 829.4 254.1M736.0 409.3C750.9 395.0 775.3 398.7 788.5 381.4M577.7 240.4C594.0 234.5 592.7 212.9 608.1 206.2M733.9 309.8C749.8 301.1 768.7 307.4 784.8 299.7M675.3 216.1C661.2 220.6 646.8 224.3 634.7 233.3M572.3 267.8C562.0 271.0 561.1 284.5 550.7 287.6M764.5 209.7C741.9 209.4 721.8 202.3 704.6 187.5" stroke="rgb(132,132,132)" stroke-width="1.0" fill="none"/>
<path d="M640.7 246.2C624.5 256.7 609.7 270.3 588.7 270.2M726.4 215.3C723.3 228.4 715.4 238.1 704.9 245.9M723.9 381.6C699.7 394.5 707.1 428.8 683.1 441.9M775.3 224.4C794.0 218.3 811.5 220.1 827.4 232.3M643.4 385.7C667.6 387.5 690.8 393.4 713.0 403.1M681.6 258.0C667.6 264.7 653.0 258.7 638.7 260.3M761.4 254.6C761.2 278.0 785.1 290.7 787.4 313.1M736.6 318.2C736.0 304.2 722.0 294.3 724.4 279.4M634.6 354.1C648.3 361.1 661.4 370.6 678.3 366.6M677.2 241.9C695.2 238.2 709.5 225.7 727.0 220.7M747.4 333.9C756.8 358.5 734.6 384.5 750.7 408.8M759.8 322.2C770.0 336.3 787.3 339.6 800.5 349.2M615.3 409.2C609.4 413.1 607.9 419.4 606.4 425.7M623.3 252.6C642.3 240.3 657.9 223.8 675.5 209.6M680.3 250.4C680.6 239.8 689.9 234.9 695.0 227.3M630.4 244.3C632.1 226.4 654.7 221.7 656.0 203.6M777.9 321.8C758.3 316.7 737.3 325.7 718.1 315.9M691.7 321.0C709.0 299.6 688.1 272.6 702.0 250.7M565.0 356.4C585.8 355.6 599.6 371.4 616.9 378.7M698.5 349.5C693.5 362.3 679.1 367.9 674.4 381.0M683.1 414.1C701.4 400.1 705.9 376.8 720.1 360.0M685.0 334.8C684.0 361.0 702.1 377.3 716.4 395.6M628.1 414.5C620.2 413.1 611.8 413.1 606.0 406.1M572.5 267.6C553.2 259.9 536.9 247.0 518.2 238.4M603.4 387.0C587.8 369.2 568.0 354.3 563.5 328.8M782.8 234.7C771.5 209.8 790.2 188.2 790.5 164.6M705.4 303.5C704.7 293.2 698.5 285.0 695.3 275.6M762.1 272.7C754.6 261.7 757.5 248.3 753.8 236.4M654.7 395.8C646.2 378.1 657.6 357.7 647.0 340.3M687.6 219.1C696.9 231.5 706.1 243.9 713.2 257.7M802.4 377.1C801.8 395.2 803.9 413.4 801.3 431.5M759.4 368.6C745.7 359.1 733.5 346.8 715.9 344.1M615.8 392.4C599.5 409.0 593.2 432.9 574.6 447.8M785.0 217.9C766.7 207.6 747.6 200.0 726.1 200.3M620.7 272.8C636.5 259.2 638.7 240.3 641.0 221.4M720.6 278.7C716.6 274.8 711.8 272.3 706.5 270.8M581.6 344.4C583.6 324.2 576.2 303.0 588.3 284.0M757.2 410.4C770.4 395.0 792.3 400.7 807.3 389.6M651.5 300.4C646.4 310.3 634.9 315.5 632.0 327.0M632.0 335.2C627.6 326.3 619.8 320.3 613.8 312.7M802.4 385.7C815.4 387.3 828.9 384.2 841.3 390.2M785.4 356.6C791.6 365.1 803.1 362.8 810.4 369.0" stroke="rgb(132,132,132)" stroke-width="1.2" fill="none"/>
<path d="M580.0 266.0C620.0 270.0 650.0 278.0 690.0 284.0" stroke="rgb(165,165,165)" stroke-width="2.0" fill="none"/>
<path d="M640.0 280.0C700.0 286.0 740.0 288.0 790.0 289.0" stroke="rgb(160,160,160)" stroke-width="1.6" fill="none"/>
<path d="M580.0 352.0C660.0 330.0 720.0 308.0 790.0 288.0" stroke="rgb(170,170,170)" stroke-width="2.2" fill="none"/>
<path d="M636.0 224.0C660.0 250.0 690.0 285.0 712.0 312.0" stroke="rgb(150,150,150)" stroke-width="1.5" fill="none"/>
<path d="M678.0 366.0C720.0 360.0 760.0 355.0 790.0 352.0" stroke="rgb(165,165,165)" stroke-width="2.0" fill="none"/>
<path d="M740.0 224.0C735.0 250.0 732.0 270.0 728.0 290.0" stroke="rgb(140,140,140)" stroke-width="1.3" fill="none"/>
<path d="M580.0 285.0C610.0 284.0 640.0 286.0 660.0 289.0" stroke="rgb(145,145,145)" stroke-width="1.3" fill="none"/>
</g></g>
<defs><radialGradient id="gS" cx="0.38" cy="0.35" r="0.7"><stop offset="0" stop-color="#fbeb8a"/><stop offset="0.5" stop-color="#e2b51c"/><stop offset="1" stop-color="#9a7408"/></radialGradient>
<linearGradient id="gDish" x1="0" y1="0" x2="0" y2="1"><stop offset="0" stop-color="#d0d0d0"/><stop offset="0.45" stop-color="#b4b4b4"/><stop offset="0.8" stop-color="#8a8a8a"/><stop offset="1" stop-color="#c0c0c0"/></linearGradient>
<linearGradient id="gSD" x1="0" y1="0" x2="0" y2="1"><stop offset="0" stop-color="#f1d27a"/><stop offset="0.6" stop-color="#f4dc96"/><stop offset="1" stop-color="#fbeec4"/></linearGradient>
<linearGradient id="gStop" x1="0" y1="0" x2="1" y2="0"><stop offset="0" stop-color="#3e3e3e"/><stop offset="0.4" stop-color="#6a6a6a"/><stop offset="1" stop-color="#3a3a3a"/></linearGradient></defs>
<path d="M22.5,97 L22.5,108 C24,114 36,118.5 56,118.5 C76,118.5 88,114 89.5,108 L89.5,97 C80,101 33,101 22.5,97Z" fill="url(#gDish)"/>
<path d="M23.5,102.5 C35,110 78,110 88.5,102.5" stroke="#dcdcdc" stroke-width="1.2" fill="none"/>
<linearGradient id="gBun" x1="50" y1="80" x2="112" y2="45" gradientUnits="userSpaceOnUse"><stop offset="0" stop-color="#7a7a7a"/><stop offset="0.55" stop-color="#8e8e8e"/><stop offset="1" stop-color="#cdcdcd"/></linearGradient>
<clipPath id="cBun"><polygon points="50,79 53,69 86,38 91,37 95,41 99,39.5 103,44 107,43.5 110,48 114,49 113,54 116,57 113,61 114,65 109,68 108,72 104,75 104,80 100,84 69,85"/></clipPath>
<g clip-path="url(#cBun)">
<rect x="45" y="35" width="75" height="55" fill="url(#gBun)"/>
<pattern id="hexB" width="6.600" height="3.811" patternUnits="userSpaceOnUse" patternTransform="rotate(-40)"><path d="M0,1.905 L1.100,0 L3.300,0 L4.400,1.905 L3.300,3.811 L1.100,3.811 Z M4.400,1.905 L6.600,1.905" fill="none" stroke="#e6e6e6" stroke-width="0.6"/></pattern>
<linearGradient id="gBm" x1="60" y1="80" x2="112" y2="45" gradientUnits="userSpaceOnUse"><stop offset="0" stop-color="#fff" stop-opacity="0.25"/><stop offset="0.6" stop-color="#fff" stop-opacity="0.5"/><stop offset="1" stop-color="#fff" stop-opacity="1"/></linearGradient>
<mask id="mBun"><rect x="45" y="35" width="75" height="55" fill="url(#gBm)"/></mask>
<rect x="45" y="35" width="75" height="55" fill="url(#hexB)" mask="url(#mBun)"/>
<path d="M40,96 L88.0,37.0M40,96 L90.0,40.4M40,96 L92.0,43.8M40,96 L94.0,47.2M40,96 L96.0,50.5M40,96 L98.0,53.9M40,96 L100.0,57.3M40,96 L102.0,60.7M40,96 L104.0,64.1M40,96 L106.0,67.5M40,96 L108.0,70.8M40,96 L110.0,74.2M40,96 L112.0,77.6M40,96 L114.0,81.0" stroke="#5a5a5a" stroke-width="0.7" fill="none" opacity="0.7"/>
</g>
<path d="M24,102 L29,99.5 L33,96.5 L36,95.5 L40,91 L44,88 L48,84 L51,82.5 L56,81.5 L61,82.5 L65,85.5 L69,88.5 L73,92 L78,95.5 L83,98.5 L88,101.5 C79,108 38,108.5 24,102Z" fill="#0e0e0e"/>
<path d="M22.5,97.5 L24,93.5 L25,97.5Z M87.5,97 L88.5,93 L89.5,97Z" fill="#222"/>
<path d="M129.5,99 L129.5,108 C131,114 143,118 163,118 C183,118 195,114 196.5,108 L196.5,99 C186,102.5 140,102.5 129.5,99Z" fill="url(#gSD)"/>
<path d="M132,106 L134,102 L137,100 L140,97.5 L144,95 L148,91 L151,87 L155,83 L158,81.5 L166,81.5 L171,83 L176,87 L181,92 L186,97 L190,100 L193,103 C184,108.5 142,109.5 132,106Z" fill="#dba020"/>
<path d="M130,101 C140,109 186,109 196,101" stroke="#f8e6a0" stroke-width="1.3" fill="none"/>
<line x1="149.3" y1="61.6" x2="154.6" y2="64.9" stroke="#c9b24a" stroke-width="1.1"/><line x1="154.6" y1="64.9" x2="164.5" y2="53" stroke="#c9b24a" stroke-width="1.1"/><line x1="164.5" y1="53" x2="177.8" y2="60.9" stroke="#c9b24a" stroke-width="1.1"/><line x1="177.8" y1="60.9" x2="181.7" y2="55.6" stroke="#c9b24a" stroke-width="1.1"/><line x1="181.7" y1="55.6" x2="179" y2="68.2" stroke="#c9b24a" stroke-width="1.1"/><line x1="179" y1="68.2" x2="166.5" y2="64.2" stroke="#c9b24a" stroke-width="1.1"/><line x1="166.5" y1="64.2" x2="156.6" y2="72.2" stroke="#c9b24a" stroke-width="1.1"/><line x1="156.6" y1="72.2" x2="154.6" y2="64.9" stroke="#c9b24a" stroke-width="1.1"/><line x1="154.6" y1="64.9" x2="149.3" y2="61.6" stroke="#c9b24a" stroke-width="1.1"/>
<line x1="175.1" y1="76.1" x2="179.1" y2="81.4" stroke="#c9b24a" stroke-width="1.1"/><line x1="179.1" y1="81.4" x2="178.4" y2="88.7" stroke="#c9b24a" stroke-width="1.1"/><line x1="178.4" y1="88.7" x2="190.4" y2="84.1" stroke="#c9b24a" stroke-width="1.1"/><line x1="190.4" y1="84.1" x2="192.3" y2="73.5" stroke="#c9b24a" stroke-width="1.1"/><line x1="192.3" y1="73.5" x2="207.6" y2="81.4" stroke="#c9b24a" stroke-width="1.1"/><line x1="207.6" y1="81.4" x2="202.3" y2="84.7" stroke="#c9b24a" stroke-width="1.1"/><line x1="202.3" y1="84.7" x2="201" y2="92.7" stroke="#c9b24a" stroke-width="1.1"/><line x1="201" y1="92.7" x2="179.1" y2="81.4" stroke="#c9b24a" stroke-width="1.1"/><line x1="179.1" y1="81.4" x2="175.1" y2="76.1" stroke="#c9b24a" stroke-width="1.1"/>
<circle cx="164.5" cy="53" r="3.2" fill="url(#gS)"/>
<circle cx="181.7" cy="55.6" r="3.2" fill="url(#gS)"/>
<circle cx="177.8" cy="60.9" r="3.2" fill="url(#gS)"/>
<circle cx="149.3" cy="61.6" r="3.2" fill="url(#gS)"/>
<circle cx="154.6" cy="64.9" r="3.2" fill="url(#gS)"/>
<circle cx="166.5" cy="64.2" r="3.2" fill="url(#gS)"/>
<circle cx="179" cy="68.2" r="3.2" fill="url(#gS)"/>
<circle cx="156.6" cy="72.2" r="3.2" fill="url(#gS)"/>
<circle cx="175.1" cy="76.1" r="3.2" fill="url(#gS)"/>
<circle cx="192.3" cy="73.5" r="3.2" fill="url(#gS)"/>
<circle cx="179.1" cy="81.4" r="3.2" fill="url(#gS)"/>
<circle cx="207.6" cy="81.4" r="3.2" fill="url(#gS)"/>
<circle cx="190.4" cy="84.1" r="3.2" fill="url(#gS)"/>
<circle cx="202.3" cy="84.7" r="3.2" fill="url(#gS)"/>
<circle cx="178.4" cy="88.7" r="3.2" fill="url(#gS)"/>
<circle cx="201" cy="92.7" r="3.2" fill="url(#gS)"/>
<g>
<path d="M370.4 84.1C374.6 82.1 379.5 81.4 382.9 77.7M350.0 80.0C338.7 82.6 338.4 74.8 337.9 67.1M342.9 105.6C347.8 100.5 346.5 97.6 339.6 96.8" stroke="#120d00" stroke-width="3.6" fill="none" stroke-linecap="round"/>
<path d="M370.4 84.1C374.6 82.1 379.5 81.4 382.9 77.7M350.0 80.0C338.7 82.6 338.4 74.8 337.9 67.1M342.9 105.6C347.8 100.5 346.5 97.6 339.6 96.8" stroke="#3a2c04" stroke-width="2.4" fill="none" stroke-linecap="round"/>
<path d="M370.4 84.1C374.6 82.1 379.5 81.4 382.9 77.7M350.0 80.0C338.7 82.6 338.4 74.8 337.9 67.1M342.9 105.6C347.8 100.5 346.5 97.6 339.6 96.8" stroke="#5a4608" stroke-width="0.7" fill="none" stroke-linecap="round"/>
<path d="M385.7 88.9C387.1 91.7 393.8 90.9 390.7 96.6M350.5 56.8C355.3 56.5 358.4 65.2 364.3 59.5M375.5 91.1C370.0 92.0 364.6 96.1 359.2 91.1" stroke="#120d00" stroke-width="3.6" fill="none" stroke-linecap="round"/>
<path d="M385.7 88.9C387.1 91.7 393.8 90.9 390.7 96.6M350.5 56.8C355.3 56.5 358.4 65.2 364.3 59.5M375.5 91.1C370.0 92.0 364.6 96.1 359.2 91.1" stroke="#3a2c04" stroke-width="2.4" fill="none" stroke-linecap="round"/>
<path d="M385.7 88.9C387.1 91.7 393.8 90.9 390.7 96.6M350.5 56.8C355.3 56.5 358.4 65.2 364.3 59.5M375.5 91.1C370.0 92.0 364.6 96.1 359.2 91.1" stroke="#5a4608" stroke-width="0.7" fill="none" stroke-linecap="round"/>
<path d="M360.0 55.8C355.6 58.0 359.7 62.4 357.6 65.2M336.0 54.0C345.1 59.6 342.9 47.3 348.0 46.5M341.6 90.1C335.5 85.0 340.2 81.8 343.7 78.4" stroke="#120d00" stroke-width="3.6" fill="none" stroke-linecap="round"/>
<path d="M360.0 55.8C355.6 58.0 359.7 62.4 357.6 65.2M336.0 54.0C345.1 59.6 342.9 47.3 348.0 46.5M341.6 90.1C335.5 85.0 340.2 81.8 343.7 78.4" stroke="#3a2c04" stroke-width="2.4" fill="none" stroke-linecap="round"/>
<path d="M360.0 55.8C355.6 58.0 359.7 62.4 357.6 65.2M336.0 54.0C345.1 59.6 342.9 47.3 348.0 46.5M341.6 90.1C335.5 85.0 340.2 81.8 343.7 78.4" stroke="#5a4608" stroke-width="0.7" fill="none" stroke-linecap="round"/>
<path d="M378.5 74.5C388.8 76.6 379.5 86.3 384.7 90.4M344.9 72.2C338.1 77.9 341.8 81.1 347.6 83.8M352.2 58.2C349.2 53.5 345.9 48.8 354.0 45.7" stroke="#120d00" stroke-width="3.6" fill="none" stroke-linecap="round"/>
<path d="M378.5 74.5C388.8 76.6 379.5 86.3 384.7 90.4M344.9 72.2C338.1 77.9 341.8 81.1 347.6 83.8M352.2 58.2C349.2 53.5 345.9 48.8 354.0 45.7" stroke="#3a2c04" stroke-width="2.4" fill="none" stroke-linecap="round"/>
<path d="M378.5 74.5C388.8 76.6 379.5 86.3 384.7 90.4M344.9 72.2C338.1 77.9 341.8 81.1 347.6 83.8M352.2 58.2C349.2 53.5 345.9 48.8 354.0 45.7" stroke="#5a4608" stroke-width="0.7" fill="none" stroke-linecap="round"/>
<path d="M342.8 86.1C345.9 91.2 344.3 96.5 343.5 101.7M408.9 77.6C399.7 82.2 393.8 80.0 392.4 69.2M405.0 106.3C401.3 110.0 398.2 113.7 405.1 117.4" stroke="#120d00" stroke-width="3.6" fill="none" stroke-linecap="round"/>
<path d="M342.8 86.1C345.9 91.2 344.3 96.5 343.5 101.7M408.9 77.6C399.7 82.2 393.8 80.0 392.4 69.2M405.0 106.3C401.3 110.0 398.2 113.7 405.1 117.4" stroke="#3a2c04" stroke-width="2.4" fill="none" stroke-linecap="round"/>
<path d="M342.8 86.1C345.9 91.2 344.3 96.5 343.5 101.7M408.9 77.6C399.7 82.2 393.8 80.0 392.4 69.2M405.0 106.3C401.3 110.0 398.2 113.7 405.1 117.4" stroke="#5a4608" stroke-width="0.7" fill="none" stroke-linecap="round"/>
<path d="M350.9 117.7C353.6 112.9 352.8 104.3 362.5 107.2M355.5 106.8C349.0 109.1 351.0 99.1 345.5 99.9M382.7 60.1C382.2 51.6 387.4 53.2 392.4 54.5" stroke="#120d00" stroke-width="3.6" fill="none" stroke-linecap="round"/>
<path d="M350.9 117.7C353.6 112.9 352.8 104.3 362.5 107.2M355.5 106.8C349.0 109.1 351.0 99.1 345.5 99.9M382.7 60.1C382.2 51.6 387.4 53.2 392.4 54.5" stroke="#3a2c04" stroke-width="2.4" fill="none" stroke-linecap="round"/>
<path d="M350.9 117.7C353.6 112.9 352.8 104.3 362.5 107.2M355.5 106.8C349.0 109.1 351.0 99.1 345.5 99.9M382.7 60.1C382.2 51.6 387.4 53.2 392.4 54.5" stroke="#5a4608" stroke-width="0.7" fill="none" stroke-linecap="round"/>
<path d="M369.9 41.2C370.6 45.7 379.8 46.0 375.7 52.9M363.5 112.6C369.4 116.3 374.5 113.2 379.6 110.6M346.7 39.0C352.4 45.0 357.9 52.7 365.6 41.2" stroke="#120d00" stroke-width="3.6" fill="none" stroke-linecap="round"/>
<path d="M369.9 41.2C370.6 45.7 379.8 46.0 375.7 52.9M363.5 112.6C369.4 116.3 374.5 113.2 379.6 110.6M346.7 39.0C352.4 45.0 357.9 52.7 365.6 41.2" stroke="#3a2c04" stroke-width="2.4" fill="none" stroke-linecap="round"/>
<path d="M369.9 41.2C370.6 45.7 379.8 46.0 375.7 52.9M363.5 112.6C369.4 116.3 374.5 113.2 379.6 110.6M346.7 39.0C352.4 45.0 357.9 52.7 365.6 41.2" stroke="#5a4608" stroke-width="0.7" fill="none" stroke-linecap="round"/>
<path d="M392.0 113.4C398.4 107.3 400.8 101.5 390.7 96.7" stroke="#120d00" stroke-width="3.6" fill="none" stroke-linecap="round"/>
<path d="M392.0 113.4C398.4 107.3 400.8 101.5 390.7 96.7" stroke="#3a2c04" stroke-width="2.4" fill="none" stroke-linecap="round"/>
<path d="M392.0 113.4C398.4 107.3 400.8 101.5 390.7 96.7" stroke="#5a4608" stroke-width="0.7" fill="none" stroke-linecap="round"/>
<path d="M362.7 94.9C366.5 89.6 377.2 93.8 377.8 84.1M401.6 85.3C399.6 81.1 396.8 77.6 392.3 75.9M342.1 91.0C348.6 96.7 354.4 87.6 360.8 90.2" stroke="#140f00" stroke-width="3.6" fill="none" stroke-linecap="round"/>
<path d="M362.7 94.9C366.5 89.6 377.2 93.8 377.8 84.1M401.6 85.3C399.6 81.1 396.8 77.6 392.3 75.9M342.1 91.0C348.6 96.7 354.4 87.6 360.8 90.2" stroke="#8a6c0a" stroke-width="2.5" fill="none" stroke-linecap="round"/>
<path d="M362.7 94.9C366.5 89.6 377.2 93.8 377.8 84.1M401.6 85.3C399.6 81.1 396.8 77.6 392.3 75.9M342.1 91.0C348.6 96.7 354.4 87.6 360.8 90.2" stroke="#b8961c" stroke-width="0.8" fill="none" stroke-linecap="round"/>
<path d="M391.9 86.0C390.1 98.1 378.2 84.5 374.9 92.6M389.1 78.8C380.0 79.5 370.9 80.2 374.7 66.2M358.9 94.3C354.0 99.6 358.7 102.0 362.1 104.7" stroke="#140f00" stroke-width="3.6" fill="none" stroke-linecap="round"/>
<path d="M391.9 86.0C390.1 98.1 378.2 84.5 374.9 92.6M389.1 78.8C380.0 79.5 370.9 80.2 374.7 66.2M358.9 94.3C354.0 99.6 358.7 102.0 362.1 104.7" stroke="#8a6c0a" stroke-width="2.5" fill="none" stroke-linecap="round"/>
<path d="M391.9 86.0C390.1 98.1 378.2 84.5 374.9 92.6M389.1 78.8C380.0 79.5 370.9 80.2 374.7 66.2M358.9 94.3C354.0 99.6 358.7 102.0 362.1 104.7" stroke="#b8961c" stroke-width="0.8" fill="none" stroke-linecap="round"/>
<path d="M351.1 73.1C362.8 70.6 352.6 60.1 357.7 55.2M380.3 63.2C378.3 71.3 381.3 75.1 389.8 74.1M370.2 59.7C368.9 64.6 372.4 68.4 373.3 72.9" stroke="#140f00" stroke-width="3.6" fill="none" stroke-linecap="round"/>
<path d="M351.1 73.1C362.8 70.6 352.6 60.1 357.7 55.2M380.3 63.2C378.3 71.3 381.3 75.1 389.8 74.1M370.2 59.7C368.9 64.6 372.4 68.4 373.3 72.9" stroke="#8a6c0a" stroke-width="2.5" fill="none" stroke-linecap="round"/>
<path d="M351.1 73.1C362.8 70.6 352.6 60.1 357.7 55.2M380.3 63.2C378.3 71.3 381.3 75.1 389.8 74.1M370.2 59.7C368.9 64.6 372.4 68.4 373.3 72.9" stroke="#b8961c" stroke-width="0.8" fill="none" stroke-linecap="round"/>
<path d="M360.0 108.2C363.7 99.4 368.2 98.0 373.9 106.6M359.5 104.1C363.0 103.8 367.3 98.0 369.9 105.3M399.1 56.4C399.7 60.0 403.6 60.9 405.1 63.8" stroke="#140f00" stroke-width="3.6" fill="none" stroke-linecap="round"/>
<path d="M360.0 108.2C363.7 99.4 368.2 98.0 373.9 106.6M359.5 104.1C363.0 103.8 367.3 98.0 369.9 105.3M399.1 56.4C399.7 60.0 403.6 60.9 405.1 63.8" stroke="#8a6c0a" stroke-width="2.5" fill="none" stroke-linecap="round"/>
<path d="M360.0 108.2C363.7 99.4 368.2 98.0 373.9 106.6M359.5 104.1C363.0 103.8 367.3 98.0 369.9 105.3M399.1 56.4C399.7 60.0 403.6 60.9 405.1 63.8" stroke="#b8961c" stroke-width="0.8" fill="none" stroke-linecap="round"/>
<path d="M383.9 92.3C390.9 88.0 380.8 77.2 390.8 74.0M372.1 51.4C376.5 55.9 382.0 45.6 386.3 52.3M356.7 65.7C357.3 60.3 358.5 54.7 351.9 51.8" stroke="#140f00" stroke-width="3.6" fill="none" stroke-linecap="round"/>
<path d="M383.9 92.3C390.9 88.0 380.8 77.2 390.8 74.0M372.1 51.4C376.5 55.9 382.0 45.6 386.3 52.3M356.7 65.7C357.3 60.3 358.5 54.7 351.9 51.8" stroke="#8a6c0a" stroke-width="2.5" fill="none" stroke-linecap="round"/>
<path d="M383.9 92.3C390.9 88.0 380.8 77.2 390.8 74.0M372.1 51.4C376.5 55.9 382.0 45.6 386.3 52.3M356.7 65.7C357.3 60.3 358.5 54.7 351.9 51.8" stroke="#b8961c" stroke-width="0.8" fill="none" stroke-linecap="round"/>
<path d="M365.9 104.1C372.0 107.3 373.2 103.0 374.2 98.6M364.6 84.9C376.5 88.9 372.6 76.1 377.5 72.7M384.8 97.7C373.8 106.8 375.3 112.9 389.1 116.1" stroke="#140f00" stroke-width="3.6" fill="none" stroke-linecap="round"/>
<path d="M365.9 104.1C372.0 107.3 373.2 103.0 374.2 98.6M364.6 84.9C376.5 88.9 372.6 76.1 377.5 72.7M384.8 97.7C373.8 106.8 375.3 112.9 389.1 116.1" stroke="#8a6c0a" stroke-width="2.5" fill="none" stroke-linecap="round"/>
<path d="M365.9 104.1C372.0 107.3 373.2 103.0 374.2 98.6M364.6 84.9C376.5 88.9 372.6 76.1 377.5 72.7M384.8 97.7C373.8 106.8 375.3 112.9 389.1 116.1" stroke="#b8961c" stroke-width="0.8" fill="none" stroke-linecap="round"/>
<path d="M376.8 104.0C365.5 105.7 375.0 117.2 368.7 121.2M396.8 50.9C401.4 60.5 398.3 65.4 387.8 66.1M375.3 98.2C387.0 99.1 381.0 88.8 384.1 84.2" stroke="#140f00" stroke-width="3.6" fill="none" stroke-linecap="round"/>
<path d="M376.8 104.0C365.5 105.7 375.0 117.2 368.7 121.2M396.8 50.9C401.4 60.5 398.3 65.4 387.8 66.1M375.3 98.2C387.0 99.1 381.0 88.8 384.1 84.2" stroke="#8a6c0a" stroke-width="2.5" fill="none" stroke-linecap="round"/>
<path d="M376.8 104.0C365.5 105.7 375.0 117.2 368.7 121.2M396.8 50.9C401.4 60.5 398.3 65.4 387.8 66.1M375.3 98.2C387.0 99.1 381.0 88.8 384.1 84.2" stroke="#b8961c" stroke-width="0.8" fill="none" stroke-linecap="round"/>
<path d="M408.1 43.4C413.3 47.5 405.2 53.9 410.8 58.0M384.6 81.0C384.0 74.5 388.1 71.2 393.0 68.3M409.6 81.1C406.5 78.9 402.9 77.7 399.5 76.1" stroke="#140f00" stroke-width="3.6" fill="none" stroke-linecap="round"/>
<path d="M408.1 43.4C413.3 47.5 405.2 53.9 410.8 58.0M384.6 81.0C384.0 74.5 388.1 71.2 393.0 68.3M409.6 81.1C406.5 78.9 402.9 77.7 399.5 76.1" stroke="#8a6c0a" stroke-width="2.5" fill="none" stroke-linecap="round"/>
<path d="M408.1 43.4C413.3 47.5 405.2 53.9 410.8 58.0M384.6 81.0C384.0 74.5 388.1 71.2 393.0 68.3M409.6 81.1C406.5 78.9 402.9 77.7 399.5 76.1" stroke="#b8961c" stroke-width="0.8" fill="none" stroke-linecap="round"/>
<path d="M366.4 104.9C363.5 99.5 354.2 109.3 353.2 99.4M376.9 71.6C381.4 63.9 389.1 67.5 395.4 66.5M345.6 73.3C347.6 67.3 346.3 59.8 353.2 56.0" stroke="#140f00" stroke-width="3.6" fill="none" stroke-linecap="round"/>
<path d="M366.4 104.9C363.5 99.5 354.2 109.3 353.2 99.4M376.9 71.6C381.4 63.9 389.1 67.5 395.4 66.5M345.6 73.3C347.6 67.3 346.3 59.8 353.2 56.0" stroke="#8a6c0a" stroke-width="2.5" fill="none" stroke-linecap="round"/>
<path d="M366.4 104.9C363.5 99.5 354.2 109.3 353.2 99.4M376.9 71.6C381.4 63.9 389.1 67.5 395.4 66.5M345.6 73.3C347.6 67.3 346.3 59.8 353.2 56.0" stroke="#b8961c" stroke-width="0.8" fill="none" stroke-linecap="round"/>
<path d="M350.6 89.1C355.5 91.2 353.6 79.8 359.8 84.4M350.8 55.5C346.8 52.7 349.5 47.0 345.9 44.0M344.0 98.9C351.0 98.6 355.3 101.2 354.4 109.0" stroke="#140f00" stroke-width="3.6" fill="none" stroke-linecap="round"/>
<path d="M350.6 89.1C355.5 91.2 353.6 79.8 359.8 84.4M350.8 55.5C346.8 52.7 349.5 47.0 345.9 44.0M344.0 98.9C351.0 98.6 355.3 101.2 354.4 109.0" stroke="#8a6c0a" stroke-width="2.5" fill="none" stroke-linecap="round"/>
<path d="M350.6 89.1C355.5 91.2 353.6 79.8 359.8 84.4M350.8 55.5C346.8 52.7 349.5 47.0 345.9 44.0M344.0 98.9C351.0 98.6 355.3 101.2 354.4 109.0" stroke="#b8961c" stroke-width="0.8" fill="none" stroke-linecap="round"/>
<path d="M376.3 73.6C372.5 76.5 374.3 85.2 366.1 83.7M351.5 90.3C354.1 81.2 346.6 80.6 341.3 78.2M401.1 56.0C411.7 48.9 395.3 43.3 400.0 36.5" stroke="#1e1600" stroke-width="3.6" fill="none" stroke-linecap="round"/>
<path d="M376.3 73.6C372.5 76.5 374.3 85.2 366.1 83.7M351.5 90.3C354.1 81.2 346.6 80.6 341.3 78.2M401.1 56.0C411.7 48.9 395.3 43.3 400.0 36.5" stroke="#cfa816" stroke-width="2.6" fill="none" stroke-linecap="round"/>
<path d="M376.3 73.6C372.5 76.5 374.3 85.2 366.1 83.7M351.5 90.3C354.1 81.2 346.6 80.6 341.3 78.2M401.1 56.0C411.7 48.9 395.3 43.3 400.0 36.5" stroke="#f0d455" stroke-width="0.8" fill="none" stroke-linecap="round"/>
<path d="M403.5 47.5C410.1 53.2 414.7 59.1 404.7 65.9M399.2 72.3C398.7 68.5 403.7 66.1 401.9 62.0M409.6 45.9C403.3 45.6 397.2 40.6 390.8 45.3" stroke="#1e1600" stroke-width="3.6" fill="none" stroke-linecap="round"/>
<path d="M403.5 47.5C410.1 53.2 414.7 59.1 404.7 65.9M399.2 72.3C398.7 68.5 403.7 66.1 401.9 62.0M409.6 45.9C403.3 45.6 397.2 40.6 390.8 45.3" stroke="#cfa816" stroke-width="2.6" fill="none" stroke-linecap="round"/>
<path d="M403.5 47.5C410.1 53.2 414.7 59.1 404.7 65.9M399.2 72.3C398.7 68.5 403.7 66.1 401.9 62.0M409.6 45.9C403.3 45.6 397.2 40.6 390.8 45.3" stroke="#f0d455" stroke-width="0.8" fill="none" stroke-linecap="round"/>
<path d="M350.4 42.1C352.4 44.6 355.2 46.1 357.8 47.9M379.2 48.6C375.7 54.4 375.0 58.9 383.9 59.3M371.1 101.8C368.5 106.1 367.8 111.3 364.1 115.1" stroke="#1e1600" stroke-width="3.6" fill="none" stroke-linecap="round"/>
<path d="M350.4 42.1C352.4 44.6 355.2 46.1 357.8 47.9M379.2 48.6C375.7 54.4 375.0 58.9 383.9 59.3M371.1 101.8C368.5 106.1 367.8 111.3 364.1 115.1" stroke="#cfa816" stroke-width="2.6" fill="none" stroke-linecap="round"/>
<path d="M350.4 42.1C352.4 44.6 355.2 46.1 357.8 47.9M379.2 48.6C375.7 54.4 375.0 58.9 383.9 59.3M371.1 101.8C368.5 106.1 367.8 111.3 364.1 115.1" stroke="#f0d455" stroke-width="0.8" fill="none" stroke-linecap="round"/>
<path d="M349.8 75.0C343.4 70.7 342.5 66.0 348.8 60.8M389.6 110.0C387.7 105.2 383.1 103.1 379.8 99.7M392.6 102.9C401.7 101.7 403.3 97.2 398.2 89.8" stroke="#1e1600" stroke-width="3.6" fill="none" stroke-linecap="round"/>
<path d="M349.8 75.0C343.4 70.7 342.5 66.0 348.8 60.8M389.6 110.0C387.7 105.2 383.1 103.1 379.8 99.7M392.6 102.9C401.7 101.7 403.3 97.2 398.2 89.8" stroke="#cfa816" stroke-width="2.6" fill="none" stroke-linecap="round"/>
<path d="M349.8 75.0C343.4 70.7 342.5 66.0 348.8 60.8M389.6 110.0C387.7 105.2 383.1 103.1 379.8 99.7M392.6 102.9C401.7 101.7 403.3 97.2 398.2 89.8" stroke="#f0d455" stroke-width="0.8" fill="none" stroke-linecap="round"/>
<path d="M388.8 102.0C393.7 97.7 381.2 91.7 390.2 87.8M362.0 76.3C366.3 79.3 370.9 79.3 375.6 77.2M353.6 117.2C354.0 111.9 350.3 108.9 346.9 105.7" stroke="#1e1600" stroke-width="3.6" fill="none" stroke-linecap="round"/>
<path d="M388.8 102.0C393.7 97.7 381.2 91.7 390.2 87.8M362.0 76.3C366.3 79.3 370.9 79.3 375.6 77.2M353.6 117.2C354.0 111.9 350.3 108.9 346.9 105.7" stroke="#cfa816" stroke-width="2.6" fill="none" stroke-linecap="round"/>
<path d="M388.8 102.0C393.7 97.7 381.2 91.7 390.2 87.8M362.0 76.3C366.3 79.3 370.9 79.3 375.6 77.2M353.6 117.2C354.0 111.9 350.3 108.9 346.9 105.7" stroke="#f0d455" stroke-width="0.8" fill="none" stroke-linecap="round"/>
<path d="M376.5 69.5C382.3 74.4 388.1 75.9 393.9 69.5M355.5 70.5C359.8 69.8 364.8 66.8 366.5 74.1M355.1 113.9C353.3 102.6 345.6 109.3 340.2 109.1" stroke="#1e1600" stroke-width="3.6" fill="none" stroke-linecap="round"/>
<path d="M376.5 69.5C382.3 74.4 388.1 75.9 393.9 69.5M355.5 70.5C359.8 69.8 364.8 66.8 366.5 74.1M355.1 113.9C353.3 102.6 345.6 109.3 340.2 109.1" stroke="#cfa816" stroke-width="2.6" fill="none" stroke-linecap="round"/>
<path d="M376.5 69.5C382.3 74.4 388.1 75.9 393.9 69.5M355.5 70.5C359.8 69.8 364.8 66.8 366.5 74.1M355.1 113.9C353.3 102.6 345.6 109.3 340.2 109.1" stroke="#f0d455" stroke-width="0.8" fill="none" stroke-linecap="round"/>
<path d="M381.4 101.3C391.0 93.6 395.1 104.4 401.7 107.2M348.9 78.6C350.3 71.9 343.2 75.3 341.4 72.3M376.0 87.4C371.2 88.7 369.6 93.0 367.6 96.9" stroke="#1e1600" stroke-width="3.6" fill="none" stroke-linecap="round"/>
<path d="M381.4 101.3C391.0 93.6 395.1 104.4 401.7 107.2M348.9 78.6C350.3 71.9 343.2 75.3 341.4 72.3M376.0 87.4C371.2 88.7 369.6 93.0 367.6 96.9" stroke="#cfa816" stroke-width="2.6" fill="none" stroke-linecap="round"/>
<path d="M381.4 101.3C391.0 93.6 395.1 104.4 401.7 107.2M348.9 78.6C350.3 71.9 343.2 75.3 341.4 72.3M376.0 87.4C371.2 88.7 369.6 93.0 367.6 96.9" stroke="#f0d455" stroke-width="0.8" fill="none" stroke-linecap="round"/>
<path d="M357.5 97.6C359.8 101.5 361.4 105.2 354.9 106.4M410.0 57.0C403.9 49.4 395.9 55.8 389.0 53.9M410.4 106.2C408.7 102.7 404.4 102.5 402.0 99.9" stroke="#1e1600" stroke-width="3.6" fill="none" stroke-linecap="round"/>
<path d="M357.5 97.6C359.8 101.5 361.4 105.2 354.9 106.4M410.0 57.0C403.9 49.4 395.9 55.8 389.0 53.9M410.4 106.2C408.7 102.7 404.4 102.5 402.0 99.9" stroke="#cfa816" stroke-width="2.6" fill="none" stroke-linecap="round"/>
<path d="M357.5 97.6C359.8 101.5 361.4 105.2 354.9 106.4M410.0 57.0C403.9 49.4 395.9 55.8 389.0 53.9M410.4 106.2C408.7 102.7 404.4 102.5 402.0 99.9" stroke="#f0d455" stroke-width="0.8" fill="none" stroke-linecap="round"/>
<path d="M351.5 40.5C347.8 40.7 344.9 36.8 341.0 38.6M370.6 58.5C369.2 51.3 362.6 53.2 358.1 51.4M411.8 117.9C404.9 114.6 417.6 109.2 410.6 105.9" stroke="#1e1600" stroke-width="3.6" fill="none" stroke-linecap="round"/>
<path d="M351.5 40.5C347.8 40.7 344.9 36.8 341.0 38.6M370.6 58.5C369.2 51.3 362.6 53.2 358.1 51.4M411.8 117.9C404.9 114.6 417.6 109.2 410.6 105.9" stroke="#cfa816" stroke-width="2.6" fill="none" stroke-linecap="round"/>
<path d="M351.5 40.5C347.8 40.7 344.9 36.8 341.0 38.6M370.6 58.5C369.2 51.3 362.6 53.2 358.1 51.4M411.8 117.9C404.9 114.6 417.6 109.2 410.6 105.9" stroke="#f0d455" stroke-width="0.8" fill="none" stroke-linecap="round"/>
<path d="M395.6 89.7C390.5 90.9 389.4 95.5 387.7 99.4M381.0 90.4C377.0 86.5 388.8 83.0 381.2 79.0M356.6 72.6C354.6 69.7 347.3 72.2 349.2 65.3" stroke="#1e1600" stroke-width="3.6" fill="none" stroke-linecap="round"/>
<path d="M395.6 89.7C390.5 90.9 389.4 95.5 387.7 99.4M381.0 90.4C377.0 86.5 388.8 83.0 381.2 79.0M356.6 72.6C354.6 69.7 347.3 72.2 349.2 65.3" stroke="#cfa816" stroke-width="2.6" fill="none" stroke-linecap="round"/>
<path d="M395.6 89.7C390.5 90.9 389.4 95.5 387.7 99.4M381.0 90.4C377.0 86.5 388.8 83.0 381.2 79.0M356.6 72.6C354.6 69.7 347.3 72.2 349.2 65.3" stroke="#f0d455" stroke-width="0.8" fill="none" stroke-linecap="round"/>
<path d="M364.4 77.2C361.0 82.6 360.4 87.4 367.7 90.2M394.4 54.3C388.3 51.5 388.1 60.1 383.4 60.0M392.7 115.2C392.0 124.2 381.3 112.7 380.3 121.3" stroke="#1e1600" stroke-width="3.6" fill="none" stroke-linecap="round"/>
<path d="M364.4 77.2C361.0 82.6 360.4 87.4 367.7 90.2M394.4 54.3C388.3 51.5 388.1 60.1 383.4 60.0M392.7 115.2C392.0 124.2 381.3 112.7 380.3 121.3" stroke="#cfa816" stroke-width="2.6" fill="none" stroke-linecap="round"/>
<path d="M364.4 77.2C361.0 82.6 360.4 87.4 367.7 90.2M394.4 54.3C388.3 51.5 388.1 60.1 383.4 60.0M392.7 115.2C392.0 124.2 381.3 112.7 380.3 121.3" stroke="#f0d455" stroke-width="0.8" fill="none" stroke-linecap="round"/>
<path d="M388.1 61.7C384.7 57.8 391.4 55.5 389.7 51.8M342.2 62.1C335.9 57.1 331.4 51.7 339.4 44.3M363.2 98.4C358.6 99.0 357.7 103.0 356.2 106.3" stroke="#1e1600" stroke-width="3.6" fill="none" stroke-linecap="round"/>
<path d="M388.1 61.7C384.7 57.8 391.4 55.5 389.7 51.8M342.2 62.1C335.9 57.1 331.4 51.7 339.4 44.3M363.2 98.4C358.6 99.0 357.7 103.0 356.2 106.3" stroke="#cfa816" stroke-width="2.6" fill="none" stroke-linecap="round"/>
<path d="M388.1 61.7C384.7 57.8 391.4 55.5 389.7 51.8M342.2 62.1C335.9 57.1 331.4 51.7 339.4 44.3M363.2 98.4C358.6 99.0 357.7 103.0 356.2 106.3" stroke="#f0d455" stroke-width="0.8" fill="none" stroke-linecap="round"/>
<path d="M397.0 62.2C387.2 63.0 386.0 67.6 391.2 75.1M354.9 67.1C353.3 71.9 350.4 75.4 345.8 77.4M350.8 84.5C359.6 81.6 355.3 74.7 355.5 69.2" stroke="#1e1600" stroke-width="3.6" fill="none" stroke-linecap="round"/>
<path d="M397.0 62.2C387.2 63.0 386.0 67.6 391.2 75.1M354.9 67.1C353.3 71.9 350.4 75.4 345.8 77.4M350.8 84.5C359.6 81.6 355.3 74.7 355.5 69.2" stroke="#cfa816" stroke-width="2.6" fill="none" stroke-linecap="round"/>
<path d="M397.0 62.2C387.2 63.0 386.0 67.6 391.2 75.1M354.9 67.1C353.3 71.9 350.4 75.4 345.8 77.4M350.8 84.5C359.6 81.6 355.3 74.7 355.5 69.2" stroke="#f0d455" stroke-width="0.8" fill="none" stroke-linecap="round"/>
<path d="M349.4 101.3C346.8 92.2 355.8 95.7 358.7 92.7M377.4 84.8C384.6 90.9 386.5 71.9 394.4 81.1M377.6 103.8C378.8 108.3 380.5 112.0 386.2 108.8" stroke="#1e1600" stroke-width="3.6" fill="none" stroke-linecap="round"/>
<path d="M349.4 101.3C346.8 92.2 355.8 95.7 358.7 92.7M377.4 84.8C384.6 90.9 386.5 71.9 394.4 81.1M377.6 103.8C378.8 108.3 380.5 112.0 386.2 108.8" stroke="#cfa816" stroke-width="2.6" fill="none" stroke-linecap="round"/>
<path d="M349.4 101.3C346.8 92.2 355.8 95.7 358.7 92.7M377.4 84.8C384.6 90.9 386.5 71.9 394.4 81.1M377.6 103.8C378.8 108.3 380.5 112.0 386.2 108.8" stroke="#f0d455" stroke-width="0.8" fill="none" stroke-linecap="round"/>
<path d="M342.4 90.5C343.2 97.8 355.4 96.2 354.0 105.2M366.0 65.1C371.7 63.7 377.7 63.6 383.4 61.5M390.8 96.9C398.2 100.1 400.7 94.9 403.1 89.6" stroke="#1e1600" stroke-width="3.6" fill="none" stroke-linecap="round"/>
<path d="M342.4 90.5C343.2 97.8 355.4 96.2 354.0 105.2M366.0 65.1C371.7 63.7 377.7 63.6 383.4 61.5M390.8 96.9C398.2 100.1 400.7 94.9 403.1 89.6" stroke="#cfa816" stroke-width="2.6" fill="none" stroke-linecap="round"/>
<path d="M342.4 90.5C343.2 97.8 355.4 96.2 354.0 105.2M366.0 65.1C371.7 63.7 377.7 63.6 383.4 61.5M390.8 96.9C398.2 100.1 400.7 94.9 403.1 89.6" stroke="#f0d455" stroke-width="0.8" fill="none" stroke-linecap="round"/>
<path d="M400.9 105.3C415.7 106.0 411.2 95.5 411.2 87.5M375.8 97.1C375.8 92.0 372.1 85.6 380.5 83.4M351.5 72.5C362.5 83.0 353.4 88.0 345.9 93.4" stroke="#1e1600" stroke-width="3.6" fill="none" stroke-linecap="round"/>
<path d="M400.9 105.3C415.7 106.0 411.2 95.5 411.2 87.5M375.8 97.1C375.8 92.0 372.1 85.6 380.5 83.4M351.5 72.5C362.5 83.0 353.4 88.0 345.9 93.4" stroke="#cfa816" stroke-width="2.6" fill="none" stroke-linecap="round"/>
<path d="M400.9 105.3C415.7 106.0 411.2 95.5 411.2 87.5M375.8 97.1C375.8 92.0 372.1 85.6 380.5 83.4M351.5 72.5C362.5 83.0 353.4 88.0 345.9 93.4" stroke="#f0d455" stroke-width="0.8" fill="none" stroke-linecap="round"/>
<path d="M344.7 91.7C338.5 86.9 345.3 84.2 346.6 80.5M380.4 114.2C384.8 110.5 388.1 111.8 390.5 116.6M353.9 97.7C347.7 99.8 345.3 96.3 344.0 91.0" stroke="#1e1600" stroke-width="3.6" fill="none" stroke-linecap="round"/>
<path d="M344.7 91.7C338.5 86.9 345.3 84.2 346.6 80.5M380.4 114.2C384.8 110.5 388.1 111.8 390.5 116.6M353.9 97.7C347.7 99.8 345.3 96.3 344.0 91.0" stroke="#cfa816" stroke-width="2.6" fill="none" stroke-linecap="round"/>
<path d="M344.7 91.7C338.5 86.9 345.3 84.2 346.6 80.5M380.4 114.2C384.8 110.5 388.1 111.8 390.5 116.6M353.9 97.7C347.7 99.8 345.3 96.3 344.0 91.0" stroke="#f0d455" stroke-width="0.8" fill="none" stroke-linecap="round"/>
<path d="M349.1 101.1C340.4 103.4 345.5 111.3 343.0 116.1M355.8 112.3C360.1 110.8 367.9 115.1 367.3 105.4M372.7 55.0C376.7 65.8 387.3 56.1 393.0 61.6" stroke="#1e1600" stroke-width="3.6" fill="none" stroke-linecap="round"/>
<path d="M349.1 101.1C340.4 103.4 345.5 111.3 343.0 116.1M355.8 112.3C360.1 110.8 367.9 115.1 367.3 105.4M372.7 55.0C376.7 65.8 387.3 56.1 393.0 61.6" stroke="#cfa816" stroke-width="2.6" fill="none" stroke-linecap="round"/>
<path d="M349.1 101.1C340.4 103.4 345.5 111.3 343.0 116.1M355.8 112.3C360.1 110.8 367.9 115.1 367.3 105.4M372.7 55.0C376.7 65.8 387.3 56.1 393.0 61.6" stroke="#f0d455" stroke-width="0.8" fill="none" stroke-linecap="round"/>
<path d="M376.1 80.4C370.2 86.8 381.8 96.0 372.7 102.0" stroke="#1e1600" stroke-width="3.6" fill="none" stroke-linecap="round"/>
<path d="M376.1 80.4C370.2 86.8 381.8 96.0 372.7 102.0" stroke="#cfa816" stroke-width="2.6" fill="none" stroke-linecap="round"/>
<path d="M376.1 80.4C370.2 86.8 381.8 96.0 372.7 102.0" stroke="#f0d455" stroke-width="0.8" fill="none" stroke-linecap="round"/>
<path d="M390.2 88.1C393.8 89.4 396.2 91.6 395.3 95.9M402.1 80.4C394.6 79.8 395.7 71.8 391.7 68.3M347.4 102.3C352.2 109.4 357.1 108.9 362.0 102.4" stroke="#120d00" stroke-width="3.4" fill="none" stroke-linecap="round"/>
<path d="M390.2 88.1C393.8 89.4 396.2 91.6 395.3 95.9M402.1 80.4C394.6 79.8 395.7 71.8 391.7 68.3M347.4 102.3C352.2 109.4 357.1 108.9 362.0 102.4" stroke="#3a2c04" stroke-width="2.3" fill="none" stroke-linecap="round"/>
<path d="M390.2 88.1C393.8 89.4 396.2 91.6 395.3 95.9M402.1 80.4C394.6 79.8 395.7 71.8 391.7 68.3M347.4 102.3C352.2 109.4 357.1 108.9 362.0 102.4" stroke="#5a4608" stroke-width="0.6" fill="none" stroke-linecap="round"/>
<path d="M342.3 59.2C341.4 56.4 340.7 53.6 340.4 50.6M396.0 71.9C400.5 73.9 399.2 65.9 403.5 67.5M377.3 81.2C383.2 83.2 385.9 87.2 385.3 93.5" stroke="#120d00" stroke-width="3.4" fill="none" stroke-linecap="round"/>
<path d="M342.3 59.2C341.4 56.4 340.7 53.6 340.4 50.6M396.0 71.9C400.5 73.9 399.2 65.9 403.5 67.5M377.3 81.2C383.2 83.2 385.9 87.2 385.3 93.5" stroke="#3a2c04" stroke-width="2.3" fill="none" stroke-linecap="round"/>
<path d="M342.3 59.2C341.4 56.4 340.7 53.6 340.4 50.6M396.0 71.9C400.5 73.9 399.2 65.9 403.5 67.5M377.3 81.2C383.2 83.2 385.9 87.2 385.3 93.5" stroke="#5a4608" stroke-width="0.6" fill="none" stroke-linecap="round"/>
<path d="M363.3 95.1C366.6 96.9 364.7 105.4 372.1 102.0M399.1 92.2C402.5 95.8 406.7 88.8 410.0 93.1M378.9 75.4C383.7 82.4 389.9 69.6 394.8 76.4" stroke="#120d00" stroke-width="3.4" fill="none" stroke-linecap="round"/>
<path d="M363.3 95.1C366.6 96.9 364.7 105.4 372.1 102.0M399.1 92.2C402.5 95.8 406.7 88.8 410.0 93.1M378.9 75.4C383.7 82.4 389.9 69.6 394.8 76.4" stroke="#3a2c04" stroke-width="2.3" fill="none" stroke-linecap="round"/>
<path d="M363.3 95.1C366.6 96.9 364.7 105.4 372.1 102.0M399.1 92.2C402.5 95.8 406.7 88.8 410.0 93.1M378.9 75.4C383.7 82.4 389.9 69.6 394.8 76.4" stroke="#5a4608" stroke-width="0.6" fill="none" stroke-linecap="round"/>
<path d="M382.8 61.0C382.3 66.3 378.9 68.7 374.1 69.6M365.8 93.3C362.6 96.4 367.8 99.8 365.4 102.9M407.8 84.4C412.1 80.1 400.7 78.4 406.1 73.9" stroke="#120d00" stroke-width="3.4" fill="none" stroke-linecap="round"/>
<path d="M382.8 61.0C382.3 66.3 378.9 68.7 374.1 69.6M365.8 93.3C362.6 96.4 367.8 99.8 365.4 102.9M407.8 84.4C412.1 80.1 400.7 78.4 406.1 73.9" stroke="#3a2c04" stroke-width="2.3" fill="none" stroke-linecap="round"/>
<path d="M382.8 61.0C382.3 66.3 378.9 68.7 374.1 69.6M365.8 93.3C362.6 96.4 367.8 99.8 365.4 102.9M407.8 84.4C412.1 80.1 400.7 78.4 406.1 73.9" stroke="#5a4608" stroke-width="0.6" fill="none" stroke-linecap="round"/>
<path d="M349.7 70.6C345.6 63.2 349.9 60.8 356.3 59.7M347.9 46.7C342.8 44.0 343.7 50.6 340.8 51.4M374.9 91.7C373.1 86.6 372.5 81.6 376.4 77.2" stroke="#120d00" stroke-width="3.4" fill="none" stroke-linecap="round"/>
<path d="M349.7 70.6C345.6 63.2 349.9 60.8 356.3 59.7M347.9 46.7C342.8 44.0 343.7 50.6 340.8 51.4M374.9 91.7C373.1 86.6 372.5 81.6 376.4 77.2" stroke="#3a2c04" stroke-width="2.3" fill="none" stroke-linecap="round"/>
<path d="M349.7 70.6C345.6 63.2 349.9 60.8 356.3 59.7M347.9 46.7C342.8 44.0 343.7 50.6 340.8 51.4M374.9 91.7C373.1 86.6 372.5 81.6 376.4 77.2" stroke="#5a4608" stroke-width="0.6" fill="none" stroke-linecap="round"/>
<path d="M367.3 37.3C358.3 32.5 356.7 38.1 356.3 45.3M386.2 88.3C390.0 86.4 393.0 91.4 396.8 89.6M398.7 88.6C394.6 96.9 403.0 97.0 406.4 100.4" stroke="#120d00" stroke-width="3.4" fill="none" stroke-linecap="round"/>
<path d="M367.3 37.3C358.3 32.5 356.7 38.1 356.3 45.3M386.2 88.3C390.0 86.4 393.0 91.4 396.8 89.6M398.7 88.6C394.6 96.9 403.0 97.0 406.4 100.4" stroke="#3a2c04" stroke-width="2.3" fill="none" stroke-linecap="round"/>
<path d="M367.3 37.3C358.3 32.5 356.7 38.1 356.3 45.3M386.2 88.3C390.0 86.4 393.0 91.4 396.8 89.6M398.7 88.6C394.6 96.9 403.0 97.0 406.4 100.4" stroke="#5a4608" stroke-width="0.6" fill="none" stroke-linecap="round"/>
<path d="M364.0 79.0C358.0 91.8 371.4 88.9 375.6 93.5M382.6 55.4C385.7 58.8 388.3 62.8 393.8 61.9M377.0 83.7C375.7 75.1 372.2 72.1 364.7 78.9" stroke="#2a2000" stroke-width="3.6" fill="none" stroke-linecap="round"/>
<path d="M364.0 79.0C358.0 91.8 371.4 88.9 375.6 93.5M382.6 55.4C385.7 58.8 388.3 62.8 393.8 61.9M377.0 83.7C375.7 75.1 372.2 72.1 364.7 78.9" stroke="#d8b21a" stroke-width="2.6" fill="none" stroke-linecap="round"/>
<path d="M364.0 79.0C358.0 91.8 371.4 88.9 375.6 93.5M382.6 55.4C385.7 58.8 388.3 62.8 393.8 61.9M377.0 83.7C375.7 75.1 372.2 72.1 364.7 78.9" stroke="#f6e278" stroke-width="0.8" fill="none" stroke-linecap="round"/>
<path d="M396.5 54.5C390.9 60.2 388.1 57.0 386.1 51.2M407.1 113.3C407.4 107.7 406.0 103.1 399.7 101.8M366.0 86.2C363.0 81.5 367.8 79.6 369.3 76.5" stroke="#2a2000" stroke-width="3.6" fill="none" stroke-linecap="round"/>
<path d="M396.5 54.5C390.9 60.2 388.1 57.0 386.1 51.2M407.1 113.3C407.4 107.7 406.0 103.1 399.7 101.8M366.0 86.2C363.0 81.5 367.8 79.6 369.3 76.5" stroke="#d8b21a" stroke-width="2.6" fill="none" stroke-linecap="round"/>
<path d="M396.5 54.5C390.9 60.2 388.1 57.0 386.1 51.2M407.1 113.3C407.4 107.7 406.0 103.1 399.7 101.8M366.0 86.2C363.0 81.5 367.8 79.6 369.3 76.5" stroke="#f6e278" stroke-width="0.8" fill="none" stroke-linecap="round"/>
<path d="M375.3 60.6C372.3 56.1 363.1 64.9 362.6 54.8M385.6 51.3C391.0 49.1 396.2 46.3 402.3 46.9M382.4 93.8C382.4 87.4 396.2 81.8 383.4 74.8" stroke="#2a2000" stroke-width="3.6" fill="none" stroke-linecap="round"/>
<path d="M375.3 60.6C372.3 56.1 363.1 64.9 362.6 54.8M385.6 51.3C391.0 49.1 396.2 46.3 402.3 46.9M382.4 93.8C382.4 87.4 396.2 81.8 383.4 74.8" stroke="#d8b21a" stroke-width="2.6" fill="none" stroke-linecap="round"/>
<path d="M375.3 60.6C372.3 56.1 363.1 64.9 362.6 54.8M385.6 51.3C391.0 49.1 396.2 46.3 402.3 46.9M382.4 93.8C382.4 87.4 396.2 81.8 383.4 74.8" stroke="#f6e278" stroke-width="0.8" fill="none" stroke-linecap="round"/>
<path d="M397.0 106.7C392.0 108.3 383.8 104.9 384.2 114.9M375.8 81.0C371.6 88.6 368.5 98.5 356.8 89.6M389.3 110.2C394.7 103.8 383.4 99.4 387.4 93.2" stroke="#2a2000" stroke-width="3.6" fill="none" stroke-linecap="round"/>
<path d="M397.0 106.7C392.0 108.3 383.8 104.9 384.2 114.9M375.8 81.0C371.6 88.6 368.5 98.5 356.8 89.6M389.3 110.2C394.7 103.8 383.4 99.4 387.4 93.2" stroke="#d8b21a" stroke-width="2.6" fill="none" stroke-linecap="round"/>
<path d="M397.0 106.7C392.0 108.3 383.8 104.9 384.2 114.9M375.8 81.0C371.6 88.6 368.5 98.5 356.8 89.6M389.3 110.2C394.7 103.8 383.4 99.4 387.4 93.2" stroke="#f6e278" stroke-width="0.8" fill="none" stroke-linecap="round"/>
<path d="M380.4 45.4C383.9 49.1 389.2 51.1 391.3 56.3M360.8 70.9C354.9 75.0 354.4 78.7 361.8 81.6M385.3 107.6C383.1 117.4 370.5 107.8 368.0 116.9" stroke="#2a2000" stroke-width="3.6" fill="none" stroke-linecap="round"/>
<path d="M380.4 45.4C383.9 49.1 389.2 51.1 391.3 56.3M360.8 70.9C354.9 75.0 354.4 78.7 361.8 81.6M385.3 107.6C383.1 117.4 370.5 107.8 368.0 116.9" stroke="#d8b21a" stroke-width="2.6" fill="none" stroke-linecap="round"/>
<path d="M380.4 45.4C383.9 49.1 389.2 51.1 391.3 56.3M360.8 70.9C354.9 75.0 354.4 78.7 361.8 81.6M385.3 107.6C383.1 117.4 370.5 107.8 368.0 116.9" stroke="#f6e278" stroke-width="0.8" fill="none" stroke-linecap="round"/>
<path d="M348.4 81.9C350.5 77.5 353.9 77.2 358.0 78.9M367.0 67.8C360.4 72.0 364.0 59.1 357.9 62.4M360.9 78.9C367.2 75.2 370.6 64.9 380.8 70.1" stroke="#2a2000" stroke-width="3.6" fill="none" stroke-linecap="round"/>
<path d="M348.4 81.9C350.5 77.5 353.9 77.2 358.0 78.9M367.0 67.8C360.4 72.0 364.0 59.1 357.9 62.4M360.9 78.9C367.2 75.2 370.6 64.9 380.8 70.1" stroke="#d8b21a" stroke-width="2.6" fill="none" stroke-linecap="round"/>
<path d="M348.4 81.9C350.5 77.5 353.9 77.2 358.0 78.9M367.0 67.8C360.4 72.0 364.0 59.1 357.9 62.4M360.9 78.9C367.2 75.2 370.6 64.9 380.8 70.1" stroke="#f6e278" stroke-width="0.8" fill="none" stroke-linecap="round"/>
<path d="M360.1 112.0C366.9 114.1 365.1 105.0 369.9 104.5M353.7 89.3C368.3 91.1 369.2 98.0 361.1 108.5M389.4 64.4C398.4 65.4 394.3 48.0 405.9 52.4" stroke="#2a2000" stroke-width="3.6" fill="none" stroke-linecap="round"/>
<path d="M360.1 112.0C366.9 114.1 365.1 105.0 369.9 104.5M353.7 89.3C368.3 91.1 369.2 98.0 361.1 108.5M389.4 64.4C398.4 65.4 394.3 48.0 405.9 52.4" stroke="#d8b21a" stroke-width="2.6" fill="none" stroke-linecap="round"/>
<path d="M360.1 112.0C366.9 114.1 365.1 105.0 369.9 104.5M353.7 89.3C368.3 91.1 369.2 98.0 361.1 108.5M389.4 64.4C398.4 65.4 394.3 48.0 405.9 52.4" stroke="#f6e278" stroke-width="0.8" fill="none" stroke-linecap="round"/>
<path d="M387.3 113.1C385.3 118.4 381.5 118.4 377.0 116.8M388.3 55.3C387.4 60.4 387.2 65.3 393.7 67.0M365.3 91.6C365.3 83.0 370.7 80.5 378.1 80.3" stroke="#2a2000" stroke-width="3.6" fill="none" stroke-linecap="round"/>
<path d="M387.3 113.1C385.3 118.4 381.5 118.4 377.0 116.8M388.3 55.3C387.4 60.4 387.2 65.3 393.7 67.0M365.3 91.6C365.3 83.0 370.7 80.5 378.1 80.3" stroke="#d8b21a" stroke-width="2.6" fill="none" stroke-linecap="round"/>
<path d="M387.3 113.1C385.3 118.4 381.5 118.4 377.0 116.8M388.3 55.3C387.4 60.4 387.2 65.3 393.7 67.0M365.3 91.6C365.3 83.0 370.7 80.5 378.1 80.3" stroke="#f6e278" stroke-width="0.8" fill="none" stroke-linecap="round"/>
<path d="M403.0 92.0C412.0 99.5 389.3 101.6 400.1 109.5M369.9 81.2C366.8 79.1 362.4 83.0 359.6 79.2M357.1 102.7C358.4 109.1 367.2 103.2 368.5 109.6" stroke="#2a2000" stroke-width="3.6" fill="none" stroke-linecap="round"/>
<path d="M403.0 92.0C412.0 99.5 389.3 101.6 400.1 109.5M369.9 81.2C366.8 79.1 362.4 83.0 359.6 79.2M357.1 102.7C358.4 109.1 367.2 103.2 368.5 109.6" stroke="#d8b21a" stroke-width="2.6" fill="none" stroke-linecap="round"/>
<path d="M403.0 92.0C412.0 99.5 389.3 101.6 400.1 109.5M369.9 81.2C366.8 79.1 362.4 83.0 359.6 79.2M357.1 102.7C358.4 109.1 367.2 103.2 368.5 109.6" stroke="#f6e278" stroke-width="0.8" fill="none" stroke-linecap="round"/>
<path d="M359.0 82.8C348.6 94.6 376.9 90.2 367.1 101.9M371.4 98.5C366.1 103.2 367.1 115.0 355.6 112.6M377.8 90.3C368.5 90.4 369.9 99.3 366.4 104.1" stroke="#2a2000" stroke-width="3.6" fill="none" stroke-linecap="round"/>
<path d="M359.0 82.8C348.6 94.6 376.9 90.2 367.1 101.9M371.4 98.5C366.1 103.2 367.1 115.0 355.6 112.6M377.8 90.3C368.5 90.4 369.9 99.3 366.4 104.1" stroke="#d8b21a" stroke-width="2.6" fill="none" stroke-linecap="round"/>
<path d="M359.0 82.8C348.6 94.6 376.9 90.2 367.1 101.9M371.4 98.5C366.1 103.2 367.1 115.0 355.6 112.6M377.8 90.3C368.5 90.4 369.9 99.3 366.4 104.1" stroke="#f6e278" stroke-width="0.8" fill="none" stroke-linecap="round"/>
<path d="M374.4 105.9C381.6 96.9 363.2 99.0 367.9 91.1M393.0 52.9C389.0 51.0 389.4 43.7 383.0 44.8M393.5 101.7C400.1 106.4 392.6 112.4 394.9 117.5" stroke="#2a2000" stroke-width="3.6" fill="none" stroke-linecap="round"/>
<path d="M374.4 105.9C381.6 96.9 363.2 99.0 367.9 91.1M393.0 52.9C389.0 51.0 389.4 43.7 383.0 44.8M393.5 101.7C400.1 106.4 392.6 112.4 394.9 117.5" stroke="#d8b21a" stroke-width="2.6" fill="none" stroke-linecap="round"/>
<path d="M374.4 105.9C381.6 96.9 363.2 99.0 367.9 91.1M393.0 52.9C389.0 51.0 389.4 43.7 383.0 44.8M393.5 101.7C400.1 106.4 392.6 112.4 394.9 117.5" stroke="#f6e278" stroke-width="0.8" fill="none" stroke-linecap="round"/>
<path d="M357.9 102.3C363.2 107.2 369.8 109.5 376.6 111.5M393.8 58.6C403.6 56.9 402.2 63.7 402.2 69.5M382.2 81.0C391.5 87.6 373.6 91.6 380.7 98.0" stroke="#2a2000" stroke-width="3.6" fill="none" stroke-linecap="round"/>
<path d="M357.9 102.3C363.2 107.2 369.8 109.5 376.6 111.5M393.8 58.6C403.6 56.9 402.2 63.7 402.2 69.5M382.2 81.0C391.5 87.6 373.6 91.6 380.7 98.0" stroke="#d8b21a" stroke-width="2.6" fill="none" stroke-linecap="round"/>
<path d="M357.9 102.3C363.2 107.2 369.8 109.5 376.6 111.5M393.8 58.6C403.6 56.9 402.2 63.7 402.2 69.5M382.2 81.0C391.5 87.6 373.6 91.6 380.7 98.0" stroke="#f6e278" stroke-width="0.8" fill="none" stroke-linecap="round"/>
<path d="M351.7 59.9C347.8 69.6 352.0 74.1 361.5 75.3M406.0 43.3C398.8 30.7 393.9 53.6 386.9 44.5M371.0 98.1C373.4 106.0 380.9 93.9 383.5 101.2" stroke="#2a2000" stroke-width="3.6" fill="none" stroke-linecap="round"/>
<path d="M351.7 59.9C347.8 69.6 352.0 74.1 361.5 75.3M406.0 43.3C398.8 30.7 393.9 53.6 386.9 44.5M371.0 98.1C373.4 106.0 380.9 93.9 383.5 101.2" stroke="#d8b21a" stroke-width="2.6" fill="none" stroke-linecap="round"/>
<path d="M351.7 59.9C347.8 69.6 352.0 74.1 361.5 75.3M406.0 43.3C398.8 30.7 393.9 53.6 386.9 44.5M371.0 98.1C373.4 106.0 380.9 93.9 383.5 101.2" stroke="#f6e278" stroke-width="0.8" fill="none" stroke-linecap="round"/>
<path d="M366.7 63.2C366.7 71.2 356.8 59.8 357.0 68.2" stroke="#2a2000" stroke-width="3.6" fill="none" stroke-linecap="round"/>
<path d="M366.7 63.2C366.7 71.2 356.8 59.8 357.0 68.2" stroke="#d8b21a" stroke-width="2.6" fill="none" stroke-linecap="round"/>
<path d="M366.7 63.2C366.7 71.2 356.8 59.8 357.0 68.2" stroke="#f6e278" stroke-width="0.8" fill="none" stroke-linecap="round"/>
</g>
<pattern id="hexp" width="9.300" height="5.369" patternUnits="userSpaceOnUse" patternTransform="rotate(-56)"><rect width="9.300" height="5.369" fill="#fff"/><path d="M0,2.685 L1.550,0 L4.650,0 L6.200,2.685 L4.650,5.369 L1.550,5.369 Z M6.200,2.685 L9.300,2.685" fill="none" stroke="#3a3a3a" stroke-width="0.9"/></pattern>
<pattern id="hexp2" width="12.900" height="7.448" patternUnits="userSpaceOnUse" patternTransform="rotate(-12) scale(0.85 1.2)"><rect width="12.900" height="7.448" fill="#fff"/><path d="M0,3.724 L2.150,0 L6.450,0 L8.600,3.724 L6.450,7.448 L2.150,7.448 Z M8.600,3.724 L12.900,3.724" fill="none" stroke="#383838" stroke-width="1.05"/></pattern>
<path d="M339,251 L395,204.5 L414,252 L375,268 L345,268 Z" fill="url(#hexp)"/>
<ellipse cx="403" cy="230" rx="18.5" ry="26.5" transform="rotate(-12 403 230)" fill="url(#hexp2)" stroke="#888" stroke-width="0.5"/>
<path d="M327.5,271 L327.5,284 C329,292 345,297.5 366,297.5 C387,297.5 403,292 404.5,284 L404.5,271 C393,275 340,275 327.5,271Z" fill="url(#gDish)"/>
<path d="M329,279 C341,287.5 391,287.5 403.5,279" stroke="#dcdcdc" stroke-width="1.3" fill="none"/>
<path d="M330,278 L334,275 L338,273.5 L342,269.5 L347,266 L351,261.5 L356,258.5 L361,256.5 L366,256 L371,257.5 L376,260.5 L381,264 L386,267 L391,270 L396,272.5 L402.5,276.5 C392,284.5 342,285 330,278Z" fill="#0e0e0e"/>
<clipPath id="ovc"><ellipse cx="76" cy="319" rx="61" ry="30.5" transform="rotate(-17 76 319)"/></clipPath>
<filter id="fov" x="0" y="0" width="1" height="1"><feGaussianBlur stdDeviation="0.5"/></filter>
<g clip-path="url(#ovc)"><g filter="url(#fov)">
<rect x="10" y="280" width="135" height="80" fill="#2e2a14"/>
<path d="M29.8 333.8C34.1 330.0 40.5 332.7 44.7 328.9M114.6 320.0C117.1 315.3 122.0 315.5 126.2 314.4M85.3 285.4C89.2 283.1 93.2 281.2 97.9 283.4M139.7 337.6C145.2 333.1 151.1 335.3 157.0 336.3M73.7 289.0C78.5 286.6 83.3 291.3 88.1 289.1M24.5 352.4C28.7 348.6 34.2 347.0 39.1 344.5" stroke="#121008" stroke-width="5.5" fill="none" stroke-linecap="round"/>
<path d="M29.8 333.8C34.1 330.0 40.5 332.7 44.7 328.9M114.6 320.0C117.1 315.3 122.0 315.5 126.2 314.4M85.3 285.4C89.2 283.1 93.2 281.2 97.9 283.4M139.7 337.6C145.2 333.1 151.1 335.3 157.0 336.3M73.7 289.0C78.5 286.6 83.3 291.3 88.1 289.1M24.5 352.4C28.7 348.6 34.2 347.0 39.1 344.5" stroke="#665a2a" stroke-width="4.0" fill="none" stroke-linecap="round"/>
<path d="M29.8 333.8C34.1 330.0 40.5 332.7 44.7 328.9M114.6 320.0C117.1 315.3 122.0 315.5 126.2 314.4M85.3 285.4C89.2 283.1 93.2 281.2 97.9 283.4M139.7 337.6C145.2 333.1 151.1 335.3 157.0 336.3M73.7 289.0C78.5 286.6 83.3 291.3 88.1 289.1M24.5 352.4C28.7 348.6 34.2 347.0 39.1 344.5" stroke="#86783a" stroke-width="1.2" fill="none" stroke-linecap="round"/>
<path d="M32.7 282.9C37.1 284.3 41.0 280.3 45.4 281.8M135.9 349.7C142.3 349.2 148.8 349.4 154.7 346.0M24.2 317.2C28.6 319.3 32.7 318.5 36.5 315.6M62.1 308.5C68.1 309.3 70.2 303.1 74.9 301.5M11.5 287.3C18.6 285.6 25.7 283.8 32.9 282.2M80.7 338.4C85.3 334.9 90.0 331.5 93.6 326.8" stroke="#121008" stroke-width="5.5" fill="none" stroke-linecap="round"/>
<path d="M32.7 282.9C37.1 284.3 41.0 280.3 45.4 281.8M135.9 349.7C142.3 349.2 148.8 349.4 154.7 346.0M24.2 317.2C28.6 319.3 32.7 318.5 36.5 315.6M62.1 308.5C68.1 309.3 70.2 303.1 74.9 301.5M11.5 287.3C18.6 285.6 25.7 283.8 32.9 282.2M80.7 338.4C85.3 334.9 90.0 331.5 93.6 326.8" stroke="#665a2a" stroke-width="4.0" fill="none" stroke-linecap="round"/>
<path d="M32.7 282.9C37.1 284.3 41.0 280.3 45.4 281.8M135.9 349.7C142.3 349.2 148.8 349.4 154.7 346.0M24.2 317.2C28.6 319.3 32.7 318.5 36.5 315.6M62.1 308.5C68.1 309.3 70.2 303.1 74.9 301.5M11.5 287.3C18.6 285.6 25.7 283.8 32.9 282.2M80.7 338.4C85.3 334.9 90.0 331.5 93.6 326.8" stroke="#86783a" stroke-width="1.2" fill="none" stroke-linecap="round"/>
<path d="M31.8 293.3C36.7 287.9 44.0 286.1 49.3 281.3M48.5 288.1C54.8 284.7 55.9 277.1 61.0 272.8M98.2 332.7C105.3 331.4 112.8 337.2 119.7 331.6M134.9 326.1C140.1 324.7 145.3 323.3 150.8 325.0M123.7 292.7C129.9 289.3 131.9 282.4 136.2 277.5M118.5 284.1C121.6 280.8 124.0 276.6 128.9 275.5" stroke="#121008" stroke-width="5.5" fill="none" stroke-linecap="round"/>
<path d="M31.8 293.3C36.7 287.9 44.0 286.1 49.3 281.3M48.5 288.1C54.8 284.7 55.9 277.1 61.0 272.8M98.2 332.7C105.3 331.4 112.8 337.2 119.7 331.6M134.9 326.1C140.1 324.7 145.3 323.3 150.8 325.0M123.7 292.7C129.9 289.3 131.9 282.4 136.2 277.5M118.5 284.1C121.6 280.8 124.0 276.6 128.9 275.5" stroke="#665a2a" stroke-width="4.0" fill="none" stroke-linecap="round"/>
<path d="M31.8 293.3C36.7 287.9 44.0 286.1 49.3 281.3M48.5 288.1C54.8 284.7 55.9 277.1 61.0 272.8M98.2 332.7C105.3 331.4 112.8 337.2 119.7 331.6M134.9 326.1C140.1 324.7 145.3 323.3 150.8 325.0M123.7 292.7C129.9 289.3 131.9 282.4 136.2 277.5M118.5 284.1C121.6 280.8 124.0 276.6 128.9 275.5" stroke="#86783a" stroke-width="1.2" fill="none" stroke-linecap="round"/>
<path d="M17.2 306.4C24.6 308.7 31.7 305.4 38.9 305.3M41.3 354.8C45.2 348.2 51.6 347.2 58.4 347.1M118.7 342.0C124.3 341.0 130.1 341.9 135.8 340.8M120.1 304.0C124.9 303.9 126.9 297.5 132.3 298.6M98.5 354.4C102.9 350.6 107.7 347.1 108.7 340.7M85.1 300.1C93.5 300.1 95.4 289.3 103.5 288.9" stroke="#121008" stroke-width="5.5" fill="none" stroke-linecap="round"/>
<path d="M17.2 306.4C24.6 308.7 31.7 305.4 38.9 305.3M41.3 354.8C45.2 348.2 51.6 347.2 58.4 347.1M118.7 342.0C124.3 341.0 130.1 341.9 135.8 340.8M120.1 304.0C124.9 303.9 126.9 297.5 132.3 298.6M98.5 354.4C102.9 350.6 107.7 347.1 108.7 340.7M85.1 300.1C93.5 300.1 95.4 289.3 103.5 288.9" stroke="#665a2a" stroke-width="4.0" fill="none" stroke-linecap="round"/>
<path d="M17.2 306.4C24.6 308.7 31.7 305.4 38.9 305.3M41.3 354.8C45.2 348.2 51.6 347.2 58.4 347.1M118.7 342.0C124.3 341.0 130.1 341.9 135.8 340.8M120.1 304.0C124.9 303.9 126.9 297.5 132.3 298.6M98.5 354.4C102.9 350.6 107.7 347.1 108.7 340.7M85.1 300.1C93.5 300.1 95.4 289.3 103.5 288.9" stroke="#86783a" stroke-width="1.2" fill="none" stroke-linecap="round"/>
<path d="M20.5 287.3C21.4 281.6 28.9 280.8 29.8 275.1M94.5 289.9C98.7 288.0 102.2 284.4 107.2 284.3M29.9 294.3C35.4 291.4 38.0 284.1 45.5 284.3M101.8 348.2C107.4 342.3 114.6 345.5 121.0 344.8M16.4 339.6C19.2 333.6 26.5 332.2 29.6 326.6M49.4 283.3C54.7 283.2 56.4 277.2 61.0 276.0" stroke="#121008" stroke-width="5.5" fill="none" stroke-linecap="round"/>
<path d="M20.5 287.3C21.4 281.6 28.9 280.8 29.8 275.1M94.5 289.9C98.7 288.0 102.2 284.4 107.2 284.3M29.9 294.3C35.4 291.4 38.0 284.1 45.5 284.3M101.8 348.2C107.4 342.3 114.6 345.5 121.0 344.8M16.4 339.6C19.2 333.6 26.5 332.2 29.6 326.6M49.4 283.3C54.7 283.2 56.4 277.2 61.0 276.0" stroke="#665a2a" stroke-width="4.0" fill="none" stroke-linecap="round"/>
<path d="M20.5 287.3C21.4 281.6 28.9 280.8 29.8 275.1M94.5 289.9C98.7 288.0 102.2 284.4 107.2 284.3M29.9 294.3C35.4 291.4 38.0 284.1 45.5 284.3M101.8 348.2C107.4 342.3 114.6 345.5 121.0 344.8M16.4 339.6C19.2 333.6 26.5 332.2 29.6 326.6M49.4 283.3C54.7 283.2 56.4 277.2 61.0 276.0" stroke="#86783a" stroke-width="1.2" fill="none" stroke-linecap="round"/>
<path d="M74.4 322.8C78.1 323.4 81.9 322.9 85.6 322.8M105.0 355.4C110.0 352.0 115.1 348.6 119.7 344.5M16.4 343.5C21.2 342.4 25.8 347.3 30.7 343.9M22.2 285.9C28.4 282.5 30.2 275.5 34.9 270.7M90.0 281.5C94.9 280.1 99.5 277.7 104.6 276.9M61.0 297.6C62.6 292.4 68.5 290.6 70.4 285.7" stroke="#121008" stroke-width="5.5" fill="none" stroke-linecap="round"/>
<path d="M74.4 322.8C78.1 323.4 81.9 322.9 85.6 322.8M105.0 355.4C110.0 352.0 115.1 348.6 119.7 344.5M16.4 343.5C21.2 342.4 25.8 347.3 30.7 343.9M22.2 285.9C28.4 282.5 30.2 275.5 34.9 270.7M90.0 281.5C94.9 280.1 99.5 277.7 104.6 276.9M61.0 297.6C62.6 292.4 68.5 290.6 70.4 285.7" stroke="#665a2a" stroke-width="4.0" fill="none" stroke-linecap="round"/>
<path d="M74.4 322.8C78.1 323.4 81.9 322.9 85.6 322.8M105.0 355.4C110.0 352.0 115.1 348.6 119.7 344.5M16.4 343.5C21.2 342.4 25.8 347.3 30.7 343.9M22.2 285.9C28.4 282.5 30.2 275.5 34.9 270.7M90.0 281.5C94.9 280.1 99.5 277.7 104.6 276.9M61.0 297.6C62.6 292.4 68.5 290.6 70.4 285.7" stroke="#86783a" stroke-width="1.2" fill="none" stroke-linecap="round"/>
<path d="M115.9 336.5C119.3 333.8 123.4 332.3 127.2 330.4M91.4 355.1C94.8 351.1 99.5 348.2 101.6 343.1M125.5 340.8C132.1 340.3 138.7 340.0 143.7 334.7M100.3 333.3C104.8 327.8 111.7 325.1 116.3 319.7M116.9 355.2C120.3 354.4 123.6 354.5 126.9 355.6M59.6 291.3C62.6 288.9 67.3 290.8 69.7 287.1" stroke="#121008" stroke-width="5.5" fill="none" stroke-linecap="round"/>
<path d="M115.9 336.5C119.3 333.8 123.4 332.3 127.2 330.4M91.4 355.1C94.8 351.1 99.5 348.2 101.6 343.1M125.5 340.8C132.1 340.3 138.7 340.0 143.7 334.7M100.3 333.3C104.8 327.8 111.7 325.1 116.3 319.7M116.9 355.2C120.3 354.4 123.6 354.5 126.9 355.6M59.6 291.3C62.6 288.9 67.3 290.8 69.7 287.1" stroke="#665a2a" stroke-width="4.0" fill="none" stroke-linecap="round"/>
<path d="M115.9 336.5C119.3 333.8 123.4 332.3 127.2 330.4M91.4 355.1C94.8 351.1 99.5 348.2 101.6 343.1M125.5 340.8C132.1 340.3 138.7 340.0 143.7 334.7M100.3 333.3C104.8 327.8 111.7 325.1 116.3 319.7M116.9 355.2C120.3 354.4 123.6 354.5 126.9 355.6M59.6 291.3C62.6 288.9 67.3 290.8 69.7 287.1" stroke="#86783a" stroke-width="1.2" fill="none" stroke-linecap="round"/>
<path d="M106.0 316.1C112.4 312.2 113.2 303.3 120.3 300.0M52.3 330.0C57.3 331.7 60.4 326.6 64.9 326.6M41.6 345.9C43.8 339.7 50.7 337.9 54.3 332.9M44.6 309.6C49.8 309.0 55.0 310.4 60.2 309.4M45.0 293.6C47.7 289.5 54.1 291.4 56.2 286.5M12.5 343.2C18.6 338.7 24.8 343.0 31.0 342.9" stroke="#121008" stroke-width="5.5" fill="none" stroke-linecap="round"/>
<path d="M106.0 316.1C112.4 312.2 113.2 303.3 120.3 300.0M52.3 330.0C57.3 331.7 60.4 326.6 64.9 326.6M41.6 345.9C43.8 339.7 50.7 337.9 54.3 332.9M44.6 309.6C49.8 309.0 55.0 310.4 60.2 309.4M45.0 293.6C47.7 289.5 54.1 291.4 56.2 286.5M12.5 343.2C18.6 338.7 24.8 343.0 31.0 342.9" stroke="#665a2a" stroke-width="4.0" fill="none" stroke-linecap="round"/>
<path d="M106.0 316.1C112.4 312.2 113.2 303.3 120.3 300.0M52.3 330.0C57.3 331.7 60.4 326.6 64.9 326.6M41.6 345.9C43.8 339.7 50.7 337.9 54.3 332.9M44.6 309.6C49.8 309.0 55.0 310.4 60.2 309.4M45.0 293.6C47.7 289.5 54.1 291.4 56.2 286.5M12.5 343.2C18.6 338.7 24.8 343.0 31.0 342.9" stroke="#86783a" stroke-width="1.2" fill="none" stroke-linecap="round"/>
<path d="M13.2 327.4C16.6 323.3 21.6 325.6 25.7 324.2M20.5 304.1C25.9 299.6 30.8 294.2 38.7 294.2M112.5 344.1C115.1 341.2 118.7 340.8 122.2 339.8M80.9 297.6C88.1 300.8 94.7 299.4 100.8 294.6M10.3 325.4C16.8 321.8 21.3 316.5 23.7 309.5M32.9 284.7C38.7 284.9 44.2 282.9 50.0 282.3" stroke="#121008" stroke-width="5.5" fill="none" stroke-linecap="round"/>
<path d="M13.2 327.4C16.6 323.3 21.6 325.6 25.7 324.2M20.5 304.1C25.9 299.6 30.8 294.2 38.7 294.2M112.5 344.1C115.1 341.2 118.7 340.8 122.2 339.8M80.9 297.6C88.1 300.8 94.7 299.4 100.8 294.6M10.3 325.4C16.8 321.8 21.3 316.5 23.7 309.5M32.9 284.7C38.7 284.9 44.2 282.9 50.0 282.3" stroke="#665a2a" stroke-width="4.0" fill="none" stroke-linecap="round"/>
<path d="M13.2 327.4C16.6 323.3 21.6 325.6 25.7 324.2M20.5 304.1C25.9 299.6 30.8 294.2 38.7 294.2M112.5 344.1C115.1 341.2 118.7 340.8 122.2 339.8M80.9 297.6C88.1 300.8 94.7 299.4 100.8 294.6M10.3 325.4C16.8 321.8 21.3 316.5 23.7 309.5M32.9 284.7C38.7 284.9 44.2 282.9 50.0 282.3" stroke="#86783a" stroke-width="1.2" fill="none" stroke-linecap="round"/>
<path d="M113.6 306.4C116.4 302.3 121.6 301.1 124.7 297.4M125.5 285.5C130.0 282.3 130.4 275.6 135.8 273.1M43.6 284.6C48.0 281.3 51.1 276.9 53.4 272.0M28.9 288.1C34.4 287.3 39.9 289.5 45.3 287.8M104.1 320.9C106.2 314.0 109.1 307.8 116.9 305.7M54.5 321.5C58.7 321.5 62.1 319.0 66.0 317.7" stroke="#121008" stroke-width="5.5" fill="none" stroke-linecap="round"/>
<path d="M113.6 306.4C116.4 302.3 121.6 301.1 124.7 297.4M125.5 285.5C130.0 282.3 130.4 275.6 135.8 273.1M43.6 284.6C48.0 281.3 51.1 276.9 53.4 272.0M28.9 288.1C34.4 287.3 39.9 289.5 45.3 287.8M104.1 320.9C106.2 314.0 109.1 307.8 116.9 305.7M54.5 321.5C58.7 321.5 62.1 319.0 66.0 317.7" stroke="#665a2a" stroke-width="4.0" fill="none" stroke-linecap="round"/>
<path d="M113.6 306.4C116.4 302.3 121.6 301.1 124.7 297.4M125.5 285.5C130.0 282.3 130.4 275.6 135.8 273.1M43.6 284.6C48.0 281.3 51.1 276.9 53.4 272.0M28.9 288.1C34.4 287.3 39.9 289.5 45.3 287.8M104.1 320.9C106.2 314.0 109.1 307.8 116.9 305.7M54.5 321.5C58.7 321.5 62.1 319.0 66.0 317.7" stroke="#86783a" stroke-width="1.2" fill="none" stroke-linecap="round"/>
<path d="M29.4 346.4C36.5 347.2 42.7 341.5 50.0 343.4M110.7 350.4C119.0 352.1 122.9 343.7 129.8 342.0M132.3 353.1C135.5 351.8 139.1 352.6 142.3 351.5M88.1 338.9C92.7 340.2 95.8 336.8 99.5 335.4M124.4 296.1C129.8 298.7 135.4 298.7 141.0 296.9M124.5 308.3C125.9 302.9 131.2 300.9 134.1 296.9" stroke="#121008" stroke-width="5.5" fill="none" stroke-linecap="round"/>
<path d="M29.4 346.4C36.5 347.2 42.7 341.5 50.0 343.4M110.7 350.4C119.0 352.1 122.9 343.7 129.8 342.0M132.3 353.1C135.5 351.8 139.1 352.6 142.3 351.5M88.1 338.9C92.7 340.2 95.8 336.8 99.5 335.4M124.4 296.1C129.8 298.7 135.4 298.7 141.0 296.9M124.5 308.3C125.9 302.9 131.2 300.9 134.1 296.9" stroke="#665a2a" stroke-width="4.0" fill="none" stroke-linecap="round"/>
<path d="M29.4 346.4C36.5 347.2 42.7 341.5 50.0 343.4M110.7 350.4C119.0 352.1 122.9 343.7 129.8 342.0M132.3 353.1C135.5 351.8 139.1 352.6 142.3 351.5M88.1 338.9C92.7 340.2 95.8 336.8 99.5 335.4M124.4 296.1C129.8 298.7 135.4 298.7 141.0 296.9M124.5 308.3C125.9 302.9 131.2 300.9 134.1 296.9" stroke="#86783a" stroke-width="1.2" fill="none" stroke-linecap="round"/>
<path d="M115.6 308.3C117.6 305.5 120.6 303.5 122.6 300.7M11.5 331.9C15.9 331.2 17.1 326.9 19.8 324.3M126.1 320.1C128.7 316.6 132.6 314.4 134.9 310.6M109.8 338.6C113.8 336.9 117.8 335.3 122.2 334.8M72.6 300.7C75.9 295.3 83.1 298.9 86.8 294.5M85.4 342.6C92.5 345.8 97.4 338.8 103.8 338.6" stroke="#121008" stroke-width="5.5" fill="none" stroke-linecap="round"/>
<path d="M115.6 308.3C117.6 305.5 120.6 303.5 122.6 300.7M11.5 331.9C15.9 331.2 17.1 326.9 19.8 324.3M126.1 320.1C128.7 316.6 132.6 314.4 134.9 310.6M109.8 338.6C113.8 336.9 117.8 335.3 122.2 334.8M72.6 300.7C75.9 295.3 83.1 298.9 86.8 294.5M85.4 342.6C92.5 345.8 97.4 338.8 103.8 338.6" stroke="#665a2a" stroke-width="4.0" fill="none" stroke-linecap="round"/>
<path d="M115.6 308.3C117.6 305.5 120.6 303.5 122.6 300.7M11.5 331.9C15.9 331.2 17.1 326.9 19.8 324.3M126.1 320.1C128.7 316.6 132.6 314.4 134.9 310.6M109.8 338.6C113.8 336.9 117.8 335.3 122.2 334.8M72.6 300.7C75.9 295.3 83.1 298.9 86.8 294.5M85.4 342.6C92.5 345.8 97.4 338.8 103.8 338.6" stroke="#86783a" stroke-width="1.2" fill="none" stroke-linecap="round"/>
<path d="M60.0 280.3C65.6 279.3 72.0 281.2 76.2 275.5M34.0 297.7C40.4 296.2 45.9 290.6 53.3 293.5M56.9 344.5C61.2 341.4 66.7 340.8 70.9 337.7M87.0 334.1C93.2 332.3 99.4 330.6 105.9 332.4M111.2 341.8C115.4 343.9 119.5 344.1 123.6 341.6M18.2 304.0C22.5 304.7 25.2 300.3 29.4 300.4" stroke="#121008" stroke-width="5.5" fill="none" stroke-linecap="round"/>
<path d="M60.0 280.3C65.6 279.3 72.0 281.2 76.2 275.5M34.0 297.7C40.4 296.2 45.9 290.6 53.3 293.5M56.9 344.5C61.2 341.4 66.7 340.8 70.9 337.7M87.0 334.1C93.2 332.3 99.4 330.6 105.9 332.4M111.2 341.8C115.4 343.9 119.5 344.1 123.6 341.6M18.2 304.0C22.5 304.7 25.2 300.3 29.4 300.4" stroke="#665a2a" stroke-width="4.0" fill="none" stroke-linecap="round"/>
<path d="M60.0 280.3C65.6 279.3 72.0 281.2 76.2 275.5M34.0 297.7C40.4 296.2 45.9 290.6 53.3 293.5M56.9 344.5C61.2 341.4 66.7 340.8 70.9 337.7M87.0 334.1C93.2 332.3 99.4 330.6 105.9 332.4M111.2 341.8C115.4 343.9 119.5 344.1 123.6 341.6M18.2 304.0C22.5 304.7 25.2 300.3 29.4 300.4" stroke="#86783a" stroke-width="1.2" fill="none" stroke-linecap="round"/>
<path d="M98.1 303.1C101.2 300.3 105.2 298.5 107.4 294.7M36.8 333.5C40.9 329.2 44.9 324.5 51.3 323.3M26.6 284.5C30.7 280.5 37.0 284.8 41.1 280.7M94.4 281.7C99.9 279.9 105.6 279.1 111.1 277.8M135.0 309.2C140.2 306.2 145.8 304.2 151.8 303.7M107.7 329.6C111.3 325.1 118.3 326.5 121.9 321.9" stroke="#121008" stroke-width="5.5" fill="none" stroke-linecap="round"/>
<path d="M98.1 303.1C101.2 300.3 105.2 298.5 107.4 294.7M36.8 333.5C40.9 329.2 44.9 324.5 51.3 323.3M26.6 284.5C30.7 280.5 37.0 284.8 41.1 280.7M94.4 281.7C99.9 279.9 105.6 279.1 111.1 277.8M135.0 309.2C140.2 306.2 145.8 304.2 151.8 303.7M107.7 329.6C111.3 325.1 118.3 326.5 121.9 321.9" stroke="#665a2a" stroke-width="4.0" fill="none" stroke-linecap="round"/>
<path d="M98.1 303.1C101.2 300.3 105.2 298.5 107.4 294.7M36.8 333.5C40.9 329.2 44.9 324.5 51.3 323.3M26.6 284.5C30.7 280.5 37.0 284.8 41.1 280.7M94.4 281.7C99.9 279.9 105.6 279.1 111.1 277.8M135.0 309.2C140.2 306.2 145.8 304.2 151.8 303.7M107.7 329.6C111.3 325.1 118.3 326.5 121.9 321.9" stroke="#86783a" stroke-width="1.2" fill="none" stroke-linecap="round"/>
<path d="M10.6 330.2C14.6 328.6 18.3 326.6 21.8 324.2M19.5 318.2C22.9 312.4 27.5 307.8 33.3 304.4M36.4 283.8C39.8 281.6 43.5 279.8 45.0 275.6M37.2 288.7C40.4 286.7 44.7 287.0 47.6 284.1M34.8 334.6C37.6 331.8 41.8 332.1 44.9 330.2M20.7 295.9C26.9 293.7 33.6 292.6 39.2 288.7" stroke="#121008" stroke-width="5.5" fill="none" stroke-linecap="round"/>
<path d="M10.6 330.2C14.6 328.6 18.3 326.6 21.8 324.2M19.5 318.2C22.9 312.4 27.5 307.8 33.3 304.4M36.4 283.8C39.8 281.6 43.5 279.8 45.0 275.6M37.2 288.7C40.4 286.7 44.7 287.0 47.6 284.1M34.8 334.6C37.6 331.8 41.8 332.1 44.9 330.2M20.7 295.9C26.9 293.7 33.6 292.6 39.2 288.7" stroke="#665a2a" stroke-width="4.0" fill="none" stroke-linecap="round"/>
<path d="M10.6 330.2C14.6 328.6 18.3 326.6 21.8 324.2M19.5 318.2C22.9 312.4 27.5 307.8 33.3 304.4M36.4 283.8C39.8 281.6 43.5 279.8 45.0 275.6M37.2 288.7C40.4 286.7 44.7 287.0 47.6 284.1M34.8 334.6C37.6 331.8 41.8 332.1 44.9 330.2M20.7 295.9C26.9 293.7 33.6 292.6 39.2 288.7" stroke="#86783a" stroke-width="1.2" fill="none" stroke-linecap="round"/>
<path d="M9.2 303.6C14.0 298.3 22.2 297.8 26.1 291.2M12.5 318.9C19.0 319.3 25.2 315.1 31.8 317.8M130.3 286.2C136.7 288.4 143.1 286.7 149.6 286.5M29.6 306.6C35.1 304.0 41.8 305.8 46.8 301.5M15.1 302.4C19.6 300.2 22.4 296.5 24.1 291.9M27.7 304.1C31.3 299.3 33.9 293.6 39.7 290.7" stroke="#121008" stroke-width="5.5" fill="none" stroke-linecap="round"/>
<path d="M9.2 303.6C14.0 298.3 22.2 297.8 26.1 291.2M12.5 318.9C19.0 319.3 25.2 315.1 31.8 317.8M130.3 286.2C136.7 288.4 143.1 286.7 149.6 286.5M29.6 306.6C35.1 304.0 41.8 305.8 46.8 301.5M15.1 302.4C19.6 300.2 22.4 296.5 24.1 291.9M27.7 304.1C31.3 299.3 33.9 293.6 39.7 290.7" stroke="#665a2a" stroke-width="4.0" fill="none" stroke-linecap="round"/>
<path d="M9.2 303.6C14.0 298.3 22.2 297.8 26.1 291.2M12.5 318.9C19.0 319.3 25.2 315.1 31.8 317.8M130.3 286.2C136.7 288.4 143.1 286.7 149.6 286.5M29.6 306.6C35.1 304.0 41.8 305.8 46.8 301.5M15.1 302.4C19.6 300.2 22.4 296.5 24.1 291.9M27.7 304.1C31.3 299.3 33.9 293.6 39.7 290.7" stroke="#86783a" stroke-width="1.2" fill="none" stroke-linecap="round"/>
<path d="M57.4 347.5C63.3 345.4 67.8 341.2 73.2 338.3M81.4 308.4C84.3 303.6 88.3 300.1 93.1 297.5M32.6 351.2C34.7 346.7 38.9 345.6 43.4 345.0M122.6 306.3C127.0 306.0 130.7 303.6 134.9 302.7M105.2 321.2C109.3 319.3 113.9 318.2 116.4 314.0M99.3 317.4C107.0 316.3 108.4 306.4 116.1 305.4" stroke="#121008" stroke-width="5.5" fill="none" stroke-linecap="round"/>
<path d="M57.4 347.5C63.3 345.4 67.8 341.2 73.2 338.3M81.4 308.4C84.3 303.6 88.3 300.1 93.1 297.5M32.6 351.2C34.7 346.7 38.9 345.6 43.4 345.0M122.6 306.3C127.0 306.0 130.7 303.6 134.9 302.7M105.2 321.2C109.3 319.3 113.9 318.2 116.4 314.0M99.3 317.4C107.0 316.3 108.4 306.4 116.1 305.4" stroke="#665a2a" stroke-width="4.0" fill="none" stroke-linecap="round"/>
<path d="M57.4 347.5C63.3 345.4 67.8 341.2 73.2 338.3M81.4 308.4C84.3 303.6 88.3 300.1 93.1 297.5M32.6 351.2C34.7 346.7 38.9 345.6 43.4 345.0M122.6 306.3C127.0 306.0 130.7 303.6 134.9 302.7M105.2 321.2C109.3 319.3 113.9 318.2 116.4 314.0M99.3 317.4C107.0 316.3 108.4 306.4 116.1 305.4" stroke="#86783a" stroke-width="1.2" fill="none" stroke-linecap="round"/>
<path d="M97.7 340.2C105.7 342.2 110.8 333.7 118.4 334.4M139.6 305.6C143.7 298.6 151.1 296.8 157.9 293.8M90.6 301.3C96.4 298.0 102.2 294.9 105.8 289.0M112.3 348.0C119.2 352.4 125.5 347.3 132.1 346.9M100.6 320.1C106.6 319.6 112.5 321.8 118.5 320.4M46.9 290.1C48.7 285.6 52.2 283.9 56.8 283.9" stroke="#121008" stroke-width="5.5" fill="none" stroke-linecap="round"/>
<path d="M97.7 340.2C105.7 342.2 110.8 333.7 118.4 334.4M139.6 305.6C143.7 298.6 151.1 296.8 157.9 293.8M90.6 301.3C96.4 298.0 102.2 294.9 105.8 289.0M112.3 348.0C119.2 352.4 125.5 347.3 132.1 346.9M100.6 320.1C106.6 319.6 112.5 321.8 118.5 320.4M46.9 290.1C48.7 285.6 52.2 283.9 56.8 283.9" stroke="#665a2a" stroke-width="4.0" fill="none" stroke-linecap="round"/>
<path d="M97.7 340.2C105.7 342.2 110.8 333.7 118.4 334.4M139.6 305.6C143.7 298.6 151.1 296.8 157.9 293.8M90.6 301.3C96.4 298.0 102.2 294.9 105.8 289.0M112.3 348.0C119.2 352.4 125.5 347.3 132.1 346.9M100.6 320.1C106.6 319.6 112.5 321.8 118.5 320.4M46.9 290.1C48.7 285.6 52.2 283.9 56.8 283.9" stroke="#86783a" stroke-width="1.2" fill="none" stroke-linecap="round"/>
<path d="M68.0 339.5C68.9 332.8 75.3 330.4 78.9 325.7M47.0 314.8C51.7 312.8 57.1 314.1 61.6 311.3" stroke="#121008" stroke-width="5.5" fill="none" stroke-linecap="round"/>
<path d="M68.0 339.5C68.9 332.8 75.3 330.4 78.9 325.7M47.0 314.8C51.7 312.8 57.1 314.1 61.6 311.3" stroke="#665a2a" stroke-width="4.0" fill="none" stroke-linecap="round"/>
<path d="M68.0 339.5C68.9 332.8 75.3 330.4 78.9 325.7M47.0 314.8C51.7 312.8 57.1 314.1 61.6 311.3" stroke="#86783a" stroke-width="1.2" fill="none" stroke-linecap="round"/>
<path d="M23.3 307.2C29.5 309.7 33.4 302.6 39.1 303.2M90.5 304.4C95.1 300.1 100.9 300.5 106.5 300.3M131.6 307.5C136.1 304.1 142.6 306.3 147.0 302.4M8.5 306.6C10.0 302.7 12.0 299.2 16.6 298.5M114.0 293.5C119.1 294.1 123.3 292.4 126.6 288.6M90.1 293.2C93.4 294.5 95.8 291.2 98.9 291.5" stroke="#16140a" stroke-width="4.6" fill="none" stroke-linecap="round"/>
<path d="M23.3 307.2C29.5 309.7 33.4 302.6 39.1 303.2M90.5 304.4C95.1 300.1 100.9 300.5 106.5 300.3M131.6 307.5C136.1 304.1 142.6 306.3 147.0 302.4M8.5 306.6C10.0 302.7 12.0 299.2 16.6 298.5M114.0 293.5C119.1 294.1 123.3 292.4 126.6 288.6M90.1 293.2C93.4 294.5 95.8 291.2 98.9 291.5" stroke="#978540" stroke-width="3.2" fill="none" stroke-linecap="round"/>
<path d="M23.3 307.2C29.5 309.7 33.4 302.6 39.1 303.2M90.5 304.4C95.1 300.1 100.9 300.5 106.5 300.3M131.6 307.5C136.1 304.1 142.6 306.3 147.0 302.4M8.5 306.6C10.0 302.7 12.0 299.2 16.6 298.5M114.0 293.5C119.1 294.1 123.3 292.4 126.6 288.6M90.1 293.2C93.4 294.5 95.8 291.2 98.9 291.5" stroke="#c8b466" stroke-width="1.0" fill="none" stroke-linecap="round"/>
<path d="M41.4 296.9C47.4 296.5 51.4 293.0 54.9 288.5M104.3 299.0C107.0 296.6 111.4 296.4 113.2 292.5M139.5 286.5C145.2 286.3 150.9 288.4 156.6 286.8M111.6 294.6C118.3 295.8 124.0 294.1 128.4 288.7M19.2 335.7C23.0 330.6 29.6 331.0 34.5 328.1M23.9 342.7C26.4 341.3 29.0 340.0 32.0 340.9" stroke="#16140a" stroke-width="4.6" fill="none" stroke-linecap="round"/>
<path d="M41.4 296.9C47.4 296.5 51.4 293.0 54.9 288.5M104.3 299.0C107.0 296.6 111.4 296.4 113.2 292.5M139.5 286.5C145.2 286.3 150.9 288.4 156.6 286.8M111.6 294.6C118.3 295.8 124.0 294.1 128.4 288.7M19.2 335.7C23.0 330.6 29.6 331.0 34.5 328.1M23.9 342.7C26.4 341.3 29.0 340.0 32.0 340.9" stroke="#978540" stroke-width="3.2" fill="none" stroke-linecap="round"/>
<path d="M41.4 296.9C47.4 296.5 51.4 293.0 54.9 288.5M104.3 299.0C107.0 296.6 111.4 296.4 113.2 292.5M139.5 286.5C145.2 286.3 150.9 288.4 156.6 286.8M111.6 294.6C118.3 295.8 124.0 294.1 128.4 288.7M19.2 335.7C23.0 330.6 29.6 331.0 34.5 328.1M23.9 342.7C26.4 341.3 29.0 340.0 32.0 340.9" stroke="#c8b466" stroke-width="1.0" fill="none" stroke-linecap="round"/>
<path d="M91.9 329.1C98.7 327.2 98.8 319.8 102.9 315.6M83.8 308.3C87.4 306.7 91.8 307.1 95.1 304.3M32.6 303.3C35.6 300.5 39.7 304.1 42.7 301.4M29.1 312.1C31.4 309.3 34.9 308.0 37.6 305.8M23.3 321.6C24.1 318.5 26.1 316.3 28.8 314.7M53.1 302.7C57.9 302.0 63.0 303.6 67.6 301.1" stroke="#16140a" stroke-width="4.6" fill="none" stroke-linecap="round"/>
<path d="M91.9 329.1C98.7 327.2 98.8 319.8 102.9 315.6M83.8 308.3C87.4 306.7 91.8 307.1 95.1 304.3M32.6 303.3C35.6 300.5 39.7 304.1 42.7 301.4M29.1 312.1C31.4 309.3 34.9 308.0 37.6 305.8M23.3 321.6C24.1 318.5 26.1 316.3 28.8 314.7M53.1 302.7C57.9 302.0 63.0 303.6 67.6 301.1" stroke="#978540" stroke-width="3.2" fill="none" stroke-linecap="round"/>
<path d="M91.9 329.1C98.7 327.2 98.8 319.8 102.9 315.6M83.8 308.3C87.4 306.7 91.8 307.1 95.1 304.3M32.6 303.3C35.6 300.5 39.7 304.1 42.7 301.4M29.1 312.1C31.4 309.3 34.9 308.0 37.6 305.8M23.3 321.6C24.1 318.5 26.1 316.3 28.8 314.7M53.1 302.7C57.9 302.0 63.0 303.6 67.6 301.1" stroke="#c8b466" stroke-width="1.0" fill="none" stroke-linecap="round"/>
<path d="M98.5 304.6C103.5 303.2 108.9 303.1 113.1 299.5M91.5 352.4C97.5 352.0 99.3 346.3 102.9 343.1M127.5 287.4C131.3 287.9 134.3 285.4 137.9 285.0M78.6 299.4C83.7 296.8 87.9 293.1 91.4 288.7M23.3 302.9C26.6 303.1 29.9 304.0 33.3 303.0M75.4 323.2C80.7 321.3 85.9 322.9 91.2 323.6" stroke="#16140a" stroke-width="4.6" fill="none" stroke-linecap="round"/>
<path d="M98.5 304.6C103.5 303.2 108.9 303.1 113.1 299.5M91.5 352.4C97.5 352.0 99.3 346.3 102.9 343.1M127.5 287.4C131.3 287.9 134.3 285.4 137.9 285.0M78.6 299.4C83.7 296.8 87.9 293.1 91.4 288.7M23.3 302.9C26.6 303.1 29.9 304.0 33.3 303.0M75.4 323.2C80.7 321.3 85.9 322.9 91.2 323.6" stroke="#978540" stroke-width="3.2" fill="none" stroke-linecap="round"/>
<path d="M98.5 304.6C103.5 303.2 108.9 303.1 113.1 299.5M91.5 352.4C97.5 352.0 99.3 346.3 102.9 343.1M127.5 287.4C131.3 287.9 134.3 285.4 137.9 285.0M78.6 299.4C83.7 296.8 87.9 293.1 91.4 288.7M23.3 302.9C26.6 303.1 29.9 304.0 33.3 303.0M75.4 323.2C80.7 321.3 85.9 322.9 91.2 323.6" stroke="#c8b466" stroke-width="1.0" fill="none" stroke-linecap="round"/>
<path d="M63.4 333.3C67.1 333.4 70.1 331.1 73.6 330.5M10.0 302.8C13.3 301.7 16.9 301.2 18.4 297.4M131.0 329.1C135.3 329.3 139.8 330.8 143.8 327.9M15.9 308.3C18.8 305.8 20.9 302.0 25.4 302.0M97.6 354.6C99.6 351.9 103.6 351.4 105.1 348.2M37.9 340.1C42.3 338.0 45.4 334.5 47.8 330.3" stroke="#16140a" stroke-width="4.6" fill="none" stroke-linecap="round"/>
<path d="M63.4 333.3C67.1 333.4 70.1 331.1 73.6 330.5M10.0 302.8C13.3 301.7 16.9 301.2 18.4 297.4M131.0 329.1C135.3 329.3 139.8 330.8 143.8 327.9M15.9 308.3C18.8 305.8 20.9 302.0 25.4 302.0M97.6 354.6C99.6 351.9 103.6 351.4 105.1 348.2M37.9 340.1C42.3 338.0 45.4 334.5 47.8 330.3" stroke="#978540" stroke-width="3.2" fill="none" stroke-linecap="round"/>
<path d="M63.4 333.3C67.1 333.4 70.1 331.1 73.6 330.5M10.0 302.8C13.3 301.7 16.9 301.2 18.4 297.4M131.0 329.1C135.3 329.3 139.8 330.8 143.8 327.9M15.9 308.3C18.8 305.8 20.9 302.0 25.4 302.0M97.6 354.6C99.6 351.9 103.6 351.4 105.1 348.2M37.9 340.1C42.3 338.0 45.4 334.5 47.8 330.3" stroke="#c8b466" stroke-width="1.0" fill="none" stroke-linecap="round"/>
<path d="M19.1 354.6C23.6 356.5 27.7 354.4 31.9 353.3M30.3 311.0C34.1 307.5 38.3 307.8 42.8 309.3M32.6 325.7C36.4 323.9 41.4 326.0 44.5 321.9M53.3 332.4C55.1 327.9 58.0 324.6 62.9 323.5M52.4 289.0C56.7 286.7 61.8 285.6 64.7 281.1M71.0 286.6C75.2 287.1 79.4 287.6 82.7 283.9" stroke="#16140a" stroke-width="4.6" fill="none" stroke-linecap="round"/>
<path d="M19.1 354.6C23.6 356.5 27.7 354.4 31.9 353.3M30.3 311.0C34.1 307.5 38.3 307.8 42.8 309.3M32.6 325.7C36.4 323.9 41.4 326.0 44.5 321.9M53.3 332.4C55.1 327.9 58.0 324.6 62.9 323.5M52.4 289.0C56.7 286.7 61.8 285.6 64.7 281.1M71.0 286.6C75.2 287.1 79.4 287.6 82.7 283.9" stroke="#978540" stroke-width="3.2" fill="none" stroke-linecap="round"/>
<path d="M19.1 354.6C23.6 356.5 27.7 354.4 31.9 353.3M30.3 311.0C34.1 307.5 38.3 307.8 42.8 309.3M32.6 325.7C36.4 323.9 41.4 326.0 44.5 321.9M53.3 332.4C55.1 327.9 58.0 324.6 62.9 323.5M52.4 289.0C56.7 286.7 61.8 285.6 64.7 281.1M71.0 286.6C75.2 287.1 79.4 287.6 82.7 283.9" stroke="#c8b466" stroke-width="1.0" fill="none" stroke-linecap="round"/>
<path d="M77.2 299.5C80.1 296.1 82.9 292.6 88.0 292.3M60.6 331.2C66.2 333.5 71.2 332.1 76.1 329.1M62.3 330.3C66.9 327.1 67.5 320.8 72.3 317.8M70.3 301.2C74.6 302.3 78.8 302.5 82.5 299.3M110.7 309.6C117.4 309.2 118.7 300.8 125.0 299.7M55.8 341.5C59.3 340.5 63.4 342.5 66.4 339.4" stroke="#16140a" stroke-width="4.6" fill="none" stroke-linecap="round"/>
<path d="M77.2 299.5C80.1 296.1 82.9 292.6 88.0 292.3M60.6 331.2C66.2 333.5 71.2 332.1 76.1 329.1M62.3 330.3C66.9 327.1 67.5 320.8 72.3 317.8M70.3 301.2C74.6 302.3 78.8 302.5 82.5 299.3M110.7 309.6C117.4 309.2 118.7 300.8 125.0 299.7M55.8 341.5C59.3 340.5 63.4 342.5 66.4 339.4" stroke="#978540" stroke-width="3.2" fill="none" stroke-linecap="round"/>
<path d="M77.2 299.5C80.1 296.1 82.9 292.6 88.0 292.3M60.6 331.2C66.2 333.5 71.2 332.1 76.1 329.1M62.3 330.3C66.9 327.1 67.5 320.8 72.3 317.8M70.3 301.2C74.6 302.3 78.8 302.5 82.5 299.3M110.7 309.6C117.4 309.2 118.7 300.8 125.0 299.7M55.8 341.5C59.3 340.5 63.4 342.5 66.4 339.4" stroke="#c8b466" stroke-width="1.0" fill="none" stroke-linecap="round"/>
<path d="M19.9 301.4C26.4 303.4 30.8 297.9 36.3 296.6M112.3 355.8C114.4 352.8 118.7 353.0 120.7 349.9M26.4 322.6C29.8 323.2 33.1 322.7 36.4 322.4M135.6 320.1C141.6 319.5 144.4 312.3 150.8 312.5M114.1 311.1C120.0 311.2 125.9 310.6 131.7 311.5M38.0 301.5C41.1 300.2 41.2 295.6 45.1 295.0" stroke="#16140a" stroke-width="4.6" fill="none" stroke-linecap="round"/>
<path d="M19.9 301.4C26.4 303.4 30.8 297.9 36.3 296.6M112.3 355.8C114.4 352.8 118.7 353.0 120.7 349.9M26.4 322.6C29.8 323.2 33.1 322.7 36.4 322.4M135.6 320.1C141.6 319.5 144.4 312.3 150.8 312.5M114.1 311.1C120.0 311.2 125.9 310.6 131.7 311.5M38.0 301.5C41.1 300.2 41.2 295.6 45.1 295.0" stroke="#978540" stroke-width="3.2" fill="none" stroke-linecap="round"/>
<path d="M19.9 301.4C26.4 303.4 30.8 297.9 36.3 296.6M112.3 355.8C114.4 352.8 118.7 353.0 120.7 349.9M26.4 322.6C29.8 323.2 33.1 322.7 36.4 322.4M135.6 320.1C141.6 319.5 144.4 312.3 150.8 312.5M114.1 311.1C120.0 311.2 125.9 310.6 131.7 311.5M38.0 301.5C41.1 300.2 41.2 295.6 45.1 295.0" stroke="#c8b466" stroke-width="1.0" fill="none" stroke-linecap="round"/>
<path d="M87.0 326.6C92.1 328.5 95.6 323.2 100.4 323.7M20.3 325.4C27.3 324.6 30.6 319.2 34.2 314.2M118.0 299.1C121.2 296.5 124.8 294.9 128.6 293.8M71.1 331.0C71.8 325.9 78.9 325.8 79.1 320.3M80.8 326.0C85.8 324.3 90.7 322.5 93.0 317.0M84.6 301.0C87.7 301.1 89.8 298.5 92.7 298.4" stroke="#16140a" stroke-width="4.6" fill="none" stroke-linecap="round"/>
<path d="M87.0 326.6C92.1 328.5 95.6 323.2 100.4 323.7M20.3 325.4C27.3 324.6 30.6 319.2 34.2 314.2M118.0 299.1C121.2 296.5 124.8 294.9 128.6 293.8M71.1 331.0C71.8 325.9 78.9 325.8 79.1 320.3M80.8 326.0C85.8 324.3 90.7 322.5 93.0 317.0M84.6 301.0C87.7 301.1 89.8 298.5 92.7 298.4" stroke="#978540" stroke-width="3.2" fill="none" stroke-linecap="round"/>
<path d="M87.0 326.6C92.1 328.5 95.6 323.2 100.4 323.7M20.3 325.4C27.3 324.6 30.6 319.2 34.2 314.2M118.0 299.1C121.2 296.5 124.8 294.9 128.6 293.8M71.1 331.0C71.8 325.9 78.9 325.8 79.1 320.3M80.8 326.0C85.8 324.3 90.7 322.5 93.0 317.0M84.6 301.0C87.7 301.1 89.8 298.5 92.7 298.4" stroke="#c8b466" stroke-width="1.0" fill="none" stroke-linecap="round"/>
<path d="M103.0 290.3C105.2 287.1 108.6 287.0 112.1 286.9M120.0 310.3C126.4 311.6 128.8 304.2 134.5 303.7M99.6 341.0C103.4 340.2 107.4 341.4 110.9 339.2M41.1 317.9C45.7 314.2 52.0 315.8 56.8 312.7M36.7 292.2C41.4 290.9 46.7 290.7 49.6 285.6M29.7 321.4C33.8 321.7 35.1 316.5 39.1 316.6" stroke="#16140a" stroke-width="4.6" fill="none" stroke-linecap="round"/>
<path d="M103.0 290.3C105.2 287.1 108.6 287.0 112.1 286.9M120.0 310.3C126.4 311.6 128.8 304.2 134.5 303.7M99.6 341.0C103.4 340.2 107.4 341.4 110.9 339.2M41.1 317.9C45.7 314.2 52.0 315.8 56.8 312.7M36.7 292.2C41.4 290.9 46.7 290.7 49.6 285.6M29.7 321.4C33.8 321.7 35.1 316.5 39.1 316.6" stroke="#978540" stroke-width="3.2" fill="none" stroke-linecap="round"/>
<path d="M103.0 290.3C105.2 287.1 108.6 287.0 112.1 286.9M120.0 310.3C126.4 311.6 128.8 304.2 134.5 303.7M99.6 341.0C103.4 340.2 107.4 341.4 110.9 339.2M41.1 317.9C45.7 314.2 52.0 315.8 56.8 312.7M36.7 292.2C41.4 290.9 46.7 290.7 49.6 285.6M29.7 321.4C33.8 321.7 35.1 316.5 39.1 316.6" stroke="#c8b466" stroke-width="1.0" fill="none" stroke-linecap="round"/>
<path d="M42.4 283.1C46.4 279.8 52.6 283.2 56.3 278.8M91.8 295.7C97.3 294.1 102.8 298.6 108.3 295.6M25.2 307.1C29.3 302.6 34.8 300.3 40.3 298.2M35.4 343.9C38.4 339.2 43.6 336.6 47.2 332.5M123.7 300.8C128.3 299.4 132.2 296.3 136.8 294.9M93.3 304.5C95.5 302.9 97.3 300.9 98.9 298.8" stroke="#16140a" stroke-width="4.6" fill="none" stroke-linecap="round"/>
<path d="M42.4 283.1C46.4 279.8 52.6 283.2 56.3 278.8M91.8 295.7C97.3 294.1 102.8 298.6 108.3 295.6M25.2 307.1C29.3 302.6 34.8 300.3 40.3 298.2M35.4 343.9C38.4 339.2 43.6 336.6 47.2 332.5M123.7 300.8C128.3 299.4 132.2 296.3 136.8 294.9M93.3 304.5C95.5 302.9 97.3 300.9 98.9 298.8" stroke="#978540" stroke-width="3.2" fill="none" stroke-linecap="round"/>
<path d="M42.4 283.1C46.4 279.8 52.6 283.2 56.3 278.8M91.8 295.7C97.3 294.1 102.8 298.6 108.3 295.6M25.2 307.1C29.3 302.6 34.8 300.3 40.3 298.2M35.4 343.9C38.4 339.2 43.6 336.6 47.2 332.5M123.7 300.8C128.3 299.4 132.2 296.3 136.8 294.9M93.3 304.5C95.5 302.9 97.3 300.9 98.9 298.8" stroke="#c8b466" stroke-width="1.0" fill="none" stroke-linecap="round"/>
<path d="M113.5 292.2C117.6 291.2 122.2 291.9 125.6 288.8M76.5 314.0C80.1 314.7 82.6 312.2 85.6 311.1M13.6 317.6C19.5 316.9 25.4 315.4 31.4 317.5M131.6 302.2C133.6 299.3 136.5 297.1 137.8 293.8M16.8 306.1C20.1 303.4 24.5 305.6 28.0 303.6M65.6 334.2C70.5 331.9 76.9 332.8 80.0 327.0" stroke="#16140a" stroke-width="4.6" fill="none" stroke-linecap="round"/>
<path d="M113.5 292.2C117.6 291.2 122.2 291.9 125.6 288.8M76.5 314.0C80.1 314.7 82.6 312.2 85.6 311.1M13.6 317.6C19.5 316.9 25.4 315.4 31.4 317.5M131.6 302.2C133.6 299.3 136.5 297.1 137.8 293.8M16.8 306.1C20.1 303.4 24.5 305.6 28.0 303.6M65.6 334.2C70.5 331.9 76.9 332.8 80.0 327.0" stroke="#978540" stroke-width="3.2" fill="none" stroke-linecap="round"/>
<path d="M113.5 292.2C117.6 291.2 122.2 291.9 125.6 288.8M76.5 314.0C80.1 314.7 82.6 312.2 85.6 311.1M13.6 317.6C19.5 316.9 25.4 315.4 31.4 317.5M131.6 302.2C133.6 299.3 136.5 297.1 137.8 293.8M16.8 306.1C20.1 303.4 24.5 305.6 28.0 303.6M65.6 334.2C70.5 331.9 76.9 332.8 80.0 327.0" stroke="#c8b466" stroke-width="1.0" fill="none" stroke-linecap="round"/>
<path d="M115.3 336.3C119.2 333.4 122.4 329.4 128.0 330.0M124.8 343.0C130.3 342.4 136.4 345.0 141.1 340.0M70.5 356.5C73.3 353.8 77.0 351.7 78.1 347.5M76.7 341.6C82.1 340.8 85.4 336.9 89.1 333.6M10.7 331.2C11.2 327.0 16.2 326.1 17.2 322.3M30.2 336.1C33.1 334.1 36.2 332.3 36.7 328.4" stroke="#16140a" stroke-width="4.6" fill="none" stroke-linecap="round"/>
<path d="M115.3 336.3C119.2 333.4 122.4 329.4 128.0 330.0M124.8 343.0C130.3 342.4 136.4 345.0 141.1 340.0M70.5 356.5C73.3 353.8 77.0 351.7 78.1 347.5M76.7 341.6C82.1 340.8 85.4 336.9 89.1 333.6M10.7 331.2C11.2 327.0 16.2 326.1 17.2 322.3M30.2 336.1C33.1 334.1 36.2 332.3 36.7 328.4" stroke="#978540" stroke-width="3.2" fill="none" stroke-linecap="round"/>
<path d="M115.3 336.3C119.2 333.4 122.4 329.4 128.0 330.0M124.8 343.0C130.3 342.4 136.4 345.0 141.1 340.0M70.5 356.5C73.3 353.8 77.0 351.7 78.1 347.5M76.7 341.6C82.1 340.8 85.4 336.9 89.1 333.6M10.7 331.2C11.2 327.0 16.2 326.1 17.2 322.3M30.2 336.1C33.1 334.1 36.2 332.3 36.7 328.4" stroke="#c8b466" stroke-width="1.0" fill="none" stroke-linecap="round"/>
<path d="M17.4 327.9C19.9 322.9 23.7 320.0 29.5 320.5M18.4 349.5C21.5 345.1 27.4 346.5 31.1 343.2M126.9 295.4C133.0 298.5 137.9 294.1 143.2 292.7M93.1 306.9C96.9 307.0 100.6 306.3 104.1 305.0M138.6 341.4C140.2 338.5 142.5 336.2 145.0 334.0M102.6 300.3C106.0 297.5 110.7 297.9 114.2 295.5" stroke="#16140a" stroke-width="4.6" fill="none" stroke-linecap="round"/>
<path d="M17.4 327.9C19.9 322.9 23.7 320.0 29.5 320.5M18.4 349.5C21.5 345.1 27.4 346.5 31.1 343.2M126.9 295.4C133.0 298.5 137.9 294.1 143.2 292.7M93.1 306.9C96.9 307.0 100.6 306.3 104.1 305.0M138.6 341.4C140.2 338.5 142.5 336.2 145.0 334.0M102.6 300.3C106.0 297.5 110.7 297.9 114.2 295.5" stroke="#978540" stroke-width="3.2" fill="none" stroke-linecap="round"/>
<path d="M17.4 327.9C19.9 322.9 23.7 320.0 29.5 320.5M18.4 349.5C21.5 345.1 27.4 346.5 31.1 343.2M126.9 295.4C133.0 298.5 137.9 294.1 143.2 292.7M93.1 306.9C96.9 307.0 100.6 306.3 104.1 305.0M138.6 341.4C140.2 338.5 142.5 336.2 145.0 334.0M102.6 300.3C106.0 297.5 110.7 297.9 114.2 295.5" stroke="#c8b466" stroke-width="1.0" fill="none" stroke-linecap="round"/>
<path d="M65.3 356.4C70.0 353.1 72.8 347.9 76.9 344.0M18.3 330.5C22.3 331.1 25.9 329.5 29.7 328.8M19.9 347.0C24.3 345.8 28.2 343.9 30.2 339.4M120.7 308.7C123.9 308.6 127.0 307.7 130.2 307.7M122.3 336.3C127.1 333.6 132.5 332.8 137.7 331.7M21.6 307.4C23.4 301.8 31.2 302.7 32.8 296.9" stroke="#16140a" stroke-width="4.6" fill="none" stroke-linecap="round"/>
<path d="M65.3 356.4C70.0 353.1 72.8 347.9 76.9 344.0M18.3 330.5C22.3 331.1 25.9 329.5 29.7 328.8M19.9 347.0C24.3 345.8 28.2 343.9 30.2 339.4M120.7 308.7C123.9 308.6 127.0 307.7 130.2 307.7M122.3 336.3C127.1 333.6 132.5 332.8 137.7 331.7M21.6 307.4C23.4 301.8 31.2 302.7 32.8 296.9" stroke="#978540" stroke-width="3.2" fill="none" stroke-linecap="round"/>
<path d="M65.3 356.4C70.0 353.1 72.8 347.9 76.9 344.0M18.3 330.5C22.3 331.1 25.9 329.5 29.7 328.8M19.9 347.0C24.3 345.8 28.2 343.9 30.2 339.4M120.7 308.7C123.9 308.6 127.0 307.7 130.2 307.7M122.3 336.3C127.1 333.6 132.5 332.8 137.7 331.7M21.6 307.4C23.4 301.8 31.2 302.7 32.8 296.9" stroke="#c8b466" stroke-width="1.0" fill="none" stroke-linecap="round"/>
<path d="M87.2 314.8C89.9 311.6 90.0 306.7 94.2 304.4M136.9 308.1C139.3 305.4 141.8 302.7 145.4 301.4M120.7 285.6C124.1 282.4 126.8 278.4 131.1 276.2M71.9 284.9C76.0 283.1 77.4 278.7 80.6 276.1M62.8 331.0C64.4 326.3 69.5 325.0 72.0 321.1M79.2 331.0C85.2 333.6 89.0 326.6 94.7 327.5" stroke="#0e0c06" stroke-width="4.0" fill="none" stroke-linecap="round"/>
<path d="M87.2 314.8C89.9 311.6 90.0 306.7 94.2 304.4M136.9 308.1C139.3 305.4 141.8 302.7 145.4 301.4M120.7 285.6C124.1 282.4 126.8 278.4 131.1 276.2M71.9 284.9C76.0 283.1 77.4 278.7 80.6 276.1M62.8 331.0C64.4 326.3 69.5 325.0 72.0 321.1M79.2 331.0C85.2 333.6 89.0 326.6 94.7 327.5" stroke="#2a2412" stroke-width="3.0" fill="none" stroke-linecap="round"/>
<path d="M87.2 314.8C89.9 311.6 90.0 306.7 94.2 304.4M136.9 308.1C139.3 305.4 141.8 302.7 145.4 301.4M120.7 285.6C124.1 282.4 126.8 278.4 131.1 276.2M71.9 284.9C76.0 283.1 77.4 278.7 80.6 276.1M62.8 331.0C64.4 326.3 69.5 325.0 72.0 321.1M79.2 331.0C85.2 333.6 89.0 326.6 94.7 327.5" stroke="#3a321a" stroke-width="1.0" fill="none" stroke-linecap="round"/>
<path d="M133.9 314.7C138.8 313.9 142.0 311.2 143.2 306.3M114.3 303.5C116.8 301.2 118.8 298.5 119.8 295.2M16.7 280.3C20.2 277.3 24.2 279.3 28.0 279.1M20.9 343.6C26.5 343.6 27.4 336.3 32.8 335.9M36.4 341.4C39.6 338.6 44.0 338.1 47.3 335.5M132.7 354.0C137.9 349.7 143.6 347.7 150.2 350.8" stroke="#0e0c06" stroke-width="4.0" fill="none" stroke-linecap="round"/>
<path d="M133.9 314.7C138.8 313.9 142.0 311.2 143.2 306.3M114.3 303.5C116.8 301.2 118.8 298.5 119.8 295.2M16.7 280.3C20.2 277.3 24.2 279.3 28.0 279.1M20.9 343.6C26.5 343.6 27.4 336.3 32.8 335.9M36.4 341.4C39.6 338.6 44.0 338.1 47.3 335.5M132.7 354.0C137.9 349.7 143.6 347.7 150.2 350.8" stroke="#2a2412" stroke-width="3.0" fill="none" stroke-linecap="round"/>
<path d="M133.9 314.7C138.8 313.9 142.0 311.2 143.2 306.3M114.3 303.5C116.8 301.2 118.8 298.5 119.8 295.2M16.7 280.3C20.2 277.3 24.2 279.3 28.0 279.1M20.9 343.6C26.5 343.6 27.4 336.3 32.8 335.9M36.4 341.4C39.6 338.6 44.0 338.1 47.3 335.5M132.7 354.0C137.9 349.7 143.6 347.7 150.2 350.8" stroke="#3a321a" stroke-width="1.0" fill="none" stroke-linecap="round"/>
<path d="M117.5 299.3C122.6 299.5 124.3 294.4 128.1 292.3M25.8 295.9C30.5 292.0 37.1 297.5 41.6 292.8M57.1 336.7C61.8 333.8 64.6 327.7 71.3 328.3M81.6 346.4C85.5 342.6 89.2 338.6 94.2 336.1M55.4 297.8C60.7 295.2 66.4 293.2 69.9 287.9M31.7 308.8C33.6 304.3 39.6 306.8 41.9 302.9" stroke="#0e0c06" stroke-width="4.0" fill="none" stroke-linecap="round"/>
<path d="M117.5 299.3C122.6 299.5 124.3 294.4 128.1 292.3M25.8 295.9C30.5 292.0 37.1 297.5 41.6 292.8M57.1 336.7C61.8 333.8 64.6 327.7 71.3 328.3M81.6 346.4C85.5 342.6 89.2 338.6 94.2 336.1M55.4 297.8C60.7 295.2 66.4 293.2 69.9 287.9M31.7 308.8C33.6 304.3 39.6 306.8 41.9 302.9" stroke="#2a2412" stroke-width="3.0" fill="none" stroke-linecap="round"/>
<path d="M117.5 299.3C122.6 299.5 124.3 294.4 128.1 292.3M25.8 295.9C30.5 292.0 37.1 297.5 41.6 292.8M57.1 336.7C61.8 333.8 64.6 327.7 71.3 328.3M81.6 346.4C85.5 342.6 89.2 338.6 94.2 336.1M55.4 297.8C60.7 295.2 66.4 293.2 69.9 287.9M31.7 308.8C33.6 304.3 39.6 306.8 41.9 302.9" stroke="#3a321a" stroke-width="1.0" fill="none" stroke-linecap="round"/>
<path d="M25.0 331.4C28.5 329.7 32.1 329.6 35.9 330.1M79.6 356.4C83.3 354.8 82.6 350.1 85.6 347.9M96.1 336.3C98.3 334.3 100.1 332.2 99.8 328.9M99.7 316.4C99.9 311.3 103.5 308.4 106.9 305.3M12.6 320.2C14.7 316.8 17.1 314.0 21.4 313.8M11.7 289.9C14.5 290.5 17.2 289.1 19.9 288.9" stroke="#0e0c06" stroke-width="4.0" fill="none" stroke-linecap="round"/>
<path d="M25.0 331.4C28.5 329.7 32.1 329.6 35.9 330.1M79.6 356.4C83.3 354.8 82.6 350.1 85.6 347.9M96.1 336.3C98.3 334.3 100.1 332.2 99.8 328.9M99.7 316.4C99.9 311.3 103.5 308.4 106.9 305.3M12.6 320.2C14.7 316.8 17.1 314.0 21.4 313.8M11.7 289.9C14.5 290.5 17.2 289.1 19.9 288.9" stroke="#2a2412" stroke-width="3.0" fill="none" stroke-linecap="round"/>
<path d="M25.0 331.4C28.5 329.7 32.1 329.6 35.9 330.1M79.6 356.4C83.3 354.8 82.6 350.1 85.6 347.9M96.1 336.3C98.3 334.3 100.1 332.2 99.8 328.9M99.7 316.4C99.9 311.3 103.5 308.4 106.9 305.3M12.6 320.2C14.7 316.8 17.1 314.0 21.4 313.8M11.7 289.9C14.5 290.5 17.2 289.1 19.9 288.9" stroke="#3a321a" stroke-width="1.0" fill="none" stroke-linecap="round"/>
<path d="M85.6 303.8C90.8 302.4 96.1 302.0 101.5 301.9M129.2 292.2C133.9 291.6 138.4 290.3 143.0 289.0M86.0 287.1C87.3 283.1 89.3 279.7 93.6 278.4M102.1 312.9C106.7 313.9 109.0 308.6 113.2 308.7M75.6 313.0C78.7 312.2 81.5 310.9 84.5 310.2M90.4 298.2C93.6 292.0 102.7 295.4 105.6 288.7" stroke="#0e0c06" stroke-width="4.0" fill="none" stroke-linecap="round"/>
<path d="M85.6 303.8C90.8 302.4 96.1 302.0 101.5 301.9M129.2 292.2C133.9 291.6 138.4 290.3 143.0 289.0M86.0 287.1C87.3 283.1 89.3 279.7 93.6 278.4M102.1 312.9C106.7 313.9 109.0 308.6 113.2 308.7M75.6 313.0C78.7 312.2 81.5 310.9 84.5 310.2M90.4 298.2C93.6 292.0 102.7 295.4 105.6 288.7" stroke="#2a2412" stroke-width="3.0" fill="none" stroke-linecap="round"/>
<path d="M85.6 303.8C90.8 302.4 96.1 302.0 101.5 301.9M129.2 292.2C133.9 291.6 138.4 290.3 143.0 289.0M86.0 287.1C87.3 283.1 89.3 279.7 93.6 278.4M102.1 312.9C106.7 313.9 109.0 308.6 113.2 308.7M75.6 313.0C78.7 312.2 81.5 310.9 84.5 310.2M90.4 298.2C93.6 292.0 102.7 295.4 105.6 288.7" stroke="#3a321a" stroke-width="1.0" fill="none" stroke-linecap="round"/>
<path d="M135.6 315.0C140.4 312.8 137.4 305.9 142.4 303.9M107.4 340.8C107.9 335.6 110.2 331.5 115.1 329.1M76.8 303.2C80.0 299.7 86.0 302.0 88.8 297.6M8.8 342.6C13.3 339.0 16.3 334.0 20.4 330.2M36.5 346.8C42.4 346.2 48.8 347.6 53.6 342.6M126.1 332.0C128.7 328.0 134.4 327.1 136.3 322.3" stroke="#0e0c06" stroke-width="4.0" fill="none" stroke-linecap="round"/>
<path d="M135.6 315.0C140.4 312.8 137.4 305.9 142.4 303.9M107.4 340.8C107.9 335.6 110.2 331.5 115.1 329.1M76.8 303.2C80.0 299.7 86.0 302.0 88.8 297.6M8.8 342.6C13.3 339.0 16.3 334.0 20.4 330.2M36.5 346.8C42.4 346.2 48.8 347.6 53.6 342.6M126.1 332.0C128.7 328.0 134.4 327.1 136.3 322.3" stroke="#2a2412" stroke-width="3.0" fill="none" stroke-linecap="round"/>
<path d="M135.6 315.0C140.4 312.8 137.4 305.9 142.4 303.9M107.4 340.8C107.9 335.6 110.2 331.5 115.1 329.1M76.8 303.2C80.0 299.7 86.0 302.0 88.8 297.6M8.8 342.6C13.3 339.0 16.3 334.0 20.4 330.2M36.5 346.8C42.4 346.2 48.8 347.6 53.6 342.6M126.1 332.0C128.7 328.0 134.4 327.1 136.3 322.3" stroke="#3a321a" stroke-width="1.0" fill="none" stroke-linecap="round"/>
<path d="M81.0 347.6C85.6 344.3 90.9 344.2 96.2 344.4M19.3 306.1C22.7 304.1 21.9 299.0 25.7 297.2M129.1 351.9C132.1 349.7 135.6 349.5 139.0 348.5M89.7 352.2C92.3 350.3 90.6 346.0 93.9 344.4" stroke="#0e0c06" stroke-width="4.0" fill="none" stroke-linecap="round"/>
<path d="M81.0 347.6C85.6 344.3 90.9 344.2 96.2 344.4M19.3 306.1C22.7 304.1 21.9 299.0 25.7 297.2M129.1 351.9C132.1 349.7 135.6 349.5 139.0 348.5M89.7 352.2C92.3 350.3 90.6 346.0 93.9 344.4" stroke="#2a2412" stroke-width="3.0" fill="none" stroke-linecap="round"/>
<path d="M81.0 347.6C85.6 344.3 90.9 344.2 96.2 344.4M19.3 306.1C22.7 304.1 21.9 299.0 25.7 297.2M129.1 351.9C132.1 349.7 135.6 349.5 139.0 348.5M89.7 352.2C92.3 350.3 90.6 346.0 93.9 344.4" stroke="#3a321a" stroke-width="1.0" fill="none" stroke-linecap="round"/>
<circle cx="122.8" cy="297.5" r="0.8" fill="#f0ecd8"/>
<circle cx="132.3" cy="316.6" r="0.8" fill="#f0ecd8"/>
<circle cx="89.7" cy="340.3" r="0.8" fill="#f0ecd8"/>
<circle cx="114.7" cy="312.8" r="0.8" fill="#f0ecd8"/>
<circle cx="72.9" cy="337.8" r="0.8" fill="#f0ecd8"/>
<circle cx="49.5" cy="305.4" r="0.8" fill="#f0ecd8"/>
<circle cx="120.2" cy="344.1" r="0.8" fill="#f0ecd8"/>
<circle cx="115.2" cy="308.0" r="0.8" fill="#f0ecd8"/>
<circle cx="59.4" cy="292.0" r="0.8" fill="#f0ecd8"/>
<circle cx="115.7" cy="288.2" r="0.8" fill="#f0ecd8"/>
<circle cx="41.1" cy="286.6" r="0.8" fill="#f0ecd8"/>
<circle cx="72.6" cy="351.7" r="0.8" fill="#f0ecd8"/>
<circle cx="28.1" cy="301.9" r="0.8" fill="#f0ecd8"/>
<circle cx="50.8" cy="332.0" r="0.8" fill="#f0ecd8"/>
<circle cx="61.0" cy="296.7" r="0.8" fill="#f0ecd8"/>
<circle cx="99.5" cy="345.3" r="0.8" fill="#f0ecd8"/>
<circle cx="39.0" cy="289.2" r="0.8" fill="#f0ecd8"/>
<circle cx="66.9" cy="347.6" r="0.8" fill="#f0ecd8"/>
<circle cx="26.8" cy="294.3" r="0.8" fill="#f0ecd8"/>
<circle cx="94.2" cy="336.0" r="0.8" fill="#f0ecd8"/>
<circle cx="72.0" cy="288.0" r="0.8" fill="#f0ecd8"/>
<circle cx="83.3" cy="291.7" r="0.8" fill="#f0ecd8"/>
<circle cx="28.5" cy="288.8" r="0.8" fill="#f0ecd8"/>
<circle cx="127.8" cy="291.9" r="0.8" fill="#f0ecd8"/>
<circle cx="74.6" cy="340.0" r="0.8" fill="#f0ecd8"/>
</g></g>
<path d="M158.5,289 L140.5,350 Q139,363 151,363 L189,363 Q201,363 199.5,350 L181,289 Z" fill="#eef2f8" stroke="#555" stroke-width="1"/>
<path d="M183.5,296 L198,296 Q201,296 201,299.3 Q201,302.7 198,302.7 L185.5,302.7" fill="#eef2f8" stroke="#555" stroke-width="0.9"/>
<rect x="165.2" y="289" width="8" height="8.5" fill="#eef2f8" stroke="#777" stroke-width="0.7"/>
<path d="M155.2,267 L155.2,286 Q169.2,294 183.2,286 L183.2,267 Z" fill="url(#gStop)"/>
<ellipse cx="169.2" cy="267" rx="14" ry="5.8" fill="#5a5a5a"/>
<ellipse cx="169.2" cy="267.5" rx="10.5" ry="4.2" fill="#2e2e2e"/>
<rect x="165.2" y="252" width="8" height="21" fill="#f4f4f4" stroke="#666" stroke-width="0.7"/>
<path d="M132.3,207 L132.3,237.8 C133,250 160,254 164.8,257.5 L173.6,257.5 C179,254 206,250 206.9,237.8 L206.9,207 Z" fill="#f1f1f1" stroke="#555" stroke-width="1"/>
<ellipse cx="169.6" cy="207.6" rx="37.3" ry="20" fill="#f6f6f6" stroke="#555" stroke-width="1"/>
<clipPath id="liq"><ellipse cx="169.6" cy="207.6" rx="37.3" ry="20"/></clipPath>
<ellipse cx="170" cy="226" rx="28" ry="10" fill="#0c0c0c" clip-path="url(#liq)"/>
<linearGradient id="gRA" x1="160" y1="0" x2="85" y2="0" gradientUnits="userSpaceOnUse"><stop offset="0" stop-color="#ff6060" stop-opacity="0.15"/><stop offset="0.35" stop-color="#f66" stop-opacity="0.6"/><stop offset="1" stop-color="#f41414"/></linearGradient>
<path d="M163,208.5 C135,208 104,221 83,246.5 L96,252.5 C112,234 137,216.5 163,212.5 Z" fill="url(#gRA)"/>
<polygon points="77,243 102,255.5 78,265" fill="#f21818"/>
<g opacity="0.995">
<text x="37" y="146" font-size="12.7" fill="#404040" stroke="#404040" stroke-width="0.3" textLength="48" lengthAdjust="spacingAndGlyphs">MWCNT</text>
<text x="148" y="146" font-size="12.8" fill="#404040" stroke="#404040" stroke-width="0.3" textLength="34" lengthAdjust="spacingAndGlyphs">Sulfur</text>
<text x="333" y="145.5" font-size="12" fill="#404040" stroke="#404040" stroke-width="0.3" textLength="67" lengthAdjust="spacingAndGlyphs">MWCNT@S</text>
<text x="220.5" y="88.7" font-size="10.8" fill="#404040" stroke="#404040" stroke-width="0.3" textLength="92.5" lengthAdjust="spacingAndGlyphs">Mechanical mixing</text>
<text x="229" y="118.8" font-size="10.8" fill="#a84a5a" stroke="#a84a5a" stroke-width="0.3" textLength="75" lengthAdjust="spacingAndGlyphs">Heat treatment</text>
<text x="225" y="247" font-size="10.8" fill="#404040" stroke="#404040" stroke-width="0.3" textLength="93" lengthAdjust="spacingAndGlyphs">Mechanical mixing</text>
<text x="230" y="277" font-size="10.8" fill="#404040" stroke="#404040" stroke-width="0.3" textLength="83" lengthAdjust="spacingAndGlyphs">Vaccum filtration</text>
<text x="345.2" y="318" font-size="12.8" fill="#404040" stroke="#404040" stroke-width="0.3" textLength="42.6" lengthAdjust="spacingAndGlyphs">SWCNT</text>
<text x="80.6" y="207.3" font-size="12.7" fill="#404040" stroke="#404040" stroke-width="0.3" textLength="37.5" lengthAdjust="spacingAndGlyphs">Drying</text>
<text x="451" y="176.2" font-size="12.6" fill="#404040" stroke="#404040" stroke-width="0.3" textLength="92" lengthAdjust="spacingAndGlyphs">Low Ox-SWCNT</text>
<text x="452.2" y="375.7" font-size="12.6" fill="#404040" stroke="#404040" stroke-width="0.3" textLength="96.2" lengthAdjust="spacingAndGlyphs">High Ox-SWCNT</text>
<text x="719.7" y="187.8" font-size="12" fill="#fff" stroke="#fff" stroke-width="0.3" textLength="38.8" lengthAdjust="spacingAndGlyphs">500nm</text>
<text x="719.4" y="379.8" font-size="12" fill="#fff" stroke="#fff" stroke-width="0.3" textLength="39.6" lengthAdjust="spacingAndGlyphs">500nm</text>
<text x="592.7" y="52.5" font-size="15.5" fill="#fff" stroke="#fff" stroke-width="0.25" textLength="18.8" lengthAdjust="spacingAndGlyphs">(b)</text>
<text x="592.6" y="251" font-size="15.5" fill="#fff" stroke="#fff" stroke-width="0.25" textLength="18.4" lengthAdjust="spacingAndGlyphs">(c)</text>
<rect x="701" y="198.8" width="75.5" height="2" fill="#fff"/>
<rect x="701" y="391" width="75.7" height="2" fill="#fff"/>
</g>
<rect x="211" y="99.8" width="107" height="3.8" fill="#000"/>
<polygon points="316.8,96.6 324.8,101.7 316.8,106.8 318.5,101.7" fill="#000"/>
<rect x="219" y="257.4" width="107.4" height="3.8" fill="#000"/>
<polygon points="220.8,254.2 213,259.3 220.8,264.4 219.3,259.3" fill="#000"/>
<rect x="104.4" y="97.9" width="17.5" height="6.5" fill="#000"/><rect x="111.6" y="91" width="3.4" height="20.7" fill="#000"/>
<rect x="358" y="181.8" width="17.7" height="6.9" fill="#000"/><rect x="365" y="175" width="3.3" height="20.7" fill="#000"/>
</svg>
</body></html>
